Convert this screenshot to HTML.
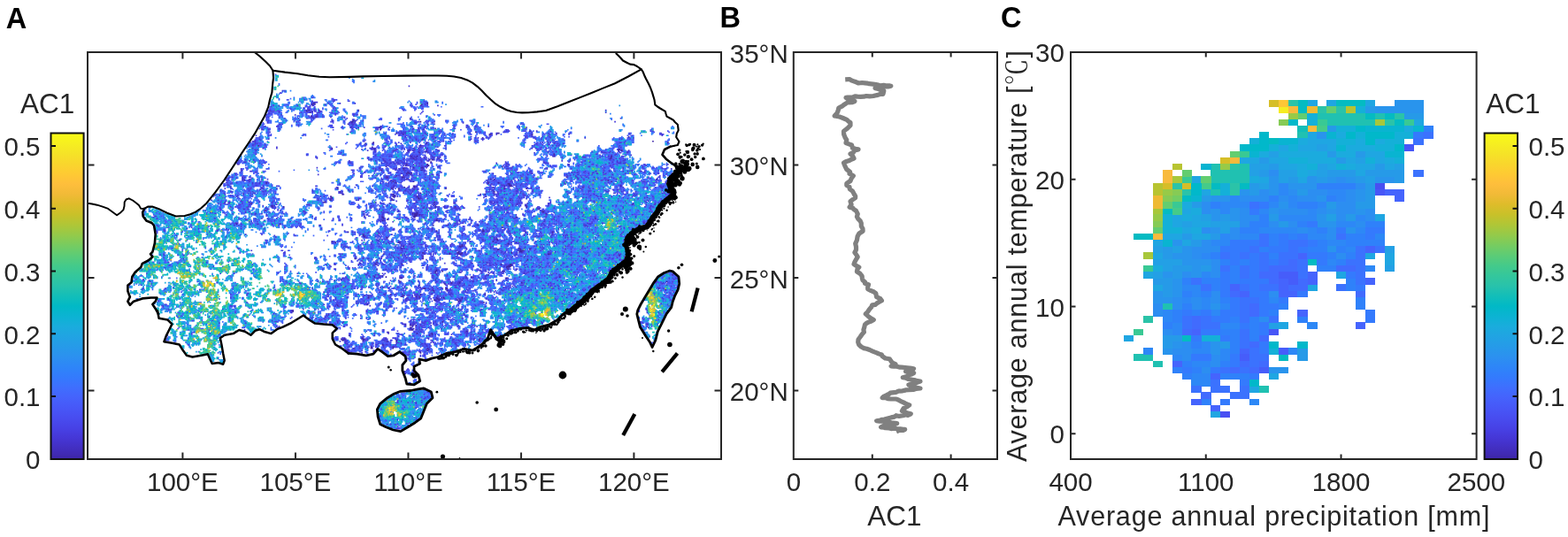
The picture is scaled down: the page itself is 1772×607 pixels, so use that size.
<!DOCTYPE html>
<html lang="en"><head><meta charset="utf-8"><title>AC1 figure</title>
<style>
html,body{margin:0;padding:0;background:#fff;}
body{width:1772px;height:607px;overflow:hidden;}
svg{display:block;font-family:"Liberation Sans", Arial, Helvetica, sans-serif;fill:#262626;}
</style></head>
<body>
<svg width="1772" height="607" viewBox="0 0 1772 607">
<rect width="1772" height="607" fill="#fff"/>
<clipPath id="mc"><rect x="99.0" y="59.0" width="716.0" height="460.0"/></clipPath><g clip-path="url(#mc)"><g transform="translate(99.65 59.65) scale(1.3)" fill="none" stroke-width="1.3" stroke-linecap="square"><path stroke="#2f81fa" d="M227 22h0m11 0h0M230 23h0M230 24h1M248 25h0M231 26h0M166 28h0M170 33h0m6 0h0M169 34h0m3 0h0M166 36h0M195 37h0M194 38h1M189 39h0m5 0h0m3 0h0M184 40h0m2 0h2m2 0h0m2 0h0M166 41h0m18 0h0m5 0h0m17 0h0m86 0h0M184 42h0m9 0h0m14 0h0m2 0h0m3 0h0m77 0h0m5 0h0m9 0h0M160 43h0m14 0h0m20 0h0m16 0h1m20 0h0m59 0h0m13 0h0M174 44h0m17 0h0m20 0h0m6 0h1m72 0h0m18 0h0M159 45h1m10 0h0m11 0h1m2 0h0m23 0h0m3 0h0m2 0h0M159 46h1m3 0h0m6 0h0m11 0h1m25 0h0M160 47h0m6 0h3m7 0h0m37 0h0m59 0h0m17 0h0m4 0h1m2 0h0M159 48h1m2 0h0m11 0h1m2 0h1m2 0h0m6 0h0m29 0h0m3 0h0m55 0h0m17 0h0M160 49h2m4 0h0m13 0h0m8 0h0m13 0h0m14 0h0M167 50h1m9 0h0m7 0h0m29 0h0m3 0h0m7 0h0m11 0h0M177 51h0m8 0h0m2 0h0m28 0h0m8 0h0M214 52h0m10 0h0M167 53h1m32 0h0m3 0h0m10 0h0m241 0h0M158 54h0m8 0h1m18 0h0m2 0h0m2 0h0m13 0h1m7 0h0m27 0h0M168 55h0m16 0h0m7 0h0m12 0h0m2 0h0m6 0h1m9 0h0m16 0h0m3 0h0m65 0h0M167 56h0m11 0h0m4 0h0m2 0h0m2 0h0m4 0h1m11 0h1m15 0h0m3 0h0m18 0h0m55 0h0m170 0h0M166 57h1m2 0h1m8 0h0m3 0h0m36 0h1m23 0h0m55 0h1M157 58h0m11 0h0m4 0h0m6 0h1m2 0h1m2 0h0m33 0h0m2 0h0m52 0h0m11 0h0m6 0h0m36 0h1M159 59h0m6 0h0m6 0h0m46 0h1m19 0h1m32 0h0m28 0h0m3 0h0m11 0h0m13 0h0m10 0h1M158 60h0m5 0h2m4 0h1m2 0h0m20 0h0m39 0h0m7 0h1m43 0h0m16 0h0m14 0h0m6 0h3m13 0h1M166 61h3m14 0h0m40 0h0m14 0h1m39 0h0m5 0h0m4 0h0m6 0h0m25 0h0m2 0h1m16 0h0m25 0h0m17 0h0M185 62h1m5 0h0m42 0h0m5 0h1m38 0h0m3 0h0m4 0h0m9 0h0m3 0h0m2 0h2m18 0h2m13 0h0m15 0h0m117 0h0M184 63h1m47 0h0m4 0h1m2 0h0m33 0h0m2 0h1m4 0h0m2 0h0m6 0h1m3 0h0m4 0h1m4 0h0m17 0h0m27 0h0m4 0h0m46 0h0M177 64h0m55 0h1m24 0h1m14 0h0m2 0h0m8 0h0m6 0h0m43 0h0m44 0h0m2 0h0m89 0h0M150 65h0m4 0h1m56 0h0m21 0h1m40 0h0m3 0h0m12 0h0m2 0h0m9 0h0m40 0h0m35 0h0m134 0h1M153 66h1m68 0h0m13 0h0m42 0h1m3 0h0m9 0h0m5 0h1m5 0h0m3 0h1m12 0h0m24 0h0m34 0h0m3 0h1m23 0h0m89 0h0M167 67h0m97 0h2m10 0h0m4 0h1m4 0h0m15 0h0m3 0h0m2 0h0m10 0h0m2 0h0m13 0h0m6 0h0m5 0h1m38 0h0m23 0h0m14 0h0m45 0h0m2 0h0M250 68h0m14 0h2m2 0h0m5 0h0m8 0h0m2 0h0m19 0h0m6 0h0m24 0h0m6 0h0m62 0h1m89 0h0M151 69h0m4 0h0m74 0h2m26 0h0m11 0h0m9 0h1m5 0h0m2 0h0m9 0h0m7 0h1m2 0h0m36 0h0m2 0h1m48 0h1m3 0h0m4 0h1m3 0h0m88 0h0M150 70h0m56 0h0m24 0h1m9 0h1m18 0h0m21 0h0m6 0h1m16 0h0m5 0h0m7 0h0m15 0h0m8 0h0m5 0h0m37 0h0m3 0h0m12 0h0m6 0h0m79 0h0m10 0h1M156 71h0m53 0h0m41 0h0m5 0h0m2 0h2m18 0h1m12 0h0m2 0h0m5 0h0m4 0h1m3 0h0m7 0h0m2 0h1m3 0h0m95 0h0m77 0h0M150 72h1m5 0h0m30 0h0m55 0h0m13 0h2m2 0h1m13 0h0m7 0h1m7 0h1m4 0h0m11 0h1m6 0h0m4 0h0m69 0h0m13 0h1m9 0h1M150 73h1m5 0h0m84 0h0m17 0h1m2 0h0m21 0h1m4 0h0m2 0h1m2 0h0m2 0h0m4 0h0m6 0h1m5 0h0m2 0h0m7 0h0m14 0h0m51 0h0m9 0h0m16 0h0m24 0h0m41 0h1M149 74h2m12 0h0m22 0h0m73 0h0m21 0h0m10 0h2m2 0h0m14 0h1m3 0h0m81 0h0m3 0h0m5 0h0m4 0h0m5 0h0m54 0h0m2 0h0m7 0h0M150 75h0m129 0h0m9 0h0m11 0h0m6 0h0m26 0h1m61 0h0m2 0h0m4 0h0m3 0h1m3 0h0m3 0h0m2 0h0m2 0h0m45 0h0m3 0h0m2 0h0M149 76h0m58 0h0m57 0h0m11 0h0m4 0h0m2 0h0m18 0h0m2 0h0m6 0h0m83 0h4m5 0h0m4 0h0m8 0h0m2 0h0m13 0h0m36 0h0m5 0h1m2 0h1M150 77h2m122 0h0m5 0h0m3 0h1m2 0h0m14 0h1m2 0h0m9 0h0m2 0h0m26 0h0m51 0h0m2 0h1m2 0h0m5 0h1m2 0h0m2 0h0m4 0h3m14 0h0m40 0h0m6 0h0m2 0h0M144 78h0m8 0h0m85 0h0m49 0h0m6 0h0m8 0h4m7 0h3m63 0h2m31 0h1m2 0h0m52 0h0m2 0h0m35 0h1M140 79h1m7 0h0m6 0h0m88 0h0m15 0h0m5 0h1m15 0h0m7 0h1m13 0h3m3 0h0m7 0h0m25 0h0m40 0h0m33 0h1m55 0h1m2 0h0m3 0h0m31 0h0m2 0h0M155 80h0m80 0h0m21 0h0m22 0h1m3 0h0m23 0h1m70 0h1m15 0h0m11 0h1m2 0h0m6 0h0m47 0h0m3 0h0m2 0h1m3 0h1m35 0h0M141 81h1m13 0h0m82 0h0m3 0h0m29 0h1m2 0h0m8 0h2m14 0h0m3 0h1m3 0h0m2 0h0m72 0h2m14 0h0m2 0h1m6 0h1m9 0h2m41 0h1m3 0h1m5 0h0M139 82h0m3 0h1m3 0h0m4 0h0m2 0h0m101 0h0m12 0h0m4 0h1m7 0h1m17 0h1m2 0h0m88 0h0m9 0h1m9 0h1m6 0h0m31 0h1m15 0h1M138 83h0m6 0h0m2 0h1m7 0h0m107 0h4m2 0h0m5 0h0m25 0h2m104 0h1m40 0h1m8 0h0m12 0h0M143 84h1m2 0h0m95 0h0m21 0h0m3 0h1m20 0h0m4 0h0m8 0h0m2 0h0m84 0h0m22 0h0m40 0h0m9 0h0M141 85h0m2 0h1m4 0h0m72 0h2m17 0h0m21 0h3m22 0h0m18 0h0m94 0h0m5 0h0m3 0h2m3 0h1m32 0h1m2 0h0m2 0h1m4 0h0m2 0h0M140 86h1m2 0h0m4 0h0m72 0h0m2 0h1m31 0h0m9 0h1m3 0h0m35 0h1m93 0h2m4 0h1m4 0h0m2 0h0m3 0h0m32 0h0m7 0h0m3 0h0m2 0h0m2 0h0m8 0h0M206 87h0m12 0h0m4 0h0m30 0h1m7 0h1m2 0h0m7 0h0m2 0h1m17 0h0m14 0h0m86 0h0m6 0h2m5 0h0m3 0h0m4 0h0m27 0h2m3 0h0m12 0h0m3 0h0m9 0h0m5 0h0M139 88h2m2 0h0m79 0h2m29 0h0m4 0h0m2 0h0m8 0h0m4 0h1m37 0h0m85 0h0m4 0h0m3 0h1m6 0h0m4 0h0m25 0h0m11 0h0m4 0h1m2 0h2m10 0h0m4 0h0M137 89h0m4 0h1m82 0h0m27 0h0m2 0h0m25 0h0m22 0h1m3 0h0m94 0h0m9 0h0m3 0h0m4 0h0m24 0h0m3 0h0m19 0h1m7 0h0m2 0h1M133 90h0m9 0h0m69 0h1m41 0h1m6 0h0m5 0h1m6 0h0m3 0h0m27 0h0m109 0h0m2 0h0m11 0h0m8 0h0m2 0h0m3 0h0m6 0h0m3 0h0m2 0h0m11 0h0m2 0h0m10 0h0M142 91h0m2 0h0m2 0h0m114 0h0m5 0h1m5 0h0m2 0h0m2 0h0m35 0h0m85 0h0m16 0h0m2 0h0m9 0h0m11 0h0m5 0h0m4 0h2m2 0h1m2 0h0m9 0h1M132 92h1m3 0h2m8 0h1m105 0h2m9 0h0m6 0h1m2 0h1m122 0h1m4 0h0m19 0h0m4 0h1m2 0h0m5 0h0m3 0h3m5 0h0m15 0h0m10 0h1M131 93h0m5 0h0m2 0h0m7 0h3m2 0h0m69 0h0m30 0h1m4 0h0m14 0h0m3 0h0m22 0h0m97 0h1m4 0h0m30 0h1m2 0h1m2 0h0m4 0h0m2 0h0m2 0h0m3 0h0m5 0h2m9 0h0m2 0h0m8 0h1m11 0h0M136 94h0m10 0h2m2 0h0m96 0h0m2 0h0m3 0h0m17 0h0m24 0h0m20 0h0m115 0h0m7 0h0m3 0h0m3 0h1m7 0h0m2 0h1m6 0h1m3 0h0m3 0h0m3 0h1m2 0h0m9 0h0M138 95h0m13 0h0m99 0h0m5 0h0m6 0h0m22 0h0m4 0h1m103 0h0m8 0h0m27 0h0m9 0h0m2 0h0m2 0h0m12 0h0m3 0h0m4 0h0m8 0h0m12 0h0M140 96h0m8 0h0m2 0h0m64 0h0m51 0h0m17 0h0m143 0h0m8 0h1m4 0h0m10 0h0m6 0h0m4 0h0m10 0h0m35 0h0M137 97h3m8 0h2m64 0h0m13 0h0m24 0h0m4 0h0m26 0h0m22 0h0m78 0h0m18 0h0m27 0h0m2 0h0m2 0h0m7 0h0m4 0h0m6 0h2m4 0h0m8 0h1m3 0h1m10 0h1m2 0h0m7 0h2m12 0h0m7 0h0M139 98h0m2 0h0m8 0h0m2 0h0m76 0h1m16 0h0m9 0h0m3 0h0m25 0h0m77 0h1m17 0h0m19 0h0m4 0h0m2 0h0m10 0h2m17 0h1m6 0h0m4 0h0m2 0h0m6 0h0m14 0h1m2 0h0m7 0h0m3 0h0m2 0h0m8 0h2M141 99h0m7 0h1m2 0h0m93 0h0m2 0h1m3 0h0m14 0h0m3 0h0m19 0h0m71 0h0m2 0h0m11 0h0m2 0h0m4 0h0m38 0h1m5 0h0m2 0h0m2 0h1m7 0h0m2 0h0m4 0h0m3 0h0m4 0h0m13 0h0m6 0h2m3 0h0m3 0h0m2 0h2m5 0h0m3 0h0m2 0h1m2 0h0m7 0h1M141 100h0m3 0h1m2 0h0m10 0h0m81 0h0m27 0h0m21 0h0m19 0h0m47 0h0m5 0h0m3 0h0m3 0h0m8 0h1m23 0h0m3 0h0m13 0h1m7 0h2m2 0h0m2 0h1m9 0h1m6 0h2m3 0h0m6 0h0m5 0h0m2 0h0m7 0h0m3 0h0m6 0h0m4 0h1m3 0h0m13 0h0M145 101h1m59 0h0m81 0h2m82 0h0m35 0h0m14 0h0m2 0h2m4 0h0m5 0h0m13 0h1m3 0h0m2 0h2m5 0h0m8 0h0m7 0h0m2 0h0m5 0h0m15 0h0M145 102h0m91 0h0m10 0h0m3 0h0m39 0h0m10 0h1m2 0h0m46 0h0m17 0h2m60 0h2m3 0h0m3 0h0m9 0h0m3 0h1m3 0h1m7 0h2m5 0h4m5 0h0m17 0h0m4 0h0m12 0h0M144 103h0m93 0h0m6 0h3m11 0h0m3 0h0m29 0h0m75 0h2m13 0h0m17 0h0m2 0h0m24 0h0m6 0h1m15 0h0m3 0h0m3 0h0m10 0h3m7 0h0m8 0h0m8 0h0m6 0h0m3 0h0m3 0h0m4 0h1m3 0h2M147 104h0m5 0h1m85 0h0m5 0h0m3 0h0m15 0h0m12 0h0m16 0h0m10 0h0m4 0h2m63 0h0m8 0h0m3 0h0m12 0h0m27 0h0m6 0h0m3 0h0m2 0h0m9 0h0m4 0h1m16 0h0m5 0h1m2 0h0m2 0h1m2 0h0m3 0h0m5 0h1m6 0h0m5 0h0M127 105h0m21 0h0m89 0h1m14 0h0m3 0h0m13 0h0m15 0h1m4 0h1m2 0h0m2 0h0m4 0h2m4 0h0m7 0h1m53 0h0m7 0h1m4 0h0m3 0h1m13 0h0m8 0h1m12 0h0m2 0h0m4 0h4m2 0h0m3 0h0m2 0h0m3 0h0m5 0h0m8 0h0m4 0h0m8 0h0m2 0h0m2 0h0m3 0h0m2 0h0m2 0h0m3 0h0m6 0h2m4 0h0m16 0h0M132 106h1m115 0h0m17 0h0m2 0h0m43 0h0m40 0h0m20 0h0m4 0h1m2 0h0m2 0h1m4 0h1m32 0h0m3 0h0m8 0h0m5 0h1m8 0h0m9 0h1m12 0h0m2 0h0m8 0h0m8 0h0m2 0h0m2 0h0m7 0h0m8 0h0M122 107h1m2 0h0m11 0h0m2 0h0m3 0h0m6 0h0m4 0h0m97 0h0m6 0h0m4 0h0m6 0h0m26 0h0m4 0h0m55 0h1m3 0h0m16 0h0m3 0h1m9 0h3m2 0h0m6 0h0m7 0h0m25 0h0m2 0h0m10 0h1m2 0h1m2 0h0m2 0h0m2 0h0m3 0h1m6 0h0m3 0h0m3 0h0m3 0h0m8 0h1m5 0h0m2 0h0M122 108h0m7 0h1m17 0h0m2 0h0m4 0h0m74 0h0m21 0h2m7 0h0m7 0h0m14 0h0m7 0h0m4 0h1m6 0h0m52 0h0m2 0h0m16 0h1m3 0h0m3 0h1m5 0h0m3 0h1m2 0h1m7 0h0m7 0h0m2 0h0m16 0h2m12 0h0m3 0h0m3 0h0m5 0h1m2 0h0m2 0h1m3 0h0m4 0h1m3 0h0m7 0h0m2 0h0m6 0h1m4 0h1m2 0h0m18 0h1M125 109h0m5 0h0m19 0h0m80 0h0m37 0h0m2 0h0m15 0h0m5 0h0m11 0h0m50 0h0m6 0h4m7 0h0m10 0h0m7 0h0m3 0h0m2 0h1m3 0h0m26 0h1m10 0h0m2 0h3m10 0h0m2 0h1m6 0h0m6 0h0m7 0h0m4 0h0m3 0h0m6 0h0m3 0h0m8 0h1M121 110h0m5 0h0m2 0h0m89 0h1m7 0h0m2 0h1m23 0h2m4 0h1m8 0h0m4 0h0m4 0h0m10 0h0m2 0h2m11 0h0m4 0h0m52 0h0m2 0h0m2 0h1m2 0h1m5 0h0m6 0h0m9 0h0m4 0h1m26 0h0m4 0h3m4 0h0m2 0h0m2 0h1m6 0h1m2 0h0m6 0h0m2 0h0m6 0h0m2 0h1m8 0h0m2 0h1m2 0h1m5 0h0m7 0h0m6 0h0m2 0h1M123 111h0m25 0h0m69 0h1m7 0h0m26 0h0m3 0h0m6 0h0m9 0h0m14 0h0m2 0h0m2 0h0m8 0h1m5 0h0m2 0h0m45 0h2m8 0h4m4 0h1m9 0h0m2 0h0m6 0h1m2 0h0m28 0h0m10 0h1m3 0h1m2 0h0m6 0h0m2 0h0m4 0h1m3 0h1m10 0h0m2 0h0m24 0h0m4 0h1m2 0h0m5 0h0M126 112h0m3 0h2m11 0h0m75 0h1m33 0h0m19 0h1m16 0h1m3 0h0m3 0h1m3 0h0m4 0h1m58 0h0m12 0h0m3 0h2m2 0h0m4 0h1m5 0h0m22 0h0m16 0h1m8 0h0m4 0h0m2 0h0m28 0h0m14 0h0m4 0h1m7 0h1M123 113h0m4 0h1m4 0h0m2 0h0m3 0h0m4 0h1m2 0h0m74 0h1m31 0h0m13 0h0m25 0h1m4 0h0m2 0h0m3 0h1m2 0h0m49 0h0m11 0h0m10 0h0m2 0h1m2 0h0m7 0h0m6 0h1m27 0h2m3 0h0m7 0h0m9 0h0m7 0h0m2 0h0m4 0h0m12 0h0m2 0h1m5 0h0m2 0h0m8 0h0m5 0h0m2 0h0m8 0h1M121 114h0m8 0h0m2 0h1m2 0h0m2 0h5m3 0h0m6 0h0m2 0h0m7 0h0m90 0h0m9 0h2m7 0h0m21 0h0m4 0h1m4 0h3m2 0h0m2 0h0m64 0h0m7 0h0m36 0h0m2 0h0m4 0h0m2 0h0m5 0h0m7 0h1m5 0h1m5 0h1m6 0h1m2 0h0m9 0h0m2 0h0m10 0h1m5 0h0m6 0h0m2 0h1m10 0h1M123 115h0m7 0h4m2 0h0m15 0h0m3 0h1m2 0h2m60 0h0m15 0h0m16 0h0m6 0h0m4 0h0m2 0h0m7 0h1m18 0h1m3 0h0m2 0h1m5 0h0m2 0h0m2 0h1m60 0h0m10 0h0m3 0h0m8 0h0m31 0h0m15 0h1m6 0h1m4 0h2m3 0h1m7 0h0m2 0h0m17 0h1m5 0h0m9 0h1m7 0h0M132 116h0m7 0h0m3 0h0m8 0h0m3 0h0m2 0h0m80 0h0m13 0h0m2 0h1m2 0h0m6 0h0m11 0h0m20 0h0m6 0h0m5 0h0m76 0h0m8 0h0m2 0h0m3 0h1m20 0h0m7 0h0m14 0h0m4 0h0m3 0h1m5 0h1m2 0h0m2 0h0m2 0h0m8 0h0m12 0h0m3 0h2m4 0h0m2 0h0m4 0h0m2 0h2M122 117h0m16 0h1m85 0h0m27 0h0m3 0h0m7 0h0m30 0h0m4 0h0m8 0h0m43 0h0m27 0h0m2 0h0m3 0h1m40 0h0m13 0h1m4 0h0m2 0h0m4 0h0m3 0h0m16 0h0m13 0h0m5 0h0m8 0h0m7 0h0m6 0h1M134 118h0m21 0h0m4 0h0m40 0h0m27 0h1m8 0h0m8 0h2m5 0h0m2 0h0m2 0h1m5 0h2m31 0h1m3 0h0m2 0h0m3 0h2m6 0h0m45 0h0m16 0h0m16 0h0m33 0h0m4 0h0m2 0h0m6 0h3m3 0h0m3 0h0m6 0h0m12 0h0m10 0h0m8 0h0m3 0h1m7 0h0m10 0h0m2 0h0m2 0h3M126 119h0m3 0h0m2 0h0m3 0h0m2 0h0m8 0h0m3 0h0m8 0h0m3 0h0m4 0h2m35 0h1m29 0h0m15 0h1m8 0h0m2 0h0m19 0h1m17 0h0m2 0h0m6 0h1m45 0h1m9 0h0m7 0h0m7 0h0m21 0h1m28 0h2m2 0h0m2 0h0m7 0h0m2 0h0m9 0h0m2 0h0m3 0h0m13 0h0m5 0h0m15 0h1m3 0h1m7 0h0m2 0h0m3 0h1m2 0h0m3 0h0M116 120h0m2 0h0m4 0h0m6 0h0m2 0h0m2 0h0m2 0h0m4 0h0m3 0h1m2 0h2m3 0h0m8 0h0m2 0h0m37 0h2m2 0h0m2 0h0m27 0h1m15 0h0m3 0h0m4 0h0m4 0h0m6 0h0m31 0h0m7 0h2m54 0h0m8 0h0m2 0h1m3 0h0m5 0h1m13 0h0m2 0h1m39 0h0m3 0h0m4 0h1m3 0h0m10 0h0m9 0h0m7 0h1m3 0h1m8 0h1m4 0h0m5 0h0m2 0h3m2 0h0m5 0h0M115 121h0m2 0h0m9 0h0m2 0h1m2 0h2m9 0h0m6 0h0m10 0h0m3 0h0m36 0h0m5 0h0m26 0h0m22 0h0m3 0h1m23 0h0m7 0h1m6 0h1m3 0h0m3 0h0m4 0h0m48 0h1m13 0h0m2 0h2m11 0h0m9 0h0m30 0h0m8 0h0m3 0h0m4 0h1m2 0h0m2 0h0m7 0h0m2 0h1m14 0h1m9 0h0m5 0h0m15 0h1m9 0h2m2 0h0M115 122h0m8 0h0m11 0h0m4 0h0m5 0h0m4 0h1m4 0h0m4 0h0m5 0h0m35 0h0m7 0h0m38 0h0m5 0h1m2 0h0m9 0h1m19 0h0m5 0h2m9 0h2m6 0h0m66 0h1m6 0h0m16 0h0m25 0h1m8 0h0m6 0h0m2 0h0m8 0h1m2 0h0m2 0h1m17 0h0m15 0h0m3 0h0m4 0h0m3 0h0m5 0h1m8 0h0M114 123h1m14 0h1m3 0h0m3 0h1m2 0h1m5 0h1m4 0h0m13 0h1m38 0h0m2 0h0m49 0h0m17 0h0m5 0h2m2 0h0m16 0h0m5 0h0m43 0h0m3 0h2m2 0h1m9 0h1m2 0h0m3 0h0m2 0h0m5 0h0m2 0h1m5 0h0m4 0h0m4 0h0m34 0h0m2 0h0m2 0h0m2 0h0m3 0h0m4 0h0m7 0h0m20 0h0m10 0h0m5 0h0m3 0h0m3 0h1m4 0h4m2 0h0m4 0h0m2 0h0M112 124h0m7 0h0m3 0h0m4 0h0m3 0h0m7 0h1m3 0h0m59 0h1m2 0h0m2 0h0m48 0h2m3 0h0m21 0h3m9 0h0m6 0h0m4 0h0m46 0h0m2 0h0m2 0h2m8 0h0m3 0h1m4 0h0m13 0h1m2 0h0m4 0h1m36 0h0m2 0h0m2 0h1m2 0h0m6 0h2m5 0h0m2 0h0m13 0h0m2 0h0m2 0h0m16 0h2m2 0h0m5 0h0m2 0h1m7 0h0M112 125h0m8 0h0m10 0h0m5 0h0m2 0h0m2 0h1m11 0h0m2 0h0m5 0h0m2 0h0m2 0h0m36 0h0m5 0h1m49 0h0m2 0h2m25 0h0m8 0h0m2 0h0m3 0h0m64 0h0m7 0h2m3 0h0m2 0h0m4 0h0m12 0h0m27 0h0m7 0h0m2 0h0m2 0h0m6 0h1m4 0h2m2 0h0m19 0h0m6 0h0m8 0h0m5 0h1m7 0h0m2 0h0m5 0h0m4 0h0m4 0h0M118 126h0m5 0h0m2 0h1m9 0h0m4 0h0m8 0h0m4 0h0m7 0h1m4 0h0m33 0h0m8 0h0m3 0h0m26 0h0m18 0h0m2 0h0m2 0h0m2 0h0m21 0h1m4 0h0m15 0h0m3 0h0m23 0h0m26 0h0m13 0h0m8 0h2m10 0h0m4 0h0m27 0h1m9 0h1m14 0h0m3 0h1m4 0h0m6 0h0m10 0h0m3 0h2m3 0h2m5 0h1m6 0h0m2 0h1m8 0h0m2 0h0m2 0h1M112 127h2m5 0h0m10 0h0m8 0h0m9 0h1m13 0h0m27 0h0m14 0h0m2 0h0m3 0h0m47 0h3m21 0h0m15 0h0m4 0h1m4 0h0m9 0h0m10 0h0m18 0h0m13 0h0m74 0h0m8 0h2m5 0h0m2 0h1m20 0h0m2 0h0m3 0h0m2 0h0m7 0h0m2 0h0m4 0h0m7 0h0m9 0h0M111 128h0m6 0h1m2 0h0m15 0h0m4 0h0m5 0h1m14 0h1m5 0h0m40 0h0m45 0h0m6 0h1m22 0h0m13 0h0m5 0h0m4 0h0m9 0h0m9 0h1m26 0h1m2 0h1m2 0h0m9 0h1m9 0h0m31 0h0m7 0h0m21 0h0m5 0h1m2 0h1m5 0h1m14 0h0m2 0h0m3 0h1m4 0h0m8 0h1m2 0h0m5 0h0m8 0h0m5 0h0M108 129h0m3 0h4m2 0h1m8 0h0m6 0h0m4 0h1m7 0h0m3 0h0m2 0h0m10 0h1m4 0h0m24 0h0m8 0h5m10 0h0m16 0h1m11 0h1m9 0h0m14 0h0m18 0h0m5 0h2m4 0h0m5 0h0m6 0h0m8 0h0m8 0h0m27 0h1m11 0h0m2 0h0m5 0h1m47 0h0m15 0h0m4 0h0m5 0h0m7 0h0m8 0h2m4 0h1m11 0h0m7 0h0m6 0h0m2 0h0m4 0h0m2 0h1M113 130h0m3 0h0m8 0h0m2 0h0m6 0h0m4 0h1m2 0h0m5 0h0m3 0h0m12 0h0m6 0h0m26 0h0m9 0h0m2 0h0m45 0h1m33 0h0m6 0h0m3 0h0m3 0h1m52 0h0m11 0h0m7 0h2m4 0h0m2 0h0m11 0h1m24 0h2m2 0h0m15 0h0m4 0h0m3 0h0m7 0h0m5 0h0m14 0h0m2 0h1m3 0h0m2 0h0m4 0h0m9 0h1m11 0h0M105 131h1m8 0h0m17 0h0m6 0h2m7 0h0m2 0h0m45 0h0m2 0h0m2 0h0m2 0h0m50 0h0m31 0h0m2 0h0m3 0h1m8 0h0m50 0h2m3 0h0m8 0h2m5 0h0m19 0h1m26 0h0m6 0h0m6 0h2m7 0h0m2 0h0m9 0h0m5 0h0m11 0h0m2 0h0m3 0h0m22 0h0m4 0h1m2 0h0m2 0h0M105 132h3m5 0h0m5 0h0m4 0h3m12 0h0m22 0h0m8 0h0m37 0h0m59 0h1m17 0h0m4 0h2m3 0h0m2 0h1m50 0h2m9 0h0m7 0h1m4 0h0m17 0h1m18 0h0m16 0h1m2 0h1m8 0h1m2 0h0m9 0h0m6 0h0m9 0h1m2 0h0m4 0h0m5 0h0m12 0h0m7 0h2M105 133h0m2 0h0m3 0h0m2 0h1m4 0h1m6 0h0m5 0h0m4 0h0m3 0h1m29 0h0m2 0h0m20 0h0m2 0h0m3 0h1m5 0h0m4 0h0m7 0h0m26 0h0m18 0h0m7 0h1m4 0h1m13 0h0m8 0h0m3 0h2m2 0h0m56 0h1m12 0h1m2 0h1m2 0h0m13 0h1m18 0h0m3 0h1m10 0h2m3 0h0m3 0h0m3 0h0m5 0h0m9 0h0m8 0h2m6 0h0m3 0h0m2 0h0m3 0h0m5 0h1m2 0h1m17 0h1M107 134h3m2 0h1m4 0h0m5 0h1m2 0h0m9 0h0m2 0h0m16 0h0m5 0h0m12 0h0m18 0h1m10 0h2m37 0h0m5 0h0m6 0h0m6 0h1m4 0h3m3 0h0m3 0h0m21 0h0m12 0h0m49 0h1m4 0h0m2 0h0m3 0h0m5 0h0m3 0h1m2 0h0m2 0h1m9 0h1m17 0h0m7 0h0m6 0h0m3 0h1m4 0h0m9 0h0m2 0h0m13 0h2m7 0h0m2 0h0m4 0h0m2 0h1m8 0h2m12 0h2m5 0h0M53 135h0m56 0h0m2 0h1m5 0h0m5 0h0m2 0h1m31 0h0m33 0h0m67 0h0m4 0h2m3 0h0m24 0h0m58 0h0m4 0h0m17 0h0m2 0h1m12 0h0m17 0h0m2 0h0m4 0h1m2 0h0m4 0h0m2 0h0m2 0h2m3 0h0m12 0h0m2 0h0m24 0h2m6 0h0m5 0h0m12 0h2m3 0h1M50 136h0m61 0h1m2 0h0m9 0h0m2 0h1m5 0h1m5 0h0m3 0h0m6 0h2m6 0h0m16 0h0m15 0h0m5 0h0m59 0h0m5 0h0m2 0h0m4 0h0m3 0h0m23 0h0m5 0h0m2 0h0m55 0h0m3 0h0m15 0h2m2 0h1m11 0h0m17 0h0m3 0h3m2 0h0m9 0h0m3 0h1m2 0h0m3 0h0m3 0h0m3 0h1m3 0h0m7 0h0m7 0h0m5 0h0m8 0h3m2 0h0m4 0h2m10 0h0m4 0h0m4 0h0M53 137h0m59 0h0m2 0h0m3 0h0m7 0h0m9 0h3m6 0h0m100 0h0m3 0h0m6 0h1m9 0h1m17 0h0m14 0h0m9 0h0m3 0h2m7 0h0m2 0h0m23 0h0m7 0h0m4 0h0m3 0h0m14 0h0m6 0h0m10 0h0m4 0h0m2 0h0m12 0h2m13 0h0m4 0h0m3 0h2m3 0h0m7 0h0m8 0h0m5 0h1m10 0h1m3 0h1m5 0h0m3 0h1m4 0h0m2 0h0m12 0h0M62 138h0m40 0h0m2 0h0m9 0h0m4 0h1m7 0h1m8 0h0m5 0h0m6 0h0m2 0h0m4 0h0m3 0h0m2 0h0m28 0h0m26 0h1m41 0h1m10 0h0m3 0h0m13 0h1m11 0h0m3 0h0m9 0h3m2 0h0m6 0h0m2 0h0m37 0h0m2 0h1m2 0h1m2 0h0m8 0h0m34 0h2m6 0h1m7 0h0m2 0h0m2 0h0m3 0h0m9 0h0m4 0h0m9 0h1m2 0h0m7 0h1m3 0h0m3 0h1m5 0h2m4 0h1m6 0h0M49 139h1m6 0h0m4 0h0m34 0h1m27 0h0m3 0h0m8 0h0m11 0h0m2 0h0m2 0h0m5 0h0m2 0h1m4 0h1m25 0h1m51 0h0m16 0h0m8 0h1m18 0h0m9 0h1m9 0h0m7 0h0m2 0h0m5 0h1m2 0h0m2 0h0m33 0h0m4 0h0m4 0h1m8 0h0m12 0h0m2 0h0m24 0h1m2 0h1m2 0h1m7 0h0m2 0h3m22 0h0m11 0h1m4 0h1m5 0h0m2 0h2m2 0h0m3 0h0m4 0h0m2 0h0M57 140h0m2 0h0m35 0h0m12 0h0m3 0h0m12 0h0m4 0h0m6 0h0m2 0h0m3 0h0m8 0h0m11 0h0m2 0h0m6 0h2m3 0h1m3 0h0m14 0h1m15 0h0m36 0h0m14 0h0m2 0h1m16 0h0m20 0h0m3 0h0m3 0h0m3 0h0m3 0h0m3 0h0m12 0h1m35 0h0m3 0h0m3 0h1m3 0h1m3 0h0m12 0h0m2 0h1m2 0h0m8 0h0m15 0h3m5 0h0m2 0h0m3 0h1m7 0h0m8 0h1m20 0h1m2 0h0m2 0h1m4 0h0m2 0h0m2 0h2m3 0h0m3 0h0m3 0h0m2 0h0M58 141h0m3 0h0m2 0h1m28 0h0m29 0h0m19 0h0m2 0h2m4 0h0m10 0h0m3 0h0m3 0h0m7 0h2m11 0h0m4 0h0m5 0h0m36 0h0m41 0h0m4 0h0m6 0h0m12 0h0m3 0h0m5 0h0m2 0h0m7 0h0m2 0h0m4 0h0m2 0h0m36 0h1m4 0h0m4 0h0m2 0h1m5 0h0m10 0h0m3 0h1m7 0h2m2 0h0m13 0h1m11 0h0m6 0h0m4 0h0m8 0h1m2 0h0m5 0h0m6 0h0m6 0h0m5 0h0m2 0h0m3 0h0m2 0h2m9 0h0m5 0h0m3 0h0M63 142h0m28 0h0m23 0h0m5 0h2m16 0h0m12 0h3m5 0h0m3 0h0m3 0h0m20 0h0m62 0h0m46 0h1m6 0h0m2 0h3m43 0h0m6 0h0m13 0h0m6 0h0m9 0h0m3 0h1m5 0h0m6 0h0m5 0h0m3 0h0m4 0h0m6 0h0m8 0h2m2 0h0m4 0h0m14 0h0m8 0h0m2 0h0m2 0h1m6 0h0m3 0h0m4 0h0m4 0h0m2 0h0m6 0h1m5 0h0M62 143h1m2 0h0m92 0h0m2 0h0m2 0h0m7 0h0m9 0h1m14 0h0m3 0h0m53 0h0m20 0h2m2 0h0m17 0h0m12 0h0m14 0h0m2 0h0m35 0h0m10 0h3m5 0h1m17 0h0m7 0h0m4 0h0m19 0h0m4 0h1m3 0h0m9 0h1m7 0h0m11 0h0m15 0h0m5 0h0m13 0h1M59 144h0m2 0h0m3 0h0m9 0h0m12 0h0m47 0h0m2 0h0m2 0h0m3 0h0m5 0h0m2 0h0m13 0h0m9 0h0m8 0h0m14 0h0m5 0h0m58 0h0m21 0h0m14 0h1m3 0h2m3 0h0m3 0h0m6 0h0m15 0h1m27 0h0m3 0h0m7 0h0m5 0h1m2 0h2m6 0h0m4 0h1m4 0h0m4 0h0m12 0h1m6 0h0m4 0h0m3 0h0m5 0h0m2 0h0m2 0h0m11 0h0m9 0h0m17 0h0m8 0h2m17 0h0M61 145h1m6 0h0m2 0h0m55 0h0m4 0h0m3 0h0m3 0h1m3 0h0m23 0h4m15 0h1m2 0h1m2 0h2m81 0h0m9 0h0m3 0h0m7 0h0m9 0h0m9 0h0m3 0h1m5 0h1m4 0h0m30 0h1m2 0h0m5 0h0m4 0h1m4 0h0m6 0h0m12 0h1m13 0h2m4 0h0m6 0h0m2 0h0m5 0h0m4 0h0m3 0h0m6 0h2m8 0h0m25 0h0m15 0h1M66 146h0m2 0h0m3 0h1m34 0h1m18 0h0m3 0h0m2 0h0m11 0h0m6 0h0m13 0h0m3 0h0m6 0h1m7 0h0m2 0h1m5 0h0m5 0h0m23 0h0m60 0h1m2 0h0m11 0h0m7 0h0m15 0h0m4 0h0m5 0h1m6 0h0m18 0h2m7 0h0m3 0h0m3 0h0m4 0h0m6 0h0m6 0h0m2 0h0m18 0h0m4 0h0m2 0h0m2 0h1m2 0h0m6 0h3m4 0h0m2 0h0m2 0h0m3 0h1m11 0h0m4 0h0m2 0h0m20 0h0m8 0h0m4 0h0m3 0h0m4 0h0M69 147h0m21 0h0m17 0h1m20 0h0m2 0h0m16 0h0m11 0h1m7 0h1m3 0h0m14 0h1m7 0h0m3 0h0m45 0h1m7 0h0m24 0h0m11 0h0m8 0h0m4 0h0m2 0h0m2 0h0m27 0h0m5 0h0m3 0h0m15 0h1m3 0h0m6 0h0m4 0h0m2 0h1m5 0h0m8 0h0m2 0h0m7 0h0m5 0h0m7 0h0m3 0h0m4 0h1m4 0h0m2 0h2m6 0h0m6 0h0m3 0h0m3 0h0m9 0h0m5 0h0m13 0h0m2 0h0m11 0h0m3 0h1m2 0h0M64 148h0m5 0h1m18 0h0m30 0h0m3 0h0m2 0h0m18 0h1m5 0h0m3 0h0m14 0h1m2 0h0m8 0h0m3 0h0m2 0h1m3 0h0m8 0h1m47 0h0m54 0h2m2 0h1m19 0h0m10 0h0m8 0h0m8 0h0m7 0h0m2 0h0m20 0h0m5 0h1m2 0h0m11 0h0m2 0h0m4 0h0m2 0h0m5 0h0m2 0h1m6 0h1m13 0h0m3 0h0m2 0h0m6 0h0m2 0h0m2 0h0m2 0h0m28 0h0m6 0h1M59 149h0m4 0h0m7 0h0m18 0h0m32 0h0m3 0h0m2 0h1m9 0h0m5 0h0m2 0h0m4 0h0m5 0h0m8 0h0m2 0h0m2 0h0m2 0h0m8 0h0m3 0h0m4 0h0m35 0h0m31 0h2m3 0h0m19 0h1m23 0h0m20 0h0m3 0h0m25 0h2m5 0h0m6 0h0m7 0h0m2 0h0m13 0h0m3 0h0m17 0h0m2 0h1m6 0h0m6 0h0m4 0h1m5 0h0m12 0h0m4 0h0m2 0h0m34 0h0m6 0h0m3 0h0M61 150h1m66 0h0m4 0h3m6 0h1m4 0h1m3 0h0m2 0h0m10 0h0m3 0h0m5 0h2m2 0h1m5 0h0m2 0h0m88 0h0m11 0h0m11 0h0m5 0h0m2 0h0m11 0h0m6 0h1m3 0h0m11 0h0m9 0h1m2 0h0m2 0h0m9 0h0m8 0h0m14 0h0m3 0h3m14 0h0m11 0h1m3 0h0m3 0h0m4 0h1m3 0h0m3 0h0m5 0h0m6 0h0m4 0h0m29 0h1M59 151h0m20 0h0m5 0h0m42 0h2m2 0h2m2 0h0m10 0h0m4 0h0m15 0h1m8 0h1m28 0h1m45 0h0m7 0h0m20 0h0m3 0h0m2 0h2m11 0h0m18 0h0m3 0h1m6 0h0m20 0h0m7 0h1m2 0h0m2 0h0m6 0h0m2 0h0m2 0h0m2 0h0m4 0h0m4 0h0m9 0h1m12 0h0m5 0h0m4 0h1m5 0h1m7 0h0m2 0h0m5 0h0m7 0h0m7 0h1m22 0h0m3 0h0m11 0h0M61 152h1m4 0h0m2 0h0m17 0h0m8 0h0m11 0h0m29 0h0m14 0h4m15 0h0m8 0h2m12 0h0m41 0h0m11 0h1m15 0h1m7 0h0m9 0h0m3 0h2m3 0h0m8 0h2m3 0h0m6 0h0m23 0h0m17 0h0m4 0h0m2 0h0m6 0h0m4 0h0m9 0h1m2 0h4m8 0h0m15 0h0m3 0h0m3 0h2m10 0h2m13 0h0m2 0h0m2 0h0m7 0h0m22 0h1m3 0h0M63 153h0m2 0h0m2 0h0m30 0h0m10 0h0m11 0h0m4 0h0m10 0h0m2 0h0m2 0h0m12 0h2m20 0h0m21 0h0m22 0h0m23 0h1m2 0h0m2 0h0m12 0h0m9 0h0m2 0h0m8 0h0m7 0h0m2 0h1m2 0h0m5 0h0m4 0h0m8 0h0m22 0h0m3 0h0m20 0h0m11 0h0m9 0h0m2 0h0m3 0h1m3 0h1m6 0h0m6 0h0m7 0h0m2 0h0m2 0h0m5 0h0m2 0h0m26 0h0m2 0h0m2 0h0m3 0h1m21 0h0m4 0h0m2 0h0m5 0h0M60 154h1m2 0h2m2 0h0m29 0h0m21 0h0m2 0h0m8 0h0m2 0h2m11 0h1m11 0h0m58 0h1m21 0h0m4 0h2m2 0h2m10 0h0m3 0h0m6 0h0m9 0h0m10 0h1m8 0h1m5 0h0m19 0h0m7 0h0m2 0h0m12 0h0m18 0h0m2 0h0m9 0h0m2 0h1m2 0h0m15 0h0m5 0h0m2 0h1m2 0h1m2 0h1m9 0h0m4 0h0m2 0h0m3 0h1m11 0h1m3 0h1m2 0h0m2 0h1m30 0h0m3 0h0M86 155h0m2 0h0m2 0h0m3 0h0m2 0h0m2 0h0m2 0h0m36 0h0m18 0h0m36 0h0m47 0h2m2 0h1m2 0h0m2 0h0m8 0h0m2 0h0m5 0h0m17 0h1m8 0h0m5 0h0m2 0h1m2 0h0m49 0h0m7 0h0m2 0h1m13 0h0m2 0h0m3 0h0m3 0h0m10 0h0m7 0h1m2 0h1m3 0h1m6 0h1m6 0h0m4 0h0m6 0h0m6 0h0m10 0h2m8 0h0m5 0h1m7 0h0M67 156h0m15 0h0m5 0h0m10 0h1m5 0h0m3 0h0m12 0h0m4 0h1m23 0h0m7 0h0m36 0h0m18 0h0m16 0h0m14 0h0m4 0h1m3 0h0m5 0h0m9 0h0m12 0h0m10 0h0m2 0h0m6 0h0m5 0h0m2 0h0m18 0h0m38 0h1m6 0h0m5 0h0m2 0h0m3 0h0m17 0h1m9 0h0m3 0h0m20 0h0m5 0h2m6 0h1m2 0h3m4 0h1m6 0h0m7 0h0m12 0h0M67 157h2m62 0h0m41 0h1m56 0h1m5 0h0m9 0h0m11 0h0m4 0h0m8 0h0m5 0h0m8 0h0m9 0h0m2 0h1m2 0h0m4 0h1m15 0h0m28 0h0m5 0h0m5 0h0m5 0h1m3 0h0m34 0h2m2 0h0m7 0h0m3 0h0m4 0h0m8 0h0m9 0h0m2 0h1m12 0h0m6 0h1m2 0h0m2 0h0m13 0h1M75 158h2m31 0h0m10 0h0m3 0h0m11 0h0m38 0h0m3 0h0m58 0h0m12 0h1m15 0h1m2 0h0m7 0h1m15 0h0m7 0h0m5 0h0m2 0h0m36 0h0m2 0h0m8 0h0m6 0h2m8 0h0m23 0h0m4 0h0m2 0h0m8 0h0m10 0h2m2 0h0m12 0h0m17 0h0m2 0h1m4 0h0m5 0h1m4 0h0M75 159h1m31 0h0m2 0h0m11 0h0m62 0h0m38 0h0m10 0h0m18 0h1m10 0h1m2 0h0m6 0h0m2 0h0m11 0h1m4 0h1m9 0h0m26 0h0m2 0h0m11 0h0m6 0h0m3 0h1m5 0h1m2 0h0m7 0h0m6 0h0m2 0h0m18 0h0m3 0h0m19 0h0m6 0h0m5 0h2m2 0h2m17 0h1m19 0h0m4 0h0M88 160h2m16 0h0m31 0h0m24 0h0m3 0h0m79 0h0m14 0h0m11 0h0m17 0h0m2 0h0m3 0h1m6 0h1m15 0h0m12 0h0m6 0h0m10 0h0m2 0h1m2 0h0m16 0h0m2 0h0m10 0h0m2 0h0m6 0h0m11 0h0m10 0h0m3 0h0m2 0h0m5 0h0m3 0h0m12 0h0m3 0h0m5 0h1m25 0h0m2 0h0m2 0h0M63 161h0m22 0h0m16 0h1m3 0h0m5 0h0m10 0h0m42 0h0m72 0h0m15 0h0m16 0h1m2 0h1m14 0h1m2 0h0m8 0h1m2 0h0m29 0h1m3 0h0m15 0h1m15 0h0m2 0h0m9 0h2m2 0h0m6 0h0m3 0h0m6 0h1m3 0h0m10 0h0m2 0h0m4 0h0m2 0h0m11 0h4m2 0h1m3 0h0m2 0h0m7 0h0m10 0h0m13 0h0M88 162h0m29 0h0m2 0h0m39 0h1m5 0h1m6 0h0m61 0h0m8 0h0m28 0h0m7 0h0m6 0h0m3 0h0m7 0h0m10 0h0m18 0h0m6 0h0m20 0h0m4 0h0m2 0h0m14 0h0m2 0h0m4 0h1m3 0h0m8 0h0m2 0h0m19 0h0m4 0h0m5 0h0m3 0h0m3 0h0m3 0h0m2 0h1m6 0h1m3 0h0m6 0h0m14 0h0M80 163h0m76 0h0m3 0h0m4 0h0m2 0h1m5 0h0m46 0h2m2 0h0m12 0h0m11 0h0m4 0h0m8 0h0m13 0h1m3 0h0m8 0h1m2 0h1m55 0h0m7 0h3m13 0h1m4 0h0m3 0h0m3 0h0m2 0h1m6 0h0m8 0h0m17 0h0m2 0h0m7 0h1m16 0h1m17 0h0M115 164h0m8 0h1m34 0h0m4 0h0m54 0h0m6 0h1m11 0h0m9 0h0m6 0h0m5 0h1m7 0h0m7 0h0m5 0h0m11 0h0m3 0h0m10 0h0m10 0h0m3 0h0m31 0h0m4 0h1m3 0h0m11 0h4m2 0h0m2 0h0m12 0h0m17 0h1m2 0h0m2 0h0m5 0h0m3 0h0m6 0h0m14 0h0m18 0h0m4 0h0m12 0h0M156 165h1m22 0h0m44 0h1m10 0h0m5 0h0m4 0h0m16 0h0m22 0h0m5 0h0m24 0h0m14 0h0m8 0h0m2 0h1m6 0h0m6 0h0m3 0h0m11 0h0m2 0h1m12 0h0m3 0h0m9 0h0m2 0h0m4 0h0m3 0h0m3 0h0m4 0h0m5 0h0m2 0h1m5 0h0m5 0h2m2 0h0m3 0h0m22 0h1m13 0h0M153 166h1m3 0h0m59 0h1m3 0h0m2 0h0m2 0h0m7 0h0m3 0h1m4 0h0m10 0h2m3 0h0m3 0h0m4 0h0m2 0h1m13 0h0m4 0h0m8 0h0m11 0h0m6 0h0m2 0h0m2 0h0m14 0h0m11 0h0m17 0h1m2 0h0m3 0h5m5 0h0m10 0h0m11 0h0m5 0h1m5 0h1m4 0h1m4 0h1m2 0h0m2 0h0m4 0h0m2 0h1m3 0h0m4 0h0m22 0h0m14 0h0M151 167h0m2 0h0m4 0h0m58 0h0m2 0h0m19 0h0m3 0h0m3 0h1m6 0h2m8 0h0m2 0h0m21 0h1m2 0h0m14 0h2m6 0h3m24 0h0m25 0h0m19 0h1m10 0h0m3 0h1m2 0h0m2 0h0m3 0h0m5 0h0m4 0h0m2 0h0m2 0h0m8 0h0m15 0h1m12 0h0m13 0h0M83 168h0m64 0h0m6 0h0m14 0h0m47 0h0m8 0h0m3 0h0m11 0h0m7 0h1m5 0h0m3 0h0m2 0h1m5 0h0m2 0h0m8 0h0m6 0h0m9 0h1m4 0h0m7 0h0m3 0h0m6 0h1m28 0h0m2 0h1m6 0h0m3 0h0m4 0h0m9 0h1m16 0h0m3 0h0m2 0h4m7 0h0m4 0h1m8 0h0m8 0h0m6 0h2m3 0h0m4 0h0m5 0h0m4 0h0m8 0h1m3 0h0M152 169h0m2 0h0m17 0h0m63 0h0m8 0h0m2 0h0m5 0h2m5 0h0m6 0h1m21 0h0m2 0h0m2 0h1m2 0h0m4 0h0m2 0h0m2 0h0m4 0h0m7 0h0m3 0h0m3 0h0m2 0h1m26 0h1m2 0h0m16 0h0m3 0h0m3 0h0m11 0h0m8 0h1m2 0h0m4 0h1m9 0h0m2 0h0m8 0h0m6 0h0m2 0h0m9 0h0m15 0h1m14 0h0M71 170h0m31 0h0m30 0h0m96 0h0m9 0h0m6 0h0m2 0h0m5 0h0m3 0h0m8 0h1m4 0h0m13 0h0m5 0h0m2 0h0m10 0h0m9 0h0m14 0h0m8 0h0m7 0h1m10 0h0m15 0h1m3 0h0m2 0h0m3 0h1m10 0h2m5 0h0m8 0h0m2 0h0m13 0h0m2 0h0m10 0h0m2 0h0m3 0h0m3 0h0m15 0h1m2 0h0m3 0h0M64 171h0m6 0h0m3 0h0m19 0h0m14 0h0m25 0h0m97 0h0m13 0h1m2 0h1m16 0h0m7 0h0m12 0h1m8 0h1m9 0h0m3 0h0m7 0h0m10 0h1m12 0h0m2 0h0m16 0h0m10 0h0m3 0h0m3 0h0m2 0h0m9 0h0m11 0h0m2 0h0m3 0h0m3 0h0m2 0h0m3 0h0m3 0h0m8 0h2m4 0h1m2 0h1m4 0h0m3 0h0m3 0h0m4 0h0m5 0h0m2 0h0m2 0h1m2 0h1m2 0h0M77 172h0m98 0h0m48 0h0m22 0h1m14 0h1m16 0h0m4 0h3m14 0h0m5 0h0m2 0h0m3 0h0m4 0h0m2 0h0m4 0h0m10 0h0m6 0h0m2 0h0m13 0h3m8 0h0m6 0h2m4 0h0m9 0h0m5 0h1m2 0h0m3 0h0m6 0h0m2 0h0m3 0h0m3 0h0m5 0h0m3 0h0m3 0h2m4 0h1m3 0h0m4 0h1m11 0h0m2 0h0m5 0h0m11 0h0M78 173h0m54 0h0m5 0h0m99 0h0m2 0h0m7 0h0m3 0h0m3 0h1m3 0h0m4 0h0m2 0h2m5 0h2m7 0h0m3 0h0m2 0h0m2 0h1m2 0h1m14 0h1m11 0h1m3 0h1m12 0h0m8 0h0m13 0h1m3 0h0m17 0h0m8 0h0m11 0h3m15 0h0m6 0h0m2 0h1m3 0h2m4 0h1m3 0h0m10 0h0m2 0h0m9 0h0m5 0h0m3 0h0M65 174h0m13 0h0m57 0h0m59 0h1m35 0h0m6 0h1m13 0h2m8 0h1m2 0h0m2 0h0m9 0h0m2 0h0m2 0h1m7 0h0m32 0h1m20 0h0m2 0h0m15 0h1m8 0h0m15 0h0m3 0h0m3 0h1m3 0h0m4 0h0m4 0h0m10 0h0m2 0h0m8 0h0m12 0h0m3 0h0m4 0h0m3 0h0m3 0h0m3 0h0m11 0h1m2 0h0m2 0h1M62 175h0m161 0h1m13 0h0m7 0h0m20 0h0m3 0h1m15 0h0m4 0h0m19 0h0m3 0h0m2 0h0m2 0h0m25 0h0m12 0h1m2 0h0m3 0h1m10 0h1m7 0h0m2 0h1m5 0h1m3 0h0m2 0h0m16 0h0m7 0h0m8 0h2m2 0h2m3 0h0m6 0h0m4 0h0m2 0h1m2 0h1m4 0h0m3 0h0m3 0h0M65 176h0m3 0h0m32 0h0m120 0h0m2 0h0m2 0h0m19 0h2m5 0h1m6 0h0m3 0h0m7 0h1m2 0h0m6 0h0m3 0h0m2 0h1m3 0h0m31 0h0m3 0h0m22 0h0m2 0h0m2 0h5m2 0h1m2 0h0m5 0h0m3 0h0m5 0h0m10 0h0m2 0h1m2 0h1m5 0h0m8 0h0m5 0h1m5 0h0m5 0h0m4 0h1m3 0h2m4 0h0m2 0h0m2 0h0m2 0h0m3 0h0m6 0h0m8 0h0m2 0h0m4 0h0m7 0h0M65 177h1m2 0h0m94 0h0m2 0h0m7 0h0m31 0h0m4 0h0m8 0h0m19 0h0m5 0h0m5 0h0m3 0h0m18 0h0m2 0h1m4 0h0m2 0h0m5 0h0m3 0h0m3 0h0m4 0h1m27 0h0m2 0h1m7 0h0m12 0h0m4 0h1m2 0h0m3 0h0m4 0h0m2 0h0m7 0h0m7 0h0m13 0h0m3 0h0m2 0h0m3 0h0m5 0h0m3 0h0m13 0h0m2 0h0m3 0h0m3 0h0m2 0h1m11 0h0m3 0h0m3 0h1m2 0h0m10 0h0m2 0h0m3 0h2m6 0h0M65 178h0m4 0h0m14 0h0m82 0h0m37 0h0m16 0h0m20 0h0m6 0h2m7 0h0m12 0h0m3 0h0m4 0h0m10 0h3m4 0h0m27 0h0m3 0h0m13 0h1m5 0h1m7 0h2m13 0h0m5 0h0m3 0h0m9 0h0m6 0h0m3 0h1m3 0h0m3 0h0m7 0h0m3 0h0m13 0h1m4 0h1m3 0h0m2 0h0m2 0h3m3 0h1m2 0h2m2 0h1m4 0h1m2 0h1m3 0h1m5 0h0m2 0h0M65 179h1m16 0h0m40 0h0m54 0h1m28 0h0m15 0h0m17 0h0m4 0h1m5 0h0m14 0h0m2 0h1m2 0h2m5 0h0m2 0h0m3 0h0m5 0h0m14 0h0m3 0h0m8 0h0m8 0h0m24 0h2m4 0h1m5 0h0m2 0h0m2 0h0m8 0h0m5 0h0m5 0h2m2 0h0m6 0h0m5 0h0m2 0h0m3 0h0m3 0h0m5 0h2m2 0h0m6 0h0m8 0h0m2 0h1m2 0h0m3 0h0m5 0h1m3 0h1m4 0h2m4 0h0m4 0h0m6 0h1m2 0h0m4 0h0M71 180h0m45 0h0m50 0h0m33 0h0m20 0h0m17 0h1m7 0h0m2 0h0m6 0h0m9 0h1m5 0h0m10 0h0m7 0h0m17 0h0m3 0h0m19 0h2m2 0h1m5 0h1m3 0h0m4 0h2m12 0h2m2 0h1m11 0h2m5 0h3m6 0h1m2 0h0m4 0h0m5 0h2m2 0h1m13 0h1m4 0h1m3 0h2m2 0h2m2 0h0m11 0h0m4 0h0m2 0h0m2 0h1m2 0h0m2 0h0M61 181h0m7 0h0m13 0h3m20 0h0m94 0h0m8 0h0m13 0h0m22 0h0m5 0h0m5 0h1m25 0h0m24 0h0m2 0h1m22 0h0m2 0h1m5 0h0m8 0h0m3 0h1m9 0h0m9 0h2m4 0h0m3 0h0m4 0h3m7 0h2m4 0h0m4 0h1m4 0h0m2 0h0m7 0h1m3 0h0m2 0h0m2 0h0m7 0h1m3 0h0m4 0h0m12 0h1m5 0h0m8 0h0m4 0h0M52 182h0m9 0h0m5 0h0m14 0h0m117 0h0m2 0h1m46 0h0m13 0h0m2 0h0m2 0h0m2 0h0m30 0h0m7 0h1m26 0h2m8 0h0m6 0h0m16 0h1m2 0h0m2 0h0m2 0h1m2 0h0m3 0h0m3 0h0m2 0h0m2 0h1m2 0h0m2 0h1m2 0h0m6 0h0m2 0h0m13 0h0m2 0h0m3 0h0m5 0h1m5 0h2m7 0h0m22 0h0m5 0h1M66 183h0m7 0h0m31 0h0m8 0h0m88 0h0m16 0h0m23 0h0m8 0h0m12 0h0m3 0h2m4 0h1m23 0h0m2 0h0m6 0h0m2 0h1m26 0h0m3 0h0m7 0h0m2 0h0m3 0h2m6 0h1m3 0h1m16 0h0m4 0h1m2 0h0m2 0h0m2 0h0m4 0h0m3 0h0m2 0h0m2 0h1m2 0h0m3 0h1m3 0h0m7 0h0m8 0h0m2 0h3m5 0h0m13 0h0m3 0h1m13 0h0m2 0h0M72 184h0m34 0h0m40 0h0m63 0h0m30 0h0m5 0h0m11 0h0m12 0h0m24 0h0m10 0h0m18 0h0m8 0h1m6 0h0m9 0h0m11 0h0m6 0h0m2 0h0m11 0h0m10 0h1m4 0h0m2 0h1m4 0h0m2 0h0m16 0h0m5 0h0m3 0h0m3 0h0m2 0h1m6 0h0m10 0h0m13 0h0M67 185h0m6 0h0m35 0h0m31 0h0m7 0h0m13 0h0m13 0h0m8 0h0m25 0h0m2 0h0m33 0h0m16 0h0m5 0h1m2 0h0m2 0h2m22 0h0m8 0h0m2 0h0m2 0h0m25 0h1m14 0h1m3 0h0m12 0h0m15 0h0m4 0h0m5 0h1m12 0h0m2 0h0m5 0h1m2 0h0m7 0h2m5 0h0m4 0h1m3 0h0m3 0h0m10 0h0m3 0h0M69 186h1m38 0h0m65 0h0m36 0h0m27 0h0m6 0h0m2 0h0m5 0h0m7 0h0m5 0h0m3 0h2m32 0h0m2 0h1m5 0h0m16 0h0m3 0h0m20 0h0m5 0h0m8 0h1m13 0h0m3 0h0m2 0h0m4 0h0m8 0h0m10 0h1m2 0h0m9 0h4m3 0h0m2 0h0m2 0h0m3 0h1m4 0h0m14 0h0m2 0h3m4 0h0m3 0h1M68 187h1m38 0h0m64 0h0m31 0h2m4 0h0m16 0h0m12 0h2m2 0h0m5 0h3m2 0h0m5 0h0m2 0h0m5 0h0m4 0h0m12 0h0m22 0h1m22 0h1m23 0h0m2 0h0m28 0h2m3 0h0m9 0h0m7 0h1m4 0h0m3 0h0m2 0h0m2 0h1m7 0h4m2 0h0m6 0h1m15 0h3m4 0h0m3 0h0M69 188h0m12 0h0m2 0h0m51 0h1m2 0h0m6 0h0m30 0h0m32 0h0m26 0h0m14 0h0m2 0h0m9 0h0m4 0h0m6 0h0m31 0h0m8 0h0m18 0h1m4 0h0m2 0h0m17 0h0m2 0h0m4 0h0m3 0h0m22 0h2m5 0h0m3 0h1m2 0h0m4 0h2m3 0h2m5 0h0m2 0h1m6 0h0m4 0h0m2 0h0m17 0h0m3 0h0m4 0h2m2 0h0m2 0h0M134 189h0m9 0h0m30 0h0m31 0h0m11 0h0m17 0h0m12 0h0m4 0h0m8 0h0m16 0h0m4 0h1m19 0h0m13 0h0m12 0h0m5 0h0m20 0h0m3 0h0m5 0h2m8 0h0m12 0h0m2 0h0m5 0h0m2 0h1m3 0h0m2 0h0m2 0h0m4 0h0m2 0h0m6 0h1m3 0h0m2 0h0m6 0h2m2 0h0m2 0h2m6 0h0m4 0h1m4 0h0m4 0h1m2 0h1M167 190h0m5 0h0m72 0h4m2 0h0m15 0h0m3 0h0m4 0h0m4 0h0m3 0h3m15 0h0m22 0h0m3 0h0m7 0h0m26 0h0m9 0h2m16 0h0m2 0h0m4 0h0m2 0h0m10 0h0m5 0h3m14 0h0m8 0h0m2 0h0m2 0h0m2 0h3m5 0h0m8 0h0M53 191h0m91 0h0m28 0h0m11 0h0m61 0h0m2 0h3m2 0h0m22 0h0m3 0h0m5 0h0m2 0h0m34 0h0m2 0h0m2 0h1m7 0h0m27 0h0m7 0h0m2 0h0m2 0h0m9 0h0m11 0h1m9 0h0m2 0h0m3 0h1m2 0h0m2 0h1m6 0h1m10 0h0m2 0h0m3 0h0m6 0h1m3 0h2m63 0h0m2 0h0M54 192h0m72 0h0m17 0h0m3 0h1m17 0h0m57 0h0m2 0h0m11 0h1m9 0h5m32 0h0m8 0h1m27 0h1m11 0h0m14 0h0m21 0h0m2 0h0m2 0h0m7 0h0m2 0h0m7 0h0m4 0h0m7 0h3m8 0h0m2 0h2m11 0h0m4 0h1m2 0h0m4 0h0m5 0h1m2 0h0m65 0h0M126 193h0m19 0h0m2 0h0m17 0h0m75 0h0m8 0h0m26 0h0m14 0h0m15 0h0m3 0h0m8 0h1m5 0h0m9 0h1m13 0h0m4 0h0m18 0h0m6 0h0m2 0h0m4 0h1m7 0h0m8 0h1m3 0h1m7 0h2m2 0h0m4 0h0m11 0h0m5 0h0m6 0h0m5 0h0m4 0h0m57 0h1M40 194h0m5 0h0m78 0h0m2 0h0m57 0h0m10 0h0m41 0h1m2 0h3m2 0h0m2 0h0m2 0h0m2 0h0m27 0h0m5 0h0m8 0h0m2 0h1m12 0h0m8 0h0m4 0h0m3 0h0m25 0h0m24 0h0m15 0h1m3 0h0m3 0h1m2 0h1m4 0h0m3 0h1m2 0h1m3 0h0m2 0h0m13 0h0m6 0h2m3 0h1m3 0h0m2 0h1m59 0h0m4 0h0M40 195h0m2 0h0m2 0h0m7 0h0m116 0h0m8 0h0m36 0h0m23 0h0m3 0h0m2 0h0m7 0h1m3 0h1m27 0h0m2 0h0m10 0h0m23 0h0m6 0h1m3 0h0m17 0h0m11 0h1m17 0h0m3 0h2m2 0h0m5 0h0m3 0h1m8 0h0m4 0h1m13 0h2m5 0h0m2 0h1m2 0h0m2 0h0m2 0h1m6 0h0m4 0h0m2 0h0m65 0h2M41 196h0m19 0h0m60 0h0m4 0h0m43 0h0m18 0h0m18 0h0m30 0h0m2 0h1m7 0h0m58 0h1m19 0h2m15 0h1m9 0h0m2 0h0m20 0h0m3 0h0m2 0h0m4 0h0m2 0h0m8 0h0m4 0h0m5 0h0m2 0h0m2 0h2m5 0h1m2 0h0m11 0h1m9 0h1m2 0h0m4 0h1m57 0h0m4 0h0m2 0h0m2 0h0m3 0h0M41 197h0m4 0h0m80 0h0m43 0h0m2 0h0m23 0h0m11 0h0m8 0h0m22 0h0m4 0h0m5 0h0m3 0h1m2 0h0m3 0h0m15 0h0m16 0h0m17 0h0m27 0h0m5 0h0m10 0h0m13 0h0m12 0h0m6 0h0m3 0h3m2 0h0m7 0h0m4 0h1m3 0h1m2 0h0m4 0h0m4 0h0m3 0h0m13 0h0m8 0h0m5 0h0m6 0h0m2 0h0m51 0h0m3 0h1m5 0h0m4 0h0M39 198h0m2 0h0m6 0h0m2 0h0m71 0h0m53 0h0m21 0h1m3 0h0m2 0h0m27 0h0m5 0h0m3 0h0m7 0h0m4 0h0m19 0h0m16 0h0m2 0h1m7 0h0m9 0h1m7 0h0m12 0h1m6 0h0m9 0h1m2 0h0m8 0h0m16 0h0m10 0h0m7 0h0m9 0h0m2 0h1m2 0h0m3 0h1m2 0h0m4 0h0m9 0h2m5 0h3m15 0h2m3 0h1m50 0h1m7 0h0m4 0h0m2 0h0m2 0h0m2 0h0M46 199h1m5 0h0m3 0h1m41 0h0m8 0h0m2 0h0m62 0h0m37 0h0m4 0h0m23 0h0m18 0h0m15 0h0m4 0h0m9 0h1m2 0h0m2 0h0m7 0h0m11 0h0m9 0h1m7 0h0m9 0h3m2 0h0m16 0h2m11 0h0m3 0h0m5 0h0m9 0h0m4 0h0m4 0h0m4 0h1m5 0h2m3 0h1m2 0h0m3 0h0m3 0h0m3 0h0m3 0h2m11 0h0m13 0h0m53 0h1m13 0h0M56 200h0m71 0h0m43 0h0m4 0h0m31 0h1m2 0h0m2 0h0m6 0h0m7 0h0m7 0h0m5 0h0m43 0h0m5 0h0m15 0h0m7 0h0m22 0h2m2 0h1m4 0h2m13 0h1m6 0h0m6 0h0m10 0h0m6 0h0m3 0h2m2 0h0m2 0h3m7 0h2m8 0h0m6 0h1m5 0h0m9 0h0m2 0h1m6 0h0m2 0h0m58 0h0m2 0h0m6 0h0m5 0h0M45 201h0m2 0h0m80 0h0m11 0h0m32 0h0m2 0h0m5 0h0m11 0h0m6 0h0m12 0h0m2 0h0m3 0h0m5 0h1m3 0h0m4 0h0m3 0h0m7 0h0m3 0h1m9 0h0m3 0h0m9 0h1m2 0h0m14 0h7m10 0h0m2 0h0m8 0h1m22 0h0m3 0h1m2 0h1m2 0h1m3 0h0m6 0h1m6 0h0m10 0h0m5 0h0m8 0h0m8 0h0m5 0h0m3 0h1m6 0h1m7 0h0m2 0h1m2 0h4m6 0h0m5 0h0m3 0h0m3 0h1m6 0h0m3 0h1m50 0h0m3 0h1m9 0h0m3 0h1m2 0h0M40 202h0m4 0h0m27 0h0m27 0h0m30 0h0m80 0h0m5 0h1m7 0h0m3 0h1m4 0h0m5 0h0m5 0h0m7 0h0m5 0h0m9 0h0m8 0h0m3 0h0m6 0h0m4 0h0m6 0h0m6 0h0m10 0h0m26 0h1m6 0h0m9 0h1m6 0h0m11 0h1m9 0h1m7 0h0m10 0h1m5 0h0m8 0h0m4 0h0m5 0h0m6 0h2m6 0h0m3 0h0m4 0h0m2 0h0m2 0h0m2 0h0m55 0h0m4 0h0m2 0h0m2 0h0m3 0h1m4 0h0M199 203h1m9 0h2m3 0h0m6 0h0m8 0h0m7 0h0m2 0h0m5 0h0m3 0h0m2 0h0m8 0h0m4 0h0m9 0h0m3 0h0m5 0h0m25 0h0m3 0h0m13 0h1m11 0h0m5 0h0m8 0h0m4 0h0m5 0h0m2 0h0m20 0h3m8 0h1m4 0h0m6 0h0m3 0h0m2 0h1m3 0h0m3 0h1m13 0h0m2 0h0m5 0h0m4 0h0m2 0h0m5 0h0m55 0h2m2 0h0m7 0h0m3 0h2M48 204h0m24 0h0m27 0h0m35 0h0m59 0h0m5 0h0m2 0h1m7 0h0m2 0h2m7 0h0m10 0h0m11 0h0m15 0h0m13 0h0m8 0h0m17 0h0m3 0h0m5 0h0m4 0h0m2 0h0m10 0h1m8 0h0m2 0h0m4 0h0m21 0h1m16 0h0m3 0h2m12 0h0m2 0h0m2 0h0m2 0h2m3 0h1m12 0h0m6 0h0m7 0h0m2 0h1m3 0h0m4 0h0m2 0h1m61 0h0m2 0h0m6 0h0m5 0h0M56 205h0m13 0h0m3 0h0m120 0h0m23 0h1m2 0h0m2 0h2m2 0h0m23 0h1m3 0h0m4 0h1m11 0h0m4 0h0m5 0h0m18 0h0m8 0h0m3 0h0m14 0h1m3 0h0m4 0h0m12 0h0m3 0h0m5 0h1m4 0h2m6 0h0m9 0h1m5 0h0m2 0h0m4 0h0m2 0h2m2 0h0m5 0h0m4 0h0m3 0h0m9 0h0m2 0h3m5 0h0m3 0h0m11 0h2m60 0h1m11 0h0m5 0h0M67 206h1m16 0h0m41 0h1m83 0h0m2 0h0m2 0h1m2 0h2m2 0h2m2 0h0m14 0h0m9 0h0m3 0h1m5 0h0m14 0h1m24 0h0m8 0h0m14 0h0m3 0h0m2 0h0m25 0h1m9 0h0m7 0h0m6 0h1m4 0h0m4 0h0m12 0h0m10 0h0m5 0h1m4 0h0m3 0h0m7 0h1m6 0h1m67 0h0m4 0h0m5 0h0m3 0h1m2 0h0M37 207h0m11 0h0m23 0h1m57 0h0m9 0h1m48 0h0m10 0h2m9 0h0m7 0h0m2 0h0m9 0h1m24 0h0m4 0h0m3 0h0m13 0h1m7 0h0m6 0h0m9 0h1m9 0h0m14 0h1m14 0h0m16 0h0m7 0h0m7 0h0m4 0h0m4 0h0m15 0h0m3 0h0m16 0h1m3 0h0m9 0h0m10 0h2m5 0h0m61 0h0m3 0h2m4 0h0m2 0h0M65 208h0m6 0h0m8 0h0m19 0h0m25 0h1m4 0h0m4 0h0m4 0h1m75 0h0m2 0h0m11 0h1m2 0h0m9 0h1m19 0h2m20 0h0m25 0h1m13 0h2m2 0h0m15 0h0m11 0h0m11 0h1m11 0h0m2 0h0m3 0h0m3 0h1m3 0h2m3 0h1m22 0h0m6 0h0m13 0h3m71 0h0m2 0h0m4 0h0M38 209h1m84 0h1m2 0h0m2 0h0m18 0h0m59 0h0m3 0h0m11 0h0m12 0h1m22 0h2m8 0h1m5 0h0m4 0h0m2 0h1m9 0h0m18 0h0m4 0h1m10 0h1m13 0h2m22 0h1m2 0h1m2 0h1m2 0h0m2 0h0m5 0h0m5 0h1m10 0h1m13 0h0m2 0h0m6 0h0m5 0h0m2 0h1m3 0h1m4 0h0m5 0h1m69 0h0m2 0h0m4 0h1M82 210h0m9 0h0m37 0h0m2 0h0m72 0h0m2 0h0m5 0h1m5 0h0m19 0h0m3 0h0m15 0h0m4 0h0m24 0h0m12 0h0m5 0h0m6 0h1m4 0h1m14 0h0m12 0h1m17 0h0m6 0h0m2 0h0m5 0h0m4 0h0m3 0h1m2 0h0m5 0h0m7 0h0m2 0h1m11 0h0m2 0h0m3 0h0m3 0h0m6 0h0m3 0h2m4 0h0m6 0h0m77 0h0M66 211h0m58 0h0m2 0h0m76 0h0m3 0h0m2 0h0m6 0h0m10 0h0m8 0h0m3 0h0m2 0h0m2 0h0m15 0h0m6 0h0m2 0h0m7 0h0m2 0h0m2 0h0m20 0h0m3 0h0m7 0h0m5 0h0m6 0h0m7 0h0m4 0h1m5 0h0m4 0h0m9 0h0m5 0h0m14 0h0m8 0h3m18 0h0m17 0h1m2 0h0m7 0h1m2 0h3m2 0h1m2 0h0m71 0h0m2 0h0m5 0h0M125 212h0m67 0h0m22 0h1m7 0h0m14 0h0m5 0h0m13 0h0m3 0h1m20 0h0m13 0h3m16 0h2m3 0h0m15 0h1m6 0h0m7 0h0m6 0h0m13 0h0m3 0h0m14 0h0m3 0h0m8 0h0m27 0h1m3 0h0m3 0h0m3 0h0m2 0h1m69 0h1m5 0h1M216 213h0m8 0h0m7 0h0m16 0h0m7 0h0m4 0h0m16 0h0m5 0h0m14 0h0m2 0h0m17 0h0m3 0h2m2 0h1m11 0h0m4 0h0m5 0h0m8 0h3m2 0h0m3 0h0m7 0h0m2 0h1m5 0h0m9 0h0m11 0h0m17 0h1m8 0h1m5 0h0m2 0h0m2 0h0m70 0h1m3 0h1M63 214h0m61 0h2m51 0h0m40 0h0m2 0h0m2 0h0m2 0h0m8 0h0m14 0h1m2 0h0m4 0h1m6 0h2m2 0h0m18 0h0m12 0h0m3 0h0m15 0h1m4 0h0m18 0h0m15 0h0m2 0h1m10 0h0m2 0h0m4 0h0m45 0h0m4 0h0m2 0h0m3 0h0m3 0h0m2 0h0m72 0h0m2 0h1m3 0h0m2 0h1M62 215h0m7 0h0m57 0h0m51 0h0m21 0h0m8 0h0m13 0h4m2 0h0m11 0h0m7 0h0m2 0h0m16 0h0m2 0h0m18 0h0m2 0h0m3 0h0m6 0h1m14 0h1m6 0h0m5 0h0m7 0h1m6 0h0m4 0h0m13 0h0m16 0h0m16 0h0m32 0h0m7 0h0m63 0h1m15 0h0M71 216h0m54 0h0m74 0h0m11 0h0m12 0h0m2 0h1m10 0h0m9 0h0m17 0h0m19 0h1m3 0h0m2 0h0m41 0h0m3 0h4m5 0h0m4 0h0m7 0h0m2 0h1m2 0h0m2 0h0m4 0h1m2 0h0m2 0h0m2 0h0m15 0h0m3 0h0m2 0h0m14 0h0m3 0h0m17 0h1m83 0h0M61 217h0m11 0h0m17 0h0m3 0h0m22 0h0m11 0h0m71 0h0m3 0h1m10 0h1m2 0h1m22 0h0m18 0h0m4 0h3m4 0h0m8 0h0m7 0h0m3 0h2m12 0h0m9 0h0m19 0h0m5 0h0m2 0h0m3 0h0m3 0h1m13 0h1m4 0h0m2 0h0m29 0h0m35 0h1m81 0h1M58 218h0m7 0h0m6 0h1m9 0h0m2 0h0m94 0h0m5 0h0m13 0h0m2 0h0m7 0h0m4 0h2m2 0h0m3 0h0m9 0h1m10 0h0m18 0h0m2 0h0m7 0h0m18 0h2m2 0h0m7 0h0m5 0h0m9 0h0m6 0h0m2 0h0m19 0h0m4 0h0m2 0h1m10 0h0m4 0h0m3 0h0m5 0h0m23 0h0m4 0h1m17 0h0m4 0h0m10 0h0m71 0h0M80 219h2m65 0h0m28 0h0m3 0h0m34 0h1m10 0h1m37 0h0m21 0h0m3 0h0m5 0h0m3 0h0m2 0h1m16 0h1m13 0h0m3 0h0m3 0h1m2 0h0m2 0h0m5 0h1m9 0h0m3 0h0m3 0h0m2 0h0m30 0h0m12 0h0m4 0h0m2 0h0m82 0h0m8 0h2m2 0h1m3 0h0M67 220h1m3 0h0m9 0h0m52 0h1m9 0h0m28 0h1m7 0h0m25 0h0m5 0h0m17 0h0m9 0h0m43 0h0m5 0h3m11 0h0m15 0h2m5 0h0m9 0h0m3 0h0m4 0h0m8 0h1m14 0h0m44 0h1m6 0h0m2 0h0m96 0h0M66 221h3m22 0h0m37 0h0m40 0h1m14 0h0m2 0h0m12 0h0m3 0h1m23 0h0m28 0h0m6 0h0m2 0h0m16 0h0m2 0h0m5 0h1m15 0h0m9 0h0m12 0h0m26 0h0m6 0h0m6 0h0m2 0h0m3 0h1m42 0h0m4 0h0m2 0h0m5 0h2m85 0h0M65 222h0m59 0h0m32 0h0m42 0h0m5 0h0m6 0h0m5 0h0m9 0h1m27 0h0m8 0h1m13 0h0m3 0h0m9 0h1m23 0h2m2 0h1m2 0h0m2 0h0m20 0h0m2 0h0m9 0h0m3 0h1m3 0h2m3 0h0m31 0h1m11 0h0m9 0h0m72 0h0m19 0h0M64 223h1m8 0h0m21 0h0m31 0h0m2 0h0m43 0h0m28 0h0m7 0h1m41 0h1m7 0h1m17 0h0m11 0h1m5 0h0m13 0h0m7 0h0m4 0h0m2 0h0m6 0h0m6 0h1m5 0h0m7 0h0m3 0h0m10 0h2m5 0h0m19 0h0m31 0h0M64 224h0m29 0h0m3 0h0m33 0h0m21 0h0m7 0h0m2 0h0m45 0h0m22 0h0m21 0h0m4 0h0m5 0h0m2 0h0m7 0h1m6 0h1m3 0h0m13 0h0m2 0h1m5 0h0m4 0h0m2 0h0m5 0h0m4 0h0m2 0h1m3 0h0m11 0h0m5 0h0m6 0h0m17 0h0m14 0h0m19 0h0m15 0h0m98 0h1M68 225h1m2 0h1m57 0h0m29 0h2m8 0h0m6 0h0m26 0h0m15 0h0m6 0h0m2 0h1m2 0h0m20 0h1m10 0h1m7 0h0m10 0h1m14 0h0m2 0h1m8 0h0m12 0h1m11 0h0m2 0h0m3 0h0m4 0h0m9 0h0m8 0h0m4 0h0m2 0h1m2 0h1m10 0h0m7 0h1m124 0h0M80 226h0m2 0h0m10 0h0m32 0h0m28 0h0m9 0h1m25 0h0m5 0h0m2 0h0m8 0h0m15 0h0m26 0h0m5 0h0m23 0h1m3 0h0m37 0h0m2 0h0m3 0h0m3 0h0m6 0h0m3 0h0m14 0h0m17 0h0m10 0h1m131 0h0M81 227h0m41 0h1m2 0h0m37 0h0m9 0h0m22 0h0m7 0h0m14 0h0m3 0h0m5 0h1m2 0h0m6 0h0m14 0h0m46 0h0m5 0h0m2 0h0m12 0h2m3 0h0m3 0h1m40 0h0m12 0h0m116 0h0m9 0h0M77 228h0m45 0h0m13 0h0m25 0h1m3 0h0m2 0h0m27 0h2m3 0h0m10 0h0m2 0h2m2 0h1m7 0h0m8 0h0m13 0h0m46 0h1m9 0h1m11 0h0m3 0h0m2 0h0m2 0h0m2 0h0m2 0h0m2 0h0m2 0h0m2 0h1m15 0h0m25 0h1m3 0h0m127 0h0M82 229h0m14 0h0m16 0h0m33 0h0m18 0h0m9 0h0m21 0h1m4 0h0m4 0h0m7 0h0m5 0h0m4 0h0m4 0h1m8 0h0m65 0h0m4 0h1m3 0h0m8 0h0m13 0h0m16 0h0m2 0h0m7 0h0m10 0h0m7 0h1m132 0h0M162 230h0m4 0h1m3 0h0m23 0h1m2 0h0m6 0h1m6 0h2m4 0h0m27 0h1m50 0h0m6 0h0m12 0h0m7 0h1m2 0h0m2 0h0m11 0h0m16 0h0m5 0h0m16 0h1m107 0h0m18 0h0m2 0h0M70 231h0m41 0h3m46 0h0m4 0h0m29 0h0m2 0h0m5 0h0m4 0h0m11 0h0m3 0h0m26 0h0m43 0h0m4 0h0m2 0h1m2 0h0m3 0h1m10 0h2m9 0h0m2 0h1m5 0h0m27 0h0m11 0h1m4 0h0m4 0h0m28 0h0m80 0h0m2 0h0m12 0h0M90 232h0m33 0h0m10 0h0m2 0h0m27 0h0m4 0h0m28 0h1m3 0h1m10 0h0m4 0h1m2 0h0m28 0h0m42 0h0m4 0h1m7 0h2m10 0h0m9 0h0m7 0h0m8 0h0m10 0h0m20 0h0m2 0h0m3 0h0m3 0h0m3 0h1m5 0h0m2 0h0m12 0h0m10 0h0m77 0h0m2 0h0m11 0h0M90 233h0m17 0h0m7 0h0m48 0h0m3 0h0m2 0h0m29 0h0m2 0h0m6 0h0m55 0h1m28 0h0m3 0h0m15 0h0m4 0h0m9 0h0m6 0h2m2 0h0m15 0h1m2 0h0m9 0h0m8 0h1m3 0h0m5 0h1m8 0h2m5 0h0m93 0h0m4 0h0m11 0h0M82 234h0m2 0h0m3 0h0m46 0h0m26 0h0m2 0h0m8 0h0m44 0h0m2 0h0m4 0h1m23 0h1m15 0h0m32 0h0m12 0h0m4 0h0m4 0h0m6 0h0m2 0h0m4 0h0m2 0h0m4 0h0m6 0h0m11 0h0m20 0h0m5 0h0m2 0h0m2 0h1m4 0h1m3 0h0m2 0h1m2 0h0m95 0h2m10 0h0M86 235h0m34 0h0m16 0h0m24 0h1m52 0h0m3 0h0m2 0h1m3 0h0m65 0h0m28 0h2m2 0h3m2 0h1m21 0h0m10 0h0m9 0h0m2 0h0m2 0h0m2 0h1m2 0h0m3 0h1m2 0h0m4 0h0m5 0h0m94 0h0m4 0h0M84 236h0m2 0h0m14 0h0m14 0h0m5 0h0m44 0h0m53 0h3m25 0h0m5 0h0m42 0h0m25 0h0m3 0h0m2 0h0m13 0h1m35 0h0m2 0h0m4 0h2m4 0h0m5 0h0m2 0h0m5 0h0m87 0h0M87 237h0m26 0h0m25 0h0m76 0h0m34 0h0m46 0h2m9 0h2m3 0h0m3 0h0m27 0h0m3 0h1m18 0h0m4 0h0m16 0h0m6 0h0m94 0h0m3 0h0M89 238h0m24 0h0m24 0h0m12 0h0m14 0h0m131 0h0m2 0h0m2 0h0m4 0h1m3 0h0m3 0h0m3 0h1m18 0h0m3 0h0m7 0h0m5 0h0m6 0h0m4 0h1m16 0h0m2 0h0m8 0h0m7 0h0m95 0h0M113 239h0m46 0h0m59 0h0m77 0h0m7 0h0m2 0h0m2 0h0m2 0h0m22 0h0m2 0h1m9 0h1m9 0h0m3 0h0m4 0h0m2 0h0m4 0h0m119 0h1M229 240h0m65 0h0m10 0h1m7 0h0m14 0h0m2 0h0m6 0h0m2 0h0m5 0h2m5 0h0m2 0h2m5 0h0m3 0h1m5 0h0m116 0h1m2 0h0M88 241h0m2 0h0m2 0h0m31 0h0m37 0h1m80 0h0m2 0h0m2 0h1m52 0h1m8 0h0m21 0h0m7 0h0m5 0h2m3 0h0m12 0h0M89 242h0m31 0h0m126 0h0m42 0h0m9 0h3m11 0h0m30 0h0m142 0h0M118 243h0m132 0h0m6 0h0m36 0h0m5 0h0m3 0h0m3 0h0m8 0h0m7 0h0m14 0h0m7 0h1m17 0h0m2 0h0m125 0h1M246 244h0m5 0h1m32 0h0m16 0h0m3 0h0m15 0h0m7 0h1m7 0h1m2 0h0m8 0h1m9 0h0m5 0h0m127 0h0M106 245h0m9 0h0m134 0h0m5 0h0m30 0h0m14 0h0m3 0h0m19 0h0m3 0h0m3 0h1m7 0h0m2 0h0m2 0h0m4 0h0m12 0h0m5 0h1m125 0h0m2 0h0M75 246h0m9 0h0m7 0h0m137 0h0m46 0h0m11 0h0m6 0h0m31 0h1m2 0h1m11 0h0m4 0h1m2 0h0m11 0h0m131 0h0m7 0h0M70 247h0m21 0h0m18 0h0m108 0h0m11 0h0m15 0h1m37 0h0m4 0h1m2 0h0m2 0h0m30 0h0m2 0h0m2 0h0m2 0h1m10 0h0m4 0h1M71 248h0m16 0h0m23 0h0m127 0h0m36 0h1m6 0h0m5 0h1m7 0h0m7 0h0m16 0h1m8 0h0m13 0h0m5 0h0m144 0h0m5 0h0M68 249h0m44 0h0m102 0h0m59 0h1m6 0h0m6 0h0m2 0h0m4 0h0m12 0h0m2 0h0m8 0h0m5 0h0m3 0h1m2 0h1m12 0h1m5 0h0m148 0h0M75 250h1m22 0h0m118 0h1m9 0h0m25 0h0m23 0h0m4 0h1m3 0h0m5 0h0m2 0h0m2 0h0m20 0h0m3 0h0m2 0h0m8 0h0m8 0h0m11 0h0M85 251h0m142 0h0m30 0h0m15 0h4m2 0h0m8 0h0m4 0h2m16 0h0m2 0h0m10 0h0m2 0h0m6 0h1m2 0h1m4 0h0M246 252h0m2 0h0m23 0h0m9 0h0m7 0h0m3 0h1m22 0h0m2 0h0m8 0h0m5 0h0m2 0h0m2 0h0m3 0h0m2 0h0M86 253h0m7 0h0m2 0h1m137 0h0m6 0h2m12 0h0m4 0h0m12 0h1m5 0h0m10 0h4m14 0h0m4 0h0m7 0h0m3 0h0m5 0h1m2 0h1m10 0h0m3 0h0M88 254h0m3 0h0m133 0h0m9 0h0m2 0h0m2 0h4m11 0h0m20 0h1m4 0h0m9 0h0m21 0h1m7 0h4m3 0h1m14 0h0m3 0h0M226 255h0m3 0h0m5 0h0m6 0h0m3 0h0m9 0h0m8 0h0m9 0h1m18 0h0m2 0h0m13 0h0m3 0h1m3 0h0m2 0h0m2 0h0m3 0h0m2 0h0M224 256h0m4 0h0m10 0h0m5 0h0m51 0h0m9 0h0m9 0h0M233 257h0m6 0h0m17 0h0m19 0h0m2 0h0m29 0h0m2 0h0m9 0h0m2 0h0m12 0h0M238 258h0m34 0h0m2 0h1m33 0h2m7 0h2M235 259h2m34 0h0m14 0h0m8 0h0m13 0h0m3 0h2M116 260h0m116 0h0m45 0h1m3 0h0m4 0h0m24 0h0m4 0h0M280 261h0m2 0h0m11 0h0m14 0h1M115 262h0m166 0h0m2 0h0m12 0h0m9 0h0M284 263h0M106 264h0m173 0h1m4 0h0M109 265h0m170 0h1M107 266h0m173 0h1m2 0h0M108 267h0m9 0h0M116 268h1m163 0h0M283 270h0M280 278h1M278 279h0m2 0h1M284 284h0M284 286h1M283 287h0M286 294h0m3 0h0m3 0h0M280 295h0m3 0h0m4 0h1m2 0h1m3 0h0m2 0h0M276 296h1m6 0h0m9 0h1m2 0h0M268 297h2m2 0h0m2 0h0m12 0h0m9 0h0M269 298h0m7 0h0m6 0h0m3 0h0m5 0h0m2 0h1m4 0h0M273 299h1m5 0h0m5 0h0m5 0h0m3 0h0m4 0h0M268 300h0m2 0h0m2 0h0m2 0h2m6 0h0m6 0h0m9 0h1M294 301h3M270 302h1m20 0h0m2 0h1M258 303h0m32 0h2M272 304h0m2 0h1m9 0h0m4 0h0M270 305h1m8 0h0m2 0h1M255 306h0m3 0h1m14 0h0m11 0h0m3 0h0M276 307h0M273 308h1m3 0h0m3 0h0m4 0h0m3 0h0M275 309h0M253 310h0m8 0h0m26 0h2M260 311h0m23 0h0m6 0h1M263 312h0m18 0h0m8 0h0M281 313h0m2 0h0m5 0h2M255 314h0m25 0h0M254 315h0m27 0h0M253 316h0m25 0h1M254 317h1m7 0h0m17 0h0m5 0h0m3 0h0M254 318h0m2 0h0m8 0h0m2 0h0m13 0h0m2 0h1m4 0h0M254 319h2m12 0h0m6 0h0m9 0h0m3 0h0M254 320h4m2 0h0m6 0h0m19 0h0M256 321h3M258 322h0m8 0h0m2 0h0m2 0h0M259 323h0m3 0h0m3 0h1m12 0h0M259 324h0m4 0h2m6 0h0m3 0h2M263 325h0m12 0h0M267 326h1m6 0h1M267 327h0m5 0h0"/><path stroke="#4367fd" d="M230 25h1M166 27h0M171 34h0M196 38h0M179 39h0m9 0h0m8 0h0M176 40h0m9 0h0M190 41h0m17 0h0m19 0h0M194 42h0m17 0h0m68 0h0m14 0h0M175 43h0m10 0h0m11 0h0m12 0h1m4 0h0m17 0h0m61 0h2m2 0h0m13 0h0M175 44h0m35 0h0m2 0h0m18 0h1m55 0h0m5 0h0m3 0h0M171 45h1m2 0h0m16 0h0m90 0h1m11 0h0m2 0h0M170 46h2m17 0h0m18 0h0m4 0h0m69 0h0m2 0h0m10 0h1M158 47h0m14 0h0m18 0h0m22 0h0m70 0h2m8 0h0m15 0h0m35 0h1M161 48h0m14 0h0m12 0h0m6 0h0m11 0h0m67 0h0m2 0h1m9 0h0m2 0h0m2 0h0m3 0h0M159 49h0m4 0h0m14 0h1m10 0h0m6 0h2m11 0h0m6 0h0m2 0h0m7 0h1m51 0h1m9 0h1m6 0h0M160 50h1m5 0h0m8 0h0m4 0h1m33 0h0m2 0h0m8 0h0m53 0h1M156 51h0m11 0h0m6 0h0m13 0h0m3 0h0m23 0h0m2 0h0m10 0h0m10 0h1M159 52h0m2 0h3m3 0h0m5 0h1m11 0h0m2 0h2m14 0h1m7 0h1m2 0h0m2 0h0m2 0h0m16 0h1M156 53h0m6 0h4m18 0h0m2 0h1m2 0h0m6 0h0m6 0h1m9 0h1m5 0h0m16 0h1M157 54h0m2 0h0m27 0h0m9 0h0m2 0h0m4 0h0m103 0h2M155 55h3m8 0h1m2 0h0m13 0h0m4 0h1m2 0h1m6 0h0m5 0h1m2 0h0m6 0h0m23 0h0m5 0h1m2 0h0M160 56h0m8 0h1m11 0h0m21 0h0m4 0h0m17 0h0m13 0h0m5 0h0m32 0h0m9 0h0m6 0h0m10 0h0M156 57h0m23 0h0m3 0h0m9 0h2m30 0h0m13 0h0m3 0h1m14 0h1m16 0h0m10 0h0m174 0h0M170 58h0m25 0h1m16 0h0m12 0h0m7 0h0m3 0h0m19 0h0m27 0h0m19 0h1m36 0h0m119 0h0M155 59h1m26 0h1m11 0h1m87 0h1m2 0h0m10 0h0m2 0h0m2 0h1m13 0h0m19 0h1M157 60h0m2 0h0m20 0h0m14 0h0m29 0h0m15 0h0m46 0h0m3 0h0m8 0h0m5 0h1m11 0h0m2 0h0m13 0h0m7 0h0m3 0h0m25 0h0M157 61h2m23 0h0m2 0h0m38 0h0m14 0h0m38 0h0m20 0h0m6 0h0m12 0h0M181 62h3m53 0h0m32 0h2m3 0h0m11 0h0m4 0h0m49 0h0m39 0h0m2 0h0M152 63h0m14 0h0m2 0h0m13 0h0m46 0h0m7 0h0m22 0h0m17 0h0m4 0h1m12 0h0m3 0h0m26 0h1m14 0h0m3 0h0m37 0h0m5 0h0m86 0h0M151 64h0m2 0h0m14 0h1m15 0h0m26 0h1m11 0h0m7 0h0m3 0h0m3 0h1m2 0h0m19 0h0m17 0h0m2 0h0m5 0h0m11 0h1m27 0h0m17 0h0m3 0h0m20 0h2m147 0h0M151 65h0m2 0h0m3 0h0m9 0h1m2 0h0m44 0h0m8 0h0m2 0h0m12 0h0m15 0h0m25 0h1m7 0h0m5 0h0m4 0h1m3 0h0m23 0h0m20 0h0m22 0h0M152 66h0m13 0h0m38 0h0m18 0h0m8 0h0m46 0h1m4 0h0m9 0h0m5 0h0m5 0h1m8 0h0m23 0h1m7 0h1m34 0h0m7 0h0m39 0h0m70 0h0M156 67h0m2 0h0m7 0h0m64 0h2m30 0h0m13 0h1m4 0h0m4 0h0m3 0h0m2 0h0m2 0h0m16 0h0m10 0h0m15 0h1m5 0h3m35 0h0m4 0h0m2 0h0m3 0h0m105 0h0M156 68h1m73 0h1m43 0h4m2 0h0m2 0h0m4 0h0m6 0h1m11 0h0m27 0h0m8 0h0m2 0h1m21 0h0m14 0h0m8 0h0m2 0h0m29 0h0m67 0h0M259 69h0m12 0h0m13 0h0m2 0h2m3 0h0m12 0h0m2 0h4m21 0h0m2 0h0m7 0h0m5 0h0m21 0h0m16 0h0m2 0h1m6 0h0m11 0h1m4 0h0m9 0h0m4 0h1m70 0h0m19 0h0M155 70h1m97 0h0m4 0h0m21 0h0m7 0h0m3 0h1m3 0h0m10 0h0m2 0h1m4 0h1m4 0h0m17 0h0m9 0h2m3 0h0m37 0h0m4 0h0m10 0h0m7 0h1m14 0h0m2 0h0m50 0h0m2 0h0m37 0h0M150 71h0m37 0h0m2 0h0m36 0h0m14 0h0m2 0h0m38 0h0m10 0h0m2 0h0m2 0h0m5 0h1m9 0h1m4 0h0m3 0h0m3 0h0m12 0h1m6 0h0m6 0h0m15 0h0m21 0h0m2 0h1m12 0h0m4 0h1m2 0h0m2 0h3m7 0h0m57 0h0M260 72h1m13 0h1m9 0h2m3 0h1m5 0h0m2 0h2m8 0h2m2 0h0m5 0h3m8 0h0m10 0h0m8 0h0m50 0h0m6 0h1m2 0h0m68 0h0m2 0h0m7 0h0m23 0h0M157 73h0m52 0h0m47 0h0m5 0h1m12 0h0m9 0h1m3 0h0m3 0h0m2 0h0m6 0h0m4 0h0m6 0h0m7 0h2m10 0h0m10 0h0m9 0h0m38 0h0m5 0h0m10 0h1m2 0h1m11 0h0m50 0h0m8 0h0M148 74h0m4 0h0m105 0h0m2 0h0m2 0h0m13 0h0m3 0h0m4 0h2m3 0h1m7 0h0m4 0h3m2 0h2m4 0h0m3 0h0m2 0h0m3 0h1m18 0h0m11 0h0m27 0h0m13 0h0m2 0h2m3 0h0m3 0h2m2 0h0m56 0h0m5 0h0m2 0h0m6 0h1M146 75h2m3 0h0m4 0h1m84 0h0m18 0h0m17 0h2m3 0h4m3 0h0m2 0h1m2 0h1m5 0h0m3 0h0m5 0h3m5 0h0m22 0h2m10 0h0m42 0h0m10 0h1m9 0h0m2 0h0m45 0h0m2 0h1m10 0h0m2 0h2m31 0h0M147 76h1m60 0h0m31 0h1m23 0h0m13 0h0m2 0h0m8 0h0m5 0h0m5 0h0m2 0h0m4 0h1m5 0h1m6 0h0m3 0h0m19 0h1m40 0h0m2 0h0m15 0h0m5 0h0m9 0h0m3 0h0m44 0h0m2 0h0m3 0h0m8 0h0m3 0h1m31 0h1M147 77h1m8 0h0m103 0h1m3 0h0m12 0h1m5 0h0m5 0h0m2 0h0m16 0h0m2 0h0m9 0h0m63 0h0m16 0h0m2 0h0m8 0h0m2 0h0m2 0h0m17 0h0m33 0h0m2 0h2m6 0h0m5 0h0m29 0h2M147 78h0m4 0h0m74 0h0m36 0h0m2 0h1m24 0h0m8 0h0m9 0h0m10 0h0m21 0h2m42 0h0m8 0h0m2 0h0m7 0h0m4 0h0m3 0h0m3 0h2m5 0h0m45 0h0m14 0h0M142 79h1m8 0h0m2 0h0m106 0h0m2 0h0m6 0h0m26 0h0m2 0h1m8 0h0m10 0h0m78 0h1m3 0h0m5 0h0m5 0h1m7 0h0m44 0h4M140 80h2m4 0h2m2 0h3m3 0h0m77 0h0m3 0h1m3 0h0m20 0h1m25 0h0m8 0h1m3 0h0m4 0h0m2 0h0m7 0h0m82 0h1m4 0h1m8 0h0m2 0h0m54 0h0m3 0h1m3 0h0M144 81h0m2 0h0m5 0h0m2 0h0m57 0h0m24 0h1m3 0h0m18 0h1m14 0h0m3 0h0m4 0h1m6 0h0m9 0h1m6 0h1m85 0h0m4 0h1m5 0h0m11 0h0m50 0h0m3 0h0m2 0h1m3 0h1M140 82h1m3 0h1m2 0h2m60 0h0m25 0h0m4 0h0m14 0h0m19 0h0m5 0h0m5 0h0m3 0h1m12 0h0m4 0h2m8 0h0m68 0h0m8 0h0m2 0h0m3 0h0m5 0h1m4 0h1m4 0h0m49 0h2m6 0h0M153 83h0m99 0h1m3 0h0m10 0h0m2 0h0m2 0h1m3 0h1m3 0h1m2 0h1m7 0h0m2 0h0m5 0h0m13 0h1m81 0h1m3 0h0m4 0h1m2 0h0m41 0h0m12 0h1m5 0h0m2 0h0M140 84h0m2 0h0m121 0h0m4 0h0m5 0h0m6 0h0m3 0h2m2 0h0m4 0h0m7 0h1m5 0h0m9 0h0m79 0h0m2 0h0m5 0h0m7 0h1m39 0h1m7 0h0m13 0h0M145 85h0m65 0h0m48 0h0m6 0h0m4 0h1m17 0h1m3 0h1m7 0h0m4 0h0m89 0h1m4 0h0m2 0h0m3 0h0m2 0h0m42 0h0m2 0h0m4 0h0m3 0h0m2 0h0m9 0h1M138 86h0m8 0h0m72 0h0m2 0h0m39 0h1m4 0h0m3 0h3m2 0h0m2 0h0m10 0h2m3 0h0m2 0h0m6 0h1m101 0h0m4 0h0m2 0h0m5 0h0m34 0h0m7 0h1m4 0h0m10 0h2M145 87h0m74 0h0m2 0h0m33 0h0m5 0h0m3 0h0m3 0h0m14 0h0m3 0h0m3 0h1m7 0h0m6 0h0m3 0h0m6 0h0m83 0h0m13 0h1m2 0h0m4 0h0m3 0h0m29 0h0m3 0h0m6 0h0m6 0h0m2 0h0M144 88h1m45 0h0m16 0h0m11 0h2m30 0h2m9 0h0m4 0h0m9 0h0m5 0h0m3 0h3m2 0h1m3 0h0m8 0h2m3 0h0m3 0h1m81 0h1m7 0h1m2 0h0m4 0h1m2 0h0m4 0h1m32 0h0m6 0h1m4 0h0m4 0h0m2 0h1m5 0h0m2 0h2M143 89h0m2 0h0m46 0h0m30 0h0m2 0h0m26 0h0m5 0h0m4 0h1m2 0h1m3 0h0m8 0h4m8 0h0m4 0h0m2 0h0m8 0h0m3 0h0m3 0h0m5 0h0m78 0h1m4 0h0m3 0h0m3 0h0m12 0h1m21 0h0m2 0h2m6 0h0m4 0h0m2 0h1m4 0h0m2 0h1m2 0h0M151 90h0m47 0h0m50 0h0m3 0h1m3 0h0m2 0h1m15 0h0m5 0h1m9 0h0m12 0h1m4 0h0m6 0h0m119 0h0m3 0h0m2 0h0m7 0h0m2 0h1m4 0h1m6 0h1m3 0h0M249 91h4m2 0h4m2 0h3m10 0h0m13 0h0m11 0h0m13 0h0m83 0h0m4 0h0m38 0h0m15 0h0m5 0h0m6 0h1m2 0h0M238 92h0m9 0h3m5 0h0m5 0h2m9 0h0m7 0h0m13 0h0m10 0h0m2 0h0m7 0h1m82 0h1m3 0h2m13 0h0m13 0h0m8 0h0m14 0h1m2 0h0m8 0h0m3 0h0m8 0h0m4 0h1M132 93h0m88 0h0m27 0h1m3 0h1m3 0h0m4 0h0m2 0h0m6 0h0m5 0h1m2 0h2m3 0h0m114 0h0m2 0h3m31 0h0m2 0h0m18 0h2m10 0h0m2 0h1M132 94h0m12 0h1m7 0h0m66 0h0m36 0h2m4 0h0m3 0h0m6 0h0m4 0h1m6 0h0m2 0h0m2 0h1m2 0h1m19 0h1m84 0h0m5 0h1m19 0h2m11 0h1m7 0h0m11 0h0m4 0h2m4 0h0m3 0h0M130 95h0m2 0h0m3 0h0m14 0h1m2 0h0m3 0h0m60 0h1m10 0h0m4 0h0m21 0h0m11 0h0m9 0h1m5 0h0m4 0h0m10 0h1m15 0h0m4 0h0m54 0h0m32 0h0m31 0h0m2 0h2m6 0h0m14 0h0m5 0h0m2 0h0m2 0h1m2 0h0m3 0h1M129 96h0m2 0h1m2 0h0m3 0h1m13 0h2m65 0h1m7 0h0m4 0h0m29 0h0m8 0h0m6 0h0m6 0h2m5 0h0m5 0h0m8 0h0m13 0h2m51 0h0m31 0h0m30 0h0m3 0h1m9 0h0m17 0h1m2 0h0M157 97h0m55 0h0m3 0h0m11 0h0m2 0h0m16 0h0m9 0h0m3 0h2m5 0h1m9 0h0m9 0h0m7 0h0m3 0h0m7 0h0m56 0h0m20 0h0m20 0h0m3 0h0m2 0h0m22 0h0m7 0h0m11 0h0m14 0h1m8 0h1m37 0h0M137 98h0m15 0h0m77 0h1m24 0h1m2 0h1m8 0h0m2 0h0m12 0h0m3 0h0m3 0h1m2 0h0m2 0h1m11 0h0m2 0h2m59 0h0m6 0h0m3 0h0m5 0h0m16 0h0m4 0h0m6 0h0m11 0h0m8 0h0m3 0h0m7 0h0m3 0h1m5 0h0m3 0h0m3 0h2m5 0h0m2 0h0m23 0h1m16 0h0m4 0h0M139 99h1m97 0h0m2 0h0m6 0h0m6 0h1m2 0h0m14 0h0m5 0h0m8 0h0m2 0h2m4 0h0m10 0h0m54 0h1m9 0h0m10 0h2m2 0h0m24 0h0m3 0h1m13 0h1m2 0h0m5 0h0m16 0h1m5 0h5m2 0h0m2 0h0m26 0h0m8 0h0m7 0h0M139 100h0m98 0h0m13 0h2m11 0h0m4 0h0m5 0h0m8 0h0m4 0h1m2 0h0m5 0h0m6 0h0m60 0h0m6 0h1m4 0h0m4 0h0m20 0h1m9 0h1m41 0h0m5 0h2m4 0h1m12 0h0m3 0h0m3 0h0m8 0h0m7 0h0m5 0h0m9 0h0M135 101h0m20 0h0m82 0h0m12 0h0m2 0h1m3 0h0m4 0h0m2 0h0m11 0h0m11 0h0m2 0h0m13 0h0m8 0h0m55 0h0m2 0h0m3 0h0m3 0h0m2 0h1m11 0h1m14 0h0m28 0h0m24 0h0m9 0h1m19 0h0m3 0h0m8 0h4m4 0h0m2 0h0m3 0h0M138 102h0m5 0h0m3 0h1m32 0h0m55 0h0m3 0h0m5 0h1m8 0h2m4 0h0m4 0h0m11 0h1m7 0h1m2 0h0m63 0h0m21 0h0m2 0h1m2 0h0m12 0h2m47 0h0m19 0h0m2 0h0m3 0h0m5 0h0m18 0h0m4 0h1m9 0h0m5 0h0m2 0h1M134 103h0m9 0h0m3 0h0m6 0h0m14 0h0m34 0h0m30 0h0m5 0h1m5 0h1m11 0h0m16 0h0m2 0h0m3 0h0m10 0h0m3 0h1m2 0h1m7 0h0m6 0h0m40 0h0m2 0h1m20 0h0m2 0h0m2 0h1m6 0h0m4 0h0m4 0h0m6 0h0m31 0h0m2 0h1m4 0h0m3 0h2m10 0h0m6 0h1m5 0h0m7 0h0m15 0h0m6 0h0m9 0h0m2 0h0m3 0h0m2 0h0M133 104h1m10 0h0m93 0h0m12 0h0m6 0h0m16 0h0m3 0h0m14 0h0m2 0h1m15 0h0m40 0h0m18 0h1m2 0h0m2 0h0m2 0h1m3 0h0m3 0h0m2 0h2m3 0h0m11 0h0m6 0h0m20 0h0m6 0h0m2 0h0m2 0h0m2 0h0m2 0h0m11 0h0m3 0h5m7 0h0m11 0h0m9 0h0m3 0h0m8 0h1m2 0h0m4 0h1m2 0h4M132 105h0m2 0h0m105 0h0m12 0h0m5 0h0m5 0h0m8 0h2m3 0h1m10 0h0m5 0h0m14 0h1m46 0h0m12 0h0m2 0h0m8 0h1m3 0h1m4 0h2m8 0h0m2 0h0m3 0h0m6 0h0m12 0h0m2 0h0m2 0h0m11 0h0m3 0h0m3 0h0m12 0h0m4 0h0m3 0h0m5 0h0m9 0h0m5 0h1m7 0h2m5 0h0m4 0h1m8 0h0m3 0h0M125 106h1m3 0h0m5 0h0m12 0h1m83 0h1m24 0h0m3 0h0m10 0h1m13 0h1m2 0h1m4 0h2m6 0h0m7 0h0m46 0h1m13 0h0m2 0h0m4 0h0m2 0h0m3 0h0m5 0h0m6 0h1m5 0h0m10 0h1m20 0h0m3 0h0m2 0h3m4 0h0m14 0h0m10 0h1m6 0h0m6 0h0m10 0h0m5 0h0m6 0h0m8 0h2m2 0h0M126 107h3m5 0h0m3 0h0m9 0h0m2 0h0m80 0h2m19 0h1m16 0h1m16 0h0m2 0h3m3 0h2m3 0h0m2 0h0m2 0h0m3 0h1m48 0h0m13 0h1m5 0h0m4 0h0m2 0h4m5 0h0m8 0h0m7 0h2m11 0h0m2 0h0m2 0h0m2 0h1m8 0h0m4 0h0m3 0h0m12 0h0m8 0h0m28 0h0m20 0h0M127 108h0m10 0h0m89 0h0m3 0h0m36 0h0m3 0h2m9 0h0m5 0h0m4 0h0m3 0h1m2 0h0m3 0h4m4 0h0m44 0h0m2 0h0m2 0h1m4 0h0m6 0h0m7 0h1m6 0h0m2 0h0m47 0h0m4 0h0m14 0h0m5 0h0m12 0h0m6 0h0m6 0h0m8 0h0m18 0h0M126 109h0m2 0h0m9 0h0m5 0h0m6 0h0m3 0h0m3 0h0m74 0h0m16 0h0m2 0h1m2 0h0m6 0h0m2 0h0m6 0h0m2 0h0m4 0h1m2 0h0m9 0h0m8 0h1m2 0h4m2 0h0m4 0h0m2 0h1m43 0h0m3 0h0m9 0h0m2 0h0m3 0h0m2 0h0m4 0h0m7 0h0m2 0h0m7 0h0m4 0h0m2 0h1m23 0h0m10 0h1m10 0h0m2 0h0m5 0h0m3 0h0m3 0h1m3 0h1m2 0h0m6 0h0m4 0h0m7 0h1m10 0h0m2 0h0M120 110h0m27 0h1m98 0h0m19 0h0m2 0h0m2 0h0m14 0h0m10 0h3m2 0h0m51 0h0m2 0h0m5 0h0m2 0h0m6 0h0m14 0h0m2 0h0m2 0h0m7 0h0m2 0h0m24 0h2m15 0h0m12 0h0m5 0h0m3 0h0m5 0h1m5 0h0m20 0h3m3 0h0M125 111h0m12 0h1m4 0h0m2 0h0m3 0h0m2 0h0m75 0h0m28 0h0m3 0h1m12 0h0m2 0h2m7 0h0m3 0h0m2 0h0m5 0h0m8 0h0m3 0h0m4 0h0m42 0h0m5 0h0m5 0h0m7 0h0m2 0h0m18 0h0m6 0h0m24 0h1m5 0h0m2 0h0m16 0h0m17 0h4m4 0h0m2 0h1m22 0h0m4 0h0M122 112h1m10 0h2m3 0h1m4 0h0m6 0h0m2 0h0m2 0h0m85 0h1m13 0h0m2 0h1m2 0h0m11 0h1m3 0h0m20 0h1m6 0h1m57 0h0m2 0h1m2 0h0m4 0h0m6 0h0m2 0h0m5 0h0m2 0h0m2 0h0m3 0h0m2 0h0m31 0h0m2 0h0m3 0h2m20 0h0m7 0h0m3 0h1m7 0h0m10 0h0m5 0h0m2 0h0m6 0h1m5 0h0m10 0h0M122 113h0m2 0h0m6 0h1m2 0h0m2 0h1m2 0h1m6 0h0m3 0h0m2 0h0m2 0h1m59 0h1m44 0h0m5 0h0m3 0h0m5 0h1m19 0h1m5 0h1m5 0h2m42 0h0m3 0h0m2 0h1m2 0h1m5 0h0m12 0h0m3 0h0m2 0h0m4 0h1m3 0h3m28 0h0m8 0h2m29 0h1m16 0h0m7 0h0m4 0h0m7 0h0m3 0h0m2 0h0M119 114h0m3 0h1m2 0h1m4 0h0m3 0h0m2 0h0m7 0h0m4 0h0m7 0h0m3 0h1m61 0h0m37 0h2m5 0h0m2 0h1m3 0h0m19 0h0m2 0h0m2 0h0m3 0h0m2 0h0m7 0h0m49 0h0m2 0h2m4 0h2m2 0h0m5 0h1m3 0h0m3 0h0m3 0h0m3 0h0m2 0h5m31 0h0m29 0h0m5 0h0m9 0h0m2 0h0m13 0h0m4 0h1m2 0h0m6 0h1m9 0h0M120 115h0m22 0h3m4 0h1m3 0h0m3 0h0m62 0h0m5 0h0m25 0h1m6 0h0m2 0h1m3 0h0m3 0h0m7 0h0m19 0h1m7 0h0m56 0h1m7 0h0m11 0h1m3 0h0m2 0h0m2 0h1m3 0h0m2 0h0m25 0h0m18 0h1m4 0h1m2 0h0m18 0h0m2 0h0m2 0h0m25 0h0m4 0h0m8 0h0m3 0h1M118 116h0m4 0h0m12 0h0m6 0h1m8 0h0m16 0h0m34 0h0m23 0h2m3 0h0m7 0h0m11 0h0m9 0h0m2 0h2m4 0h1m6 0h0m4 0h0m22 0h0m3 0h0m4 0h0m2 0h0m2 0h0m43 0h0m5 0h0m4 0h1m4 0h0m10 0h2m4 0h0m48 0h2m4 0h0m11 0h0m3 0h0m11 0h0m3 0h1m22 0h0m8 0h0m4 0h0m6 0h1M121 117h0m2 0h0m11 0h1m5 0h0m12 0h1m14 0h0m68 0h0m10 0h0m5 0h0m6 0h4m2 0h0m6 0h2m4 0h0m20 0h0m2 0h2m7 0h0m5 0h0m44 0h0m3 0h1m2 0h0m5 0h0m5 0h0m4 0h0m3 0h0m9 0h0m3 0h2m33 0h0m3 0h2m5 0h0m2 0h0m9 0h0m14 0h0m22 0h1m12 0h0m2 0h0m7 0h1M138 118h0m2 0h0m3 0h0m7 0h0m17 0h0m58 0h0m21 0h0m3 0h0m2 0h0m6 0h2m12 0h1m4 0h0m2 0h0m7 0h0m2 0h0m5 0h0m6 0h0m3 0h0m4 0h0m41 0h2m3 0h0m3 0h0m2 0h0m2 0h0m6 0h0m2 0h0m10 0h0m8 0h0m2 0h0m2 0h1m2 0h0m30 0h0m4 0h0m2 0h0m4 0h0m6 0h0m3 0h0m4 0h0m10 0h0m4 0h0m2 0h0m4 0h0m18 0h1m9 0h0m2 0h3m4 0h0M116 119h0m19 0h0m3 0h1m3 0h0m11 0h0m8 0h0m34 0h0m3 0h0m3 0h0m14 0h0m2 0h0m10 0h0m3 0h0m16 0h0m5 0h1m4 0h1m2 0h0m4 0h0m14 0h0m4 0h0m4 0h0m5 0h1m2 0h0m2 0h0m2 0h0m2 0h0m3 0h0m48 0h0m3 0h1m6 0h0m5 0h1m3 0h0m3 0h1m13 0h0m2 0h0m2 0h0m35 0h0m5 0h1m3 0h0m3 0h0m8 0h0m2 0h0m4 0h0m7 0h1m5 0h0m2 0h0m4 0h0m5 0h1m13 0h0m2 0h2m2 0h0m3 0h0m5 0h0M129 120h0m6 0h0m13 0h0m5 0h0m5 0h0m2 0h3m43 0h0m15 0h0m34 0h0m4 0h0m7 0h0m7 0h1m5 0h0m4 0h1m2 0h0m8 0h1m2 0h1m49 0h0m2 0h0m4 0h0m4 0h0m3 0h0m2 0h1m2 0h0m3 0h1m8 0h0m13 0h0m5 0h0m25 0h0m3 0h2m3 0h1m3 0h1m7 0h1m2 0h0m2 0h0m13 0h1m5 0h0m3 0h0m10 0h0m13 0h0m2 0h0M116 121h0m2 0h1m11 0h0m6 0h4m5 0h0m2 0h0m4 0h0m3 0h2m3 0h0m86 0h0m2 0h0m5 0h0m13 0h0m10 0h1m3 0h0m4 0h0m3 0h0m14 0h0m18 0h0m29 0h0m10 0h1m3 0h0m2 0h0m2 0h0m4 0h0m2 0h0m7 0h0m2 0h0m7 0h0m2 0h0m2 0h0m2 0h0m27 0h0m3 0h0m5 0h0m4 0h0m5 0h0m22 0h0m6 0h0m3 0h0M116 122h1m2 0h0m2 0h1m3 0h0m4 0h1m3 0h0m3 0h1m5 0h0m8 0h1m3 0h0m5 0h0m3 0h0m35 0h0m51 0h0m2 0h0m17 0h0m9 0h1m3 0h0m19 0h2m2 0h0m43 0h1m2 0h2m15 0h0m4 0h1m3 0h0m5 0h1m6 0h1m2 0h0m3 0h2m33 0h0m2 0h1m2 0h0m2 0h0m2 0h2m2 0h0m5 0h0m23 0h0m9 0h1m15 0h0m11 0h0M113 123h0m18 0h1m9 0h1m5 0h0m4 0h0m3 0h0m3 0h0m3 0h0m2 0h0m3 0h0m85 0h0m7 0h2m10 0h0m9 0h0m3 0h0m2 0h1m3 0h0m2 0h1m6 0h0m3 0h0m2 0h0m43 0h0m5 0h0m3 0h0m19 0h0m6 0h0m3 0h0m6 0h0m5 0h0m2 0h0m35 0h0m2 0h0m7 0h1m3 0h0m4 0h0m19 0h1m9 0h0m6 0h0m23 0h0m2 0h1M123 124h0m2 0h0m3 0h0m3 0h0m11 0h0m10 0h2m6 0h0m2 0h0m41 0h0m2 0h2m52 0h1m9 0h0m2 0h0m11 0h0m11 0h0m2 0h0m2 0h0m4 0h0m16 0h1m21 0h0m5 0h1m4 0h0m9 0h1m2 0h1m3 0h0m2 0h0m2 0h0m2 0h1m4 0h1m14 0h1m31 0h0m8 0h0m2 0h2m11 0h0m11 0h0m2 0h0m8 0h1m3 0h0m6 0h0m8 0h1m14 0h0m2 0h2M109 125h0m4 0h0m9 0h1m2 0h0m2 0h0m11 0h0m3 0h1m4 0h0m4 0h0m2 0h0m9 0h0m38 0h0m7 0h1m51 0h0m13 0h0m20 0h0m3 0h0m2 0h2m3 0h1m15 0h0m6 0h0m27 0h0m7 0h1m3 0h1m3 0h0m5 0h0m5 0h1m2 0h0m3 0h0m2 0h0m5 0h0m5 0h0m37 0h0m11 0h0m3 0h0m22 0h0m2 0h1m7 0h0m7 0h0m2 0h0m4 0h0m3 0h0m8 0h0M127 126h0m4 0h0m6 0h1m2 0h1m5 0h0m11 0h0m3 0h0m2 0h0m36 0h0m2 0h0m3 0h0m2 0h1m26 0h0m2 0h0m2 0h0m14 0h0m6 0h0m24 0h2m2 0h0m7 0h2m2 0h0m2 0h0m3 0h0m25 0h0m26 0h1m4 0h0m5 0h1m2 0h0m3 0h1m2 0h0m6 0h0m2 0h0m3 0h1m11 0h0m30 0h0m13 0h0m4 0h1m3 0h0m2 0h0m18 0h0m5 0h1m13 0h0m7 0h0m12 0h0M130 127h1m3 0h2m3 0h1m2 0h0m19 0h0m3 0h1m39 0h1m2 0h0m25 0h1m24 0h0m23 0h0m4 0h0m2 0h0m13 0h1m24 0h1m21 0h0m3 0h1m2 0h0m5 0h3m5 0h1m3 0h1m2 0h0m5 0h0m7 0h0m52 0h0m9 0h0m8 0h0m11 0h0m3 0h0m22 0h0M115 128h0m4 0h0m7 0h1m2 0h0m2 0h0m5 0h2m8 0h0m15 0h1m2 0h0m2 0h0m22 0h1m10 0h0m2 0h1m10 0h0m43 0h0m3 0h0m8 0h0m11 0h0m4 0h0m4 0h0m10 0h0m4 0h0m4 0h0m6 0h0m2 0h1m6 0h0m27 0h0m6 0h0m2 0h0m2 0h0m2 0h0m2 0h1m3 0h3m2 0h0m4 0h1m2 0h0m26 0h0m52 0h1m8 0h1m24 0h0m3 0h0m2 0h0M119 129h0m16 0h0m6 0h0m5 0h0m16 0h0m40 0h1m4 0h0m40 0h0m31 0h0m2 0h0m11 0h0m4 0h1m2 0h3m17 0h0m39 0h0m4 0h1m5 0h0m4 0h0m4 0h0m32 0h0m2 0h0m25 0h2m2 0h0m22 0h0m4 0h1m29 0h0M135 130h0m7 0h1m5 0h0m13 0h3m37 0h0m2 0h0m25 0h1m2 0h0m8 0h1m14 0h0m24 0h0m10 0h0m3 0h0m5 0h0m2 0h0m2 0h0m4 0h0m15 0h0m26 0h0m13 0h1m2 0h0m7 0h0m3 0h0m2 0h0m57 0h0m3 0h0m24 0h0m29 0h0m6 0h0m2 0h1m2 0h0M116 131h0m17 0h0m2 0h1m7 0h0m16 0h0m2 0h0m6 0h0m25 0h0m8 0h0m3 0h1m24 0h0m2 0h0m2 0h0m12 0h0m3 0h1m8 0h0m22 0h0m3 0h0m6 0h0m4 0h0m2 0h0m2 0h1m2 0h1m55 0h1m5 0h1m9 0h1m61 0h0m29 0h0m4 0h1m3 0h0m4 0h0m9 0h0m2 0h0m4 0h0M116 132h0m3 0h0m15 0h2m2 0h1m9 0h1m12 0h1m4 0h0m28 0h0m9 0h0m25 0h3m13 0h6m5 0h3m2 0h1m4 0h1m14 0h0m8 0h1m2 0h0m3 0h0m9 0h0m17 0h0m31 0h0m2 0h0m4 0h0m13 0h1m4 0h1m44 0h0m29 0h0m21 0h2m14 0h1M106 133h0m10 0h0m7 0h0m11 0h0m14 0h0m10 0h0m33 0h0m13 0h0m7 0h0m30 0h1m3 0h0m4 0h1m9 0h0m20 0h0m2 0h0m2 0h0m28 0h0m7 0h1m29 0h0m8 0h0m2 0h0m4 0h0m9 0h0m3 0h0m8 0h0m3 0h1m15 0h0m21 0h0m36 0h0m3 0h0m3 0h0m8 0h0m15 0h1M114 134h1m3 0h0m11 0h0m6 0h0m2 0h0m11 0h0m15 0h0m2 0h0m24 0h1m20 0h0m26 0h0m10 0h0m3 0h1m29 0h1m2 0h0m2 0h0m7 0h0m3 0h1m21 0h0m9 0h0m22 0h2m5 0h0m2 0h0m2 0h0m3 0h2m4 0h0m3 0h0m5 0h0m24 0h1m5 0h1m17 0h0m35 0h0m27 0h0m5 0h0m2 0h0M103 135h0m4 0h0m23 0h0m3 0h2m2 0h0m2 0h0m21 0h0m10 0h0m29 0h0m2 0h0m35 0h0m9 0h0m9 0h1m2 0h0m7 0h0m3 0h0m9 0h0m2 0h2m3 0h3m2 0h0m2 0h0m9 0h0m5 0h3m9 0h1m28 0h0m3 0h0m2 0h0m4 0h0m3 0h0m4 0h0m2 0h0m3 0h1m2 0h0m22 0h0m25 0h0m16 0h0m26 0h1m30 0h0M113 136h0m3 0h0m17 0h0m22 0h0m7 0h0m6 0h1m20 0h0m11 0h1m41 0h0m8 0h0m5 0h0m2 0h2m2 0h1m3 0h0m4 0h0m9 0h0m7 0h0m3 0h0m2 0h0m8 0h0m20 0h0m4 0h0m18 0h0m5 0h0m4 0h0m5 0h0m4 0h0m7 0h0m4 0h0m8 0h0m6 0h0m15 0h0m8 0h0m15 0h0m2 0h1m9 0h0m55 0h0M113 137h0m3 0h0m16 0h0m5 0h2m4 0h0m25 0h0m32 0h0m41 0h0m9 0h0m3 0h1m4 0h2m4 0h0m3 0h0m2 0h0m11 0h1m5 0h0m2 0h1m2 0h0m3 0h0m18 0h0m3 0h0m2 0h1m2 0h0m3 0h0m31 0h2m3 0h0m3 0h0m6 0h0m2 0h0m11 0h0m3 0h0m4 0h0m2 0h0m8 0h2m17 0h2m2 0h0m5 0h0m6 0h0m2 0h0m42 0h0m12 0h0m2 0h0M50 138h0m71 0h0m11 0h1m3 0h0m25 0h0m6 0h0m22 0h0m49 0h0m5 0h0m8 0h0m5 0h0m5 0h1m2 0h0m7 0h0m17 0h1m3 0h0m3 0h0m22 0h2m35 0h0m3 0h0m5 0h0m2 0h1m19 0h0m2 0h1m6 0h0m6 0h0m2 0h1m5 0h0m11 0h0m4 0h0m3 0h0m36 0h0m7 0h0m8 0h0m11 0h0m4 0h0M65 139h0m52 0h0m2 0h2m14 0h1m9 0h0m9 0h0m3 0h0m5 0h0m4 0h1m21 0h0m2 0h0m13 0h0m7 0h0m31 0h1m2 0h0m15 0h0m34 0h0m8 0h0m3 0h2m7 0h0m5 0h0m37 0h0m11 0h2m17 0h0m9 0h0m5 0h1m12 0h0m4 0h0m2 0h0m44 0h0m7 0h0m9 0h0m4 0h0m6 0h0m2 0h1M60 140h1m4 0h0m69 0h1m13 0h2m12 0h0m4 0h0m7 0h0m12 0h0m4 0h0m38 0h0m34 0h0m2 0h0m2 0h0m5 0h0m19 0h1m2 0h0m7 0h0m3 0h0m2 0h0m3 0h0m2 0h0m7 0h1m4 0h0m30 0h1m3 0h1m11 0h0m2 0h0m15 0h0m10 0h2m10 0h0m9 0h0m8 0h2m25 0h0m16 0h0m10 0h0m2 0h0m3 0h0m8 0h0M65 141h0m82 0h0m2 0h0m7 0h0m6 0h1m2 0h0m63 0h0m10 0h1m15 0h0m15 0h0m6 0h0m6 0h0m13 0h0m7 0h0m2 0h0m11 0h0m2 0h0m3 0h0m31 0h2m3 0h1m3 0h0m2 0h0m2 0h0m3 0h0m16 0h0m3 0h0m11 0h0m6 0h1m3 0h1m4 0h0m3 0h0m8 0h0m3 0h0m37 0h0m2 0h0m13 0h0m6 0h0M62 142h0m3 0h0m27 0h0m54 0h1m9 0h0m5 0h0m3 0h0m4 0h1m48 0h0m21 0h0m19 0h0m13 0h0m19 0h0m4 0h0m2 0h0m19 0h1m5 0h0m2 0h0m28 0h0m3 0h2m3 0h2m3 0h1m2 0h0m2 0h2m2 0h0m13 0h0m2 0h0m12 0h0m6 0h1m4 0h2m3 0h1m22 0h2m2 0h0m21 0h0m14 0h0m8 0h0M56 143h0m4 0h0m6 0h0m45 0h0m20 0h0m6 0h0m3 0h0m9 0h0m3 0h0m15 0h0m50 0h0m8 0h0m3 0h0m38 0h1m4 0h0m2 0h0m2 0h0m6 0h0m7 0h0m2 0h0m12 0h1m13 0h0m4 0h2m25 0h0m4 0h0m4 0h0m2 0h4m7 0h0m15 0h0m2 0h0m2 0h0m9 0h1m10 0h1m2 0h2m12 0h1m3 0h0m9 0h0m5 0h0m2 0h0m8 0h0m9 0h0m3 0h0m4 0h0m18 0h0M65 144h0m68 0h0m24 0h1m31 0h0m29 0h0m10 0h0m27 0h0m3 0h0m10 0h0m2 0h0m3 0h0m2 0h0m15 0h0m9 0h0m2 0h1m3 0h0m2 0h0m10 0h0m2 0h0m31 0h0m3 0h0m2 0h0m2 0h0m4 0h1m4 0h0m6 0h2m11 0h1m23 0h1m5 0h0m20 0h1m2 0h2m2 0h0m44 0h0M60 145h0m11 0h0m40 0h0m20 0h0m2 0h0m7 0h0m5 0h0m11 0h0m2 0h1m2 0h0m6 0h3m13 0h0m14 0h1m7 0h0m23 0h1m47 0h0m2 0h0m3 0h0m12 0h0m4 0h0m2 0h1m5 0h0m3 0h0m10 0h0m2 0h0m2 0h0m4 0h2m5 0h0m10 0h0m2 0h0m5 0h0m3 0h0m3 0h1m5 0h0m8 0h2m13 0h0m11 0h0m8 0h0m3 0h3m14 0h0m3 0h0m2 0h0m7 0h0m2 0h0m2 0h0m28 0h0m16 0h0M70 146h0m12 0h0m27 0h0m33 0h0m2 0h0m2 0h0m2 0h1m7 0h1m4 0h0m3 0h0m2 0h2m13 0h0m2 0h1m44 0h1m22 0h0m26 0h2m3 0h0m6 0h1m7 0h2m2 0h0m6 0h2m18 0h3m12 0h0m8 0h0m4 0h1m9 0h0m6 0h1m25 0h1m3 0h0m2 0h0m3 0h0m2 0h0m2 0h0m2 0h0m19 0h1m5 0h0m3 0h0m4 0h0m26 0h0m17 0h0M67 147h0m27 0h0m35 0h0m15 0h0m4 0h0m8 0h0m5 0h0m6 0h0m13 0h0m76 0h1m22 0h0m9 0h1m11 0h0m8 0h0m16 0h0m4 0h0m13 0h0m15 0h0m13 0h0m3 0h0m26 0h0m6 0h0m6 0h0m2 0h0m19 0h1m4 0h1m2 0h0m2 0h0m40 0h1M68 148h0m28 0h0m29 0h0m20 0h1m2 0h0m11 0h0m4 0h0m3 0h0m2 0h0m17 0h0m53 0h0m7 0h0m6 0h0m5 0h0m3 0h0m55 0h0m23 0h0m4 0h0m2 0h0m5 0h0m6 0h1m15 0h0m2 0h0m2 0h0m19 0h0m3 0h1m4 0h1m2 0h0m2 0h0m4 0h0m2 0h0m6 0h0m5 0h0m6 0h1m2 0h0m3 0h0m5 0h0m2 0h0m14 0h0m19 0h0m7 0h0m3 0h0M128 149h0m2 0h0m2 0h0m11 0h0m2 0h0m4 0h1m18 0h0m9 0h2m2 0h3m73 0h0m36 0h0m2 0h0m23 0h0m2 0h0m16 0h0m5 0h0m4 0h1m10 0h0m22 0h0m13 0h0m2 0h0m2 0h0m3 0h0m4 0h2m6 0h0m5 0h0m9 0h0m9 0h0m6 0h0m45 0h0M129 150h1m15 0h0m4 0h0m2 0h0m18 0h0m8 0h2m2 0h0m4 0h0m64 0h0m33 0h0m12 0h0m4 0h0m32 0h0m5 0h1m6 0h0m2 0h0m2 0h4m5 0h1m7 0h0m5 0h0m9 0h0m14 0h0m2 0h0m5 0h0m2 0h0m3 0h0m3 0h0m3 0h0m7 0h0m18 0h0m4 0h1m16 0h0M88 151h0m2 0h0m39 0h0m18 0h0m2 0h0m16 0h0m5 0h0m6 0h0m4 0h0m5 0h2m68 0h0m27 0h0m13 0h0m13 0h0m3 0h1m3 0h2m6 0h0m11 0h1m2 0h2m5 0h2m3 0h0m2 0h0m2 0h0m6 0h0m2 0h0m2 0h0m4 0h0m9 0h0m2 0h0m13 0h0m2 0h0m2 0h1m5 0h0m4 0h0m28 0h0m3 0h1m3 0h0M132 152h0m2 0h1m42 0h0m9 0h1m16 0h0m51 0h0m26 0h0m2 0h1m12 0h0m14 0h0m4 0h0m3 0h0m8 0h3m10 0h0m2 0h0m12 0h0m6 0h0m2 0h0m2 0h0m3 0h0m3 0h0m6 0h0m3 0h0m2 0h0m3 0h2m14 0h0m2 0h0m5 0h0m13 0h0m2 0h0m12 0h0m5 0h0m6 0h0m12 0h1M66 153h0m48 0h0m7 0h0m65 0h0m26 0h0m23 0h0m5 0h0m15 0h0m2 0h0m2 0h1m3 0h0m2 0h0m11 0h0m2 0h0m2 0h0m3 0h0m5 0h0m4 0h0m2 0h0m3 0h0m18 0h0m23 0h0m2 0h0m3 0h1m3 0h0m3 0h1m3 0h1m4 0h0m15 0h0m3 0h1m2 0h0m3 0h0m8 0h0m5 0h0m4 0h0m3 0h0m30 0h0m8 0h1M59 154h0m3 0h0m56 0h0m17 0h0m14 0h0m4 0h0m38 0h0m44 0h0m2 0h0m4 0h0m15 0h0m2 0h0m3 0h0m3 0h0m13 0h1m6 0h0m6 0h0m4 0h0m2 0h0m9 0h0m9 0h1m9 0h0m2 0h0m12 0h0m9 0h0m4 0h0m3 0h0m22 0h1m2 0h0m8 0h1m13 0h0m2 0h1m13 0h0m19 0h0m6 0h0m29 0h1M59 155h0m25 0h0m12 0h0m25 0h0m8 0h0m23 0h0m77 0h1m5 0h0m19 0h0m5 0h0m2 0h0m2 0h0m7 0h2m4 0h0m7 0h0m12 0h0m2 0h0m4 0h0m4 0h0m9 0h0m9 0h3m10 0h0m2 0h1m2 0h0m8 0h0m8 0h0m2 0h0m2 0h0m3 0h1m6 0h0m6 0h0m11 0h1m14 0h0m2 0h0m10 0h1m15 0h1m3 0h0m3 0h0m24 0h0m9 0h0M121 156h0m88 0h0m20 0h0m2 0h0m3 0h2m2 0h0m5 0h0m10 0h2m3 0h0m2 0h0m20 0h0m2 0h0m2 0h0m14 0h2m4 0h0m20 0h0m10 0h0m4 0h0m10 0h0m10 0h0m3 0h0m9 0h0m2 0h0m16 0h1m8 0h0m3 0h0m16 0h2m32 0h0m14 0h0M60 157h0m61 0h0m12 0h0m18 0h2m62 0h1m15 0h0m6 0h0m3 0h0m2 0h0m7 0h1m2 0h0m6 0h0m2 0h1m10 0h0m12 0h0m5 0h0m2 0h0m5 0h1m4 0h0m3 0h0m12 0h0m12 0h0m5 0h0m2 0h0m2 0h0m2 0h0m3 0h0m4 0h0m14 0h1m5 0h0m5 0h0m10 0h0m2 0h0m5 0h0m2 0h0m4 0h0m9 0h0m14 0h0m3 0h1m2 0h3m6 0h0m18 0h1m17 0h0M215 158h0m5 0h0m17 0h0m5 0h0m7 0h0m2 0h0m3 0h0m3 0h0m4 0h0m2 0h0m4 0h0m4 0h1m15 0h1m2 0h0m4 0h2m2 0h0m17 0h0m8 0h0m4 0h0m5 0h0m2 0h0m5 0h2m2 0h0m4 0h0m9 0h1m2 0h0m3 0h0m9 0h0m9 0h0m7 0h0m2 0h0m5 0h2m10 0h1m7 0h1m3 0h1m2 0h2m2 0h0m43 0h0M179 159h0m2 0h0m15 0h0m23 0h0m23 0h0m2 0h0m6 0h0m8 0h0m8 0h0m6 0h1m12 0h0m3 0h1m5 0h1m2 0h1m8 0h0m15 0h0m5 0h1m2 0h2m6 0h1m4 0h1m6 0h0m14 0h0m15 0h0m2 0h0m8 0h0m3 0h0m13 0h1m2 0h0m9 0h0m6 0h0m45 0h0M252 160h0m4 0h0m2 0h0m2 0h0m10 0h0m2 0h3m3 0h0m4 0h0m2 0h0m2 0h0m2 0h1m6 0h0m9 0h1m16 0h3m2 0h3m5 0h0m4 0h2m2 0h0m6 0h0m2 0h0m3 0h0m2 0h1m5 0h0m2 0h0m10 0h0m2 0h0m2 0h0m8 0h1m18 0h1m2 0h0m7 0h0m5 0h0m2 0h0m46 0h0M119 161h0m44 0h1m75 0h0m5 0h1m9 0h0m3 0h1m9 0h0m8 0h0m2 0h0m4 0h0m4 0h0m2 0h3m33 0h1m4 0h1m2 0h0m7 0h0m6 0h0m4 0h0m4 0h0m10 0h0m2 0h0m2 0h0m20 0h0m20 0h0m6 0h0m2 0h0m15 0h0M76 162h0m94 0h0m48 0h0m15 0h0m17 0h0m4 0h0m10 0h1m9 0h0m3 0h0m2 0h1m2 0h0m3 0h0m5 0h0m5 0h1m11 0h1m9 0h0m7 0h0m2 0h3m9 0h0m3 0h0m5 0h2m10 0h0m5 0h0m3 0h0m2 0h0m6 0h0m8 0h0m5 0h0m27 0h0m4 0h0m3 0h0m5 0h0m4 0h0m9 0h0M95 163h0m63 0h0m47 0h0m15 0h0m14 0h0m16 0h0m5 0h0m4 0h2m3 0h1m9 0h0m5 0h0m7 0h0m14 0h1m3 0h1m3 0h0m33 0h1m9 0h1m7 0h1m7 0h0m5 0h0m3 0h0m6 0h1m23 0h2m2 0h0m4 0h3m14 0h0m12 0h0m24 0h0M62 164h0m32 0h0m61 0h1m57 0h0m5 0h0m3 0h0m29 0h1m6 0h1m2 0h0m3 0h0m2 0h0m7 0h0m4 0h0m2 0h0m2 0h0m9 0h0m2 0h0m39 0h0m3 0h1m7 0h0m3 0h1m6 0h0m2 0h1m2 0h0m2 0h0m10 0h0m3 0h0m2 0h1m8 0h0m18 0h0m5 0h0m4 0h0m11 0h0m2 0h0m8 0h0M94 165h0m60 0h0m63 0h0m5 0h0m6 0h1m13 0h0m4 0h0m5 0h1m4 0h0m4 0h0m2 0h2m5 0h0m5 0h2m3 0h1m5 0h0m2 0h0m19 0h0m2 0h1m14 0h0m4 0h0m6 0h0m12 0h0m6 0h1m4 0h1m2 0h0m3 0h0m3 0h0m2 0h0m4 0h0m27 0h0m8 0h0m2 0h0m2 0h0m8 0h0M77 166h0m24 0h0m54 0h0m59 0h0m7 0h0m20 0h1m6 0h0m5 0h0m2 0h0m20 0h1m2 0h0m7 0h0m2 0h1m3 0h0m2 0h0m6 0h0m18 0h0m8 0h0m2 0h1m4 0h0m4 0h0m9 0h2m3 0h1m3 0h0m2 0h0m20 0h1m3 0h0m8 0h0m5 0h0m11 0h0m4 0h0m4 0h0m5 0h1M77 167h0m2 0h0m88 0h2m45 0h0m8 0h0m2 0h0m11 0h0m5 0h0m4 0h1m7 0h3m10 0h1m3 0h1m8 0h0m6 0h0m2 0h0m30 0h0m10 0h0m12 0h0m7 0h3m29 0h0m4 0h0m2 0h0m25 0h0m6 0h0m3 0h0m47 0h1M172 168h0m49 0h0m3 0h0m10 0h0m8 0h0m21 0h0m16 0h1m2 0h0m2 0h0m3 0h2m7 0h0m6 0h0m2 0h0m6 0h0m8 0h1m2 0h1m20 0h0m6 0h1m13 0h1m6 0h0m9 0h1m10 0h0m18 0h1m5 0h0m3 0h0m3 0h0m16 0h0M172 169h0m5 0h0m44 0h0m11 0h1m3 0h1m3 0h1m2 0h0m2 0h1m6 0h0m8 0h1m4 0h1m2 0h0m2 0h0m5 0h0m2 0h0m2 0h0m4 0h0m2 0h0m2 0h0m7 0h0m2 0h0m4 0h1m3 0h2m3 0h0m2 0h1m3 0h0m5 0h1m6 0h0m22 0h0m3 0h0m9 0h2m5 0h1m2 0h0m4 0h1m2 0h0m5 0h0m2 0h1m2 0h0m6 0h0m15 0h0m6 0h0m2 0h1m46 0h0M72 170h0m14 0h0m21 0h0m115 0h1m3 0h1m6 0h2m5 0h0m2 0h0m7 0h0m3 0h0m2 0h1m5 0h0m7 0h1m10 0h0m2 0h0m2 0h0m3 0h0m4 0h4m6 0h1m3 0h0m7 0h0m10 0h1m4 0h1m10 0h1m7 0h0m2 0h1m2 0h0m2 0h0m2 0h0m2 0h0m8 0h0m2 0h0m6 0h0m6 0h1m5 0h0m3 0h0m2 0h1m25 0h0m4 0h0m2 0h1m2 0h0m2 0h0m9 0h1m12 0h0m2 0h0m14 0h0M76 171h0m146 0h1m13 0h0m2 0h0m2 0h0m6 0h2m2 0h0m9 0h0m8 0h0m2 0h1m6 0h0m8 0h0m2 0h0m5 0h1m5 0h0m3 0h0m4 0h1m5 0h0m3 0h0m11 0h1m30 0h0m3 0h1m2 0h0m4 0h0m6 0h1m8 0h0m2 0h0m3 0h2m7 0h0m8 0h0m15 0h0m7 0h1m2 0h0m8 0h0m12 0h0M74 172h0m161 0h4m5 0h0m3 0h4m18 0h1m4 0h2m2 0h0m7 0h2m2 0h2m8 0h3m8 0h0m3 0h0m9 0h0m9 0h0m10 0h1m4 0h0m7 0h0m2 0h0m2 0h0m4 0h0m2 0h0m2 0h0m6 0h0m9 0h0m2 0h3m5 0h0m5 0h0m18 0h0m2 0h0m5 0h2m7 0h0m4 0h0m2 0h2m10 0h2M138 173h0m111 0h0m11 0h0m4 0h1m2 0h0m4 0h1m3 0h0m3 0h1m7 0h0m4 0h1m5 0h0m2 0h1m2 0h0m7 0h2m2 0h0m8 0h0m7 0h0m3 0h0m7 0h1m2 0h0m2 0h0m12 0h0m4 0h0m4 0h0m4 0h1m3 0h1m9 0h0m5 0h0m2 0h0m2 0h0m2 0h0m11 0h0m10 0h1m2 0h0m6 0h0m6 0h0m3 0h0m3 0h3m7 0h0m3 0h0M63 174h0m168 0h0m27 0h1m3 0h0m5 0h0m2 0h1m10 0h1m13 0h0m2 0h1m4 0h0m2 0h0m5 0h1m2 0h2m7 0h0m6 0h0m4 0h1m5 0h0m4 0h0m2 0h0m3 0h0m7 0h0m2 0h1m3 0h0m2 0h0m3 0h0m7 0h0m6 0h0m16 0h0m7 0h0m4 0h0m6 0h0m4 0h0m2 0h2m2 0h5m4 0h0m17 0h0m2 0h1m13 0h0M65 175h0m34 0h0m72 0h0m23 0h0m26 0h0m12 0h0m6 0h0m14 0h0m6 0h3m2 0h0m2 0h1m3 0h0m2 0h2m4 0h1m2 0h2m7 0h1m5 0h1m14 0h0m7 0h1m2 0h0m8 0h0m11 0h1m3 0h0m2 0h0m7 0h0m2 0h1m4 0h1m2 0h0m2 0h2m3 0h1m3 0h0m3 0h0m3 0h1m8 0h0m15 0h0m6 0h0m10 0h0m21 0h0m22 0h0M175 176h0m40 0h0m4 0h0m12 0h0m25 0h0m3 0h0m4 0h0m2 0h0m6 0h0m3 0h0m14 0h1m28 0h0m12 0h0m10 0h1m2 0h0m9 0h0m8 0h0m2 0h1m5 0h0m3 0h0m4 0h0m2 0h1m5 0h0m17 0h0m27 0h0m14 0h0m14 0h0m4 0h2M67 177h0m98 0h0m56 0h3m7 0h0m13 0h0m17 0h2m7 0h0m4 0h0m53 0h0m14 0h0m8 0h0m2 0h0m9 0h0m5 0h1m9 0h0m8 0h0m12 0h1m2 0h0m2 0h0m5 0h0m21 0h0m3 0h0m2 0h0m9 0h0m12 0h0m2 0h0m6 0h1m2 0h0M164 178h0m2 0h0m40 0h0m13 0h3m18 0h0m2 0h1m9 0h0m7 0h0m3 0h0m5 0h0m4 0h0m3 0h0m6 0h0m8 0h0m9 0h1m2 0h1m19 0h0m3 0h0m17 0h5m4 0h1m3 0h0m9 0h2m3 0h0m7 0h3m4 0h2m2 0h0m4 0h0m6 0h5m2 0h1m3 0h0m6 0h0m9 0h0m21 0h0m17 0h0m3 0h0M67 179h0m131 0h1m7 0h0m12 0h1m19 0h0m2 0h0m19 0h1m11 0h1m17 0h0m12 0h0m16 0h0m2 0h0m4 0h0m2 0h0m18 0h0m2 0h0m8 0h0m2 0h0m6 0h0m4 0h3m2 0h3m4 0h0m3 0h1m2 0h0m2 0h0m3 0h0m2 0h0m2 0h1m2 0h1m2 0h0m3 0h0m23 0h0m2 0h0m3 0h1m2 0h0m13 0h0m6 0h0m3 0h1m2 0h0m3 0h0m2 0h1M65 180h2m139 0h1m31 0h0m3 0h0m4 0h0m9 0h0m16 0h1m4 0h1m2 0h0m4 0h1m14 0h1m21 0h0m26 0h2m3 0h0m2 0h0m9 0h0m3 0h0m2 0h0m3 0h1m6 0h1m7 0h0m5 0h0m6 0h0m2 0h1m7 0h0m14 0h0m10 0h0m28 0h0M72 181h0m7 0h1m5 0h0m160 0h0m5 0h0m15 0h0m2 0h0m2 0h0m2 0h0m24 0h0m4 0h1m20 0h0m4 0h0m6 0h3m8 0h0m3 0h0m3 0h1m3 0h1m5 0h0m2 0h0m4 0h0m5 0h0m4 0h0m2 0h0m8 0h1m7 0h1m3 0h2m3 0h1m22 0h1m12 0h0m18 0h0m4 0h2m4 0h0M68 182h0m8 0h0m90 0h0m64 0h0m6 0h0m4 0h1m4 0h0m4 0h1m4 0h1m14 0h2m3 0h1m6 0h0m11 0h0m8 0h1m16 0h0m9 0h1m5 0h0m6 0h0m14 0h5m2 0h1m3 0h0m2 0h0m2 0h0m3 0h0m2 0h0m11 0h0m2 0h0m6 0h1m6 0h2m16 0h0m8 0h1m4 0h0m2 0h0m27 0h0M67 183h1m28 0h0m34 0h0m15 0h0m53 0h0m16 0h1m25 0h1m2 0h3m2 0h0m5 0h1m6 0h0m10 0h0m3 0h0m4 0h0m13 0h1m2 0h0m23 0h1m2 0h1m5 0h0m5 0h1m11 0h0m13 0h0m3 0h1m3 0h4m3 0h0m10 0h0m15 0h0m3 0h0m18 0h0m11 0h0m5 0h1m2 0h0M71 184h0m2 0h0m8 0h0m61 0h0m64 0h0m34 0h1m2 0h0m3 0h1m6 0h0m5 0h0m5 0h1m6 0h1m22 0h0m2 0h0m7 0h0m18 0h0m10 0h0m3 0h0m6 0h3m2 0h1m5 0h0m3 0h0m3 0h1m15 0h0m2 0h0m3 0h1m2 0h0m2 0h0m5 0h0m11 0h1m23 0h0m3 0h0m3 0h4m12 0h0M72 185h0m6 0h0m2 0h0m3 0h0m90 0h0m62 0h0m2 0h0m2 0h0m5 0h1m10 0h0m2 0h1m2 0h0m9 0h0m2 0h0m3 0h0m18 0h0m5 0h0m25 0h0m7 0h0m4 0h2m5 0h0m5 0h0m7 0h1m2 0h1m16 0h0m6 0h0m2 0h0m6 0h5m7 0h0m2 0h0m21 0h0m4 0h1M96 186h0m76 0h0m8 0h0m22 0h1m5 0h0m2 0h0m35 0h0m2 0h1m7 0h0m3 0h0m2 0h0m2 0h0m5 0h0m2 0h0m25 0h0m2 0h1m5 0h0m19 0h0m3 0h0m4 0h0m4 0h1m10 0h1m2 0h1m2 0h0m3 0h0m2 0h0m6 0h0m3 0h0m10 0h1m5 0h1m3 0h0m2 0h0m3 0h0m9 0h0m24 0h0m3 0h0m30 0h0M61 187h0m60 0h0m59 0h0m25 0h0m4 0h0m16 0h1m9 0h0m14 0h0m7 0h0m2 0h2m3 0h0m2 0h0m2 0h2m27 0h3m5 0h2m19 0h1m4 0h2m11 0h0m3 0h0m2 0h0m3 0h1m9 0h1m8 0h0m5 0h0m11 0h3m7 0h0m4 0h0m17 0h0m8 0h0m2 0h1M58 188h0m14 0h0m38 0h0m92 0h1m6 0h0m17 0h0m7 0h0m15 0h1m8 0h0m6 0h2m6 0h0m25 0h0m3 0h0m9 0h1m16 0h2m2 0h0m4 0h0m5 0h0m5 0h2m9 0h1m3 0h0m5 0h0m12 0h0m2 0h0m5 0h2m2 0h0m12 0h0m21 0h0m2 0h0m5 0h1m2 0h1m25 0h0M65 189h0m54 0h0m25 0h0m116 0h0m2 0h1m4 0h0m2 0h0m2 0h0m4 0h0m5 0h2m13 0h0m2 0h0m2 0h1m11 0h0m7 0h0m7 0h0m2 0h2m5 0h0m2 0h0m22 0h0m4 0h1m2 0h0m6 0h0m4 0h0m6 0h1m2 0h0m14 0h0m28 0h0m2 0h1m3 0h0m20 0h0M144 190h0m27 0h0m2 0h0m88 0h1m2 0h0m3 0h0m2 0h0m4 0h2m8 0h0m13 0h0m3 0h0m6 0h0m13 0h0m5 0h0m15 0h0m5 0h0m8 0h0m2 0h0m5 0h0m19 0h1m3 0h0m10 0h0m7 0h1m10 0h0m14 0h6m2 0h0m2 0h0m7 0h0m5 0h0m8 0h0M164 191h0m2 0h0m68 0h0m11 0h0m5 0h0m11 0h0m5 0h0m13 0h0m20 0h0m6 0h1m12 0h0m35 0h0m13 0h0m19 0h0m13 0h0m2 0h0m9 0h0m22 0h0m2 0h0m5 0h1m67 0h0M171 192h0m16 0h0m3 0h0m29 0h0m21 0h2m10 0h0m12 0h1m18 0h0m16 0h0m6 0h0m7 0h0m7 0h0m22 0h0m3 0h0m9 0h0m2 0h0m2 0h2m17 0h0m6 0h1m2 0h2m28 0h0m7 0h2m11 0h0m6 0h0m65 0h0M89 193h0m10 0h0m9 0h0m83 0h0m52 0h1m5 0h0m23 0h0m11 0h0m5 0h0m2 0h0m9 0h1m4 0h0m6 0h0m10 0h0m10 0h0m2 0h0m3 0h0m5 0h0m4 0h0m12 0h0m24 0h3m3 0h0m8 0h1m3 0h0m4 0h0m5 0h0m4 0h0m4 0h0m7 0h0m2 0h0m3 0h0m9 0h2m2 0h0m65 0h2m3 0h0M86 194h0m88 0h0m17 0h0m51 0h0m46 0h0m15 0h0m10 0h0m5 0h1m19 0h1m5 0h0m3 0h0m4 0h0m2 0h1m4 0h0m2 0h0m16 0h0m7 0h1m2 0h0m19 0h0m2 0h0m5 0h0m87 0h0m7 0h1m2 0h2M121 195h0m4 0h0m44 0h0m7 0h0m15 0h0m50 0h2m5 0h0m4 0h0m3 0h0m31 0h0m3 0h0m10 0h0m2 0h1m9 0h1m2 0h1m2 0h0m7 0h2m10 0h0m6 0h2m2 0h4m3 0h0m2 0h0m15 0h0m7 0h0m9 0h3m5 0h2m7 0h0m3 0h0m3 0h0m26 0h1m3 0h0m2 0h0m58 0h0m10 0h0m2 0h0M40 196h0m37 0h0m92 0h0m49 0h0m8 0h0m16 0h0m5 0h3m3 0h0m14 0h0m16 0h1m20 0h0m8 0h2m5 0h0m6 0h0m11 0h1m5 0h0m5 0h0m2 0h0m23 0h0m2 0h0m4 0h0m8 0h2m2 0h1m3 0h1m2 0h0m11 0h0m3 0h0m18 0h0m8 0h0m2 0h0m71 0h0M167 197h0m43 0h0m9 0h0m8 0h0m5 0h1m18 0h0m53 0h1m6 0h1m9 0h2m5 0h0m7 0h0m12 0h0m17 0h2m3 0h0m3 0h0m2 0h1m5 0h0m9 0h0m2 0h0m14 0h1m2 0h0m3 0h0m24 0h0m2 0h1m2 0h0m63 0h0m3 0h1m4 0h1M56 198h0m111 0h3m23 0h0m6 0h0m5 0h0m6 0h0m6 0h0m2 0h0m3 0h0m3 0h1m6 0h0m3 0h0m53 0h0m5 0h0m6 0h0m5 0h4m12 0h0m7 0h0m2 0h1m2 0h1m16 0h0m3 0h0m11 0h0m3 0h0m6 0h0m4 0h2m16 0h0m3 0h0m7 0h0m3 0h1m5 0h0m25 0h0m4 0h1m62 0h1m2 0h0m2 0h0M48 199h0m135 0h0m24 0h0m2 0h0m15 0h0m2 0h0m4 0h2m26 0h0m7 0h0m23 0h0m4 0h0m6 0h1m6 0h0m3 0h0m5 0h2m11 0h1m9 0h2m9 0h1m4 0h0m9 0h0m12 0h3m2 0h0m4 0h0m6 0h1m21 0h0m2 0h0m3 0h0m87 0h0m2 0h0m2 0h1m2 0h0m2 0h1M171 200h0m22 0h0m16 0h0m15 0h1m2 0h0m9 0h0m2 0h0m13 0h2m4 0h0m13 0h0m2 0h1m30 0h1m6 0h1m2 0h1m3 0h0m3 0h0m4 0h2m4 0h0m3 0h2m7 0h1m3 0h0m11 0h0m2 0h2m6 0h0m3 0h1m5 0h0m27 0h0m2 0h0m2 0h0m6 0h0m4 0h0m12 0h0m2 0h0m11 0h1m51 0h0m3 0h0M106 201h0m87 0h0m25 0h0m7 0h0m46 0h3m14 0h0m17 0h0m9 0h0m4 0h0m6 0h0m7 0h0m6 0h1m5 0h1m4 0h0m2 0h1m5 0h2m3 0h0m7 0h0m3 0h0m5 0h0m3 0h0m6 0h0m2 0h0m2 0h0m39 0h0m2 0h1m3 0h0m6 0h1m57 0h0m5 0h1M194 202h0m16 0h0m5 0h0m2 0h2m7 0h1m4 0h0m16 0h0m12 0h0m14 0h0m5 0h0m2 0h0m16 0h1m20 0h0m6 0h0m2 0h0m3 0h0m5 0h0m2 0h0m8 0h1m3 0h0m6 0h0m9 0h0m3 0h1m5 0h0m4 0h0m4 0h0m5 0h0m3 0h1m2 0h0m11 0h0m3 0h0m23 0h0m2 0h0m66 0h0m3 0h1m2 0h0m4 0h1m4 0h1M184 203h0m2 0h0m21 0h1m5 0h0m3 0h0m3 0h0m12 0h0m2 0h1m5 0h0m13 0h0m17 0h1m2 0h1m11 0h0m4 0h0m4 0h4m2 0h0m2 0h0m2 0h1m19 0h0m2 0h0m2 0h2m2 0h0m2 0h0m16 0h0m2 0h0m9 0h1m4 0h0m2 0h0m11 0h1m9 0h1m5 0h0m10 0h0m2 0h0m13 0h0m4 0h0m18 0h0m57 0h0m2 0h1m6 0h0M37 204h0m54 0h0m125 0h0m8 0h0m7 0h0m3 0h1m2 0h0m4 0h0m4 0h0m7 0h0m8 0h0m2 0h0m4 0h0m5 0h0m2 0h0m11 0h1m6 0h0m3 0h1m3 0h0m2 0h0m2 0h0m10 0h0m10 0h1m4 0h0m3 0h0m4 0h0m6 0h0m8 0h0m2 0h0m2 0h0m10 0h0m3 0h1m12 0h3m3 0h1m3 0h0m4 0h0m13 0h0m4 0h1m11 0h0m2 0h0m8 0h1m62 0h0m7 0h0m6 0h3M68 205h0m33 0h0m69 0h0m41 0h0m8 0h0m43 0h0m2 0h0m4 0h2m3 0h0m13 0h0m11 0h1m5 0h0m3 0h0m11 0h0m4 0h0m7 0h1m2 0h0m19 0h1m8 0h0m6 0h0m3 0h0m8 0h0m2 0h2m2 0h0m20 0h0m17 0h1m2 0h1m7 0h0m5 0h1m62 0h1m2 0h0m6 0h2M56 206h0m16 0h0m27 0h0m4 0h0m94 0h1m10 0h0m2 0h0m2 0h0m40 0h0m17 0h0m4 0h1m12 0h0m4 0h0m3 0h1m2 0h0m2 0h0m3 0h0m3 0h1m2 0h0m16 0h0m5 0h0m4 0h0m4 0h2m13 0h0m12 0h0m2 0h0m12 0h1m2 0h0m24 0h0m5 0h1m23 0h0m2 0h1m67 0h1m3 0h0M65 207h1m2 0h0m14 0h0m129 0h1m2 0h0m2 0h0m3 0h0m3 0h0m2 0h0m26 0h0m2 0h2m5 0h0m4 0h1m9 0h0m7 0h1m5 0h2m5 0h0m9 0h1m2 0h0m2 0h0m10 0h0m3 0h1m11 0h0m4 0h0m10 0h2m3 0h0m7 0h1m3 0h0m16 0h0m2 0h1m3 0h0m20 0h0m28 0h0m2 0h0m56 0h0m13 0h0m3 0h0m3 0h2M96 208h0m7 0h0m106 0h0m2 0h0m2 0h0m4 0h0m2 0h0m5 0h0m27 0h0m5 0h0m14 0h0m5 0h0m3 0h0m2 0h0m7 0h1m9 0h0m6 0h0m5 0h0m2 0h0m7 0h0m4 0h0m10 0h2m5 0h0m17 0h0m2 0h0m4 0h0m17 0h0m3 0h0m23 0h0m24 0h1m73 0h0m5 0h0M127 209h0m4 0h0m7 0h0m28 0h0m48 0h1m9 0h0m2 0h0m7 0h0m19 0h1m4 0h1m10 0h1m2 0h2m5 0h1m3 0h0m2 0h0m4 0h0m4 0h0m4 0h0m2 0h0m2 0h3m8 0h0m3 0h0m3 0h1m3 0h0m4 0h0m6 0h1m27 0h0m13 0h0m5 0h0m11 0h0m16 0h0m8 0h0m2 0h0m14 0h0m77 0h0m2 0h0m3 0h0M74 210h0m33 0h0m18 0h2m35 0h0m69 0h2m5 0h1m3 0h0m5 0h0m6 0h0m2 0h0m4 0h0m6 0h1m3 0h0m2 0h1m3 0h0m2 0h2m2 0h0m9 0h0m20 0h3m6 0h2m17 0h1m2 0h0m3 0h0m13 0h0m32 0h0m25 0h1m9 0h0m78 0h0m3 0h1M77 211h0m5 0h0m43 0h0m43 0h1m19 0h0m18 0h0m2 0h0m24 0h0m7 0h0m3 0h0m13 0h2m5 0h0m2 0h0m2 0h0m5 0h0m10 0h0m10 0h0m2 0h0m3 0h1m4 0h0m2 0h0m5 0h0m2 0h0m2 0h0m2 0h0m2 0h2m3 0h0m6 0h1m10 0h0m3 0h0m3 0h0m5 0h0m28 0h0m11 0h1m18 0h0m5 0h0m4 0h1m8 0h0m65 0h0m13 0h1m2 0h0M126 212h0m24 0h0m28 0h0m20 0h0m6 0h1m11 0h0m7 0h2m7 0h3m5 0h0m2 0h0m5 0h1m11 0h0m3 0h0m5 0h0m12 0h0m2 0h0m8 0h1m6 0h0m5 0h1m4 0h1m10 0h1m2 0h6m2 0h1m4 0h0m3 0h0m11 0h1m4 0h0m3 0h0m16 0h0m11 0h0m8 0h0m19 0h0m8 0h0m77 0h0m8 0h0M125 213h0m66 0h0m13 0h1m5 0h1m15 0h0m14 0h0m2 0h0m3 0h1m2 0h0m4 0h0m7 0h0m21 0h0m11 0h1m5 0h0m17 0h0m4 0h0m5 0h0m3 0h1m3 0h0m3 0h0m3 0h0m3 0h0m6 0h0m2 0h0m21 0h0m14 0h0m13 0h0m2 0h0m10 0h0m22 0h0m63 0h0m11 0h1m2 0h0M134 214h0m13 0h0m59 0h0m4 0h1m5 0h0m6 0h0m2 0h0m11 0h0m4 0h2m10 0h0m11 0h0m5 0h1m11 0h1m3 0h1m7 0h0m3 0h1m6 0h0m6 0h0m2 0h0m8 0h1m8 0h0m2 0h1m3 0h0m4 0h0m12 0h0m2 0h0m3 0h0m13 0h0m17 0h0m123 0h0M70 215h0m40 0h0m97 0h0m7 0h0m2 0h1m20 0h0m3 0h0m2 0h0m2 0h0m4 0h1m10 0h0m3 0h0m2 0h0m5 0h0m6 0h0m7 0h0m22 0h0m31 0h1m13 0h0m4 0h1m2 0h2m27 0h0m23 0h0m11 0h0m4 0h0m3 0h0m64 0h1m8 0h0M62 216h1m150 0h0m5 0h1m2 0h0m2 0h0m10 0h0m4 0h0m2 0h0m3 0h1m21 0h0m10 0h0m23 0h0m28 0h0m4 0h0m6 0h0m5 0h0m2 0h0m7 0h0m5 0h0m2 0h0M62 217h0m18 0h0m17 0h1m67 0h1m13 0h0m18 0h0m15 0h0m3 0h0m6 0h1m18 0h0m23 0h1m22 0h0m4 0h0m19 0h0m15 0h0m7 0h0m2 0h0m7 0h0m6 0h0m3 0h2m7 0h0m5 0h0m44 0h0m4 0h0m10 0h0M88 218h0m51 0h0m40 0h0m35 0h0m9 0h0m15 0h0m6 0h0m6 0h0m2 0h0m5 0h3m4 0h1m8 0h0m3 0h0m26 0h2m4 0h0m2 0h0m2 0h0m21 0h2m2 0h0m14 0h1m6 0h1m63 0h0m83 0h0M66 219h0m117 0h0m12 0h0m2 0h0m11 0h1m5 0h0m4 0h0m13 0h0m19 0h0m2 0h0m2 0h0m3 0h1m4 0h1m31 0h0m12 0h0m3 0h1m12 0h0m8 0h1m3 0h0m4 0h0m2 0h1m3 0h1m73 0h2M70 220h0m56 0h0m55 0h3m20 0h0m12 0h0m4 0h0m3 0h1m6 0h0m21 0h0m6 0h1m2 0h0m21 0h0m9 0h0m15 0h0m2 0h0m2 0h0m11 0h1m5 0h0m7 0h0m2 0h1m2 0h2m5 0h1m6 0h0m67 0h0m83 0h0m2 0h0M70 221h0m53 0h1m15 0h0m33 0h0m37 0h0m7 0h1m3 0h0m2 0h1m28 0h0m8 0h0m5 0h0m13 0h0m4 0h0m14 0h0m2 0h0m5 0h0m2 0h0m2 0h1m3 0h1m15 0h0m8 0h0m3 0h0m2 0h0m11 0h1m2 0h0m2 0h0m28 0h0m28 0h0m9 0h0M64 222h0m5 0h0m17 0h0m37 0h0m47 0h1m31 0h0m14 0h1m4 0h1m28 0h0m2 0h0m25 0h0m10 0h4m4 0h0m2 0h1m3 0h0m5 0h1m8 0h0m2 0h0m2 0h0m6 0h1m2 0h0m7 0h0m9 0h0m6 0h1m4 0h0m4 0h1m20 0h0m31 0h0m75 0h0M123 223h0m6 0h0m80 0h0m5 0h0m7 0h1m21 0h0m7 0h1m9 0h0m6 0h0m8 0h1m17 0h0m4 0h1m2 0h1m4 0h1m2 0h0m4 0h0m8 0h0m4 0h1m11 0h0m16 0h2m5 0h0m23 0h0m118 0h0M71 224h0m16 0h0m22 0h0m19 0h0m75 0h0m2 0h0m17 0h1m20 0h2m5 0h0m10 0h0m22 0h0m5 0h1m2 0h0m3 0h0m3 0h0m6 0h0m2 0h0m2 0h1m3 0h0m7 0h0m6 0h0m5 0h0m2 0h0m3 0h0m6 0h0m3 0h0m9 0h0m7 0h1m44 0h0m9 0h0M86 225h0m40 0h1m74 0h1m20 0h0m3 0h0m20 0h0m3 0h2m21 0h2m10 0h0m8 0h0m5 0h0m3 0h0m4 0h1m7 0h1m16 0h0m25 0h0m6 0h0m41 0h0m14 0h0M193 226h0m7 0h1m12 0h0m2 0h1m7 0h0m19 0h0m2 0h3m2 0h0m3 0h0m6 0h0m38 0h0m2 0h0m5 0h0m25 0h0m13 0h0m18 0h0m4 0h0m14 0h1m16 0h0m5 0h0m94 0h0M82 227h0m90 0h0m15 0h0m7 0h0m8 0h0m5 0h1m2 0h3m29 0h0m15 0h1m37 0h0m2 0h0m3 0h1m8 0h0m33 0h1m26 0h1m127 0h0M82 228h0m83 0h0m35 0h0m16 0h0m2 0h0m5 0h1m2 0h0m5 0h1m24 0h0m2 0h0m27 0h1m12 0h0m3 0h0m8 0h0m4 0h0m2 0h0m4 0h0m22 0h2m28 0h0m16 0h0m101 0h0m8 0h3m2 0h0M164 229h0m7 0h0m44 0h2m2 0h0m5 0h0m51 0h0m16 0h1m5 0h1m10 0h0m2 0h1m2 0h1m2 0h0m5 0h0m2 0h1m6 0h0m7 0h0m33 0h2m11 0h0m21 0h0M98 230h0m14 0h0m59 0h0m37 0h0m15 0h0m3 0h0m49 0h0m6 0h0m2 0h1m5 0h1m2 0h0m4 0h0m4 0h1m3 0h1m5 0h0m15 0h0m4 0h1m26 0h0m12 0h2M95 231h0m97 0h0m7 0h0m2 0h2m3 0h0m2 0h0m2 0h0m20 0h0m48 0h0m5 0h0m5 0h2m2 0h0m5 0h1m22 0h0m6 0h0m7 0h0m2 0h0m19 0h0m12 0h0m3 0h1m113 0h0m12 0h0M99 232h0m64 0h0m2 0h0m5 0h0m30 0h0m2 0h0m2 0h1m2 0h0m5 0h0m5 0h0m65 0h0m2 0h1m4 0h0m4 0h0m2 0h0m7 0h3m4 0h0m8 0h0m4 0h2m2 0h0m49 0h0m8 0h0M164 233h0m4 0h1m28 0h0m6 0h0m2 0h0m2 0h0m5 0h0m7 0h0m66 0h0m2 0h0m3 0h0m2 0h0m4 0h1m3 0h0m3 0h2m2 0h1m8 0h1m6 0h0m13 0h0m31 0h0m2 0h0m126 0h0m3 0h0M97 234h0m3 0h0m5 0h0m12 0h0m48 0h0m3 0h0m31 0h0m2 0h1m2 0h1m2 0h0m4 0h0m3 0h0m2 0h0m2 0h0m61 0h0m5 0h0m20 0h0m2 0h0m3 0h1m5 0h1m49 0h0m2 0h0m15 0h1m5 0h0m7 0h0m87 0h1M85 235h0m122 0h0m3 0h0m2 0h0m3 0h0m28 0h1m11 0h0m17 0h0m14 0h0m4 0h0m7 0h0m6 0h0m4 0h1m2 0h1m2 0h0m5 0h0m48 0h0m16 0h0m5 0h0m98 0h1M87 236h0m19 0h0m55 0h1m61 0h2m25 0h0m36 0h1m3 0h0m6 0h0m5 0h1m2 0h0m2 0h2m3 0h0m7 0h0m15 0h0m12 0h0m17 0h0m6 0h1m2 0h0m9 0h1m7 0h0M88 237h0m18 0h0m8 0h0m23 0h0m24 0h0m2 0h1m52 0h0m4 0h0m4 0h0m62 0h1m6 0h0m8 0h0m3 0h0m8 0h0m2 0h0m3 0h1m2 0h0m11 0h1m29 0h0m7 0h3m2 0h0m2 0h1m2 0h2m7 0h0m100 0h0M107 238h0m7 0h0m102 0h0m59 0h0m12 0h0m5 0h0m5 0h0m10 0h1m3 0h0m3 0h2m16 0h0m4 0h0m8 0h0m18 0h0m2 0h0m7 0h1m5 0h0m4 0h1m99 0h1M266 239h0m27 0h1m3 0h1m15 0h1m2 0h0m7 0h0m5 0h1m6 0h0m6 0h0m15 0h1m10 0h0m2 0h1m3 0h0m109 0h0M97 240h0m3 0h0m59 0h0m58 0h0m48 0h1m12 0h0m11 0h0m8 0h0m17 0h0m15 0h0m4 0h0m11 0h1M94 241h0m65 0h0m134 0h0m33 0h0m10 0h0m10 0h0m3 0h0m2 0h0m7 0h1m125 0h0M109 242h0m106 0h0m14 0h0m11 0h0m5 0h0m41 0h0m4 0h0m2 0h0m18 0h0m14 0h0m10 0h1m5 0h0m3 0h0m14 0h1M81 243h0m9 0h1m166 0h0m30 0h0m9 0h0m2 0h1m2 0h1m8 0h0m3 0h0m12 0h1m9 0h0m6 0h1m2 0h2M228 244h0m20 0h0m5 0h0m15 0h0m7 0h0m7 0h1m4 0h1m8 0h1m5 0h0m10 0h0m5 0h0m14 0h1m5 0h0m6 0h0m3 0h0m7 0h0M238 245h0m10 0h0m4 0h1m16 0h0m14 0h0m3 0h0m3 0h0m7 0h0m8 0h1m5 0h0m3 0h0m5 0h1m2 0h0m4 0h0m3 0h0m2 0h2m7 0h1m3 0h0m2 0h0m12 0h1M114 246h0m134 0h0m25 0h0m6 0h0m7 0h1m5 0h0m2 0h1m5 0h2m17 0h2m3 0h0m6 0h0m3 0h2m3 0h0m2 0h0m3 0h0M102 247h0m2 0h0m9 0h0m127 0h0m29 0h0m5 0h1m9 0h0m3 0h0m2 0h0m6 0h0m5 0h1m14 0h0m13 0h2m4 0h2m2 0h0m18 0h0M215 248h0m2 0h0m26 0h1m25 0h0m6 0h0m6 0h0m3 0h0m4 0h0m6 0h0m7 0h3m15 0h1m2 0h0m5 0h0m7 0h0m2 0h1m5 0h0m2 0h0m2 0h0M69 249h0m146 0h0m66 0h0m2 0h0m2 0h0m4 0h1m3 0h0m7 0h1m2 0h0m5 0h0m7 0h0m5 0h0m12 0h0m2 0h0M69 250h0m146 0h0m34 0h1m5 0h0m15 0h0m13 0h1m4 0h0m2 0h0m2 0h0m11 0h1m5 0h1m5 0h0m4 0h0m4 0h0m2 0h1m7 0h0m2 0h0m3 0h1m3 0h0M75 251h1m150 0h0m4 0h1m10 0h0m9 0h1m2 0h1m2 0h0m13 0h0m10 0h1m2 0h3m4 0h0m4 0h0m14 0h0m2 0h0m12 0h0m3 0h0m2 0h0m7 0h0m8 0h0M225 252h0m2 0h0m3 0h3m6 0h2m10 0h1m2 0h1m3 0h0m17 0h1m3 0h0m6 0h1m6 0h0m10 0h0m2 0h0m2 0h2m6 0h0m2 0h0m8 0h2m7 0h0m5 0h0m3 0h0m149 0h0M223 253h0m3 0h0m2 0h4m5 0h0m8 0h1m5 0h0m3 0h1m6 0h0m2 0h0m8 0h0m2 0h1m20 0h0m2 0h0m5 0h0m3 0h0m12 0h0m2 0h0m3 0h0m6 0h1m10 0h0m152 0h0M106 254h0m8 0h0m113 0h0m3 0h0m15 0h1m12 0h0m10 0h0m2 0h1m19 0h1m5 0h0m5 0h2m3 0h0m15 0h0m4 0h1m4 0h0m6 0h0M88 255h0m135 0h2m3 0h0m7 0h0m2 0h0m10 0h1m3 0h0m8 0h0m2 0h1m6 0h0m19 0h0m6 0h0m3 0h0m2 0h0m13 0h0m4 0h1m2 0h0m2 0h0m6 0h2M229 256h0m3 0h2m3 0h0m14 0h1m3 0h0m3 0h1m10 0h2m25 0h0m14 0h0m9 0h0m8 0h0M223 257h0m2 0h1m8 0h1m2 0h1m17 0h0m2 0h0m15 0h1m6 0h0m15 0h0m4 0h0m7 0h0m5 0h0m8 0h0m2 0h0M229 258h0m4 0h1m2 0h1m19 0h1m6 0h0m10 0h0m4 0h0m2 0h0m7 0h0m5 0h2m5 0h1m7 0h0m5 0h0M228 259h2m3 0h1m9 0h0m14 0h1m17 0h1m3 0h1m2 0h0m4 0h1m4 0h1m5 0h2m16 0h0m4 0h0M96 260h0m134 0h0m3 0h0m4 0h0m5 0h0m16 0h3m21 0h0m9 0h0m6 0h0m2 0h0m7 0h1m3 0h0M115 261h0m127 0h1m16 0h1m17 0h2m15 0h0m3 0h0m2 0h0m6 0h0M260 262h1m32 0h0M277 263h0m2 0h0m20 0h0M291 264h0m2 0h0M277 265h0m6 0h0m10 0h0M282 266h0m12 0h0M279 267h1M283 269h0m4 0h0M282 270h0M281 271h2M278 276h0m4 0h0M276 277h3M277 278h2m3 0h0M285 280h0M285 284h0M283 286h0M279 287h0M294 294h0M292 295h1M272 296h3m12 0h0m7 0h0m2 0h0M275 297h0m18 0h1m2 0h1M268 298h0m3 0h0m2 0h0m2 0h0m9 0h0m11 0h1M268 299h0m2 0h1m5 0h0m14 0h1m2 0h1m3 0h1M273 300h0m11 0h0m5 0h0m5 0h1M284 301h0m2 0h0m5 0h0M267 304h0m3 0h0m23 0h0M284 305h0M267 306h0m18 0h1m2 0h0m5 0h0M261 307h0m2 0h0m23 0h1M285 308h1M258 309h0m16 0h0m10 0h0M270 310h0m2 0h0M255 311h0M264 312h0m18 0h0M281 316h0M253 317h0m27 0h0m2 0h0M287 318h0M259 319h0m16 0h0M283 320h0M256 322h0M257 323h0m11 0h0M267 324h0m3 0h0M266 325h1m5 0h0M263 326h0m3 0h0m6 0h0M273 327h0"/><path stroke="#2797ea" d="M163 22h1M163 23h0M163 24h0m86 0h0M249 25h0M172 33h0M164 36h0M164 39h1M179 40h0m14 0h0M187 41h0m6 0h0m98 0h0M159 42h1m25 0h1m24 0h0m80 0h1m11 0h0M159 43h0m24 0h0m4 0h0m91 0h0m2 0h0m22 0h0m2 0h0M159 44h1m4 0h0m22 0h0m4 0h0m18 0h0M162 45h1m29 0h0m99 0h0m20 0h0M162 46h0m11 0h0m6 0h0m4 0h0m22 0h0m8 0h0m249 0h0M161 47h0m12 0h0m4 0h0m6 0h1m89 0h1M165 48h4m9 0h0m6 0h0m12 0h0m20 0h0m72 0h0M167 49h0m13 0h1m25 0h0M187 50h0m20 0h0M174 51h0M165 52h0m51 0h0M185 53h0m115 0h0M211 54h0M185 55h0m110 0h0M185 56h0m4 0h0m45 0h0m7 0h0M168 57h0m52 0h0m78 0h0m156 0h0m10 0h0M171 58h0m12 0h0m35 0h0m2 0h0m19 0h0m59 0h0M169 59h1m3 0h0m7 0h0m141 0h0M190 60h1M171 61h0m10 0h0m10 0h2m46 0h0m23 0h1m17 0h1m2 0h0m35 0h0m16 0h0m42 0h0M151 62h0m39 0h0m89 0h0m2 0h2m51 0h1M229 63h0m51 0h0m98 0h0m88 0h0M236 64h0m3 0h0m20 0h0m31 0h0m5 0h0m83 0h0m14 0h1m9 0h0M167 65h0m56 0h0m34 0h0m24 0h0m17 0h0m43 0h0m37 0h0m15 0h0m9 0h0m18 0h0m87 0h0M155 66h0m79 0h0m31 0h0m138 0h0m104 0h1M155 67h0m95 0h0m27 0h0m24 0h0m103 0h0m59 0h0M155 68h0m77 0h0m17 0h0m52 0h0m2 0h0m34 0h0m6 0h0m60 0h0m60 0h0m19 0h0m2 0h0M232 69h0m19 0h0m28 0h0m2 0h0m123 0h0m77 0h0m3 0h0M232 70h0m18 0h0m29 0h0m2 0h0m2 0h0m116 0h0m109 0h0M208 71h0m32 0h0m14 0h0m2 0h0m24 0h0m4 0h4m7 0h0m9 0h0M239 72h1m17 0h0m24 0h1m11 0h1m21 0h0m88 0h0m2 0h0M152 73h0m2 0h0m101 0h0m4 0h0m19 0h0m16 0h0m102 0h0m8 0h2M156 74h1m98 0h1m32 0h0m9 0h0m9 0h0m7 0h0m18 0h1m64 0h0m7 0h0m2 0h0m3 0h0m2 0h0M380 75h0m11 0h0m13 0h0m61 0h0M151 76h0m129 0h0m3 0h1m47 0h0m65 0h0m14 0h0m50 0h0m3 0h0m2 0h0M277 77h0m7 0h0m129 0h1m49 0h2m4 0h2M276 78h2m121 0h0m13 0h0m58 0h2M144 79h0m131 0h1m21 0h0m6 0h0m12 0h0m63 0h0m21 0h0m13 0h0m51 0h1m7 0h0M247 80h0m15 0h0m15 0h0m23 0h0m3 0h0m75 0h0m27 0h0m8 0h0m90 0h0M139 81h0m13 0h0m115 0h0m10 0h0m20 0h1m6 0h0m90 0h0m6 0h0m5 0h1m4 0h0m5 0h0m51 0h0M151 82h0m116 0h1m31 0h0m92 0h0m9 0h0m4 0h0m5 0h0m5 0h0m51 0h1M145 83h0m3 0h0m152 0h0m96 0h0m9 0h0m2 0h0m2 0h0m57 0h0M141 84h0m7 0h0m6 0h0m86 0h0m24 0h0m35 0h0m108 0h0m3 0h1m32 0h0m8 0h0m2 0h1m12 0h0M139 85h1m2 0h0m5 0h0m123 0h0m125 0h0m14 0h0m31 0h0m27 0h0M139 86h0m3 0h0m2 0h0m117 0h0m10 0h0m34 0h0m86 0h0m18 0h0m5 0h0m25 0h0m2 0h1M139 87h0m2 0h0m2 0h0m4 0h1m119 0h0m4 0h0m32 0h0m105 0h1m31 0h0m15 0h0M142 88h0m8 0h0m104 0h0m14 0h1m121 0h0m17 0h0m2 0h0m14 0h1m14 0h1M139 89h1m126 0h2m3 0h1m141 0h0m4 0h2m5 0h0m2 0h0m16 0h0m2 0h0m18 0h0M136 90h0m2 0h2m3 0h2m122 0h1m3 0h0m123 0h0m18 0h0m2 0h1m10 0h1m15 0h0m17 0h0m4 0h0M133 91h0m4 0h1m7 0h0m124 0h1m2 0h0m142 0h0m12 0h0m15 0h0m19 0h1m10 0h0m2 0h0M139 92h0m4 0h2m123 0h0m145 0h0m14 0h3m2 0h0m7 0h1m5 0h1m3 0h0m2 0h0m29 0h0M412 93h0m6 0h0m16 0h0m2 0h0m4 0h0m3 0h0m3 0h0m13 0h0m2 0h0m13 0h0M138 94h0m3 0h0m2 0h0m76 0h0m30 0h0m4 0h0m30 0h0m108 0h0m8 0h0m26 0h0m8 0h0m3 0h0m9 0h2m5 0h0m17 0h0m4 0h0M433 95h1m6 0h1m6 0h2m4 0h0m12 0h0m4 0h0m4 0h1M136 96h0m3 0h0m5 0h0m105 0h1m177 0h0m4 0h1m4 0h1m3 0h0m2 0h0m4 0h0m3 0h0m3 0h0m12 0h0m5 0h1m3 0h0m26 0h0M213 97h0m37 0h0m37 0h0m69 0h0m56 0h0m19 0h0m2 0h3m6 0h0m3 0h1m5 0h1m15 0h0m3 0h0m29 0h0M140 98h0m2 0h0m6 0h0m2 0h0m64 0h0m31 0h0m20 0h0m168 0h1m2 0h0m4 0h0m6 0h0m15 0h1m5 0h1m2 0h1m4 0h0M142 99h0m2 0h0m6 0h0m98 0h0m110 0h0m54 0h0m18 0h0m3 0h0m4 0h0m2 0h0m5 0h0m19 0h0m4 0h1m3 0h0m2 0h0M149 100h0m2 0h0m55 0h0m39 0h2m2 0h0m50 0h0m71 0h0m6 0h0m48 0h0m3 0h1m5 0h1m12 0h0m13 0h0m5 0h0m2 0h0m5 0h0m8 0h0m6 0h0m11 0h0M246 101h0m55 0h0m59 0h0m50 0h0m14 0h1m4 0h0m4 0h1m2 0h1m5 0h0m19 0h2m4 0h0m7 0h0m23 0h0M144 102h0m48 0h0m7 0h0m46 0h0m14 0h0m28 0h0m10 0h0m3 0h0m48 0h1m47 0h0m8 0h1m16 0h1m7 0h0m3 0h0m3 0h1m8 0h1m16 0h0m9 0h0m8 0h0m14 0h0M248 103h0m57 0h0m43 0h0m22 0h0m34 0h0m20 0h0m12 0h2m8 0h0m9 0h0m4 0h0m7 0h1m20 0h0M244 104h1m52 0h0m48 0h0m32 0h0m6 0h0m18 0h0m2 0h0m34 0h0m4 0h0m4 0h0m11 0h0m4 0h1m2 0h0m3 0h0m2 0h0m11 0h0m9 0h0m14 0h0M253 105h1m116 0h0m83 0h1m2 0h2m4 0h0m2 0h1m7 0h0m4 0h0m11 0h0m19 0h0M251 106h0m46 0h0m14 0h0m58 0h0m3 0h0m29 0h0m17 0h0m3 0h0m2 0h0m14 0h0m2 0h0m4 0h3m7 0h1m3 0h0m2 0h0m3 0h1m17 0h0m7 0h0m18 0h0M132 107h0m18 0h0m81 0h0m64 0h0m72 0h1m2 0h0m52 0h1m3 0h0m13 0h0m3 0h0m4 0h0m6 0h3m3 0h1m2 0h0m3 0h0m3 0h0m11 0h0m3 0h0M128 108h0m20 0h0m2 0h0m2 0h0m216 0h1m6 0h0m9 0h0m37 0h2m3 0h0m2 0h0m8 0h1m2 0h0m2 0h1m5 0h0m4 0h0m3 0h0m4 0h1m2 0h0m3 0h0m2 0h0m12 0h0M127 109h0m25 0h1m73 0h1m25 0h0m12 0h0m3 0h0m96 0h1m4 0h1m6 0h0m4 0h0m5 0h1m38 0h0m13 0h1m2 0h0m2 0h0m22 0h0m2 0h0m4 0h0m8 0h1m2 0h0m21 0h0M127 110h0m17 0h0m5 0h0m77 0h0m42 0h0m17 0h0m82 0h0m2 0h0m8 0h0m2 0h0m6 0h1m36 0h0m11 0h2m3 0h0m5 0h0m3 0h0m8 0h0m8 0h0m3 0h0m6 0h2m19 0h0M127 111h0m16 0h0m110 0h0m33 0h0m2 0h0m87 0h0m2 0h0m2 0h0m7 0h0m4 0h0m37 0h0m6 0h0m3 0h0m5 0h2m8 0h0m15 0h6m10 0h0m4 0h0M144 112h0m3 0h0m69 0h0m80 0h0m79 0h0m40 0h0m12 0h0m3 0h0m2 0h0m3 0h0m3 0h1m3 0h0m2 0h1m2 0h0m2 0h2m7 0h0m4 0h0m3 0h0m2 0h1m2 0h0m2 0h0M126 113h0m91 0h0m77 0h0m68 0h0m18 0h0m32 0h0m21 0h0m2 0h2m6 0h0m3 0h0m2 0h0m9 0h0m4 0h1m8 0h0m8 0h0m11 0h0M127 114h1m23 0h0m66 0h0m78 0h0m6 0h0m111 0h0m6 0h0m12 0h0m5 0h0m10 0h1m9 0h1m3 0h2m10 0h0m5 0h0m3 0h0m2 0h0m15 0h2M127 115h2m6 0h0m2 0h0m3 0h1m110 0h0m48 0h0m73 0h0m41 0h0m21 0h0m13 0h1m7 0h0m13 0h0m5 0h2m3 0h0m3 0h0m2 0h0m3 0h1m9 0h0M121 116h0m8 0h2m2 0h0m3 0h2m19 0h2m90 0h0m6 0h0m36 0h0m12 0h0m109 0h0m22 0h0m7 0h0m2 0h0m6 0h0m2 0h0m23 0h0m5 0h1m2 0h0m3 0h1m2 0h0M130 117h3m4 0h0m6 0h0m15 0h5m62 0h2m15 0h0m2 0h0m5 0h0m4 0h0m2 0h0m37 0h1m8 0h1m54 0h0m31 0h0m31 0h0m4 0h0m16 0h0m9 0h0m5 0h0m2 0h0m20 0h0m2 0h0m11 0h0M130 118h0m2 0h0m24 0h0m4 0h3m90 0h0m22 0h0m4 0h0m11 0h0m84 0h0m69 0h0m7 0h0m25 0h1m2 0h1m8 0h0M115 119h0m15 0h0m2 0h1m10 0h0m9 0h0m2 0h0m62 0h0m12 0h0m33 0h1m11 0h0m75 0h0m7 0h0m59 0h2m16 0h0m4 0h0m2 0h5m7 0h0m18 0h1m8 0h1m2 0h1m16 0h0m4 0h0m3 0h0M131 120h0m12 0h0m83 0h0m2 0h0m25 0h0m39 0h0m101 0h0m23 0h2m29 0h1m3 0h0m25 0h0m7 0h1m3 0h0m13 0h2M122 121h1m12 0h0m9 0h0m2 0h0m3 0h1m50 0h0m27 0h0m66 0h0m4 0h0m4 0h0m59 0h0m30 0h0m25 0h0m4 0h0m5 0h0m7 0h0m10 0h1m4 0h0m4 0h0m8 0h0m21 0h2m2 0h0m6 0h2m3 0h1m3 0h0m2 0h0m5 0h0M140 122h0m18 0h0m44 0h0m105 0h0m41 0h0m13 0h0m2 0h2m16 0h0m34 0h0m8 0h0m3 0h0m17 0h0m20 0h0m17 0h0m3 0h1m6 0h2m6 0h0m4 0h0M112 123h0m4 0h2m30 0h0m13 0h0m37 0h0m5 0h0m89 0h1m9 0h0m3 0h0m54 0h0m6 0h0m2 0h0m2 0h0m21 0h0m24 0h0m2 0h0m6 0h0m2 0h0m2 0h0m16 0h0m2 0h0m3 0h0m22 0h3m4 0h0m6 0h1m15 0h0m2 0h0M111 124h0m4 0h1m2 0h0m15 0h1m5 0h0m4 0h0m3 0h0m3 0h2m4 0h0m6 0h0m205 0h0m21 0h0m3 0h0m24 0h3m7 0h0m2 0h0m2 0h0m15 0h1m9 0h1m34 0h0m5 0h2m3 0h0M114 125h0m5 0h0m30 0h0m5 0h0m5 0h0m38 0h0m4 0h0m51 0h0m2 0h0m25 0h2m82 0h1m8 0h0m42 0h1m13 0h1m2 0h1m5 0h0m16 0h0m3 0h0m2 0h2m10 0h0m7 0h0m5 0h0m2 0h0m3 0h0m9 0h2M112 126h1m11 0h0m4 0h0m24 0h1m84 0h0m17 0h0m42 0h0m3 0h0m3 0h0m114 0h2m14 0h0m2 0h0m4 0h0m7 0h0m3 0h0m13 0h0m16 0h0m3 0h0m9 0h0m5 0h1m2 0h0m2 0h0M111 127h0m4 0h2m9 0h1m11 0h0m20 0h0m120 0h1m19 0h0m5 0h0m61 0h0m7 0h0m47 0h0m2 0h0m10 0h0m2 0h0m7 0h0m2 0h0m5 0h0m6 0h0m7 0h1m2 0h0m9 0h2m3 0h0m5 0h1m3 0h2m7 0h1m2 0h0m3 0h0M112 128h0m2 0h0m2 0h0m12 0h0m25 0h0m5 0h0m90 0h0m32 0h0m14 0h0m13 0h1m62 0h0m47 0h0m2 0h0m10 0h0m3 0h0m2 0h0m6 0h1m6 0h1m7 0h2m3 0h0m7 0h0m3 0h1m8 0h0m4 0h1m4 0h1m5 0h0m2 0h1M109 129h1m19 0h1m8 0h0m57 0h0m98 0h1m76 0h0m46 0h4m10 0h0m11 0h1m4 0h0m9 0h0m2 0h0m5 0h0m4 0h0m2 0h0m10 0h2m8 0h0m7 0h1m2 0h1M109 130h1m2 0h0m2 0h0m4 0h0m12 0h0m3 0h0m59 0h2m3 0h0m30 0h0m52 0h0m13 0h0m71 0h0m44 0h0m8 0h0m3 0h1m4 0h3m2 0h1m9 0h1m8 0h0m4 0h2m6 0h0m2 0h0m3 0h0m6 0h0m5 0h0m2 0h0m3 0h0m4 0h0M126 131h0m6 0h0m15 0h0m15 0h0m29 0h0m5 0h0m2 0h0m3 0h0m44 0h0m117 0h0m4 0h1m18 0h0m26 0h4m2 0h1m2 0h0m7 0h1m6 0h0m18 0h0m4 0h0m8 0h0m3 0h0m3 0h0m2 0h0m8 0h0m6 0h1m4 0h0m4 0h0M111 132h0m6 0h0m9 0h0m3 0h0m28 0h1m5 0h0m35 0h0m4 0h0m60 0h0m17 0h0m40 0h0m40 0h0m5 0h1m17 0h0m4 0h0m24 0h2m2 0h3m6 0h0m3 0h0m6 0h0m9 0h0m3 0h0m3 0h0m3 0h1m10 0h2m2 0h2m8 0h0m16 0h0m3 0h0M109 133h0m2 0h0m11 0h0m27 0h0m49 0h0m66 0h1m24 0h0m74 0h0m40 0h0m11 0h0m6 0h0m3 0h0m2 0h0m3 0h0m2 0h0m3 0h1m2 0h1m7 0h1m2 0h1m5 0h0m2 0h0m13 0h0m18 0h0m7 0h0M104 134h1m11 0h0m10 0h0m23 0h0m6 0h0m108 0h0m3 0h1m23 0h0m3 0h0m111 0h0m3 0h0m3 0h0m3 0h0m2 0h1m8 0h0m3 0h0m3 0h0m7 0h0m4 0h0m2 0h0m6 0h1m3 0h1m2 0h0m4 0h0m2 0h0m8 0h0M54 135h0m50 0h0m4 0h0m2 0h0m6 0h0m20 0h0m7 0h0m23 0h0m21 0h0m5 0h0m58 0h0m16 0h0m27 0h0m53 0h0m3 0h0m23 0h2m8 0h0m17 0h0m9 0h0m4 0h0m2 0h0m9 0h0m2 0h0m10 0h0m2 0h0m6 0h0m6 0h0m3 0h0m2 0h0m2 0h1m6 0h0m6 0h0m2 0h0m3 0h0m3 0h0m7 0h0m9 0h0M53 136h0m4 0h0m46 0h1m2 0h0m18 0h0m10 0h0m9 0h1m9 0h0m31 0h0m2 0h0m2 0h0m57 0h0m47 0h0m14 0h1m8 0h0m31 0h1m25 0h2m27 0h0m10 0h1m2 0h1m26 0h0m5 0h2m2 0h0m7 0h3m8 0h1m6 0h3m6 0h2m4 0h0M58 137h2m37 0h0m4 0h0m3 0h0m7 0h0m29 0h0m6 0h2m4 0h0m4 0h0m28 0h0m3 0h0m3 0h1m52 0h1m2 0h0m46 0h0m55 0h0m33 0h0m25 0h2m20 0h0m15 0h0m5 0h0m14 0h0m4 0h0m2 0h0m3 0h0m4 0h0m8 0h0m2 0h0m2 0h1M49 138h0m4 0h3m4 0h0m3 0h0m33 0h0m5 0h0m4 0h1m5 0h0m24 0h0m6 0h0m5 0h0m2 0h0m9 0h0m11 0h0m17 0h1m56 0h0m12 0h0m11 0h0m28 0h0m14 0h0m8 0h0m34 0h0m11 0h0m8 0h0m47 0h0m2 0h0m13 0h0m2 0h0m2 0h0m7 0h0m4 0h0m2 0h0m3 0h0m7 0h0m7 0h0m5 0h0m5 0h0m6 0h3m3 0h0M58 139h0m3 0h0m2 0h1m37 0h0m3 0h0m3 0h0m4 0h0m15 0h0m12 0h0m2 0h1m61 0h0m37 0h0m13 0h1m11 0h1m14 0h0m13 0h0m3 0h0m3 0h1m9 0h0m8 0h0m33 0h0m4 0h0m40 0h0m13 0h0m3 0h0m6 0h0m2 0h0m10 0h1m5 0h0m6 0h0m2 0h0m6 0h0m3 0h0m6 0h0m5 0h0m10 0h0m4 0h0m9 0h0m2 0h0M49 140h1m13 0h1m43 0h1m14 0h0m18 0h1m6 0h0m11 0h1m12 0h0m12 0h0m70 0h0m40 0h0m2 0h0m13 0h0m7 0h0m7 0h0m27 0h1m3 0h0m38 0h0m22 0h1m5 0h0m7 0h0m2 0h0m2 0h0m10 0h0m5 0h0m3 0h0m3 0h0m6 0h0m3 0h0m5 0h0m2 0h0m2 0h0m10 0h0m3 0h0m4 0h0M59 141h1m6 0h1m23 0h1m3 0h0m15 0h0m6 0h0m8 0h3m20 0h0m11 0h0m2 0h1m23 0h0m4 0h0m7 0h0m33 0h0m70 0h2m58 0h0m14 0h0m29 0h1m11 0h1m2 0h0m2 0h0m2 0h0m8 0h2m11 0h0m3 0h0m2 0h0m6 0h0m8 0h0m2 0h0m6 0h0m2 0h0m11 0h0m4 0h1m2 0h1M61 142h0m5 0h0m22 0h0m5 0h0m15 0h0m3 0h0m11 0h0m2 0h0m5 0h0m13 0h0m6 0h0m10 0h1m12 0h2m14 0h0m6 0h1m75 0h0m28 0h0m2 0h0m17 0h0m75 0h0m2 0h1m2 0h0m5 0h0m13 0h0m3 0h0m3 0h0m4 0h0m3 0h0m4 0h0m13 0h1m5 0h0m2 0h0m7 0h0m2 0h0m6 0h0m3 0h0m2 0h0m11 0h1m2 0h0M58 143h1m5 0h0m3 0h0m7 0h0m13 0h0m3 0h1m8 0h0m2 0h0m2 0h0m5 0h2m10 0h0m4 0h1m4 0h0m6 0h0m6 0h0m6 0h1m2 0h1m42 0h0m100 0h0m4 0h0m2 0h0m46 0h1m7 0h1m12 0h0m18 0h0m7 0h2m7 0h1m2 0h1m10 0h0m5 0h2m9 0h1m8 0h0m9 0h0m2 0h0m9 0h0m3 0h1m3 0h1m4 0h2m2 0h0m2 0h0m3 0h0m3 0h2M57 144h1m4 0h1m23 0h1m2 0h0m19 0h1m16 0h0m2 0h0m10 0h0m3 0h0m8 0h2m10 0h0m138 0h0m56 0h0m9 0h0m20 0h0m4 0h0m2 0h0m9 0h1m3 0h1m10 0h0m3 0h0m2 0h0m2 0h0m2 0h0m3 0h0m2 0h3m3 0h0m20 0h1m8 0h0m2 0h0m9 0h1m2 0h1m2 0h2m3 0h0M63 145h1m2 0h1m5 0h3m11 0h0m21 0h2m15 0h0m3 0h0m3 0h0m4 0h0m7 0h0m6 0h0m2 0h0m25 0h0m16 0h0m81 0h0m4 0h0m57 0h0m35 0h0m17 0h0m4 0h1m9 0h1m12 0h0m2 0h0m5 0h0m2 0h2m24 0h3m13 0h0m2 0h0m7 0h0m4 0h0m11 0h1M63 146h1m5 0h0m7 0h0m15 0h0m17 0h0m2 0h0m7 0h0m9 0h1m2 0h0m6 0h4m15 0h0m11 0h0m10 0h1m6 0h0m108 0h0m5 0h0m4 0h0m52 0h0m6 0h0m2 0h0m2 0h0m6 0h0m11 0h2m5 0h4m28 0h0m11 0h0m3 0h0m2 0h0m13 0h0m16 0h0m2 0h0m3 0h0m12 0h0m2 0h0M59 147h1m3 0h0m8 0h1m33 0h0m29 0h0m7 0h0m8 0h0m3 0h0m12 0h0m4 0h0m5 0h1m4 0h1m13 0h1m81 0h0m21 0h0m49 0h0m6 0h1m6 0h0m2 0h0m2 0h0m13 0h3m2 0h0m9 0h0m2 0h0m3 0h2m5 0h0m18 0h0m4 0h0m2 0h1m3 0h1m5 0h1m8 0h0m7 0h0m8 0h1m2 0h0m6 0h0m3 0h2m3 0h0m5 0h0m6 0h0M66 148h0m5 0h0m51 0h0m27 0h0m7 0h2m2 0h0m9 0h0m4 0h1m2 0h0m3 0h0m3 0h0m12 0h0m77 0h0m78 0h1m2 0h0m4 0h2m4 0h0m6 0h1m6 0h2m3 0h0m19 0h0m14 0h0m3 0h1m7 0h1m2 0h0m37 0h0m3 0h0m2 0h2m5 0h0M58 149h0m2 0h0m7 0h0m2 0h0m2 0h0m7 0h0m3 0h0m8 0h0m30 0h0m17 0h0m3 0h0m5 0h0m8 0h0m4 0h0m6 0h0m2 0h0m10 0h1m105 0h1m10 0h0m7 0h0m52 0h0m2 0h1m4 0h0m4 0h0m4 0h0m3 0h5m2 0h1m5 0h0m32 0h1m5 0h0m2 0h0m4 0h5m11 0h2m17 0h0m2 0h0m7 0h1m2 0h0m4 0h0m2 0h0m3 0h1M59 150h0m4 0h0m5 0h2m10 0h1m2 0h0m7 0h1m9 0h0m21 0h1m3 0h1m17 0h0m5 0h0m5 0h0m10 0h0m10 0h0m75 0h0m32 0h0m34 0h1m36 0h1m5 0h2m10 0h1m40 0h0m5 0h0m9 0h0m2 0h0m2 0h0m7 0h0m29 0h0m9 0h2m2 0h1m2 0h0M62 151h0m37 0h0m21 0h3m2 0h0m10 0h0m2 0h0m3 0h0m6 0h0m23 0h0m5 0h1m98 0h0m3 0h0m2 0h0m13 0h0m28 0h0m22 0h2m13 0h1m9 0h0m3 0h0m10 0h1m3 0h0m2 0h0m2 0h0m25 0h3m5 0h0m3 0h0m2 0h1m3 0h1m11 0h2m2 0h0m4 0h0m16 0h0m6 0h1m4 0h0m2 0h0M63 152h2m2 0h0m4 0h0m15 0h0m6 0h0m4 0h0m4 0h0m27 0h1m3 0h0m6 0h0m3 0h0m14 0h0m2 0h0m9 0h0m4 0h1m32 0h0m53 0h0m20 0h0m4 0h0m13 0h0m25 0h0m2 0h0m26 0h0m3 0h0m10 0h0m5 0h0m21 0h0m4 0h0m3 0h2m14 0h0m3 0h2m9 0h0m5 0h0m3 0h0m4 0h0m5 0h0m2 0h0m7 0h0m16 0h0m4 0h0m5 0h0m2 0h1M59 153h0m2 0h1m2 0h0m21 0h0m6 0h3m12 0h0m17 0h1m3 0h0m2 0h0m2 0h0m4 0h0m16 0h0m3 0h0m100 0h0m2 0h0m89 0h0m22 0h0m6 0h0m11 0h3m5 0h0m9 0h1m15 0h3m10 0h1m6 0h1m5 0h0m17 0h0m10 0h0m3 0h0M70 154h1m13 0h0m7 0h1m3 0h0m13 0h0m13 0h0m13 0h0m18 0h0m50 0h1m33 0h0m19 0h0m38 0h0m2 0h0m50 0h0m8 0h0m14 0h0m5 0h0m12 0h0m6 0h0m2 0h0m16 0h0m8 0h0m12 0h0m4 0h1m10 0h1m5 0h0m10 0h0m3 0h2m2 0h1M65 155h0m20 0h0m9 0h0m17 0h0m2 0h0m2 0h0m10 0h3m2 0h0m112 0h0m2 0h0m40 0h0m4 0h0m4 0h0m8 0h0m69 0h0m5 0h1m12 0h0m8 0h0m4 0h0m13 0h1m4 0h0m2 0h2m2 0h0m5 0h1m4 0h1m3 0h0m7 0h0m5 0h0m4 0h1m6 0h1m3 0h1m3 0h0M66 156h0m4 0h0m15 0h0m4 0h0m40 0h0m6 0h0m38 0h0m100 0h0m5 0h0m9 0h0m4 0h2m2 0h0m20 0h1m15 0h1m50 0h0m3 0h0m10 0h0m3 0h0m3 0h0m8 0h0m4 0h0m2 0h0m7 0h1m8 0h0m9 0h0m4 0h1m6 0h3m6 0h0m2 0h1m4 0h0m2 0h2M66 157h0m21 0h0m23 0h0m25 0h0m22 0h0m13 0h0m123 0h0m23 0h0m17 0h0m18 0h0m2 0h0m19 0h0m3 0h0m23 0h0m2 0h0m8 0h0m7 0h0m2 0h0m9 0h0m2 0h0m6 0h0m6 0h1m12 0h0m4 0h0m6 0h0m2 0h1M67 158h0m14 0h0m22 0h0m6 0h0m14 0h0m10 0h0m3 0h0m35 0h0m58 0h0m9 0h0m53 0h0m55 0h0m9 0h0m15 0h0m2 0h0m29 0h0m10 0h0m6 0h0m9 0h1m2 0h0m3 0h2m3 0h0m2 0h0m8 0h0m2 0h1m12 0h0m4 0h1m2 0h0M74 159h0m15 0h0m15 0h0m2 0h0m10 0h2m18 0h0m35 0h1m95 0h0m2 0h0m15 0h0m7 0h0m32 0h0m23 0h0m6 0h0m9 0h0m11 0h1m3 0h0m5 0h0m17 0h0m4 0h0m9 0h0m15 0h1m3 0h0m30 0h1m2 0h0M65 160h0m2 0h0m8 0h0m2 0h0m27 0h1m2 0h0m11 0h0m4 0h0m9 0h0m31 0h0m3 0h0m80 0h0m2 0h0m2 0h0m18 0h0m2 0h0m78 0h0m31 0h0m2 0h0m10 0h0m5 0h0m27 0h0m2 0h2m6 0h0m6 0h1m2 0h0m4 0h0m5 0h0m3 0h0m6 0h0M67 161h0m9 0h1m10 0h0m13 0h0m14 0h0m4 0h0m14 0h0m39 0h0m75 0h2m34 0h0m19 0h0m76 0h0m2 0h1m7 0h0m3 0h0m3 0h0m3 0h0m6 0h0m2 0h0m4 0h0m2 0h0m6 0h0m2 0h1m25 0h2m5 0h0M89 162h0m25 0h0m4 0h0m13 0h0m29 0h1m5 0h0m80 0h1m2 0h0m24 0h0m10 0h0m4 0h0m10 0h0m21 0h0m22 0h0m33 0h0m3 0h0m4 0h1m5 0h0m6 0h1m4 0h0m5 0h0m9 0h1m3 0h0m8 0h0m6 0h0m8 0h0m11 0h0m2 0h3m12 0h0M67 163h0m52 0h0m128 0h0m2 0h0m19 0h0m12 0h0m3 0h0m7 0h0m8 0h1m21 0h0m5 0h0m40 0h0m8 0h0m24 0h1m13 0h1m7 0h1m4 0h0m3 0h0m4 0h0m8 0h1m4 0h0m2 0h0m2 0h1m5 0h1m2 0h0m6 0h0M69 164h0m44 0h0m3 0h0m4 0h0m2 0h0m42 0h1m83 0h0m8 0h0m3 0h0m9 0h0m13 0h0m2 0h1m35 0h0m6 0h0m24 0h0m27 0h0m14 0h2m4 0h1m5 0h0m11 0h0m5 0h1m5 0h0m2 0h1m21 0h0m2 0h0m2 0h0m2 0h0m5 0h0m2 0h0m2 0h1M67 165h0m95 0h0m2 0h1m56 0h0m26 0h2m6 0h0m3 0h0m64 0h0m26 0h1m11 0h0m17 0h1m2 0h1m10 0h0m2 0h0m2 0h1m3 0h0m15 0h0m5 0h0m6 0h0m5 0h2m15 0h0m3 0h0m4 0h0m4 0h1m2 0h0M82 166h0m76 0h0m5 0h2m2 0h0m76 0h0m15 0h0m2 0h0m23 0h1m2 0h0m15 0h0m33 0h0m14 0h0m42 0h0m2 0h0m4 0h3m15 0h0m9 0h0m3 0h0m8 0h0m2 0h0m4 0h0m23 0h1M83 167h0m28 0h0m27 0h0m28 0h0m50 0h0m17 0h1m22 0h1m3 0h0m2 0h0m40 0h0m4 0h0m27 0h0m20 0h0m2 0h0m5 0h1m15 0h0m34 0h0m2 0h0m3 0h1m6 0h0m2 0h0m4 0h3m2 0h0m2 0h0m5 0h1m2 0h0m5 0h0m11 0h0m4 0h0M81 168h1m5 0h0m25 0h0m6 0h1m10 0h0m23 0h0m2 0h0m62 0h0m16 0h0m5 0h0m13 0h0m6 0h0m3 0h0m2 0h0m37 0h0m5 0h0m5 0h0m73 0h0m10 0h0m3 0h0m5 0h2m8 0h0m15 0h0m3 0h0m10 0h0m2 0h2m7 0h1m5 0h0m4 0h1m5 0h1M63 169h0m6 0h4m14 0h2m41 0h0m23 0h0m61 0h1m5 0h0m3 0h0m5 0h0m29 0h2m5 0h0m38 0h0m6 0h0m51 0h0m20 0h0m3 0h0m2 0h0m14 0h2m5 0h0m5 0h0m3 0h0m10 0h0m2 0h4m2 0h1m3 0h2m2 0h0m3 0h1m3 0h0m9 0h0m10 0h0M62 170h1m6 0h1m13 0h0m131 0h1m29 0h0m7 0h0m8 0h0m4 0h1m38 0h0m56 0h0m4 0h0m5 0h0m26 0h0m5 0h0m9 0h2m2 0h0m5 0h0m10 0h0m7 0h0m3 0h0m5 0h1m8 0h0m6 0h0m8 0h0M72 171h0m137 0h0m42 0h2m26 0h0m4 0h0m4 0h0m48 0h1m10 0h1m4 0h0m16 0h0m14 0h0m10 0h1m5 0h0m11 0h3m5 0h0m15 0h0m2 0h1m8 0h0m13 0h1m5 0h0m5 0h0M79 172h0m26 0h1m26 0h0m120 0h3m4 0h0m8 0h0m12 0h1m53 0h0m15 0h0m14 0h0m29 0h0m8 0h0m2 0h0m3 0h0m4 0h1m7 0h0m9 0h0m3 0h0m2 0h0m8 0h1m3 0h0m2 0h0m2 0h0m5 0h0M102 173h1m30 0h0m106 0h0m7 0h1m19 0h0m31 0h0m35 0h1m3 0h0m12 0h0m2 0h1m31 0h0m4 0h0m10 0h0m3 0h0m5 0h0m3 0h0m2 0h0m8 0h0m8 0h1m13 0h0m8 0h0m3 0h0m5 0h0m7 0h1m2 0h1M64 174h0m2 0h1m3 0h0m15 0h0m150 0h0m5 0h0m6 0h3m4 0h0m22 0h0m9 0h0m3 0h0m30 0h0m20 0h1m8 0h1m2 0h2m30 0h1m3 0h0m6 0h0m2 0h0m19 0h0m2 0h0m13 0h0m2 0h0m9 0h1m2 0h1m7 0h0m2 0h1m2 0h0m11 0h2M63 175h1m14 0h0m61 0h0m2 0h0m95 0h0m10 0h0m2 0h2m24 0h0m10 0h0m65 0h0m9 0h0m27 0h1m8 0h1m3 0h0m8 0h2m2 0h1m3 0h0m2 0h1m6 0h0m4 0h0m3 0h2m2 0h0m3 0h1m5 0h0m8 0h0m2 0h1m10 0h3M62 176h0m5 0h0m2 0h0m10 0h0m2 0h1m57 0h0m2 0h0m3 0h0m61 0h0m41 0h2m18 0h0m3 0h0m14 0h0m22 0h0m13 0h0m9 0h0m11 0h0m6 0h0m10 0h0m4 0h0m27 0h3m2 0h0m4 0h1m9 0h0m5 0h3m3 0h1m9 0h0m3 0h0m4 0h0m2 0h0m4 0h1m4 0h0m3 0h0m18 0h3M64 177h0m19 0h0m27 0h0m62 0h0m31 0h0m15 0h0m21 0h0m6 0h0m2 0h5m17 0h0m3 0h0m13 0h2m30 0h0m15 0h1m11 0h0m2 0h1m6 0h0m2 0h0m23 0h1m8 0h0m3 0h1m11 0h2m3 0h1m3 0h0m8 0h0m4 0h0m5 0h0m5 0h0m3 0h0m6 0h3m4 0h1m5 0h0M68 178h0m5 0h0m8 0h0m21 0h0m12 0h0m103 0h0m6 0h0m24 0h1m3 0h0m13 0h0m23 0h0m48 0h0m19 0h0m2 0h0m3 0h0m21 0h0m12 0h1m12 0h0m2 0h0m7 0h1m9 0h1m2 0h0m7 0h1m3 0h0m7 0h1m4 0h0m8 0h0m6 0h0M64 179h0m94 0h0m7 0h1m79 0h0m17 0h0m7 0h0m15 0h0m50 0h0m4 0h1m5 0h0m14 0h1m20 0h0m7 0h1m20 0h0m10 0h0m2 0h0m27 0h1m19 0h0M68 180h2m10 0h0m34 0h0m8 0h0m6 0h0m24 0h0m13 0h0m40 0h0m13 0h0m21 0h1m3 0h0m14 0h0m7 0h0m5 0h0m53 0h0m7 0h0m9 0h0m2 0h0m18 0h0m16 0h1m11 0h0m16 0h0m5 0h1m3 0h0m5 0h0m21 0h0m6 0h1m2 0h0m15 0h0M65 181h1m37 0h0m10 0h0m53 0h0m33 0h1m20 0h0m20 0h0m21 0h0m2 0h0m12 0h1m49 0h0m11 0h3m30 0h0m6 0h0m9 0h2m15 0h0m2 0h0m3 0h2m2 0h0m3 0h1m2 0h0m2 0h0m2 0h0m5 0h0m4 0h0m8 0h0m14 0h0m4 0h1m5 0h1M53 182h1m6 0h0m15 0h0m3 0h0m5 0h0m21 0h0m7 0h0m87 0h0m54 0h0m73 0h0m3 0h0m74 0h1m11 0h0m4 0h0m18 0h0m10 0h1m6 0h0m2 0h0m5 0h0M63 183h0m6 0h0m5 0h1m2 0h0m67 0h0m55 0h0m9 0h0m59 0h0m60 0h1m12 0h0m32 0h0m9 0h0m2 0h0m3 0h0m3 0h1m13 0h1m3 0h0m9 0h0m11 0h2m7 0h1m5 0h0m3 0h0m6 0h0m2 0h0m5 0h1m2 0h0M55 184h0m15 0h0m6 0h1m31 0h0m17 0h1m27 0h0m70 0h0m38 0h0m7 0h1m60 0h0m57 0h0m10 0h0m7 0h0m8 0h0m3 0h0m2 0h1m2 0h0m16 0h2m4 0h1m3 0h1m11 0h0m3 0h0M68 185h1m8 0h0m29 0h1m38 0h0m63 0h0m35 0h0m58 0h0m2 0h0m54 0h0m24 0h0m3 0h1m8 0h1m2 0h0m8 0h0m11 0h3m4 0h0m11 0h0m8 0h1m2 0h1m2 0h0m9 0h0m2 0h0M54 186h0m11 0h1m5 0h1m35 0h0m38 0h0m15 0h0m40 0h0m41 0h0m2 0h0m3 0h0m11 0h0m42 0h0m24 0h0m33 0h0m20 0h0m15 0h1m3 0h1m7 0h1m2 0h4m9 0h0m4 0h0m35 0h0M62 187h2m47 0h0m26 0h0m35 0h0m29 0h0m40 0h0m23 0h0m90 0h0m2 0h1m19 0h0m5 0h0m9 0h0m3 0h1m7 0h0m4 0h0m2 0h0m2 0h0m5 0h0m2 0h0m7 0h0m17 0h3m9 0h0m3 0h0m2 0h0M46 188h0m2 0h0m7 0h0m2 0h0m7 0h0m4 0h0m2 0h0m39 0h0m24 0h0m5 0h0m34 0h0m28 0h1m9 0h0m15 0h0m5 0h0m2 0h0m8 0h2m4 0h0m4 0h0m50 0h0m22 0h0m65 0h0m5 0h0m2 0h0m5 0h0m7 0h0m7 0h0m4 0h0m6 0h0m11 0h0m6 0h1m8 0h0m2 0h0M46 189h0m8 0h2m12 0h0m3 0h0m9 0h0m35 0h0m25 0h1m4 0h1m10 0h0m15 0h0m29 0h0m31 0h0m12 0h0m3 0h0m3 0h1m72 0h1m67 0h0m5 0h0m9 0h0m4 0h0m14 0h0m11 0h1m7 0h0m5 0h0m4 0h1M57 190h0m25 0h1m5 0h0m4 0h0m49 0h0m4 0h1m97 0h0m6 0h0m68 0h0m4 0h0m35 0h0m11 0h0m22 0h0m3 0h2m3 0h0m4 0h0m3 0h0m8 0h0m5 0h0m4 0h0m14 0h0m6 0h0m6 0h1m3 0h0M52 191h0m74 0h0m17 0h0m2 0h1m30 0h0m47 0h0m52 0h0m14 0h0m25 0h0m6 0h0m10 0h0m38 0h0m16 0h0m6 0h0m2 0h0m2 0h0m10 0h0m6 0h1m2 0h0m8 0h0m8 0h0m5 0h1m14 0h0M108 192h0m36 0h0m31 0h2m6 0h0m131 0h1m15 0h0m26 0h0m9 0h0m2 0h0m2 0h0m20 0h0m2 0h0m2 0h1m18 0h1m18 0h0m2 0h0m3 0h0m6 0h0m10 0h0M51 193h0m62 0h0m31 0h0m31 0h1m53 0h0m3 0h0m3 0h1m4 0h0m8 0h0m68 0h0m5 0h0m22 0h0m30 0h0m2 0h0m13 0h0m2 0h0m10 0h1m19 0h1m8 0h1m12 0h0m6 0h0M51 194h0m71 0h0m4 0h0m18 0h0m2 0h0m30 0h0m7 0h0m3 0h1m24 0h0m4 0h0m11 0h0m5 0h1m3 0h0m11 0h0m37 0h0m32 0h1m4 0h0m32 0h0m17 0h3m7 0h1m13 0h0m5 0h0m6 0h0m11 0h2m3 0h0m2 0h0m3 0h0m6 0h0m3 0h1m7 0h0m3 0h0m55 0h0m3 0h1M52 195h0m6 0h1m63 0h0m63 0h1m17 0h0m9 0h0m3 0h0m23 0h0m65 0h1m18 0h0m49 0h0m7 0h1m20 0h0m5 0h1m9 0h0m12 0h0m3 0h0m2 0h0m2 0h0m4 0h0m7 0h0m53 0h1m3 0h0m2 0h1m4 0h0M42 196h0m2 0h0m9 0h0m72 0h0m61 0h0m7 0h1m22 0h0m3 0h0m15 0h0m4 0h3m4 0h1m33 0h0m32 0h0m30 0h0m11 0h0m17 0h0m8 0h0m3 0h0m2 0h0m2 0h1m11 0h0m5 0h0m12 0h0m6 0h0m2 0h0m7 0h0m4 0h0m6 0h0m5 0h1m2 0h1m2 0h0m48 0h0m3 0h0m3 0h0m4 0h0M44 197h0m6 0h0m70 0h2m54 0h0m6 0h0m12 0h0m22 0h0m14 0h0m6 0h1m3 0h0m4 0h1m21 0h0m16 0h0m21 0h0m45 0h0m34 0h3m2 0h0m7 0h1m3 0h0m11 0h0m3 0h0m5 0h0m2 0h3m2 0h0m6 0h0m2 0h0m9 0h0m2 0h0m5 0h0m48 0h0m5 0h1M40 198h0m2 0h0m4 0h0m75 0h0m3 0h0m47 0h1m11 0h0m22 0h0m10 0h0m21 0h1m8 0h0m3 0h1m2 0h0m16 0h0m13 0h0m2 0h0m58 0h1m40 0h1m2 0h0m2 0h2m7 0h0m4 0h0m6 0h0m4 0h0m8 0h0m12 0h1m2 0h0m13 0h0m56 0h0m2 0h0M39 199h2m40 0h0m8 0h0m7 0h0m2 0h0m14 0h0m49 0h0m10 0h0m2 0h0m2 0h0m2 0h0m16 0h0m6 0h0m6 0h0m9 0h1m6 0h1m3 0h0m9 0h0m4 0h0m2 0h0m6 0h1m3 0h0m14 0h0m29 0h0m46 0h1m41 0h0m4 0h1m4 0h0m6 0h0m4 0h0m4 0h0m3 0h0m2 0h0m11 0h1m6 0h1m3 0h0m2 0h0m2 0h0m5 0h0m2 0h0m2 0h0m55 0h2M44 200h0m9 0h0m2 0h0m5 0h0m10 0h0m3 0h0m8 0h0m16 0h0m17 0h0m2 0h0m56 0h0m3 0h0m2 0h0m8 0h0m9 0h0m9 0h0m4 0h0m7 0h1m5 0h0m13 0h0m7 0h0m2 0h0m35 0h0m2 0h2m58 0h1m26 0h0m7 0h0m8 0h1m4 0h0m2 0h0m5 0h0m2 0h2m7 0h0m2 0h0m2 0h0m2 0h1m17 0h0m6 0h0m4 0h0m2 0h0m69 0h2M40 201h0m6 0h0m28 0h0m65 0h0m2 0h0m32 0h0m3 0h0m7 0h1m2 0h1m2 0h0m6 0h0m4 0h0m11 0h0m5 0h0m6 0h0m2 0h0m13 0h0m3 0h0m2 0h0m23 0h0m33 0h0m43 0h1m31 0h0m10 0h0m12 0h3m10 0h0m9 0h2m9 0h0m10 0h1m73 0h0M49 202h0m8 0h0m13 0h0m26 0h0m30 0h1m10 0h1m38 0h0m12 0h0m10 0h0m3 0h0m8 0h0m2 0h1m11 0h0m10 0h0m3 0h2m2 0h0m5 0h0m3 0h0m13 0h0m43 0h1m32 0h1m3 0h0m10 0h0m29 0h0m3 0h0m10 0h1m4 0h1m7 0h1m3 0h0m2 0h0m4 0h0m2 0h1m5 0h2m6 0h0m6 0h0m54 0h0M37 203h0m11 0h0m3 0h0m24 0h0m44 0h0m6 0h0m9 0h0m28 0h0m35 0h1m3 0h0m11 0h0m11 0h0m2 0h1m18 0h0m12 0h0m11 0h0m14 0h0m59 0h0m32 0h0m7 0h0m2 0h0m9 0h0m2 0h0m2 0h0m2 0h0m16 0h0m4 0h0m4 0h0m7 0h0m2 0h1m3 0h0m2 0h0m56 0h0m10 0h1m2 0h0M36 204h0m20 0h0m27 0h0m44 0h0m65 0h0m3 0h0m14 0h0m9 0h0m2 0h1m4 0h1m2 0h0m18 0h0m21 0h0m39 0h0m33 0h0m2 0h0m8 0h0m2 0h0m8 0h1m22 0h0m14 0h1m3 0h0m2 0h0m5 0h1m4 0h1m2 0h0m10 0h0m3 0h1m4 0h0m5 0h0m64 0h2M47 205h0m37 0h0m106 0h0m7 0h0m15 0h0m2 0h0m9 0h0m3 0h0m2 0h0m2 0h0m16 0h0m55 0h0m17 0h0m23 0h0m8 0h0m22 0h0m2 0h1m12 0h0m2 0h0m10 0h0m2 0h1m5 0h0m9 0h1m8 0h0m2 0h1m2 0h0m74 0h0M69 206h0m2 0h0m9 0h1m47 0h0m12 0h1m10 0h1m7 0h0m27 0h0m4 0h0m5 0h1m10 0h0m9 0h0m8 0h0m3 0h4m25 0h0m53 0h0m10 0h0m3 0h0m37 0h0m10 0h0m4 0h2m12 0h2m4 0h0m7 0h1m3 0h0m2 0h0m3 0h0m4 0h1m4 0h0m3 0h0m4 0h0m71 0h0m4 0h0M50 207h0m14 0h0m5 0h1m13 0h1m11 0h0m12 0h0m18 0h0m6 0h0m28 0h0m4 0h0m43 0h1m14 0h0m2 0h0m5 0h0m2 0h0m26 0h1m95 0h0m12 0h2m6 0h0m2 0h1m13 0h0m9 0h0m2 0h0m8 0h0m3 0h2m4 0h0m6 0h0m11 0h0m64 0h0m7 0h0M39 208h0m7 0h0m3 0h0m17 0h0m2 0h0m29 0h0m28 0h0m4 0h0m20 0h0m50 0h1m6 0h1m9 0h0m2 0h0m2 0h2m5 0h0m4 0h0m11 0h0m3 0h0m29 0h0m28 0h0m60 0h0m2 0h1m2 0h0m15 0h0m4 0h1m4 0h0m14 0h2m2 0h1m4 0h0m2 0h0m5 0h0m6 0h0m7 0h0m65 0h0m4 0h0M41 209h0m21 0h0m29 0h1m3 0h1m29 0h0m11 0h0m4 0h0m60 0h2m10 0h0m4 0h2m87 0h0m2 0h0m20 0h0m35 0h0m3 0h0m4 0h0m5 0h0m2 0h0m4 0h2m5 0h0m15 0h0m4 0h0m9 0h0m2 0h0m13 0h0m69 0h0M40 210h1m22 0h1m2 0h0m47 0h0m16 0h0m10 0h1m60 0h0m11 0h1m2 0h0m2 0h0m4 0h0m34 0h0m16 0h0m4 0h0m2 0h0m29 0h2m11 0h0m4 0h0m2 0h2m7 0h0m27 0h0m3 0h0m4 0h1m10 0h0m5 0h0m3 0h0m17 0h0m2 0h0m3 0h1m3 0h1m4 0h0m5 0h1m3 0h0m2 0h0m4 0h1m62 0h0m4 0h2m8 0h0M72 211h0m11 0h0m44 0h0m22 0h0m45 0h0m20 0h1m37 0h0m8 0h0m45 0h0m18 0h0m10 0h0m32 0h1m2 0h1m5 0h1m4 0h0m2 0h1m2 0h0m2 0h0m6 0h0m10 0h0m3 0h0m5 0h0m20 0h0m2 0h0m61 0h0m3 0h0m3 0h0M45 212h0m43 0h0m2 0h0m3 0h0m46 0h0m67 0h0m11 0h0m3 0h0m31 0h0m2 0h0m7 0h0m20 0h0m15 0h0m18 0h1m29 0h0m17 0h0m5 0h0m2 0h1m13 0h0m3 0h0m2 0h1m2 0h0m3 0h1m14 0h0m3 0h1m2 0h3m7 0h1m2 0h0m82 0h0M72 213h0m8 0h0m2 0h0m44 0h0m9 0h0m18 0h0m49 0h0m15 0h1m2 0h0m15 0h0m6 0h0m8 0h2m9 0h1m33 0h0m19 0h0m19 0h0m2 0h0m26 0h1m3 0h0m3 0h0m2 0h0m3 0h0m4 0h0m3 0h0m2 0h0m3 0h0m5 0h0m17 0h0m7 0h0m2 0h0m5 0h2m6 0h0m72 0h0M42 214h0m22 0h1m14 0h0m10 0h0m23 0h0m15 0h1m7 0h0m56 0h0m34 0h0m22 0h0m66 0h1m19 0h0m4 0h1m27 0h0m6 0h0m9 0h0m2 0h0m2 0h0m4 0h0m19 0h0m2 0h0m3 0h0m2 0h0m4 0h0m2 0h1m5 0h0m2 0h0m68 0h0m2 0h0m6 0h0M63 215h0m19 0h0m43 0h0m3 0h0m16 0h0m19 0h0m19 0h0m5 0h0m12 0h0m54 0h0m41 0h0m44 0h1m13 0h0m3 0h0m13 0h0m16 0h0m3 0h0m3 0h0m25 0h0m2 0h1m4 0h0m2 0h1m76 0h0m4 0h0M72 216h0m21 0h0m31 0h0m27 0h1m27 0h0m16 0h1m5 0h0m11 0h0m46 0h2m5 0h0m17 0h1m10 0h2m31 0h0m11 0h1m21 0h1m3 0h0m2 0h0m15 0h0m4 0h0m5 0h0m14 0h0m3 0h0m2 0h0m5 0h0m2 0h0m2 0h0m3 0h1m3 0h0m2 0h0m70 0h0m3 0h0m2 0h0m3 0h1m2 0h0M60 217h0m22 0h0m45 0h0m9 0h1m44 0h0m10 0h0m2 0h0m2 0h0m7 0h0m21 0h1m17 0h0m25 0h0m15 0h1m12 0h0m2 0h0m18 0h0m2 0h0m10 0h0m8 0h0m2 0h1m17 0h1m5 0h0m5 0h1m12 0h0m7 0h0m5 0h0m12 0h2m4 0h0m2 0h0m2 0h0m3 0h0m4 0h0m6 0h0m73 0h0m2 0h0m4 0h0m3 0h0M60 218h1m3 0h0m9 0h0m9 0h0m7 0h0m3 0h1m33 0h0m12 0h0m8 0h1m17 0h0m3 0h0m8 0h1m2 0h0m5 0h0m13 0h0m3 0h0m2 0h2m90 0h0m21 0h0m16 0h0m24 0h1m2 0h0m5 0h0m4 0h1m34 0h0m2 0h0m2 0h0m2 0h2m2 0h0m7 0h1m4 0h0m76 0h5m2 0h0M60 219h0m2 0h0m2 0h1m6 0h0m53 0h0m19 0h0m34 0h0m8 0h0m3 0h0m16 0h0m30 0h0m17 0h0m9 0h0m23 0h0m19 0h0m12 0h0m11 0h0m28 0h1m2 0h1m2 0h0m2 0h0m4 0h0m2 0h0m2 0h2m9 0h0m9 0h0m2 0h0m9 0h0m10 0h1m6 0h0m4 0h1m75 0h0m4 0h0M61 220h0m5 0h0m7 0h1m3 0h0m2 0h0m2 0h1m6 0h0m56 0h1m24 0h0m7 0h0m9 0h0m3 0h0m5 0h2m4 0h0m62 0h0m34 0h0m33 0h0m13 0h0m17 0h0m2 0h0m2 0h0m9 0h0m8 0h0m11 0h1m2 0h0m14 0h0m10 0h0m3 0h0m77 0h0m4 0h0m2 0h0M122 221h0m59 0h0m3 0h0m2 0h0m13 0h0m4 0h1m81 0h0m24 0h0m9 0h0m9 0h0m11 0h0m2 0h2m2 0h0m15 0h0m2 0h1m16 0h0m13 0h1m3 0h0m7 0h1m4 0h2m4 0h0m73 0h0m14 0h3m2 0h1M60 222h0m7 0h1m2 0h0m3 0h0m3 0h0m21 0h0m25 0h0m19 0h1m45 0h0m9 0h1m2 0h0m5 0h0m2 0h0m47 0h0m59 0h0m27 0h0m24 0h0m14 0h0m2 0h0m2 0h0m25 0h1m2 0h0m3 0h0m6 0h0m85 0h0m2 0h0M66 223h1m2 0h0m49 0h0m10 0h0m29 0h0m47 0h0m3 0h0m45 0h0m2 0h0m37 0h0m10 0h0m11 0h0m8 0h1m6 0h0m9 0h0m2 0h2m3 0h0m7 0h0m7 0h0m5 0h0m16 0h1m3 0h0m11 0h0m10 0h0m2 0h1m4 0h0m2 0h0m74 0h0m17 0h0M63 224h0m5 0h1m3 0h0m17 0h0m6 0h0m28 0h0m4 0h0m3 0h0m19 0h0m2 0h0m19 0h1m3 0h1m50 0h0m21 0h0m6 0h0m5 0h0m54 0h0m10 0h0m14 0h0m3 0h0m5 0h0m10 0h0m2 0h1m4 0h0m12 0h0m2 0h0m3 0h1m4 0h0m5 0h0m17 0h0M67 225h0m23 0h0m2 0h2m19 0h0m12 0h0m5 0h1m10 0h0m30 0h2m2 0h0m12 0h0m8 0h1m119 0h2m4 0h0m2 0h0m12 0h0m3 0h0m16 0h0m2 0h0m13 0h0m3 0h0m8 0h0m106 0h0m9 0h0m2 0h0m4 0h1M64 226h0m7 0h0m18 0h0m4 0h1m11 0h0m20 0h0m4 0h1m12 0h0m9 0h0m71 0h0m54 0h0m21 0h0m16 0h0m3 0h0m3 0h0m5 0h0m22 0h0m9 0h0m3 0h0m4 0h0m10 0h0m7 0h0m10 0h0m111 0h0M79 227h0m7 0h0m2 0h0m3 0h0m13 0h0m20 0h0m4 0h0m13 0h0m29 0h0m4 0h0m14 0h0m7 0h0m21 0h0m5 0h0m22 0h0m3 0h0m68 0h0m3 0h0m3 0h1m36 0h0m5 0h3m7 0h1m2 0h0m3 0h0m122 0h1M80 228h1m2 0h0m19 0h0m2 0h0m58 0h1m26 0h0m10 0h0m88 0h1m29 0h0m34 0h0m5 0h3m9 0h0m6 0h4M78 229h0m6 0h1m2 0h0m10 0h0m9 0h0m5 0h0m2 0h0m48 0h0m4 0h0m2 0h0m28 0h0m4 0h0m11 0h0m3 0h0m25 0h0m38 0h0m12 0h0m2 0h0m30 0h0m2 0h0m20 0h0m2 0h1m9 0h2m3 0h0m3 0h4m7 0h0m2 0h1m107 0h0m13 0h0m2 0h0M80 230h0m4 0h0m13 0h0m13 0h0m3 0h0m17 0h0m4 0h0m26 0h0m3 0h0m2 0h0m34 0h2m15 0h0m22 0h0m6 0h1m42 0h1m6 0h0m26 0h0m2 0h0m6 0h0m24 0h0m5 0h0m6 0h1m2 0h0m7 0h3m2 0h0m28 0h0m76 0h1m2 0h0m13 0h0m2 0h0M71 231h0m11 0h0m2 0h0m4 0h0m20 0h0m7 0h0m15 0h0m3 0h1m17 0h0m10 0h0m2 0h0m2 0h0m2 0h2m43 0h2m3 0h0m21 0h0m48 0h0m9 0h0m24 0h0m31 0h2m3 0h0m2 0h0m6 0h2m6 0h0m2 0h0m8 0h0m6 0h0m100 0h0m10 0h0m2 0h0M112 232h0m10 0h0m26 0h1m2 0h0m2 0h0m5 0h3m3 0h0m44 0h0m7 0h0m77 0h0m19 0h0m9 0h0m15 0h0m8 0h0m22 0h0m15 0h0m7 0h0m9 0h0m89 0h1m12 0h0M86 233h0m3 0h0m3 0h0m20 0h1m11 0h0m11 0h0m2 0h0m11 0h0m9 0h2m2 0h0m2 0h0m32 0h0m4 0h1m8 0h0m6 0h1m33 0h0m73 0h1m6 0h0m7 0h0m11 0h0m9 0h0m16 0h1m3 0h0m4 0h1m5 0h0m9 0h0m3 0h0m86 0h2m11 0h0M83 234h0m3 0h0m37 0h0m12 0h2m23 0h0m37 0h1m5 0h0m9 0h0m9 0h0m3 0h0m24 0h1m33 0h0m36 0h0m4 0h0m2 0h0m2 0h1m9 0h0m13 0h0m3 0h0m9 0h0m9 0h0m7 0h0m19 0h0m3 0h0m99 0h0M83 235h0m27 0h0m9 0h0m16 0h0m110 0h0m67 0h0m18 0h0m4 0h0m2 0h0m21 0h1m2 0h1m9 0h0m3 0h0m13 0h0m107 0h0M112 236h0m6 0h0m17 0h0m2 0h1m2 0h0m82 0h0m23 0h0m68 0h0m13 0h0m10 0h0m5 0h0m19 0h0m14 0h1m15 0h0M86 237h0m17 0h0m7 0h0m2 0h0m8 0h0m37 0h0m60 0h1m4 0h0m27 0h0m70 0h0m14 0h0m4 0h0m5 0h0m4 0h0m7 0h0m3 0h0m16 0h0m2 0h0m15 0h0m92 0h0m7 0h0M82 238h0m2 0h0m3 0h0m25 0h0m10 0h0m5 0h1m20 0h0m2 0h0m12 0h0m87 0h0m46 0h0m9 0h1m25 0h0m12 0h0m11 0h0m2 0h0m3 0h1M128 239h0m20 0h0m138 0h0m21 0h0m24 0h0m13 0h0m2 0h0m5 0h0m2 0h1m134 0h1M88 240h0m2 0h0m3 0h0m52 0h0m154 0h0m4 0h0m5 0h2m3 0h0m2 0h0m8 0h0m33 0h0m128 0h0M74 241h0m12 0h0m5 0h0m26 0h1m122 0h0m69 0h2m49 0h0M74 242h0m10 0h0m6 0h0m13 0h0m2 0h0m12 0h0m2 0h0m122 0h0m8 0h0m53 0h0m5 0h0m2 0h0m33 0h0M117 243h0m2 0h0m122 0h0m8 0h0m85 0h0m2 0h0m18 0h2m2 0h0m128 0h0m8 0h0M74 244h0m2 0h0m13 0h0m161 0h0m105 0h2m5 0h0m123 0h0M74 245h0m15 0h0m20 0h0m138 0h0m23 0h0m67 0h0m19 0h0m130 0h0M76 246h0m9 0h1m4 0h0m5 0h0m12 0h0m2 0h0m3 0h1m2 0h0m212 0h0m4 0h0m8 0h0m149 0h0M71 247h0m19 0h0m24 0h0m165 0h1m14 0h0m46 0h0m3 0h0M70 248h0m6 0h0m24 0h0m176 0h1m10 0h0m36 0h1m2 0h0m14 0h0m5 0h0M76 249h0m21 0h1m146 0h0m26 0h0m6 0h1m30 0h0m9 0h0m29 0h0M74 250h0m9 0h0m189 0h1m2 0h0m6 0h0m5 0h0m27 0h0m31 0h0m148 0h0M86 251h0m8 0h0m148 0h0m29 0h0m16 0h0m25 0h1m17 0h0m9 0h0m4 0h0M87 252h0m8 0h1m17 0h0m131 0h1m28 0h1m37 0h0m20 0h0m5 0h0M87 253h1m3 0h0m151 0h0m69 0h2m11 0h0M92 254h0m2 0h0m138 0h0m2 0h0m8 0h0m24 0h0m8 0h0m14 0h0m23 0h3m17 0h0M239 255h0m2 0h0m30 0h0m18 0h0m13 0h0m11 0h0m19 0h0M82 256h0m6 0h1m21 0h0m132 0h0m36 0h0m40 0h0m13 0h0M89 257h0m22 0h0m131 0h0m36 0h0m14 0h0M241 258h2m33 0h0m29 0h0m11 0h0M242 259h0m36 0h0m5 0h0M114 260h1m168 0h1m10 0h0m14 0h0M109 261h0m152 0h0m20 0h0m2 0h1m25 0h0M280 262h0M107 263h1m172 0h3M107 264h0m174 0h1M113 265h0m168 0h0M108 266h0M115 267h0M108 268h1m6 0h0M280 280h0M284 287h0M285 294h0m2 0h1m2 0h1m2 0h0M277 295h1m6 0h0m2 0h0m3 0h0M278 296h0m4 0h0m3 0h0m3 0h3M276 297h3m10 0h2M266 298h0m6 0h0m14 0h0m3 0h0m2 0h0m3 0h0M266 299h1m2 0h0m3 0h0m3 0h0m5 0h0m6 0h2M264 300h0m5 0h0m14 0h0m2 0h2m4 0h1M264 301h0m8 0h1m9 0h1m2 0h0m3 0h0m2 0h0M264 302h0m9 0h0m9 0h3m3 0h1m3 0h0m3 0h1M259 303h0m11 0h0m9 0h0m10 0h0M260 304h0m8 0h0m9 0h0m2 0h2m5 0h0m3 0h0m3 0h0m2 0h0M257 305h1m14 0h0m3 0h1m4 0h0m3 0h0m3 0h1m5 0h1M257 306h0m21 0h0m12 0h1M254 307h0m2 0h0m2 0h0m14 0h1m2 0h0m2 0h0m4 0h0m2 0h1m4 0h0m2 0h0M278 308h0M254 309h0m18 0h0m4 0h1m3 0h1m2 0h0m5 0h1M254 310h0m19 0h0m3 0h0m6 0h0M253 311h1m2 0h0m19 0h0m6 0h1m2 0h0m2 0h0m2 0h0M257 312h0m23 0h0m3 0h1m4 0h0m2 0h0M254 313h0m26 0h0m2 0h0m5 0h0M254 314h0m27 0h1m3 0h0m4 0h0M253 315h0m2 0h0m23 0h0m11 0h0M255 316h1m21 0h0m3 0h0m2 0h0m3 0h1M256 317h0m22 0h0m3 0h0M255 318h0m2 0h0m11 0h0m2 0h0m6 0h0m4 0h0m3 0h0M260 319h0m4 0h2m13 0h2M261 320h0m4 0h0m3 0h0m3 0h0m7 0h1m2 0h0M260 321h1m3 0h5m8 0h0m2 0h1m3 0h0M255 322h0m2 0h0m3 0h1m2 0h2m4 0h0m9 0h0m2 0h1M258 323h0m3 0h0m3 0h0m12 0h1M260 324h2m4 0h0m2 0h0m5 0h0m4 0h0M261 325h1m2 0h1m8 0h0m3 0h0M265 326h0m8 0h0M266 327h0"/><path stroke="#484ff2" d="M163 19h0M162 31h0M168 35h0M164 37h0M164 38h0M187 39h0M166 40h0m46 0h1M173 41h1m38 0h1m2 0h1M226 42h0M286 43h0m3 0h0M194 44h1m86 0h0m11 0h1M161 45h0m12 0h0m21 0h0m17 0h0m74 0h0m10 0h0M174 46h0m16 0h0m22 0h0m78 0h1m3 0h1M164 47h0m17 0h0m8 0h0m2 0h0m2 0h0m4 0h0m84 0h0m5 0h0m4 0h0m5 0h0M158 48h0m6 0h0m16 0h0m11 0h1m5 0h0m87 0h0m7 0h0M158 49h0m34 0h1m11 0h0m69 0h0m17 0h0M157 50h0m2 0h0m3 0h0m2 0h1m23 0h1m2 0h0m2 0h1m2 0h0m2 0h0m2 0h0m84 0h0M157 51h0m3 0h0m2 0h3m23 0h0m4 0h1m5 0h0m5 0h0m14 0h0m74 0h0M158 52h0m2 0h0m8 0h0m21 0h3m2 0h0m24 0h0M159 53h1m30 0h0m9 0h0m15 0h0m2 0h0m14 0h0m2 0h0m57 0h0M156 54h0m4 0h0m5 0h0m25 0h0m10 0h0m15 0h0m15 0h3m68 0h0M183 55h0m12 0h0m2 0h1m2 0h0m94 0h0M156 56h0m10 0h0m26 0h1m3 0h1m3 0h0m20 0h0M155 57h0m2 0h0m23 0h0m14 0h1m2 0h0m24 0h0M155 58h1m24 0h0m14 0h0m60 0h1m15 0h0m27 0h0M158 59h0m14 0h0m7 0h0m43 0h1m61 0h0m10 0h0m2 0h0m38 0h0M182 60h1m11 0h0m17 0h0m2 0h0m10 0h0m5 0h0m56 0h1m3 0h0m5 0h0m2 0h1m29 0h0M152 61h0m61 0h0m14 0h0m4 0h0m64 0h0m40 0h0m3 0h0m39 0h0M152 62h1m15 0h0m55 0h0m4 0h1m4 0h0m4 0h0m36 0h1m15 0h0m111 0h1M151 63h0m14 0h0m2 0h0m10 0h0m5 0h0m28 0h2m16 0h0m3 0h0m99 0h0m8 0h0M150 64h0m2 0h0m14 0h0m46 0h0m18 0h0m24 0h0m6 0h0m34 0h0m35 0h0m9 0h0m35 0h1M152 65h0m78 0h1m19 0h0m2 0h0m3 0h1m80 0h1m3 0h0m33 0h0M149 66h0m7 0h2m9 0h0m84 0h0m4 0h0m6 0h0m13 0h0m8 0h0m6 0h0m3 0h1m27 0h0m11 0h0m8 0h0M166 67h0m47 0h0m38 0h0m11 0h0m25 0h0m20 0h0m17 0h0m9 0h0m30 0h0m2 0h0m13 0h0m23 0h0m89 0h0M166 68h0m63 0h0m42 0h0m16 0h0m4 0h0m15 0h0m27 0h0m7 0h0m22 0h0m3 0h0m13 0h1m125 0h0M156 69h1m112 0h0m4 0h0m19 0h1m38 0h0m7 0h0m7 0h0m16 0h0m2 0h1m21 0h0m107 0h0m13 0h0M157 70h0m112 0h2m3 0h1m16 0h0m10 0h0m16 0h0m27 0h0m6 0h1m30 0h0m3 0h1m13 0h0m99 0h0M157 71h0m2 0h0m29 0h0m79 0h0m3 0h0m2 0h1m2 0h1m24 0h0m33 0h0m12 0h0m36 0h0m3 0h1m11 0h1m73 0h0m27 0h0m3 0h0M158 72h1m30 0h0m82 0h0m2 0h0m3 0h2m22 0h1m45 0h0m4 0h1m28 0h3m3 0h0m28 0h0m56 0h0M273 73h0m2 0h0m4 0h0m6 0h0m15 0h1m6 0h0m40 0h0m2 0h1m30 0h0m2 0h0m3 0h0m2 0h1m30 0h0M146 74h1m113 0h0m2 0h0m13 0h1m8 0h1m31 0h0m33 0h0m31 0h0m2 0h0m87 0h0M259 75h1m2 0h0m11 0h1m12 0h0m29 0h0m27 0h0m2 0h0m35 0h0m13 0h0m64 0h0m13 0h0M146 76h0m95 0h0m17 0h2m14 0h0m13 0h1m5 0h0m13 0h0m30 0h0m3 0h0m40 0h0m22 0h0m4 0h0m69 0h0M146 77h0m93 0h0m22 0h0m3 0h0m16 0h0m9 0h0m4 0h0m14 0h1m6 0h0m2 0h0m63 0h0m23 0h0m5 0h0m52 0h0M143 78h0m3 0h0m2 0h2m108 0h2m7 0h0m27 0h0m12 0h0m33 0h0m52 0h0m11 0h0m58 0h1m3 0h0m10 0h0M146 79h0m3 0h1m74 0h0m13 0h0m23 0h0m8 0h0m43 0h0m68 0h0m10 0h0m2 0h0m3 0h0m6 0h0m9 0h0m95 0h0M145 80h0m4 0h0m85 0h0m7 0h1m6 0h0m25 0h0m16 0h0m4 0h0m96 0h2m17 0h0m49 0h0m3 0h1M140 81h0m5 0h0m4 0h1m4 0h0m85 0h0m13 0h0m6 0h0m10 0h0m5 0h0m15 0h0m4 0h1m18 0h0m77 0h0m2 0h0m54 0h0m13 0h0M153 82h2m56 0h0m5 0h0m35 0h0m5 0h2m14 0h2m5 0h0m7 0h0m4 0h1m2 0h1m94 0h0m5 0h0m8 0h0m7 0h0m54 0h0M210 83h1m22 0h0m8 0h0m4 0h0m12 0h0m20 0h0m3 0h0m4 0h0m3 0h0m3 0h0m100 0h0m3 0h1m7 0h0m53 0h0m3 0h0m5 0h0m2 0h0M212 84h0m34 0h0m2 0h0m2 0h0m19 0h0m4 0h0m14 0h0m5 0h0m2 0h0m9 0h0m91 0h0m4 0h0m4 0h0m7 0h0m41 0h0m6 0h0m4 0h0m3 0h1M250 85h0m6 0h0m28 0h0m5 0h0m5 0h3m93 0h0m60 0h0M145 86h0m103 0h0m10 0h0m25 0h0m7 0h0m2 0h0m4 0h0m4 0h0m3 0h1m94 0h0m50 0h1m13 0h0m2 0h0m6 0h1M144 87h0m2 0h0m59 0h0m43 0h2m8 0h0m6 0h0m5 0h0m9 0h0m6 0h0m3 0h0m2 0h0m6 0h0m2 0h1m3 0h0m6 0h0m95 0h0m49 0h0m19 0h0M191 88h0m29 0h0m28 0h0m4 0h0m4 0h0m2 0h0m3 0h2m13 0h1m8 0h0m3 0h1m8 0h0m5 0h0m2 0h0m137 0h0m10 0h0M255 89h2m3 0h0m3 0h1m6 0h0m10 0h1m2 0h1m2 0h1m5 0h1m13 0h0m2 0h0m94 0h2m2 0h0m14 0h0m5 0h0m7 0h0m2 0h0m18 0h1m14 0h0M249 90h1m6 0h0m3 0h0m2 0h0m2 0h0m19 0h1m2 0h0m2 0h0m11 0h0m5 0h1m2 0h0m100 0h0m25 0h0m5 0h0m17 0h1m11 0h1M141 91h0m102 0h1m4 0h0m32 0h0m6 0h0m2 0h1m4 0h1m11 0h0m120 0h0m15 0h0m10 0h0m2 0h1m4 0h0m7 0h0M199 92h0m45 0h0m7 0h0m7 0h1m18 0h0m2 0h0m5 0h0m3 0h2m7 0h0m3 0h0m92 0h1m30 0h0m16 0h0m14 0h0m4 0h0m7 0h1m2 0h0M133 93h0m19 0h0m93 0h0m11 0h0m2 0h0m2 0h0m3 0h0m7 0h0m8 0h1m2 0h2m3 0h2m2 0h2m9 0h0m3 0h1m5 0h0m82 0h1m60 0h0m2 0h1m7 0h0m3 0h0M133 94h1m17 0h0m2 0h0m106 0h0m2 0h1m8 0h0m5 0h0m3 0h1m2 0h0m5 0h0m3 0h0m2 0h0m12 0h0m2 0h1m90 0h0m60 0h0m7 0h0M133 95h0m20 0h1m63 0h2m10 0h0m31 0h0m3 0h1m2 0h0m2 0h0m2 0h0m4 0h1m5 0h0m5 0h1m3 0h0m109 0h0m46 0h0m11 0h0M135 96h0m80 0h1m11 0h0m2 0h0m22 0h0m5 0h2m3 0h1m2 0h0m5 0h0m2 0h1m4 0h0m2 0h0m6 0h1m2 0h0m2 0h1m3 0h0m70 0h0m36 0h0m23 0h0m33 0h0m5 0h0M229 97h0m31 0h1m4 0h1m4 0h0m4 0h1m3 0h2m5 0h1m4 0h1m3 0h0m68 0h1m9 0h0m53 0h0m2 0h0m16 0h0m13 0h0m2 0h2m9 0h0m2 0h0m12 0h0M259 98h1m2 0h2m3 0h0m5 0h0m5 0h0m2 0h0m3 0h0m6 0h0m5 0h0m6 0h0m62 0h0m3 0h1m8 0h1m28 0h0m2 0h1m2 0h0m17 0h0m3 0h0m2 0h0m19 0h0m5 0h0m2 0h1m4 0h0m14 0h0m7 0h0m3 0h0M253 99h0m9 0h1m2 0h1m16 0h0m5 0h0m3 0h0m2 0h0m3 0h0m5 0h0m6 0h0m56 0h0m3 0h0m38 0h0m3 0h1m20 0h0m27 0h0m2 0h0m5 0h0M137 100h1m110 0h0m12 0h0m4 0h0m2 0h0m7 0h0m9 0h0m22 0h0m2 0h0m47 0h0m13 0h1m16 0h0m27 0h0m38 0h0m44 0h0m2 0h0m4 0h0m5 0h0M134 101h0m4 0h1m8 0h0m9 0h1m49 0h0m30 0h0m11 0h0m7 0h0m2 0h0m4 0h0m5 0h0m8 0h0m3 0h2m2 0h0m2 0h0m2 0h0m5 0h1m2 0h0m75 0h1m5 0h0m58 0h0m16 0h1m23 0h0m12 0h1m15 0h0m2 0h0M231 102h0m25 0h0m12 0h2m7 0h2m5 0h0m9 0h0m80 0h0m9 0h0m67 0h0m44 0h0M145 103h0m2 0h0m6 0h1m77 0h0m18 0h1m5 0h1m5 0h0m9 0h0m2 0h1m3 0h1m2 0h1m5 0h1m7 0h1m49 0h0m38 0h0m10 0h0m36 0h0m4 0h0m17 0h1m44 0h0m7 0h0M132 104h0m13 0h0m85 0h0m11 0h0m15 0h0m6 0h1m5 0h0m2 0h0m2 0h0m4 0h1m4 0h0m4 0h1m6 0h0m52 0h0m29 0h0m13 0h0m6 0h3m25 0h0m13 0h0m2 0h0m5 0h0m43 0h0m12 0h0M129 105h0m4 0h0m11 0h0m3 0h0m102 0h0m13 0h1m13 0h0m10 0h0m6 0h0m2 0h0m75 0h0m12 0h0m14 0h0m30 0h0m2 0h0m5 0h0m8 0h0m9 0h0m46 0h0m5 0h0m7 0h0M130 106h0m122 0h0m11 0h1m6 0h1m3 0h2m8 0h0m5 0h0m5 0h0m6 0h0m68 0h0m15 0h0m12 0h0m7 0h0m12 0h1m4 0h0m6 0h0m10 0h0m14 0h0m6 0h0m10 0h0m11 0h1m23 0h0M133 107h0m105 0h0m6 0h0m13 0h0m3 0h0m2 0h1m6 0h0m2 0h0m4 0h0m3 0h0m3 0h0m8 0h0m62 0h0m23 0h0m14 0h0m27 0h0m15 0h1m3 0h1m65 0h0m5 0h0M123 108h1m2 0h0m9 0h0m5 0h0m90 0h0m8 0h0m23 0h1m4 0h0m5 0h1m4 0h1m5 0h1m12 0h0m7 0h0m2 0h0m48 0h0m7 0h0m6 0h0m11 0h0m41 0h0m17 0h0m63 0h0M123 109h0m13 0h0m112 0h0m10 0h0m4 0h0m9 0h0m4 0h0m2 0h1m4 0h0m2 0h0m7 0h0m12 0h0m47 0h0m4 0h0m7 0h0m12 0h0m17 0h0m40 0h0m20 0h0m17 0h0m28 0h0m2 0h0M122 110h0m3 0h0m9 0h0m2 0h0m4 0h0m2 0h0m103 0h0m2 0h0m12 0h2m10 0h0m10 0h1m7 0h0m3 0h0m12 0h0m50 0h0m11 0h1m57 0h0m25 0h0m2 0h1m9 0h0m35 0h0m2 0h0M120 111h0m21 0h0m10 0h0m110 0h0m3 0h0m9 0h2m23 0h1m54 0h2m2 0h0m14 0h0m9 0h0m8 0h0m46 0h0m19 0h0m10 0h0m11 0h0m7 0h0m2 0h1m9 0h3m2 0h0m5 0h0M121 112h0m3 0h0m8 0h0m9 0h0m11 0h0m2 0h2m81 0h0m25 0h0m2 0h0m2 0h0m7 0h0m7 0h2m7 0h0m8 0h0m48 0h0m2 0h0m2 0h7m2 0h0m7 0h0m4 0h0m2 0h0m11 0h0m31 0h1m6 0h0m20 0h0m12 0h0m2 0h0m19 0h0m7 0h0m16 0h0m6 0h0M140 113h0m7 0h0m7 0h0m2 0h0m98 0h0m2 0h0m10 0h0m21 0h0m57 0h0m9 0h0m5 0h1m4 0h6m58 0h0m22 0h1m3 0h1m20 0h0m8 0h0m2 0h1m6 0h1m2 0h0M118 114h0m27 0h0m2 0h1m6 0h0m109 0h0m3 0h0m84 0h0m3 0h0m4 0h2m4 0h0m11 0h0m4 0h0m2 0h0m3 0h0m51 0h0m39 0h0m11 0h0m18 0h0M118 115h1m28 0h1m4 0h0m8 0h0m57 0h0m46 0h0m2 0h0m2 0h1m4 0h0m14 0h1m9 0h1m52 0h0m3 0h1m10 0h0m5 0h0m3 0h0m9 0h0m47 0h0m10 0h0m14 0h0m10 0h1m2 0h0m8 0h0m12 0h0m6 0h0m12 0h0M119 116h0m4 0h1m11 0h0m8 0h5m8 0h0m4 0h0m100 0h0m4 0h0m3 0h1m3 0h1m7 0h0m10 0h0m8 0h0m2 0h1m5 0h0m45 0h0m10 0h1m3 0h0m5 0h0m7 0h0m4 0h1m5 0h0m34 0h0m6 0h0m4 0h0m5 0h0m3 0h0m21 0h0m5 0h0m35 0h0m2 0h0M141 117h1m2 0h0m6 0h0m82 0h0m31 0h0m8 0h1m14 0h0m13 0h1m11 0h0m36 0h4m2 0h0m8 0h1m4 0h0m6 0h0m4 0h0m4 0h2m62 0h0m14 0h0m5 0h1m20 0h1m12 0h0M124 118h1m17 0h0m11 0h0m45 0h0m17 0h1m40 0h0m7 0h0m4 0h0m6 0h1m9 0h0m3 0h0m14 0h0m45 0h0m4 0h1m7 0h0m2 0h0m4 0h0m2 0h0m7 0h0m5 0h0m5 0h1m9 0h0m37 0h1m15 0h0m8 0h0m9 0h1m2 0h1m27 0h0M140 119h1m8 0h0m98 0h0m3 0h0m21 0h1m6 0h0m4 0h0m5 0h0m11 0h0m53 0h0m6 0h2m2 0h1m9 0h0m5 0h1m10 0h0m61 0h0m4 0h0m4 0h0m7 0h0m2 0h0m7 0h0M124 120h0m12 0h1m2 0h0m8 0h0m4 0h1m3 0h0m65 0h0m26 0h0m5 0h0m6 0h0m15 0h0m5 0h1m2 0h1m65 0h0m9 0h0m3 0h0m3 0h0m10 0h0m3 0h0m4 0h0m8 0h0m44 0h0m19 0h0m8 0h0m3 0h0m3 0h0m2 0h0M141 121h0m12 0h0m4 0h0m5 0h1m32 0h1m24 0h0m24 0h0m2 0h0m10 0h0m2 0h0m8 0h1m2 0h0m5 0h0m6 0h1m6 0h0m12 0h0m50 0h0m3 0h0m7 0h0m11 0h0m2 0h0m2 0h0m3 0h0m15 0h0m2 0h0m23 0h0m8 0h0m2 0h0m3 0h0m30 0h1m8 0h0m9 0h0m18 0h0m5 0h0M131 122h0m22 0h0m2 0h0m40 0h0m5 0h0m18 0h0m3 0h0m35 0h1m9 0h0m2 0h1m6 0h0m11 0h0m2 0h0m29 0h0m40 0h2m14 0h0m12 0h0m5 0h0m45 0h0m4 0h0m11 0h0m2 0h0m10 0h0m3 0h0m9 0h2m24 0h0m6 0h0M111 123h0m17 0h0m24 0h1m2 0h0m50 0h0m58 0h0m3 0h0m2 0h0m17 0h0m3 0h0m26 0h0m41 0h1m14 0h0m2 0h0m7 0h0m54 0h2m4 0h0m7 0h0m5 0h0m9 0h0m7 0h1m29 0h0m7 0h0M135 124h0m73 0h0m50 0h0m5 0h2m18 0h0m2 0h0m2 0h0m2 0h0m3 0h0m6 0h0m14 0h1m3 0h0m24 0h1m15 0h1m18 0h0m3 0h0m15 0h0m43 0h0m5 0h0m8 0h0m41 0h0M116 125h0m8 0h0m12 0h0m7 0h0m57 0h0m59 0h1m3 0h0m20 0h2m3 0h0m5 0h0m7 0h0m13 0h0m32 0h0m6 0h0m4 0h1m4 0h0m9 0h0m10 0h0m34 0h0m4 0h0m9 0h0m9 0h1m9 0h0m41 0h0m15 0h1M111 126h0m6 0h0m2 0h0m17 0h0m9 0h0m54 0h0m2 0h0m8 0h0m26 0h0m27 0h1m23 0h0m4 0h0m67 0h2m7 0h0m3 0h0m5 0h0m57 0h0m4 0h0m2 0h0m18 0h0m36 0h1M159 127h0m3 0h1m36 0h0m3 0h0m6 0h1m4 0h0m24 0h0m26 0h0m22 0h0m6 0h0m11 0h0m51 0h0m2 0h1m5 0h0m12 0h1m2 0h0m50 0h0m11 0h0m11 0h0m2 0h0m34 0h0m7 0h1M133 128h0m14 0h1m39 0h0m16 0h0m3 0h1m3 0h0m3 0h0m21 0h0m49 0h1m2 0h1m2 0h2m9 0h0m54 0h0m2 0h0m18 0h0m10 0h0m58 0h0m7 0h0m33 0h0m9 0h0M116 129h0m7 0h0m25 0h0m10 0h0m48 0h0m6 0h0m78 0h0m12 0h0m8 0h0m35 0h0m5 0h0m2 0h4m12 0h1m3 0h1m10 0h0m2 0h0m17 0h0m29 0h0m8 0h0m8 0h1m15 0h0m8 0h0m22 0h0m4 0h0M115 130h0m19 0h0m7 0h0m54 0h0m9 0h0m3 0h0m23 0h0m67 0h0m2 0h0m3 0h1m46 0h0m5 0h0m6 0h0m7 0h0m2 0h0m5 0h3m36 0h0m3 0h0m16 0h0m11 0h0m12 0h0m10 0h0m31 0h0M115 131h0m2 0h0m23 0h0m20 0h0m67 0h0m4 0h0m19 0h0m4 0h0m9 0h0m20 0h0m7 0h0m7 0h0m5 0h0m2 0h0m46 0h0m2 0h0m4 0h0m12 0h1m3 0h0m4 0h0m26 0h0m44 0h0M120 132h0m13 0h0m9 0h0m18 0h0m33 0h0m42 0h0m17 0h0m30 0h2m15 0h1m2 0h0m48 0h0m2 0h0m16 0h0m6 0h0m27 0h0m24 0h0m20 0h0m14 0h0M104 133h0m11 0h0m15 0h2m3 0h0m4 0h2m51 0h0m43 0h0m12 0h0m4 0h0m2 0h0m3 0h0m21 0h0m5 0h0m2 0h1m9 0h0m4 0h0m3 0h0m11 0h1m7 0h1m4 0h0m50 0h0m23 0h1m32 0h0m11 0h0m21 0h0m4 0h0m8 0h0m4 0h0m6 0h0m5 0h0M130 134h3m7 0h1m18 0h0m3 0h0m72 0h1m12 0h0m9 0h0m21 0h0m4 0h0m2 0h0m15 0h1m5 0h0m7 0h1m6 0h0m2 0h2m2 0h0m2 0h0m14 0h0m19 0h0m5 0h0m18 0h0m10 0h0m27 0h0m40 0h0m18 0h0M114 135h0m12 0h0m6 0h0m6 0h0m6 0h0m18 0h0m7 0h0m66 0h0m7 0h0m40 0h0m13 0h1m4 0h2m9 0h1m9 0h0m5 0h0m29 0h1m2 0h0m2 0h0m4 0h0m17 0h0m11 0h0m12 0h0m7 0h0m17 0h0m2 0h1m15 0h0m34 0h0m12 0h0M138 136h0m27 0h0m101 0h1m13 0h0m9 0h0m8 0h0m2 0h0m18 0h0m2 0h0m5 0h0m32 0h1m2 0h2m2 0h0m27 0h0m5 0h1m38 0h0m3 0h0m15 0h0m9 0h0M54 137h0m46 0h0m10 0h0m21 0h0m22 0h0m35 0h0m61 0h0m8 0h0m8 0h0m20 0h0m2 0h0m3 0h0m6 0h0m17 0h0m6 0h0m2 0h0m39 0h1m4 0h1m3 0h0m13 0h0m4 0h0m8 0h0m2 0h1m7 0h0m6 0h0m12 0h0m11 0h0m4 0h0m16 0h0m15 0h0m15 0h0m2 0h0m4 0h0M61 138h0m92 0h0m2 0h0m14 0h0m36 0h0m52 0h3m21 0h0m5 0h0m4 0h0m12 0h0m9 0h0m69 0h2m3 0h0m3 0h0m6 0h0m3 0h1m26 0h0m43 0h0m12 0h0M59 139h0m44 0h0m7 0h0m24 0h0m34 0h1m3 0h0m33 0h0m50 0h1m2 0h0m26 0h0m3 0h2m5 0h0m3 0h0m6 0h0m9 0h0m50 0h0m20 0h0m2 0h0m2 0h0m11 0h1m21 0h0m11 0h0m33 0h0m4 0h1m9 0h0M103 140h0m7 0h0m9 0h0m24 0h0m100 0h0m14 0h0m5 0h0m18 0h1m7 0h0m13 0h0m65 0h0m12 0h0m19 0h0m2 0h0m4 0h0m24 0h0m7 0h0m7 0h0m15 0h0m6 0h0m13 0h0M49 141h0m8 0h0m46 0h0m137 0h0m3 0h0m12 0h0m2 0h0m7 0h0m23 0h0m6 0h0m25 0h0m51 0h0m10 0h0m15 0h0m4 0h0m6 0h0m6 0h0m8 0h0m5 0h1m18 0h0m32 0h2m2 0h1M64 142h0m5 0h0m38 0h0m29 0h0m19 0h0m7 0h0m5 0h0m51 0h0m35 0h1m17 0h0m4 0h0m7 0h0m5 0h0m7 0h0m10 0h0m6 0h1m10 0h0m26 0h0m2 0h0m12 0h1m30 0h0m5 0h0m7 0h0m4 0h0m63 0h0M55 143h0m16 0h0m17 0h0m40 0h0m37 0h0m29 0h0m4 0h0m43 0h0m12 0h1m20 0h0m3 0h0m34 0h0m21 0h0m18 0h0m6 0h0m11 0h0m19 0h0m20 0h0m3 0h0m7 0h0m18 0h0m4 0h0m2 0h0M66 144h0m45 0h0m34 0h0m22 0h0m31 0h0m15 0h0m28 0h0m13 0h0m7 0h0m15 0h1m5 0h0m21 0h1m6 0h0m6 0h0m4 0h0m26 0h0m44 0h0m14 0h1m3 0h0m29 0h0m12 0h0m10 0h0m23 0h0M55 145h0m4 0h0m25 0h0m18 0h0m42 0h0m4 0h0m12 0h0m15 0h0m43 0h1m34 0h1m2 0h0m2 0h0m3 0h0m16 0h0m7 0h0m4 0h0m13 0h1m2 0h0m2 0h0m13 0h0m4 0h0m6 0h0m31 0h0m5 0h0m8 0h0m6 0h1m48 0h0m2 0h0m7 0h0m4 0h0m4 0h0m18 0h0m6 0h0m11 0h0M67 146h0m37 0h0m7 0h0m34 0h0m13 0h1m53 0h0m6 0h1m33 0h1m2 0h0m28 0h0m3 0h0m34 0h2m12 0h0m8 0h0m18 0h0m11 0h2m17 0h0m3 0h0m16 0h0m14 0h1m12 0h0m3 0h1m19 0h0m11 0h0m13 0h1m2 0h0M65 147h0m3 0h0m5 0h0m4 0h0m14 0h0m5 0h1m13 0h0m16 0h0m19 0h0m14 0h1m2 0h0m13 0h0m7 0h0m56 0h0m13 0h1m3 0h0m3 0h0m43 0h0m4 0h0m2 0h0m2 0h0m11 0h1m5 0h0m11 0h0m5 0h0m12 0h0m17 0h0m2 0h0m13 0h0m19 0h0m3 0h1m14 0h0m17 0h0m29 0h0m5 0h0m4 0h0m6 0h1M67 148h0m5 0h0m8 0h0m4 0h0m3 0h0m25 0h0m14 0h1m6 0h0m10 0h0m9 0h0m10 0h0m95 0h1m62 0h0m4 0h1m17 0h0m3 0h0m26 0h0m32 0h0m6 0h0m27 0h1m11 0h1m8 0h0m3 0h0M90 149h0m23 0h0m14 0h0m7 0h0m19 0h0m13 0h0m3 0h0m52 0h0m37 0h0m41 0h0m20 0h0m3 0h0m9 0h1m5 0h2m9 0h0m15 0h0m29 0h0m17 0h0m2 0h0m7 0h0m14 0h0m26 0h0m17 0h0M74 150h0m8 0h0m7 0h0m7 0h0m17 0h0m47 0h1m5 0h0m17 0h1m125 0h0m9 0h0m3 0h0m16 0h0m24 0h0m10 0h0m7 0h0m8 0h0m6 0h0m3 0h0m6 0h1m15 0h0m20 0h0m5 0h0m16 0h0m9 0h0m9 0h0M70 151h0m3 0h0m16 0h0m7 0h0m8 0h1m37 0h0m3 0h0m5 0h0m11 0h0m5 0h0m12 0h0m3 0h1m14 0h0m61 0h2m50 0h0m18 0h0m28 0h0m31 0h0m11 0h1m2 0h0m2 0h0m16 0h0m4 0h0m5 0h0m8 0h0m24 0h0m7 0h0m11 0h0M69 152h1m54 0h0m57 0h0m77 0h2m3 0h0m33 0h0m18 0h0m24 0h0m11 0h1m4 0h1m7 0h0m15 0h0m32 0h0m9 0h0m16 0h0m9 0h0m8 0h0m20 0h0m5 0h0M72 153h0m27 0h0m103 0h0m59 0h0m37 0h0m2 0h0m14 0h0m11 0h0m14 0h0m9 0h1m4 0h0m3 0h0m2 0h0m5 0h0m16 0h0m2 0h0m32 0h0m22 0h0m31 0h0m5 0h0m3 0h0M93 154h0m23 0h0m4 0h0m132 0h0m7 0h1m2 0h0m4 0h0m10 0h0m5 0h0m17 0h0m2 0h1m26 0h0m12 0h0m5 0h0m4 0h1m7 0h0m2 0h2m2 0h0m16 0h0m2 0h0m9 0h0m9 0h0m4 0h0m5 0h0m7 0h0m9 0h0m2 0h0m16 0h0m11 0h0M60 155h0m7 0h0m7 0h0m8 0h0m23 0h0m12 0h0m92 0h0m30 0h0m12 0h1m4 0h1m41 0h0m4 0h0m38 0h0m2 0h0m4 0h0m12 0h0m2 0h0m7 0h0m11 0h0m13 0h1m10 0h0m2 0h0m32 0h0m21 0h0m9 0h0M81 156h0m15 0h0m9 0h0m47 0h0m72 0h1m15 0h0m11 0h0m5 0h1m4 0h0m9 0h0m6 0h1m24 0h2m2 0h0m8 0h0m24 0h0m5 0h0m2 0h3m9 0h1m10 0h0m6 0h0m2 0h0m19 0h0m8 0h0m3 0h0m22 0h0m12 0h0m2 0h0m7 0h0M75 157h0m11 0h0m6 0h0m12 0h0m3 0h0m10 0h0m5 0h0m8 0h0m20 0h0m82 0h0m4 0h0m2 0h1m2 0h0m13 0h0m3 0h0m27 0h0m13 0h0m28 0h1m9 0h0m2 0h0m7 0h0m24 0h1m5 0h0m16 0h0m2 0h0m11 0h0m11 0h0m21 0h0m13 0h0M92 158h0m12 0h0m2 0h0m73 0h0m53 0h0m18 0h0m6 0h0m2 0h0m25 0h0m20 0h0m2 0h0m9 0h0m11 0h1m10 0h0m6 0h0m24 0h0m9 0h0m17 0h1m12 0h0m8 0h0m17 0h0m12 0h0m9 0h0M73 159h0m13 0h0m8 0h2m26 0h0m86 0h0m28 0h0m7 0h0m8 0h1m3 0h0m2 0h0m4 0h0m10 0h0m12 0h0m21 0h0m10 0h0m14 0h0m11 0h1m7 0h0m9 0h3m8 0h0m20 0h0m5 0h4m58 0h0m10 0h0m4 0h0M87 160h0m151 0h1m3 0h0m9 0h0m2 0h0m2 0h0m21 0h1m2 0h0m2 0h0m2 0h0m13 0h0m34 0h0m19 0h0m5 0h0m3 0h0m3 0h0m7 0h1m19 0h0m28 0h0m28 0h0m20 0h0m2 0h0M66 161h0m9 0h0m165 0h1m2 0h0m9 0h0m7 0h0m13 0h2m4 0h2m13 0h0m9 0h0m2 0h2m9 0h0m10 0h0m14 0h1m2 0h1m6 0h0m5 0h0m13 0h2m51 0h2m17 0h0M63 162h0m17 0h0m20 0h0m10 0h0m19 0h0m90 0h1m31 0h0m4 0h2m2 0h0m13 0h0m4 0h0m10 0h0m2 0h0m6 0h0m12 0h0m10 0h0m15 0h1m7 0h0m3 0h0m2 0h0m6 0h0m2 0h0m10 0h0m38 0h0m6 0h1m10 0h0m3 0h0m16 0h0m6 0h0M86 163h0m68 0h0m13 0h0m73 0h0m13 0h0m5 0h0m17 0h0m12 0h1m18 0h1m23 0h1m13 0h0m10 0h0m3 0h1m3 0h0m5 0h0m13 0h1m20 0h0m3 0h0m20 0h0m2 0h1m25 0h0m14 0h0M67 164h0m4 0h0m143 0h0m16 0h0m22 0h0m9 0h0m10 0h0m2 0h0m2 0h0m4 0h0m7 0h1m20 0h0m36 0h0m12 0h0m2 0h0m3 0h0m17 0h0m2 0h0m27 0h1m5 0h0m9 0h0M116 165h0m2 0h0m96 0h0m16 0h0m24 0h0m11 0h0m7 0h1m11 0h0m4 0h1m2 0h2m14 0h0m19 0h0m16 0h0m11 0h0m5 0h0m8 0h0m7 0h1m8 0h0m7 0h0m16 0h0m2 0h0m14 0h0m12 0h0m3 0h0m7 0h0m6 0h0M79 166h0m133 0h1m2 0h0m8 0h0m2 0h0m13 0h0m9 0h0m19 0h0m5 0h3m16 0h0m2 0h0m34 0h0m15 0h0m23 0h0m3 0h0m4 0h2m8 0h0m28 0h0m22 0h0m4 0h0m13 0h0m2 0h0M74 167h0m36 0h0m55 0h0m55 0h0m3 0h0m24 0h1m25 0h3m5 0h0m6 0h1m3 0h0m2 0h1m17 0h0m6 0h0m6 0h1m25 0h1m2 0h0m10 0h0m2 0h0m2 0h1m8 0h0m5 0h0m2 0h0m25 0h0m12 0h0M110 168h0m58 0h1m51 0h0m25 0h3m3 0h0m22 0h0m2 0h0m2 0h1m3 0h0m12 0h0m8 0h0m10 0h0m5 0h1m28 0h0m5 0h0m14 0h1m10 0h1m11 0h0m31 0h0m13 0h0m5 0h0m15 0h1M81 169h0m21 0h0m49 0h0m17 0h0m59 0h0m20 0h1m5 0h2m12 0h0m2 0h0m2 0h1m2 0h0m4 0h0m2 0h0m13 0h0m32 0h1m2 0h0m15 0h1m7 0h0m26 0h0m10 0h0m25 0h0m7 0h1m32 0h0m4 0h0M59 170h0m5 0h0m9 0h1m147 0h0m15 0h0m3 0h0m8 0h1m8 0h0m14 0h1m5 0h1m4 0h0m2 0h0m18 0h0m3 0h0m2 0h0m6 0h1m9 0h2m5 0h0m13 0h1m9 0h0m2 0h0m5 0h0m15 0h0m2 0h0m18 0h0m19 0h0m2 0h0m2 0h0m2 0h0m12 0h0m12 0h0m14 0h0M82 171h0m3 0h0m22 0h0m130 0h0m6 0h0m12 0h0m2 0h0m14 0h0m3 0h1m3 0h0m4 0h0m12 0h0m7 0h0m5 0h0m6 0h0m3 0h0m6 0h2m14 0h0m5 0h0m10 0h0m21 0h0m5 0h0m45 0h0m7 0h0m8 0h0m6 0h0M78 172h0m4 0h0m33 0h0m20 0h0m33 0h0m100 0h0m3 0h1m20 0h0m2 0h0m2 0h0m13 0h0m6 0h2m4 0h0m2 0h1m13 0h2m15 0h0m4 0h0m6 0h0m30 0h0m18 0h0m22 0h0m20 0h0M66 173h0m21 0h0m84 0h0m66 0h0m20 0h1m15 0h1m15 0h0m3 0h1m18 0h0m6 0h0m7 0h0m4 0h0m13 0h0m16 0h0m2 0h0m2 0h0m4 0h0m3 0h0m4 0h0m7 0h0m9 0h0m2 0h0m13 0h0m5 0h0m29 0h0m4 0h0m7 0h1M87 174h0m45 0h0m136 0h0m3 0h0m2 0h0m12 0h0m4 0h1m3 0h0m5 0h0m17 0h1m7 0h0m4 0h0m34 0h0m8 0h0m2 0h1m3 0h0m3 0h1m9 0h1m11 0h1m5 0h0m19 0h0M82 175h0m5 0h0m20 0h0m31 0h0m5 0h0m27 0h0m48 0h0m70 0h0m3 0h0m11 0h0m14 0h0m10 0h1m2 0h1m33 0h0m8 0h0m28 0h0m51 0h0m7 0h2M56 176h0m30 0h0m26 0h0m30 0h0m28 0h1m43 0h0m9 0h0m26 0h0m12 0h1m15 0h1m13 0h0m7 0h0m2 0h0m21 0h0m4 0h1m38 0h2m7 0h0m2 0h0m25 0h1m18 0h0m16 0h0m6 0h0m4 0h0m10 0h0M72 177h0m98 0h0m35 0h0m5 0h0m5 0h0m5 0h0m12 0h0m23 0h0m5 0h0m8 0h0m7 0h0m15 0h0m8 0h0m2 0h0m21 0h0m4 0h0m15 0h0m16 0h1m10 0h0m4 0h0m3 0h0m25 0h0m2 0h0m12 0h0m3 0h0m9 0h0m9 0h0m25 0h0M95 178h0m4 0h0m77 0h0m56 0h0m28 0h1m14 0h1m2 0h1m2 0h0m9 0h0m9 0h0m22 0h0m13 0h0m17 0h0m6 0h0m8 0h0m7 0h1m47 0h0m9 0h0m25 0h0m3 0h0m9 0h0M71 179h0m10 0h0m4 0h0m45 0h0m103 0h0m3 0h0m10 0h0m8 0h0m20 0h0m2 0h1m2 0h3m3 0h0m5 0h0m8 0h1m7 0h0m12 0h0m2 0h2m26 0h3m31 0h0m18 0h0m8 0h0m6 0h0m2 0h0m2 0h0m3 0h0m28 0h0m4 0h0M81 180h0m2 0h0m2 0h0m162 0h0m19 0h0m2 0h0m4 0h2m6 0h1m8 0h0m11 0h0m2 0h0m42 0h0m4 0h1m2 0h0m2 0h1m13 0h1m24 0h0m4 0h0m10 0h0m14 0h0m5 0h0m30 0h0m8 0h0M62 181h0m5 0h0m56 0h0m3 0h0m103 0h0m5 0h0m3 0h0m7 0h0m13 0h1m12 0h0m2 0h1m6 0h2m46 0h0m16 0h0m7 0h0m4 0h0m4 0h0m4 0h0m30 0h0m29 0h0m10 0h1m4 0h0M56 182h1m10 0h0m2 0h0m8 0h0m2 0h0m2 0h0m14 0h0m5 0h0m22 0h0m107 0h0m19 0h0m24 0h1m20 0h0m31 0h0m19 0h0m5 0h3m7 0h0m15 0h0m17 0h0m3 0h0m8 0h0m12 0h0m19 0h0m2 0h0m10 0h0m12 0h0M50 183h0m3 0h0m8 0h0m26 0h0m13 0h0m3 0h0m8 0h0m5 0h0m55 0h0m51 0h0m29 0h0m4 0h1m15 0h0m30 0h0m23 0h0m19 0h0m5 0h0m2 0h1m17 0h0m3 0h0m14 0h0m7 0h0m7 0h0m34 0h0m2 0h0m3 0h0M54 184h0m3 0h0m29 0h0m57 0h0m29 0h0m64 0h2m10 0h1m23 0h0m20 0h0m26 0h0m8 0h0m5 0h1m19 0h0m7 0h0m6 0h2m3 0h0m10 0h0m10 0h0m3 0h0m8 0h0m2 0h0m10 0h0m22 0h0m4 0h0m15 0h0m5 0h0M55 185h0m15 0h0m33 0h0m23 0h0m12 0h0m2 0h0m3 0h0m81 0h0m25 0h0m10 0h0m11 0h0m2 0h1m46 0h2m3 0h0m6 0h0m2 0h0m9 0h0m6 0h1m3 0h0m3 0h0m6 0h1m2 0h1m5 0h0m30 0h0m2 0h0m6 0h0m22 0h0M73 186h0m15 0h1m28 0h0m84 0h0m49 0h0m9 0h0m4 0h0m5 0h0m3 0h0m55 0h1m2 0h1m4 0h1m6 0h1m6 0h0m3 0h0m4 0h0m15 0h0m17 0h0m7 0h0m33 0h2M66 187h0m5 0h0m34 0h0m105 0h0m51 0h0m10 0h1m19 0h0m3 0h0m9 0h0m24 0h0m2 0h0m4 0h1m8 0h0m3 0h0m5 0h0m3 0h0m10 0h0m2 0h0m18 0h0m2 0h0m12 0h0m5 0h0m11 0h0m2 0h0m11 0h0m3 0h0m15 0h0m6 0h0m4 0h0M54 188h0m6 0h0m37 0h0m10 0h0m37 0h0m70 0h0m44 0h0m3 0h1m6 0h0m13 0h0m13 0h0m7 0h3m6 0h0m24 0h0m5 0h0m7 0h0m16 0h0m2 0h0m2 0h1m3 0h0m58 0h0m16 0h0m9 0h1M53 189h0m7 0h0m24 0h0m2 0h0m2 0h0m59 0h0m2 0h0m102 0h0m7 0h1m2 0h0m5 0h0m2 0h0m26 0h0m4 0h0m3 0h1m2 0h0m3 0h1m2 0h0m27 0h0m2 0h0m4 0h1m17 0h0m16 0h0m2 0h0m9 0h0m6 0h0m13 0h0m9 0h0m11 0h0m27 0h0M52 190h0m11 0h0m23 0h0m10 0h0m21 0h0m11 0h0m48 0h0m84 0h0m3 0h0m35 0h0m2 0h1m3 0h0m2 0h0m35 0h0m3 0h1m31 0h0m3 0h1m3 0h0m20 0h0M120 191h0m7 0h0m2 0h0m36 0h0m6 0h0m27 0h0m66 0h0m8 0h0m10 0h0m18 0h0m4 0h0m39 0h0m8 0h0m7 0h0m2 0h0m17 0h1m2 0h1m5 0h0m7 0h0m13 0h0m13 0h0m5 0h0m20 0h0m4 0h0m5 0h0M142 192h0m109 0h0m49 0h1m48 0h0m12 0h0m17 0h0m24 0h0m3 0h0m14 0h1m28 0h0m59 0h1M245 193h0m6 0h0m2 0h0m4 0h0m96 0h0m4 0h1m13 0h0m14 0h0m2 0h0m22 0h0m4 0h0m22 0h0m74 0h0M46 194h1m7 0h0m3 0h0m67 0h0m101 0h0m24 0h1m2 0h1m2 0h0m16 0h2m28 0h0m10 0h0m24 0h2m6 0h0m5 0h0m2 0h0m9 0h0m35 0h1m14 0h2m90 0h0m7 0h0M64 195h0m60 0h0m23 0h0m21 0h0m57 0h0m2 0h0m8 0h0m21 0h0m17 0h0m27 0h0m27 0h0m10 0h0m17 0h0m36 0h2m15 0h1m39 0h1m52 0h0m10 0h0m2 0h0M71 196h0m97 0h0m43 0h0m12 0h2m40 0h0m34 0h0m25 0h0m3 0h0m3 0h0m3 0h0m2 0h0m8 0h1m2 0h0m59 0h1m8 0h0m85 0h0m13 0h0M112 197h0m23 0h0m76 0h0m6 0h1m3 0h4m76 0h0m24 0h0m4 0h1m6 0h2m3 0h0m4 0h0m23 0h0m2 0h1m19 0h0m14 0h0m12 0h0m9 0h0m80 0h0M96 198h0m80 0h0m44 0h0m2 0h1m3 0h0m4 0h0m3 0h0m7 0h0m7 0h0m16 0h0m36 0h0m13 0h2m8 0h2m6 0h0m3 0h1m18 0h0m9 0h0m11 0h0m2 0h0m4 0h0M95 199h0m5 0h0m70 0h0m24 0h0m29 0h0m34 0h0m15 0h0m25 0h0m7 0h0m5 0h1m10 0h1m24 0h0m24 0h0m2 0h1m5 0h0m16 0h0m8 0h0m12 0h0m82 0h0m3 0h0m7 0h0M58 200h0m26 0h0m44 0h0m9 0h0m36 0h0m6 0h0m47 0h0m5 0h0m31 0h0m26 0h0m8 0h0m10 0h1m11 0h0m26 0h1m2 0h1m21 0h0m3 0h0m6 0h0m59 0h0m7 0h0m51 0h1m6 0h0m2 0h2m2 0h0M42 201h0m10 0h0m23 0h0m2 0h0m33 0h0m15 0h0m46 0h0m10 0h0m41 0h0m4 0h0m2 0h3m9 0h0m12 0h1m43 0h0m15 0h0m6 0h0m2 0h1m5 0h0m9 0h0m8 0h0m5 0h0m2 0h0m10 0h1m4 0h2m3 0h1m7 0h1m8 0h0m4 0h0m11 0h3m90 0h0m6 0h1m4 0h0m2 0h1M36 202h0m19 0h0m20 0h0m13 0h0m11 0h0m63 0h0m7 0h0m2 0h0m11 0h0m34 0h0m14 0h0m22 0h1m21 0h0m20 0h1m20 0h1m5 0h0m3 0h0m10 0h0m14 0h2m9 0h2m9 0h0m15 0h1m3 0h0m6 0h0m8 0h0m12 0h0m2 0h0m77 0h0m15 0h0M36 203h0m16 0h0m2 0h0m2 0h0m25 0h0m7 0h0m38 0h0m2 0h0m4 0h0m3 0h0m2 0h0m81 0h0m12 0h0m2 0h0m26 0h0m17 0h0m37 0h0m7 0h1m11 0h0m2 0h0m2 0h0m14 0h0m14 0h0m4 0h0m19 0h0m5 0h0m6 0h0m40 0h0M70 204h0m56 0h0m91 0h0m6 0h0m7 0h0m2 0h0m6 0h1m19 0h0m3 0h0m9 0h0m16 0h1m2 0h0m3 0h0m11 0h0m8 0h0m10 0h0m8 0h0m2 0h0m2 0h0m31 0h0m13 0h0m9 0h0m15 0h0m3 0h0m18 0h0m69 0h0m5 0h0m3 0h0M79 205h0m3 0h0m43 0h1m54 0h1m5 0h0m2 0h1m19 0h2m17 0h0m4 0h1m2 0h0m32 0h0m19 0h0m2 0h0m8 0h0m4 0h0m16 0h0m7 0h0m39 0h3m30 0h0m11 0h0m12 0h0m14 0h0m66 0h0m13 0h0M48 206h0m18 0h0m22 0h0m5 0h0m8 0h0m30 0h0m27 0h0m4 0h1m25 0h0m5 0h0m26 0h0m34 0h1m8 0h1m5 0h0m8 0h0m4 0h0m5 0h0m3 0h1m13 0h0m4 0h0m5 0h0m2 0h1m2 0h0m13 0h0m2 0h0m18 0h1m10 0h2m4 0h0m10 0h0m5 0h3m47 0h0m67 0h0m3 0h0m5 0h0M86 207h0m23 0h0m15 0h0m13 0h0m19 0h0m53 0h0m4 0h0m12 0h0m36 0h1m8 0h0m5 0h1m13 0h0m10 0h0m17 0h0m10 0h1m4 0h0m3 0h0m42 0h1m6 0h0m2 0h0m5 0h1m7 0h0m2 0h0m102 0h0M77 208h0m4 0h0m32 0h0m13 0h0m5 0h0m79 0h0m44 0h1m8 0h1m17 0h0m2 0h1m5 0h0m9 0h0m2 0h0m7 0h0m2 0h0m4 0h0m2 0h1m9 0h2m2 0h1m33 0h0m11 0h0m3 0h0m20 0h0m29 0h0m75 0h0m4 0h0M63 209h0m128 0h0m8 0h0m10 0h0m37 0h0m34 0h0m3 0h0m2 0h0m2 0h0m10 0h0m13 0h0m3 0h0m9 0h0m4 0h0m3 0h1m8 0h0m7 0h0m10 0h0m12 0h0m4 0h0m39 0h0m3 0h0m7 0h0m71 0h2m3 0h0M83 210h0m5 0h0m6 0h0m60 0h0m27 0h0m36 0h1m7 0h0m39 0h0m4 0h0m17 0h0m2 0h0m4 0h0m2 0h0m9 0h0m14 0h0m11 0h0m38 0h0m7 0h0m12 0h0m108 0h0m15 0h0M91 211h0m104 0h0m29 0h0m21 0h1m8 0h0m9 0h0m4 0h0m8 0h0m2 0h0m3 0h0m2 0h0m2 0h0m4 0h0m2 0h0m19 0h0m13 0h0m7 0h0m6 0h1m4 0h0m5 0h0m6 0h0m12 0h0m20 0h0m11 0h0m26 0h0m72 0h0m13 0h0m4 0h0M79 212h0m26 0h0m19 0h0m16 0h0m67 0h0m2 0h0m9 0h0m8 0h0m17 0h0m2 0h0m18 0h0m24 0h0m16 0h0m2 0h0m3 0h1m26 0h0m16 0h0m21 0h0m29 0h0m2 0h0m3 0h0m2 0h0m13 0h0m82 0h2M107 213h0m27 0h0m72 0h1m32 0h0m14 0h0m29 0h2m3 0h0m2 0h0m11 0h2m2 0h0m4 0h0m2 0h0m11 0h1m2 0h0m5 0h0m17 0h0m48 0h0m8 0h0m106 0h0M43 214h0m19 0h0m18 0h0m34 0h0m42 0h0m33 0h0m6 0h0m25 0h0m17 0h1m4 0h2m25 0h0m13 0h0m5 0h1m4 0h0m10 0h0m6 0h0m7 0h0m4 0h0m5 0h0m3 0h0m20 0h0m20 0h0m5 0h0m9 0h0m27 0h0m77 0h0M61 215h0m10 0h0m114 0h0m16 0h0m7 0h0m7 0h0m3 0h0m17 0h0m3 0h1m2 0h0m33 0h0m3 0h1m7 0h0m6 0h0m5 0h0m10 0h0m14 0h0m5 0h0m4 0h0m36 0h0m24 0h0m24 0h0m89 0h0m5 0h0M105 216h0m24 0h0m35 0h0m8 0h0m42 0h0m2 0h1m19 0h0m2 0h0m24 0h1m12 0h1m13 0h0m2 0h0m8 0h0m6 0h0m9 0h0m27 0h0m10 0h0m49 0h0m7 0h0m4 0h0m3 0h0m11 0h0m75 0h0m2 0h0M94 217h0m56 0h0m28 0h0m38 0h0m2 0h0m2 0h0m18 0h1m3 0h0m13 0h0m7 0h0m12 0h2m27 0h2m5 0h0m19 0h0m14 0h0m39 0h0m5 0h0m18 0h0m4 0h0m5 0h0m8 0h0M74 218h0m120 0h0m19 0h0m4 0h5m11 0h0m4 0h0m2 0h1m2 0h0m21 0h0m22 0h1m23 0h0m13 0h0m18 0h3m7 0h0m18 0h0m15 0h0m4 0h0m34 0h0M68 219h0m101 0h1m12 0h0m17 0h0m16 0h0m4 0h0m3 0h0m18 0h1m12 0h0m6 0h0m44 0h1m3 0h1m3 0h0m10 0h0m15 0h0m3 0h0m11 0h1M64 220h0m5 0h0m23 0h0m6 0h0m9 0h0m2 0h0m10 0h0m4 0h0m5 0h0m9 0h0m40 0h0m10 0h0m11 0h0m11 0h1m3 0h1m4 0h1m2 0h1m30 0h1m6 0h0m5 0h0m12 0h0m26 0h1m3 0h0m2 0h0m14 0h0m29 0h0m10 0h0m36 0h0m15 0h0m6 0h0M77 221h0m2 0h0m19 0h0m27 0h0m2 0h0m5 0h0m38 0h0m12 0h0m26 0h0m6 0h1m4 0h0m10 0h0m32 0h0m37 0h0m2 0h1m4 0h0m7 0h0m16 0h0m7 0h0m19 0h0m26 0h0m25 0h0m10 0h0M66 222h0m15 0h0m12 0h0m47 0h0m18 0h0m34 0h0m69 0h0m7 0h0m10 0h1m15 0h0m2 0h0m4 0h0m2 0h0m2 0h0m4 0h0m25 0h1m20 0h0m49 0h0m13 0h1M68 223h0m4 0h0m48 0h0m6 0h0m74 0h0m3 0h0m12 0h0m34 0h0m27 0h0m7 0h0m3 0h3m5 0h0m4 0h0m17 0h0m15 0h0m18 0h1m11 0h0m5 0h0m7 0h1M70 224h0m72 0h1m33 0h0m66 0h0m6 0h1m34 0h1m10 0h0m6 0h0m5 0h0m15 0h0m32 0h0m2 0h0m8 0h0m8 0h0m3 0h0m106 0h0m22 0h0M96 225h0m3 0h0m3 0h0m6 0h0m20 0h0m42 0h0m21 0h0m23 0h0m29 0h0m42 0h0m9 0h1m5 0h0m2 0h0m39 0h0m33 0h0m14 0h1m14 0h0m3 0h0m73 0h0m21 0h0M78 226h1m7 0h0m12 0h0m19 0h0m6 0h0m53 0h0m15 0h0m4 0h0m19 0h0m10 0h0m27 0h0m6 0h0m27 0h0m10 0h1m5 0h0m11 0h0m55 0h0m132 0h0m3 0h0M83 227h0m24 0h0m7 0h0m110 0h0m8 0h0m19 0h1m18 0h0m20 0h0m4 0h0m5 0h0m3 0h0m14 0h0m8 0h0m2 0h0m63 0h0m109 0h0M79 228h0m32 0h0m29 0h0m56 0h0m17 0h0m12 0h0m8 0h0m4 0h0m54 0h0m11 0h0m6 0h0m2 0h0m15 0h0m86 0h0M77 229h0m52 0h0m15 0h0m62 0h1m30 0h0m20 0h0m45 0h1m6 0h0m8 0h0m52 0h0m8 0h0m30 0h0m3 0h0M123 230h0m15 0h0m30 0h1m8 0h0m30 0h0m17 0h0m67 0h0m7 0h0m4 0h0m4 0h1m2 0h0m4 0h2m18 0h0m18 0h0m14 0h0m22 0h0m3 0h0m106 0h0M87 231h0m10 0h0m26 0h1m25 0h1m12 0h0m14 0h0m31 0h0m9 0h0m85 0h0m3 0h0m2 0h0m2 0h1m4 0h0m4 0h0m45 0h0m30 0h0m87 0h0m9 0h0M73 232h0m15 0h0m64 0h0m45 0h0m46 0h0m38 0h0m13 0h0m2 0h1m9 0h2m5 0h0m2 0h0m13 0h0m28 0h0m28 0h1m3 0h0m99 0h0m7 0h0m5 0h0M99 233h0m24 0h0m13 0h0m14 0h0m16 0h0m35 0h1m14 0h2m63 0h0m12 0h2m6 0h1m22 0h0m63 0h0m107 0h0M104 234h0m9 0h0m39 0h0m5 0h0m5 0h0m44 0h0m74 0h1m4 0h1m6 0h0m2 0h3m3 0h1m19 0h0m14 0h0m19 0h0m128 0h0M99 235h0m9 0h0m61 0h0m42 0h0m3 0h0m66 0h1m3 0h0m9 0h1m2 0h0m5 0h1m66 0h0m7 0h0m8 0h0m2 0h0m3 0h0m3 0h0m89 0h1M103 236h0m111 0h0m59 0h0m9 0h0m6 0h0m4 0h3m2 0h0m15 0h0m13 0h0m165 0h0M94 237h0m24 0h0m22 0h0m22 0h0m53 0h0m8 0h0m52 0h0m13 0h0m2 0h1m25 0h0m5 0h1m13 0h0m24 0h0m127 0h0m4 0h0m4 0h0M83 238h0m53 0h0m87 0h0m53 0h0m10 0h0m2 0h1m2 0h0m2 0h0m28 0h0m2 0h0m20 0h0m22 0h3m2 0h0m9 0h0m111 0h0M79 239h0m10 0h0m29 0h0m8 0h0m8 0h2m7 0h0m20 0h0m54 0h0m2 0h0m9 0h0m57 0h0m2 0h0m3 0h2m23 0h0m7 0h0m12 0h0m32 0h0m2 0h0m4 0h0M78 240h0m6 0h0m7 0h0m4 0h0m3 0h1m5 0h0m10 0h0m25 0h0m2 0h0m78 0h0m60 0h0m3 0h0m3 0h3m2 0h0m8 0h0m24 0h0m45 0h1M109 241h0m12 0h0m95 0h0m28 0h0m12 0h0m8 0h2m13 0h0m10 0h0m2 0h0m36 0h0m2 0h1m3 0h0m14 0h1m18 0h0M83 242h0m174 0h0m26 0h2m6 0h0m12 0h0m5 0h0m17 0h3m5 0h0m14 0h1M75 243h0m40 0h0m168 0h0m2 0h1m3 0h0m2 0h0m33 0h0m3 0h0m16 0h0m4 0h1m4 0h0M227 244h0m43 0h0m15 0h0m7 0h0m9 0h0m9 0h1m16 0h1m12 0h2M88 245h0m2 0h0m137 0h1m43 0h1m13 0h0m2 0h1m12 0h0m11 0h1m10 0h0M69 246h0m13 0h0m23 0h0m5 0h0m129 0h0m14 0h0m16 0h1m13 0h1m4 0h1m7 0h0m2 0h0m7 0h0m23 0h0m4 0h0m26 0h0M77 247h0m35 0h0m103 0h1m21 0h1m45 0h0m8 0h0m6 0h1m4 0h0m14 0h0m16 0h1m11 0h0m11 0h0M81 248h0m133 0h0m2 0h0m26 0h0m15 0h0m9 0h0m2 0h0m42 0h0m22 0h1m2 0h0M87 249h0m24 0h0m131 0h0m15 0h0m10 0h1m7 0h0m3 0h0m18 0h0m13 0h1m11 0h0m3 0h0m17 0h1M68 250h0m2 0h0m22 0h0m12 0h0m3 0h0m116 0h0m2 0h0m15 0h0m2 0h0m17 0h1m4 0h0m5 0h0m24 0h0m5 0h0m9 0h1m10 0h0m2 0h1m20 0h0M89 251h0m134 0h0m17 0h0m12 0h0m3 0h0m4 0h0m2 0h0m2 0h0m18 0h0m19 0h0m16 0h3m6 0h0m17 0h0M85 252h0m7 0h0m131 0h0m3 0h0m3 0h0m21 0h0m6 0h1m2 0h4m5 0h0m25 0h0m8 0h0m16 0h1m3 0h1m5 0h0m164 0h0M108 253h0m140 0h0m2 0h0m8 0h2m2 0h0m14 0h0m16 0h0m3 0h0m2 0h0m8 0h1m14 0h0m20 0h0M110 254h0m115 0h1m2 0h0m19 0h0m14 0h1m3 0h0m10 0h0m17 0h1m2 0h0m15 0h0m17 0h1M219 255h1m22 0h0m8 0h0m3 0h0m3 0h0m2 0h0m5 0h4m5 0h0m20 0h0m5 0h0m25 0h0M223 256h0m2 0h0m10 0h1m8 0h0m12 0h0m6 0h2m3 0h0m22 0h0m3 0h1m2 0h0m25 0h0M224 257h0m6 0h0m2 0h0m31 0h1m29 0h0m4 0h0M110 258h0m120 0h2m3 0h0m20 0h0m3 0h0m30 0h0m7 0h0m2 0h0M231 259h1m17 0h0m7 0h0m3 0h1m24 0h0m4 0h2m4 0h0m2 0h0m21 0h0M227 260h1m3 0h0m17 0h0m25 0h3m4 0h0m12 0h0m4 0h0M106 261h0m7 0h0m162 0h1m16 0h0m3 0h0M107 262h0m156 0h0m12 0h3m4 0h0m12 0h0M291 263h0m2 0h0M289 264h0m3 0h0M284 265h0M279 266h0M282 272h0M279 276h0M282 277h0M275 278h0M275 279h0m8 0h0M283 285h2M280 287h0M284 294h0M297 296h0M273 297h0m9 0h0m3 0h0m3 0h0M270 298h0m4 0h0M266 300h0m24 0h0m6 0h0M261 301h0m10 0h0m5 0h0m2 0h0m3 0h0m12 0h0M260 302h0m2 0h0m4 0h0M282 304h0M268 305h0M274 306h0m18 0h0M274 307h0m6 0h0m5 0h0m4 0h0M255 309h0m14 0h0m4 0h0m5 0h0M291 310h0M286 313h0M273 314h0m10 0h0M273 315h0m15 0h0M285 317h0M265 318h0M258 319h0m15 0h0m11 0h1M259 320h0m3 0h0m15 0h0M269 326h2M271 327h0"/><path stroke="#1babde" d="M163 20h2M163 21h0M164 24h0M165 37h0M189 40h0M160 41h0m19 0h0m6 0h0m104 0h1M187 42h0M161 43h0m25 0h0M163 44h0M164 45h0m5 0h0m36 0h0M164 46h1M162 47h0m3 0h0m9 0h0m4 0h2m2 0h0m106 0h0M163 48h0m18 0h2M164 49h0m19 0h1m14 0h0m18 0h0M186 50h0M200 51h0m250 0h0M225 52h0M225 53h0M232 55h0M219 56h0M219 57h0m16 0h0M169 58h0m52 0h0m75 0h0m39 0h0M171 60h0m110 0h0M192 62h0M235 63h0m57 0h0M379 64h0M248 65h0m29 0h0m53 0h0m49 0h0m24 0h0M337 66h0m172 0h0M153 67h0m125 0h0m6 0h0m12 0h1m2 0h0m5 0h0m4 0h0M165 68h0m239 0h0m11 0h0m47 0h0M482 69h0M251 70h0m33 0h0m10 0h1M281 71h0M331 73h0m66 0h0M155 74h0m318 0h0M304 75h0m92 0h0m70 0h0M289 76h0m11 0h0m125 0h0m32 0h0m7 0h0m2 0h0M149 77h0m129 0h0M157 78h0m311 0h1M502 79h0M297 80h0m114 0h0m47 0h0m14 0h0m30 0h0M389 81h0M300 82h0M142 83h0m143 0h0m16 0h0m107 0h0M408 84h0M408 85h0m44 0h0M440 86h0M140 87h0m2 0h0m257 0h0m19 0h1m22 0h0M221 88h0m49 0h0m147 0h0m2 0h0m6 0h0m15 0h0m25 0h0M151 89h0m118 0h0m34 0h0m136 0h1m11 0h0M141 90h0m129 0h0m157 0h0m11 0h0m2 0h0M139 91h1m3 0h0m124 0h0m156 0h0m6 0h0m10 0h0m9 0h0M141 92h1m103 0h0m196 0h0m3 0h0m16 0h0M139 93h0m2 0h2m284 0h0m6 0h0m5 0h0m3 0h0m3 0h1m26 0h0m2 0h0M137 94h0m289 0h0m13 0h0m3 0h1m28 0h0M142 95h0m6 0h0m101 0h0m178 0h0m16 0h0m7 0h0m20 0h2M435 96h0m6 0h0m9 0h1m20 0h1m2 0h0M249 97h0m44 0h0m118 0h0m13 0h0m20 0h0m28 0h1M356 98h0m89 0h0m13 0h0m7 0h0M143 99h0m257 0h0m11 0h0m17 0h1m11 0h0m19 0h1m20 0h0M150 100h0m272 0h0m7 0h0m2 0h0m6 0h0m4 0h0m22 0h0M428 101h0m2 0h0m5 0h0m3 0h0m58 0h0M247 102h1m175 0h1m13 0h0m4 0h1m29 0h0m27 0h0M247 103h0m52 0h0m104 0h0m18 0h0m18 0h1m28 0h0m4 0h0m3 0h0m2 0h0M446 104h0m3 0h0m9 0h0m16 0h0m12 0h0M396 105h0m45 0h0m3 0h0m2 0h0m58 0h0M127 106h0m152 0h0m161 0h1m6 0h0m11 0h0M444 107h0m32 0h1M228 108h0m19 0h0m16 0h0m40 0h0m127 0h0m35 0h0M245 109h0m6 0h0m170 0h0m51 0h0m2 0h0M152 110h0m288 0h0m28 0h0M435 111h0M431 112h0m17 0h0m12 0h0m6 0h0m3 0h0m22 0h0M151 113h0m141 0h0m92 0h0m29 0h0m17 0h0m2 0h0m2 0h0m6 0h2m2 0h0m24 0h0m9 0h0M290 114h0m143 0h0m7 0h1m6 0h0m11 0h0m14 0h0m5 0h0m13 0h0M138 115h0m155 0h0m10 0h0m45 0h0m10 0h0m83 0h0m2 0h0m37 0h0M127 116h1m124 0h0m41 0h1m148 0h0m31 0h0M252 117h0m188 0h2m7 0h0m4 0h0m20 0h0m6 0h0M131 118h0m2 0h0m313 0h0m2 0h0M254 119h0m135 0h0m38 0h0M123 120h0m76 0h0m97 0h0m119 0h0m12 0h0m19 0h0m32 0h2m5 0h0m12 0h0m8 0h0M199 121h0m245 0h0m38 0h0m2 0h1m2 0h0M128 122h0m21 0h0m144 0h0m67 0h0m17 0h0m47 0h0m27 0h0m30 0h0m6 0h0m10 0h0M149 123h0m133 0h0m24 0h0m109 0h0m33 0h1m3 0h0m42 0h0M138 124h0m9 0h1m11 0h0m254 0h0m35 0h0m2 0h0m19 0h0m4 0h0m10 0h0m4 0h0m9 0h1M115 125h0m2 0h0m30 0h1m9 0h0m121 0h0m140 0h0m29 0h0m5 0h0m2 0h0m3 0h0m6 0h0M114 126h1m98 0h0m152 0h0m61 0h1m22 0h0m3 0h0m2 0h0m2 0h2m2 0h0m2 0h0m14 0h0m5 0h1m11 0h0M145 127h0m8 0h0m81 0h0m73 0h1m109 0h0m32 0h0m2 0h0m4 0h1m10 0h0m9 0h0m18 0h0m3 0h0M110 128h0m183 0h0m3 0h0m122 0h0m8 0h0m5 0h0m12 0h0m3 0h0m20 0h0m7 0h1m2 0h0m5 0h0m14 0h0m5 0h0M364 129h0m62 0h0m3 0h0m14 0h0m2 0h0m6 0h0m5 0h0m13 0h0m3 0h0m4 0h0m6 0h0M125 130h0m71 0h0m2 0h1m163 0h0m52 0h0m6 0h0m15 0h0m9 0h0m4 0h0m2 0h0m4 0h0m2 0h0m2 0h0m9 0h0m2 0h0m2 0h0m8 0h0m4 0h0m5 0h0M107 131h0m18 0h0m2 0h0m67 0h0m8 0h0m161 0h0m46 0h0m10 0h0m6 0h1m3 0h1m10 0h0m5 0h0m3 0h1m2 0h0m2 0h2m2 0h0m2 0h0m3 0h0m13 0h0m2 0h0M104 132h0m23 0h0m72 0h0m2 0h0m162 0h0m4 0h0m18 0h0m18 0h0m21 0h0m3 0h2m9 0h1m7 0h0m6 0h4m24 0h0m15 0h0M125 133h1m129 0h0m155 0h0m5 0h0m4 0h0m7 0h0m17 0h0m9 0h0m17 0h0m7 0h0M106 134h0m266 0h0m30 0h1m6 0h0m2 0h0m9 0h1m4 0h1m6 0h0m2 0h0m4 0h1m3 0h0m3 0h0m21 0h1m2 0h0m2 0h0m4 0h1m2 0h0m2 0h0m14 0h0M105 135h0m83 0h0m137 0h0m76 0h0m2 0h0m17 0h0m7 0h0m11 0h0m3 0h1m2 0h1m2 0h0m3 0h0m5 0h0m9 0h0m2 0h1m3 0h0m2 0h0m3 0h0m3 0h0m3 0h2M59 136h0m46 0h0m2 0h0m2 0h1m290 0h0m10 0h0m3 0h0m14 0h0m2 0h0m14 0h0m8 0h0m2 0h0m2 0h1m14 0h0m4 0h0m5 0h0m2 0h0m11 0h1M61 137h0m42 0h0m2 0h2m78 0h1m3 0h0m109 0h0m113 0h1m3 0h0m14 0h2m5 0h0m2 0h0m2 0h1m5 0h0m4 0h1m3 0h0m3 0h0m9 0h0m9 0h0m5 0h0m12 0h0M57 138h0m43 0h0m9 0h0m5 0h1m23 0h0m268 0h0m4 0h0m3 0h0m3 0h0m12 0h1m2 0h0m7 0h0m4 0h2m2 0h0m6 0h0m3 0h1m14 0h0m5 0h0m10 0h0m7 0h0M57 139h0m45 0h0m7 0h0m3 0h1m26 0h0m8 0h0m4 0h0m200 0h0m6 0h0m77 0h1m2 0h1m2 0h0m3 0h0m2 0h1m6 0h2m26 0h0m7 0h0M58 140h0m8 0h1m26 0h0m2 0h0m9 0h1m8 0h1m9 0h0m37 0h1m198 0h0m48 0h0m24 0h1m3 0h0m4 0h0m3 0h0m2 0h0m5 0h0m3 0h1m31 0h0m3 0h1M50 141h0m12 0h0m6 0h2m23 0h0m2 0h0m2 0h0m5 0h0m4 0h1m3 0h0m4 0h0m8 0h0m64 0h0m211 0h0m24 0h0m12 0h1m10 0h0m3 0h0m2 0h1m3 0h0m7 0h0M51 142h0m9 0h0m12 0h1m16 0h1m8 0h0m2 0h0m4 0h0m2 0h0m3 0h1m3 0h0m12 0h0m15 0h0m250 0h0m12 0h0m26 0h0m4 0h1m2 0h0m11 0h0m3 0h0m5 0h0m12 0h0m12 0h0m2 0h0m8 0h1M50 143h0m3 0h0m16 0h0m3 0h0m12 0h0m2 0h0m16 0h0m2 0h3m5 0h0m2 0h0m5 0h0m2 0h2m266 0h0m26 0h0m2 0h0m12 0h0m17 0h0m3 0h0m6 0h0m3 0h0m20 0h1m2 0h1M70 144h0m2 0h0m2 0h1m9 0h0m6 0h1m2 0h0m6 0h0m7 0h1m5 0h0m10 0h2m4 0h1m37 0h0m152 0h0m38 0h0m35 0h0m15 0h0m6 0h0m5 0h0m27 0h1m2 0h0m8 0h0m2 0h0m4 0h0m2 0h0m12 0h0m8 0h0m2 0h0M58 145h0m7 0h0m20 0h0m5 0h0m4 0h0m10 0h0m2 0h0m4 0h0m6 0h0m12 0h0m48 0h0m185 0h0m5 0h0m3 0h0m12 0h0m12 0h0m24 0h0m8 0h0m10 0h0m9 0h0m10 0h0m4 0h1m2 0h0m9 0h0m4 0h0m2 0h0m2 0h0m7 0h0M56 146h0m3 0h0m2 0h0m4 0h0m9 0h0m38 0h0m21 0h1m40 0h0m182 0h0m9 0h1m15 0h3m31 0h1m3 0h0m2 0h0m11 0h0m17 0h0m16 0h0m4 0h0m3 0h2M62 147h0m2 0h0m2 0h0m4 0h0m5 0h0m9 0h1m26 0h1m5 0h0m10 0h0m8 0h1m14 0h0m13 0h0m134 0h0m69 0h1m14 0h0m8 0h0m14 0h0m13 0h1m2 0h1m6 0h0m19 0h1m2 0h0m15 0h0m2 0h0m3 0h0M58 148h0m7 0h0m8 0h0m3 0h0m2 0h0m3 0h1m3 0h0m12 0h0m12 0h1m3 0h0m21 0h0m6 0h0m11 0h0m26 0h0m14 0h0m81 0h0m87 0h0m26 0h0m6 0h0m29 0h0m2 0h0m4 0h0m18 0h0m2 0h0m4 0h0m5 0h0m6 0h1m3 0h1m2 0h0m13 0h0M61 149h0m5 0h0m2 0h0m4 0h0m2 0h0m3 0h0m5 0h0m5 0h0m23 0h0m6 0h0m5 0h0m17 0h0m17 0h0m2 0h1m114 0h0m79 0h0m7 0h1m23 0h1m37 0h0m3 0h0m21 0h0m3 0h0m12 0h0m7 0h0m2 0h0m3 0h0m2 0h0M92 150h0m5 0h0m2 0h0m21 0h0m3 0h1m12 0h1m3 0h0m15 0h0m4 0h0m37 0h0m50 0h1m25 0h0m93 0h0m48 0h0m7 0h1m6 0h0m2 0h0m27 0h0m3 0h0m4 0h0m2 0h1m2 0h0m3 0h1M60 151h0m6 0h0m5 0h0m7 0h0m7 0h0m8 0h0m5 0h0m2 0h1m10 0h0m30 0h0m2 0h0m227 0h0m14 0h0m4 0h0m19 0h0m21 0h0m19 0h0m3 0h0m8 0h0m10 0h0m2 0h0m3 0h1M60 152h0m19 0h0m3 0h2m4 0h0m6 0h1m4 0h0m13 0h0m8 0h3m3 0h0m10 0h0m5 0h0m2 0h0m3 0h0m7 0h0m11 0h0m221 0h0m2 0h0m35 0h2m3 0h0m8 0h0m11 0h0m13 0h1m4 0h0m5 0h0M60 153h0m24 0h0m11 0h0m3 0h0m6 0h0m9 0h0m4 0h0m8 0h1m2 0h0m19 0h0m5 0h0m92 0h0m80 0h0m46 0h0m28 0h0m9 0h1m3 0h0m5 0h0m6 0h3m3 0h1m15 0h1m14 0h0m5 0h0M72 154h1m2 0h0m10 0h0m18 0h0m4 0h0m7 0h0m12 0h0m2 0h0m4 0h1m186 0h0m51 0h0m15 0h0m10 0h0m17 0h0m9 0h0m6 0h0m2 0h0m16 0h2m8 0h1m9 0h0m4 0h0M70 155h0m17 0h0m2 0h0m2 0h1m16 0h0m23 0h3m20 0h0m231 0h0m13 0h0m28 0h1m12 0h0m6 0h3m3 0h1m6 0h1m8 0h0m2 0h0M65 156h0m23 0h0m2 0h1m2 0h0m6 0h2m11 0h0m4 0h1m7 0h0m2 0h2m2 0h4m105 0h0m40 0h0m7 0h0m68 0h0m14 0h0m6 0h0m2 0h0m45 0h0m13 0h0m12 0h1m12 0h0m2 0h0m5 0h0M70 157h0m4 0h0m4 0h0m6 0h1m3 0h0m5 0h0m2 0h0m2 0h0m6 0h0m15 0h0m5 0h0m2 0h2m160 0h0m86 0h0m45 0h0m9 0h0m2 0h0m7 0h2m6 0h0m14 0h2m2 0h0m6 0h0M68 158h0m10 0h0m17 0h0m2 0h0m8 0h0m12 0h0m5 0h0m2 0h0m3 0h0m3 0h1m27 0h0m83 0h0m7 0h0m56 0h0m56 0h0m13 0h0m8 0h0m47 0h0m3 0h0m4 0h0m3 0h0m2 0h0m6 0h0m9 0h0m2 0h0m2 0h0m2 0h0m3 0h1M65 159h2m21 0h0m2 0h1m2 0h0m15 0h0m2 0h0m11 0h0m9 0h1m7 0h0m32 0h0m17 0h0m187 0h1m24 0h0m29 0h1m2 0h1m2 0h3m8 0h0m2 0h4m2 0h0m2 0h1m3 0h0M66 160h0m8 0h0m10 0h0m10 0h0m9 0h0m5 0h0m9 0h0m2 0h0m4 0h0m43 0h0m4 0h0m2 0h0m74 0h0m69 0h0m30 0h0m36 0h0m15 0h1m3 0h0m9 0h0m3 0h0m5 0h1m11 0h1m5 0h0m5 0h0m4 0h0m7 0h1m3 0h0m3 0h0m3 0h0M65 161h0m7 0h0m14 0h0m2 0h1m7 0h0m7 0h0m4 0h0m4 0h0m6 0h0m6 0h0m7 0h0m29 0h0m6 0h1m4 0h0m208 0h0m3 0h0m13 0h0m3 0h1m2 0h0m32 0h1m4 0h1m4 0h0m7 0h1m2 0h0m2 0h1m3 0h0m3 0h1m2 0h1M64 162h0m2 0h0m3 0h2m19 0h0m23 0h0m7 0h0m43 0h0m4 0h0m81 0h0m131 0h0m16 0h0m3 0h1m2 0h0m4 0h0m4 0h1m17 0h0m7 0h0m6 0h0m3 0h0m2 0h0m2 0h0m2 0h0m5 0h0m2 0h0m5 0h1m2 0h0m2 0h0M66 163h0m4 0h0m47 0h0m3 0h0m3 0h0m6 0h0m35 0h0m133 0h0m49 0h0m32 0h0m8 0h0m7 0h0m9 0h0m2 0h0m24 0h1m3 0h1m4 0h0m4 0h0m2 0h0m7 0h0m6 0h0m2 0h0m4 0h0m2 0h0M68 164h0m17 0h0m32 0h0m9 0h0m37 0h0m3 0h0m58 0h0m148 0h0m8 0h0m14 0h1m21 0h0m16 0h1m6 0h0m7 0h1m4 0h0m4 0h0m3 0h0m2 0h0M66 165h0m45 0h0m14 0h0m5 0h0m23 0h0m10 0h0m120 0h0m7 0h0m56 0h0m46 0h0m23 0h1m11 0h0m7 0h1m5 0h0m8 0h0m8 0h1m5 0h2M66 166h0m2 0h0m15 0h0m28 0h1m54 0h0m143 0h0m66 0h0m16 0h0m25 0h0m11 0h1m5 0h0m5 0h1m8 0h0m2 0h0m3 0h4m2 0h0m2 0h0m2 0h0M61 167h0m14 0h0m6 0h1m30 0h0m5 0h0m33 0h0m8 0h0m5 0h1m94 0h0m77 0h0m19 0h0m37 0h0m7 0h0m25 0h0m2 0h2m5 0h0m2 0h0m4 0h0m4 0h0m3 0h0m6 0h1m2 0h1m5 0h1M67 168h0m4 0h0m2 0h1m12 0h0m25 0h0m2 0h0m38 0h0m64 0h0m18 0h0m7 0h0m17 0h1m88 0h0m46 0h0m3 0h0m15 0h2m14 0h0m2 0h0m5 0h0m9 0h0m2 0h1m8 0h0m7 0h0m3 0h0M61 169h0m3 0h0m2 0h0m8 0h0m8 0h1m7 0h0m22 0h0m6 0h1m10 0h0m231 0h0m41 0h0m3 0h0m3 0h0m4 0h0m27 0h0m2 0h1m3 0h1m5 0h0m3 0h0m4 0h0m2 0h0m2 0h1m4 0h0M82 170h0m8 0h0m2 0h0m2 0h0m16 0h0m8 0h1m122 0h0m149 0h1m9 0h5m32 0h0m2 0h1m12 0h1m2 0h0m4 0h0m2 0h1m3 0h1M58 171h0m7 0h0m26 0h0m27 0h0m14 0h1m6 0h0m110 0h0m16 0h0m138 0h0m2 0h2m47 0h0m3 0h0m2 0h0m3 0h3M65 172h0m10 0h0m32 0h0m32 0h1m205 0h0m2 0h0m58 0h0m2 0h0m3 0h0m30 0h0m13 0h0m2 0h0m2 0h2m4 0h0m3 0h1M65 173h0m11 0h1m4 0h0m14 0h0m14 0h0m7 0h0m10 0h1m9 0h0m180 0h0m30 0h1m2 0h0m35 0h0m14 0h0m13 0h0m29 0h0m5 0h0m6 0h0m3 0h0m2 0h1m2 0h0m8 0h0M62 174h0m14 0h1m2 0h0m2 0h0m158 0h0m38 0h0m6 0h0m65 0h0m36 0h0m11 0h0m2 0h0m8 0h0m2 0h0m4 0h0m20 0h0m4 0h1m14 0h0m5 0h1m8 0h0M71 175h0m10 0h0m9 0h0m10 0h0m8 0h0m32 0h0m82 0h0m23 0h0m2 0h0m57 0h0m92 0h0m8 0h0m24 0h0m18 0h0m10 0h0m4 0h0M80 176h0m4 0h0m26 0h1m27 0h0m2 0h0m24 0h0m57 0h0m17 0h0m158 0h0m9 0h0m9 0h0m10 0h0m13 0h0m11 0h0M80 177h2m2 0h0m20 0h0m5 0h0m6 0h0m2 0h0m22 0h2m22 0h0m200 0h0m29 0h1m13 0h0m3 0h0m5 0h0m10 0h0m6 0h0m7 0h0m11 0h0m17 0h0M60 178h0m11 0h0m9 0h0m5 0h0m11 0h0m4 0h0m11 0h0m2 0h0m10 0h0m16 0h0m22 0h0m89 0h0m36 0h0m51 0h0m18 0h0m3 0h0m50 0h0m5 0h0m6 0h0M101 179h0m11 0h0m140 0h0m85 0h0m20 0h0m3 0h0m53 0h0m2 0h0m12 0h0m8 0h1m3 0h0m2 0h0M59 180h2m3 0h0m18 0h0m4 0h0m27 0h0m16 0h0m7 0h0m22 0h0m18 0h0m82 0h0m5 0h0m76 0h0m70 0h0m3 0h0m12 0h0m11 0h0m3 0h0m3 0h1m5 0h1m2 0h0m10 0h0M53 181h0m7 0h0m3 0h0m6 0h0m24 0h0m8 0h0m11 0h0m9 0h0m6 0h0m8 0h0m6 0h0m98 0h0m25 0h0m76 0h0m13 0h0m14 0h0m42 0h0m29 0h0m4 0h0m7 0h1m4 0h0M62 182h3m17 0h0m10 0h0m20 0h0m5 0h0m18 0h0m4 0h0m83 0h0m38 0h0m82 0h0m54 0h0m9 0h0m2 0h0m2 0h0m2 0h0m6 0h0m2 0h0m18 0h2m4 0h0m5 0h0m13 0h0M55 183h0m5 0h0m4 0h1m5 0h0m6 0h0m3 0h0m7 0h0m8 0h0m3 0h0m5 0h0m23 0h1m280 0h0m2 0h0m2 0h0m7 0h0m2 0h0m21 0h1m11 0h0m5 0h0M49 184h0m12 0h0m2 0h0m3 0h0m8 0h1m3 0h0m23 0h0m6 0h0m33 0h0m4 0h1m9 0h0m4 0h0m50 0h0m196 0h0m3 0h1m7 0h0m24 0h1m7 0h0m2 0h0m3 0h0M49 185h0m26 0h1m12 0h0m11 0h0m3 0h0m7 0h0m33 0h0m5 0h0m4 0h0m2 0h0m94 0h0m159 0h0m2 0h2m36 0h0m2 0h0m7 0h0m4 0h0M67 186h0m11 0h0m9 0h0m15 0h0m4 0h0m33 0h0m2 0h0m6 0h0m193 0h0m44 0h0m50 0h0m2 0h0m2 0h2m2 0h1m2 0h0m6 0h0M59 187h1m5 0h0m7 0h2m7 0h0m3 0h0m22 0h0m4 0h0m6 0h0m20 0h0m4 0h0m6 0h0m27 0h0m26 0h1m122 0h0m82 0h0m8 0h0m24 0h2M47 188h0m6 0h0m8 0h0m2 0h0m2 0h0m2 0h0m6 0h1m5 0h1m2 0h0m6 0h0m18 0h0m17 0h0m7 0h0m20 0h0m125 0h0m75 0h0m31 0h0m9 0h0m3 0h0m10 0h0m2 0h0m7 0h0m2 0h1m9 0h0m7 0h0m4 0h0m2 0h1m5 0h0m2 0h0M49 189h0m8 0h2m4 0h0m10 0h0m2 0h0m6 0h2m11 0h0m19 0h0m18 0h2m6 0h0m3 0h0m30 0h0m224 0h0m4 0h0m2 0h1m9 0h0m3 0h0m24 0h0m3 0h0M45 190h1m7 0h1m2 0h0m14 0h2m3 0h0m9 0h0m3 0h0m7 0h0m243 0h0m20 0h0m38 0h1m6 0h0m8 0h0m3 0h2m4 0h0m23 0h0m7 0h1M51 191h0m3 0h0m17 0h0m12 0h0m6 0h0m32 0h0m7 0h0m20 0h0m247 0h0m17 0h0m35 0h0m3 0h1M52 192h0m3 0h0m43 0h1m134 0h0m17 0h0m34 0h0m29 0h0m77 0h0m9 0h0m15 0h0m2 0h0m13 0h1m15 0h0m4 0h0m2 0h0m52 0h0M41 193h0m5 0h0m10 0h0m10 0h0m31 0h0m28 0h0m21 0h0m56 0h0m31 0h0m5 0h0m8 0h0m55 0h0m10 0h0m4 0h0m74 0h0m2 0h0m23 0h0m2 0h0m15 0h1m12 0h0m2 0h0m56 0h0M41 194h1m10 0h1m12 0h0m44 0h0m36 0h0m57 0h1m13 0h0m35 0h0m98 0h0m24 0h0m2 0h0m38 0h0m6 0h0m4 0h0m7 0h0m13 0h0m3 0h0m2 0h2M43 195h0m10 0h1m79 0h0m40 0h1m19 0h0m23 0h0m17 0h0m46 0h0m8 0h0m93 0h0m2 0h0m34 0h1m15 0h0m11 0h0m2 0h1m3 0h1m52 0h0M52 196h0m6 0h0m6 0h0m58 0h1m10 0h0m2 0h0m6 0h1m4 0h1m2 0h0m24 0h0m5 0h0m14 0h0m184 0h0m7 0h0m35 0h0m13 0h0m17 0h0m48 0h0M43 197h0m47 0h0m6 0h0m18 0h0m3 0h0m6 0h1m9 0h0m8 0h0m39 0h0m55 0h0m4 0h0m2 0h1m144 0h0m14 0h2m11 0h1m4 0h0m8 0h3m16 0h0m2 0h0m53 0h0M44 198h1m9 0h1m25 0h0m9 0h0m6 0h0m2 0h0m22 0h0m6 0h0m50 0h0m7 0h0m57 0h0m2 0h0m109 0h0m35 0h0m16 0h1m8 0h0m9 0h0m8 0h1m3 0h0m2 0h2m11 0h1m50 0h3M44 199h0m9 0h0m60 0h0m24 0h0m23 0h0m42 0h0m37 0h0m2 0h1m3 0h0m135 0h0m4 0h0m11 0h0m11 0h0m16 0h1m9 0h0m2 0h0m2 0h1m2 0h0m2 0h0m4 0h1M43 200h0m3 0h2m4 0h0m5 0h0m10 0h0m4 0h0m3 0h1m38 0h0m4 0h0m9 0h0m12 0h0m2 0h1m35 0h0m2 0h0m23 0h0m3 0h0m17 0h1m17 0h0m2 0h0m5 0h0m46 0h0m20 0h0m82 0h0m28 0h0m3 0h2M56 201h0m2 0h1m17 0h0m5 0h0m15 0h0m2 0h0m16 0h0m3 0h0m9 0h0m2 0h1m7 0h1m31 0h1m5 0h0m28 0h1m2 0h0m8 0h1m32 0h0m82 0h0m56 0h0m9 0h0m26 0h1m2 0h2m11 0h0m57 0h0M47 202h0m4 0h0m7 0h0m19 0h0m20 0h0m28 0h0m7 0h0m43 0h0m2 0h0m6 0h1m2 0h0m4 0h0m9 0h0m23 0h0m13 0h0m105 0h0m42 0h0m29 0h0m12 0h0m7 0h0m4 0h0m2 0h0m57 0h0M38 203h0m15 0h0m4 0h0m13 0h2m8 0h0m2 0h0m5 0h0m11 0h0m20 0h0m9 0h0m4 0h0m2 0h0m5 0h0m9 0h0m21 0h0m23 0h0m30 0h0m6 0h0m13 0h0m6 0h0m75 0h0m31 0h0m31 0h0m27 0h0m4 0h1m2 0h0m8 0h1m5 0h0m7 0h0m54 0h1M38 204h0m17 0h0m14 0h0m8 0h0m4 0h0m5 0h0m3 0h0m29 0h0m11 0h0m2 0h2m4 0h0m24 0h0m16 0h0m3 0h0m10 0h0m7 0h0m2 0h0m15 0h0m13 0h0m32 0h0m117 0h0m30 0h0m8 0h0m2 0h0m2 0h0m75 0h0M70 205h1m4 0h1m4 0h0m7 0h0m29 0h0m12 0h0m3 0h0m2 0h0m18 0h1m15 0h0m2 0h0m7 0h0m49 0h0m47 0h0m100 0h0m21 0h0m14 0h0m7 0h0m11 0h0m3 0h0m76 0h0M46 206h0m3 0h0m3 0h0m11 0h0m7 0h0m8 0h0m8 0h0m12 0h0m2 0h0m13 0h0m11 0h0m3 0h0m9 0h0m14 0h0m3 0h0m32 0h0m2 0h0m5 0h0m127 0h0m50 0h0m20 0h1m3 0h3m2 0h0m27 0h0M47 207h0m2 0h0m2 0h1m11 0h0m4 0h0m8 0h0m4 0h0m14 0h0m4 0h1m2 0h0m27 0h1m12 0h0m10 0h0m7 0h0m7 0h0m9 0h0m11 0h2m6 0h0m4 0h0m22 0h0m151 0h1m9 0h0m13 0h1m8 0h0m2 0h0m5 0h0m5 0h0m2 0h0m2 0h0m2 0h2m2 0h1m2 0h1m68 0h0M37 208h1m2 0h0m2 0h0m5 0h1m15 0h1m24 0h1m2 0h0m2 0h0m15 0h0m19 0h0m19 0h0m2 0h0m2 0h0m6 0h1m39 0h0m2 0h0m3 0h0m75 0h1m8 0h0m14 0h0m69 0h1m27 0h0m6 0h0m6 0h0m4 0h0m3 0h0m4 0h1m5 0h0m68 0h0m2 0h3M42 209h1m4 0h1m16 0h2m17 0h1m3 0h0m7 0h0m43 0h0m10 0h0m7 0h2m26 0h0m6 0h0m23 0h0m10 0h2m2 0h0m56 0h0m105 0h0m5 0h0m5 0h2m3 0h0m6 0h2m16 0h1m3 0h0m2 0h0m3 0h0m60 0h1m2 0h0M45 210h0m22 0h0m23 0h0m2 0h0m3 0h0m49 0h1m8 0h0m46 0h0m2 0h0m20 0h1m66 0h0m52 0h0m22 0h0m7 0h0m6 0h0m5 0h0m2 0h0m13 0h1m2 0h0m2 0h0m11 0h0m19 0h0m67 0h1M84 211h0m3 0h3m22 0h0m27 0h2m6 0h0m3 0h0m51 0h0m15 0h5m98 0h0m7 0h0m24 0h0m14 0h0m21 0h0m2 0h0m14 0h0m3 0h0m2 0h0m7 0h0m18 0h0m66 0h1M81 212h2m20 0h0m26 0h0m13 0h0m6 0h0m52 0h0m2 0h0m17 0h0m120 0h0m22 0h1m2 0h0m6 0h0m3 0h1m2 0h1m2 0h0m9 0h0m17 0h0m22 0h0m70 0h2M70 213h0m8 0h0m6 0h0m3 0h1m24 0h0m17 0h1m15 0h0m33 0h0m41 0h0m4 0h0m139 0h0m8 0h0m3 0h0m2 0h0m10 0h3m2 0h0m2 0h1m3 0h0m14 0h0m2 0h0m7 0h0m7 0h0m4 0h0m65 0h0m12 0h0M69 214h0m3 0h0m4 0h1m5 0h0m6 0h0m19 0h0m32 0h0m5 0h0m8 0h0m30 0h0m4 0h1m10 0h0m3 0h2m16 0h0m32 0h0m106 0h0m14 0h0m4 0h0m11 0h0m4 0h0m3 0h1m10 0h0m2 0h0m10 0h0m9 0h0m79 0h0M77 215h0m6 0h1m5 0h0m47 0h0m16 0h0m2 0h0m4 0h0m37 0h1m4 0h0m24 0h0m139 0h1m5 0h0m7 0h0m3 0h0m2 0h0m2 0h0m3 0h0m14 0h1m3 0h0m2 0h0m4 0h0m6 0h0m4 0h0m76 0h2m5 0h1M73 216h0m10 0h0m44 0h0m43 0h0m6 0h1m5 0h0m6 0h0m4 0h0m2 0h0m6 0h0m41 0h0m134 0h0m4 0h0m6 0h0m5 0h0m29 0h0m68 0h0m10 0h0m6 0h0M63 217h1m40 0h0m2 0h0m9 0h0m11 0h0m25 0h0m17 0h0m9 0h0m10 0h0m7 0h0m4 0h0m3 0h0m2 0h0m31 0h0m137 0h0m8 0h2m8 0h0m2 0h0m9 0h0m6 0h0m10 0h0m2 0h0m81 0h0m4 0h0M62 218h1m12 0h0m9 0h0m7 0h0m3 0h1m30 0h0m12 0h0m25 0h0m19 0h0m12 0h0m101 0h0m71 0h0m4 0h1m9 0h0m3 0h0m4 0h0m14 0h0m4 0h0m9 0h0m3 0h1M61 219h0m2 0h0m9 0h0m4 0h1m6 0h0m10 0h1m29 0h0m14 0h0m2 0h1m4 0h0m2 0h0m21 0h1m3 0h0m5 0h0m3 0h0m10 0h0m2 0h0m3 0h0m2 0h0m2 0h0m2 0h0m2 0h1m22 0h0m152 0h0m2 0h0m2 0h0m3 0h0m4 0h0m4 0h0m6 0h0m5 0h2m2 0h0m2 0h0m3 0h0M62 220h0m10 0h0m17 0h0m33 0h0m19 0h0m27 0h0m21 0h1m7 0h0m4 0h0m113 0h1m40 0h0m4 0h0m5 0h0m4 0h2m2 0h0m10 0h3m4 0h0m6 0h0m3 0h0m2 0h0m4 0h0m7 0h0m2 0h0m3 0h0m82 0h0m2 0h0M73 221h0m8 0h0m12 0h1m5 0h0m10 0h0m78 0h0m2 0h1m5 0h1m6 0h0m23 0h0m71 0h0m19 0h0m21 0h0m7 0h0m23 0h1m3 0h0m2 0h0m5 0h0m2 0h0m14 0h0m3 0h1m7 0h0m12 0h0m81 0h0m2 0h0M74 222h0m6 0h0m8 0h0m2 0h0m8 0h1m11 0h0m47 0h0m2 0h0m25 0h0m2 0h0m3 0h0m16 0h0m13 0h0m81 0h0m46 0h1m2 0h0m16 0h0m5 0h0m2 0h0m2 0h0m9 0h1m5 0h0m6 0h2m6 0h0m3 0h0m5 0h0m4 0h0m81 0h0m3 0h1m3 0h0M63 223h0m8 0h0m4 0h0m21 0h1m22 0h0m2 0h0m3 0h0m6 0h0m13 0h0m13 0h0m3 0h0m94 0h0m49 0h0m35 0h0m8 0h1m17 0h0m13 0h0m15 0h0m3 0h0m10 0h0m9 0h0m4 0h0m85 0h0M90 224h1m3 0h0m3 0h0m24 0h0m3 0h2m30 0h0m2 0h0m33 0h1m5 0h0m88 0h0m28 0h0m6 0h0m17 0h1m7 0h0m20 0h0m2 0h0m10 0h0m4 0h0m8 0h0m5 0h0m2 0h0m11 0h0m88 0h0m3 0h0m3 0h0m2 0h0M91 225h0m6 0h0m9 0h0m15 0h1m24 0h0m4 0h0m17 0h0m18 0h1m4 0h0m3 0h1m126 0h0m2 0h0m22 0h1m17 0h1m7 0h0m3 0h0m4 0h0m5 0h0m8 0h0m22 0h1m81 0h0m2 0h0M76 226h0m5 0h0m2 0h0m7 0h1m16 0h0m6 0h1m12 0h1m4 0h0m15 0h2m11 0h0m7 0h1m3 0h0m2 0h1m15 0h0m33 0h0m5 0h0m89 0h0m6 0h0m6 0h0m17 0h1m6 0h0m2 0h0m3 0h1m4 0h0m3 0h1m3 0h1m7 0h0m27 0h0m3 0h0m81 0h0m8 0h0M62 227h0m22 0h0m5 0h0m26 0h0m3 0h1m8 0h0m2 0h0m8 0h0m22 0h0m5 0h0m2 0h0m23 0h0m8 0h0m125 0h1m21 0h1m7 0h4m2 0h0m9 0h1m9 0h0m35 0h0m87 0h0M78 228h0m37 0h1m2 0h0m25 0h0m28 0h0m150 0h0m2 0h0m7 0h0m15 0h0m18 0h2m2 0h0m5 0h0m36 0h0m87 0h0M80 229h0m25 0h0m4 0h0m7 0h0m2 0h0m42 0h0m51 0h0m33 0h0m114 0h0m16 0h0m34 0h0m86 0h0m5 0h0M79 230h0m2 0h1m12 0h0m2 0h0m8 0h0m4 0h0m7 0h0m2 0h0m28 0h0m5 0h1m10 0h0m3 0h0m48 0h0m2 0h0m140 0h0m4 0h2m17 0h0m5 0h0m22 0h0m3 0h1M72 231h1m6 0h2m2 0h0m2 0h0m4 0h0m7 0h0m3 0h0m7 0h0m4 0h0m6 0h0m6 0h0m10 0h0m34 0h0m4 0h0m191 0h0m17 0h0m2 0h0m3 0h2m4 0h1m104 0h0m2 0h0M79 232h0m8 0h0m4 0h1m6 0h0m10 0h0m5 0h1m10 0h0m10 0h0m35 0h0m155 0h0m30 0h1m8 0h0m8 0h0m8 0h0m7 0h0m8 0h0M87 233h1m18 0h0m3 0h1m12 0h0m11 0h1m15 0h0m2 0h1m54 0h0m80 0h0m48 0h0m3 0h0m11 0h0m6 0h0m4 0h0m3 0h0m16 0h1m8 0h0m7 0h0m5 0h0M81 234h0m26 0h0m2 0h1m4 0h0m20 0h0m4 0h0m85 0h0m22 0h0m76 0h0m26 0h0m7 0h1m36 0h2m102 0h0M73 235h0m6 0h0m2 0h1m2 0h0m3 0h0m13 0h0m2 0h0m5 0h0m4 0h2m21 0h0m4 0h0m2 0h0m83 0h0m125 0h0m6 0h0m5 0h0m20 0h0m11 0h0m2 0h0m102 0h2M78 236h0m5 0h0m18 0h1m11 0h0m23 0h0m210 0h0m10 0h3m2 0h0m12 0h0m22 0h0m94 0h0M84 237h0m5 0h0m13 0h0m17 0h0m8 0h0m2 0h1m6 0h0m3 0h0m2 0h0m198 0h0m15 0h0m3 0h0m3 0h0m30 0h0m103 0h0m2 0h0M86 238h0m2 0h0m5 0h1m15 0h1m9 0h2m8 0h0m6 0h0m3 0h2m7 0h0m207 0h0m6 0h1m13 0h0m2 0h0m4 0h0m108 0h0m7 0h0M82 239h2m2 0h2m4 0h0m16 0h0m4 0h0m5 0h0m5 0h0m16 0h0m15 0h0m136 0h0m14 0h0m180 0h0M72 240h1m19 0h0m14 0h0m6 0h0m5 0h2m5 0h0m2 0h0m16 0h0m4 0h0m6 0h0m159 0h0m59 0h0m118 0h0m5 0h0M85 241h0m8 0h0m11 0h0m2 0h0m10 0h0m3 0h1m20 0h1m2 0h0m9 0h0m135 0h0m13 0h0m8 0h0M73 242h0m2 0h1m6 0h0m10 0h1m8 0h0m17 0h0m23 0h1m159 0h0M73 243h1m2 0h0m4 0h0m2 0h1m10 0h0m11 0h1m11 0h0m25 0h1M75 244h0m5 0h1m3 0h0m21 0h0m2 0h0m5 0h0m2 0h3m130 0h0m42 0h0M75 245h1m32 0h0m5 0h0m161 0h0m8 0h0m211 0h0M74 246h0m14 0h0m16 0h0m2 0h0m5 0h0m376 0h0M75 247h1m16 0h0m2 0h0m11 0h1m4 0h0m172 0h0m10 0h0m4 0h0m27 0h0m2 0h0M88 248h0m3 0h0m20 0h0m2 0h0m166 0h0m42 0h0m170 0h0M75 249h0m7 0h0m8 0h0m189 0h0M86 250h1m27 0h0m163 0h0m23 0h0m12 0h0M88 251h0m5 0h0m3 0h0m17 0h0m202 0h0m22 0h0M86 252h0m2 0h0m6 0h0m3 0h0m12 0h0m133 0h0m70 0h0M92 253h0m17 0h0M90 254h0m6 0h0m13 0h0m155 0h0m5 0h0m18 0h0M115 255h0m107 0h0M83 256h0m156 0h1m39 0h0M83 257h0m17 0h0m8 0h1m132 0h0M98 258h0M103 259h0m204 0h0M94 260h0M103 261h0M105 262h0M106 263h0M108 264h0M107 265h1M109 266h0M114 267h0m2 0h0M116 269h0M282 295h0m3 0h0M281 296h0m3 0h0M280 297h0m4 0h0m3 0h0M265 298h0m16 0h0m6 0h1M281 299h0M262 300h1m4 0h0m11 0h2M265 301h1m2 0h0m2 0h0m4 0h1m2 0h0m2 0h0m8 0h0M259 302h0m2 0h0m4 0h0m2 0h0m5 0h0m4 0h0m2 0h0m2 0h0m6 0h1M273 303h1m2 0h0m2 0h0m3 0h0m4 0h2m7 0h1M259 304h0m2 0h0m10 0h0m2 0h0m10 0h0m4 0h0m4 0h0M256 305h0m3 0h1m9 0h0m4 0h1m3 0h1m10 0h3M270 306h0m2 0h0m3 0h2m2 0h1m2 0h0m7 0h0M257 307h0m2 0h0m19 0h0m4 0h0M254 308h1m2 0h0m19 0h0m5 0h0M253 309h0m18 0h0m20 0h0M271 310h0m6 0h2m4 0h1m6 0h0M257 311h0m14 0h0m2 0h1m5 0h1m7 0h0m4 0h0M253 312h0m32 0h0m2 0h0M255 313h0m24 0h0m5 0h1M253 314h0m24 0h0m9 0h1M256 315h0m19 0h1m3 0h1m3 0h3M262 316h0m25 0h2M257 317h0m3 0h0m5 0h0m2 0h0m2 0h0m14 0h0m3 0h0m2 0h0M258 318h2m3 0h0m4 0h0m2 0h0m2 0h1m2 0h0m3 0h0M257 319h0m5 0h1m13 0h2m4 0h0M263 320h1m5 0h0m3 0h1m2 0h1m4 0h0m4 0h0M273 321h0m9 0h0M259 322h0m17 0h0M270 323h2m8 0h0"/><path stroke="#4538d7" d="M279 29h0M169 33h0m2 0h0M167 35h0M195 39h0M188 41h0m26 0h0M195 42h0m18 0h1m13 0h0m65 0h0M195 43h0m2 0h2m95 0h0M209 44h0m10 0h0m13 0h0M196 45h1m9 0h0m87 0h0M161 46h0m5 0h0m16 0h0m11 0h0m2 0h1m85 0h0m23 0h0M159 47h0m33 0h0m22 0h0m77 0h0M188 48h0m25 0h0m2 0h0M176 49h0m15 0h0m6 0h0M158 50h0m32 0h0m7 0h0m4 0h0m14 0h0m59 0h0m176 0h0M158 51h1m2 0h0m5 0h0m25 0h0m3 0h1m2 0h0m4 0h1M157 52h0m9 0h0m19 0h0m10 0h0m4 0h2m11 0h0m78 0h0m160 0h0M157 53h1m57 0h0m16 0h0M155 54h0m13 0h0m12 0h0m18 0h1m5 0h0m30 0h0M192 55h0m7 0h0m32 0h0M155 56h0m2 0h0m37 0h1m4 0h0m5 0h0m7 0h0m12 0h0M171 57h0m12 0h0m7 0h0m35 0h0m45 0h0m193 0h0M230 58h0m51 0h0M157 59h0m27 0h0m28 0h1m17 0h0m2 0h1m6 0h0m72 0h0M156 60h0m25 0h0m31 0h0m20 0h0m55 0h0m14 0h0m157 0h0M156 61h0m72 0h2m2 0h0m52 0h1m14 0h0m27 0h0M166 62h1m2 0h0m60 0h2m64 0h0m6 0h0m75 0h0m2 0h0M183 63h0m47 0h0m3 0h0m85 0h0m11 0h0M154 64h0m10 0h1m46 0h0m18 0h0m26 0h0m26 0h0m12 0h0m25 0h0m12 0h0m7 0h0m11 0h0M213 65h0m8 0h0m7 0h1m6 0h0m5 0h0m11 0h0m11 0h0m27 0h0m4 0h0m7 0h0m29 0h0m2 0h0m44 0h0m6 0h0M151 66h0m15 0h0m64 0h0m3 0h0m17 0h0m2 0h0m2 0h0m29 0h0m4 0h0m11 0h0m4 0h0m16 0h0m18 0h0m44 0h0M151 67h1m5 0h0m95 0h0m30 0h0m9 0h1m72 0h0M272 68h0m7 0h0m9 0h0m17 0h0m2 0h0m11 0h0m46 0h0m2 0h0m14 0h0m10 0h0m12 0h0m87 0h0m2 0h0M158 69h0m70 0h0m42 0h0m2 0h0m2 0h2m6 0h0m59 0h0m21 0h0m24 0h0M258 70h0m14 0h1m3 0h0m17 0h0m13 0h0m26 0h0m23 0h0m45 0h0m7 0h0m12 0h0m52 0h0m27 0h0M271 71h0m23 0h0m16 0h0m7 0h0m34 0h0m4 0h0m46 0h0m17 0h0m80 0h1M146 72h0m11 0h0m30 0h0m83 0h0m21 0h0m58 0h0m35 0h0m2 0h0m14 0h0m73 0h0m26 0h0M149 73h0m127 0h0m4 0h0m19 0h0m20 0h0m14 0h0m48 0h0m5 0h0m9 0h0m6 0h0M280 74h0m12 0h0m18 0h0m27 0h0m2 0h0m7 0h0m2 0h0m33 0h0m7 0h0m14 0h0m30 0h0m42 0h0M149 75h0m8 0h0m128 0h0m15 0h0m33 0h0m10 0h0m46 0h0m5 0h0m4 0h0m64 0h0m2 0h0m7 0h0M145 76h0m5 0h0m127 0h0m5 0h0m3 0h0m5 0h0m42 0h0m11 0h0m61 0h0m10 0h0M143 77h2m95 0h0m47 0h0m14 0h0m4 0h0m4 0h0m27 0h2m61 0h0m68 0h0M141 78h0m4 0h0m125 0h0m10 0h0m15 0h0m98 0h0m2 0h0m5 0h0m5 0h1m56 0h1m3 0h0M145 79h0m2 0h0m89 0h0m11 0h1m24 0h0m118 0h0m15 0h0m3 0h0m5 0h0M143 80h1m10 0h0m114 0h0m28 0h0m3 0h0m89 0h0m7 0h0m5 0h1m9 0h0M143 81h0m98 0h0m18 0h0m31 0h1m19 0h0m76 0h0m18 0h0m3 0h0m2 0h0m53 0h0M164 82h0m98 0h0m18 0h0m8 0h1m15 0h0m90 0h0m67 0h0m2 0h0M143 83h0m9 0h0m12 0h0m82 0h4m23 0h0m10 0h0m5 0h0m6 0h1m16 0h0m74 0h1m3 0h0m9 0h0m8 0h0M145 84h0m2 0h0m64 0h0m27 0h0m9 0h0m10 0h0m11 0h0m7 0h0m4 0h1m4 0h0m4 0h0m7 0h0m96 0h0m2 0h0M146 85h0m97 0h0m6 0h0m16 0h2m12 0h1m2 0h1m5 0h0m16 0h1m158 0h0m7 0h0M249 86h1m15 0h0m13 0h1m8 0h1m5 0h0m2 0h0m105 0h0m4 0h0m3 0h0m31 0h0m8 0h1m7 0h0m7 0h0m8 0h0M220 87h0m57 0h0m6 0h0m8 0h0m5 0h0m4 0h0m88 0h0m12 0h0m47 0h3m3 0h0m3 0h0m6 0h1m5 0h1M146 88h0m155 0h0m7 0h0m134 0h0m17 0h0M190 89h0m32 0h0m28 0h0m32 0h0m6 0h0m10 0h0m9 0h0m98 0h0m40 0h0m10 0h0m3 0h0m14 0h0M262 90h0m2 0h0m16 0h0m4 0h0m9 0h0m6 0h0m11 0h0m89 0h0m5 0h0m43 0h0m5 0h0m12 0h0M198 91h1m55 0h0m14 0h0m13 0h4m7 0h0m7 0h2m3 0h0m2 0h0m106 0h0m12 0h0m6 0h2m13 0h0m9 0h0M243 92h0m3 0h0m10 0h1m17 0h1m5 0h2m3 0h1m4 0h0m2 0h2m4 0h0m2 0h0m4 0h0m139 0h0m10 0h0m2 0h0m4 0h0m3 0h0m3 0h0M137 93h0m7 0h0m100 0h0m2 0h0m7 0h0m4 0h0m5 0h0m7 0h0m5 0h0m10 0h1m4 0h0m5 0h0m2 0h0m7 0h0m3 0h1m112 0h0m4 0h0m31 0h0m3 0h0m10 0h0M131 94h0m9 0h0m9 0h0m78 0h0m23 0h0m7 0h1m9 0h0m4 0h1m5 0h0m13 0h0m5 0h1m15 0h0m101 0h0m20 0h0m28 0h0m5 0h1M131 95h0m5 0h1m8 0h0m82 0h1m30 0h1m6 0h0m4 0h0m4 0h0m9 0h0m8 0h0m73 0h0m33 0h0m22 0h0m11 0h0m7 0h0m20 0h0m4 0h0m3 0h0M130 96h0m19 0h0m5 0h0m74 0h0m27 0h0m5 0h0m3 0h0m3 0h0m2 0h0m2 0h0m4 0h1m2 0h0m11 0h0m4 0h0m6 0h0m57 0h0m9 0h0m33 0h1m2 0h0m53 0h0m8 0h2m2 0h2M131 97h0m20 0h0m79 0h0m29 0h0m3 0h0m5 0h0m2 0h0m2 0h0m5 0h0m7 0h0m5 0h0m76 0h2m51 0h1m14 0h0m6 0h1m11 0h0m7 0h0m21 0h0m6 0h0m19 0h1M261 98h0m13 0h0m4 0h0m7 0h0m5 0h0m4 0h0m69 0h0m55 0h0m8 0h0m16 0h0m12 0h0m31 0h0M238 99h0m42 0h0m8 0h0m3 0h0m2 0h1m10 0h1m59 0h0m5 0h0m33 0h0m33 0h1m10 0h0m24 0h0m12 0h0M199 100h0m37 0h0m17 0h1m14 0h0m6 0h3m12 0h0m5 0h0m68 0h0m6 0h0m31 0h0m50 0h0m6 0h0m10 0h0m9 0h0m8 0h0m9 0h0m8 0h0M133 101h0m115 0h0m2 0h0m3 0h0m13 0h2m2 0h1m4 0h0m16 0h0m9 0h0m64 0h1m32 0h0m2 0h0m21 0h0m37 0h0m8 0h0m37 0h0m5 0h0M133 102h1m95 0h1m20 0h0m4 0h0m6 0h0m7 0h0m4 0h0m3 0h2m6 0h0m3 0h1m3 0h0m2 0h1m76 0h0m3 0h0m54 0h0m23 0h0m5 0h0m19 0h1m23 0h0M133 103h0m8 0h1m133 0h0m3 0h0m14 0h0m14 0h0m39 0h0m39 0h1m47 0h0m9 0h1m11 0h1m4 0h0m7 0h0m4 0h0m2 0h0m2 0h0m7 0h1m3 0h0M146 104h0m94 0h0m17 0h0m12 0h0m6 0h0m4 0h1m27 0h0m67 0h0m10 0h0m37 0h0m2 0h0m2 0h1m5 0h0m8 0h0m9 0h0m36 0h0M128 105h0m103 0h0m41 0h1m5 0h0m2 0h0m69 0h0m3 0h0m16 0h0m17 0h1m32 0h0m17 0h0m3 0h0m4 0h1m7 0h0m17 0h0m21 0h0m4 0h0m4 0h0m7 0h0M128 106h0m72 0h0m38 0h0m16 0h0m23 0h1m2 0h1m7 0h0m5 0h0m6 0h0m4 0h1m60 0h0m14 0h0m4 0h0m34 0h0m6 0h0m4 0h0m12 0h0m10 0h0m8 0h0m19 0h0M135 107h0m102 0h0m10 0h0m4 0h0m8 0h0m2 0h0m9 0h0m4 0h0m2 0h1m2 0h0m3 0h0m15 0h0m8 0h0m49 0h0m22 0h0m41 0h0m2 0h0m5 0h0m4 0h0m4 0h0m65 0h0m4 0h0M125 108h0m9 0h0m2 0h0m5 0h0m10 0h0m86 0h0m21 0h1m8 0h0m8 0h0m18 0h0m84 0h0m4 0h0m6 0h0m14 0h0m23 0h1m4 0h0m4 0h0m7 0h0m13 0h0m2 0h0m8 0h0m24 0h0m9 0h0M121 109h1m7 0h0m5 0h1m8 0h0m107 0h0m9 0h2m12 0h1m11 0h0m12 0h0m55 0h0m18 0h0m11 0h1m38 0h0m5 0h1m9 0h0m8 0h0m6 0h0m8 0h0m5 0h0m25 0h0m2 0h0M135 110h0m6 0h0m10 0h0m5 0h0m99 0h1m16 0h1m2 0h1m2 0h1m18 0h0m51 0h0m13 0h0m9 0h0m6 0h0m5 0h0m9 0h0m36 0h0m5 0h0m10 0h0m18 0h0M121 111h1m12 0h1m4 0h1m123 0h0m2 0h2m13 0h1m12 0h1m53 0h0m5 0h0m12 0h0m4 0h0m6 0h0m7 0h1m38 0h0m8 0h0m3 0h0m8 0h0m7 0h1m3 0h0m23 0h0M140 112h0m10 0h0m106 0h0m7 0h0m4 0h0m34 0h0m47 0h0m15 0h1m3 0h1m19 0h0m2 0h0m27 0h0m20 0h0m23 0h0m4 0h0m19 0h2m2 0h0m8 0h0M120 113h1m4 0h0m4 0h0m14 0h0m3 0h0m3 0h0m8 0h0m102 0h0m2 0h0m3 0h0m4 0h0m4 0h0m28 0h0m47 0h0m9 0h0m58 0h0m14 0h0m24 0h0m12 0h0m12 0h0m26 0h0M124 114h0m19 0h0m6 0h0m6 0h0m64 0h0m35 0h0m7 0h0m86 0h1m3 0h0m16 0h0m5 0h0m5 0h0m4 0h0m33 0h1m24 0h0m18 0h0M121 115h1m17 0h0m7 0h0m87 0h0m26 0h0m7 0h0m84 0h0m9 0h2m3 0h0m6 0h0m6 0h0m35 0h0m52 0h0m25 0h0m5 0h0m5 0h0M152 116h0m12 0h0m2 0h0m32 0h0m49 0h0m14 0h0m4 0h1m18 0h2m6 0h0m73 0h1m6 0h0m6 0h0m53 0h0m47 0h0m19 0h1m2 0h0M151 117h0m65 0h1m47 0h2m7 0h0m5 0h1m4 0h0m2 0h0m19 0h0m55 0h0m26 0h0m7 0h0m34 0h0m5 0h0m4 0h0m13 0h0m12 0h0m5 0h0m18 0h0m3 0h0m7 0h0m6 0h1M119 118h0m20 0h0m2 0h0m10 0h1m12 0h0m101 0h0m12 0h0m5 0h0m2 0h0m7 0h0m5 0h0m57 0h0m8 0h0m12 0h0m2 0h0m10 0h0m5 0h0m32 0h0m6 0h0m8 0h0m3 0h0m47 0h0m13 0h0M150 119h0m9 0h0m67 0h0m39 0h0m5 0h0m6 0h0m3 0h1m3 0h1m2 0h0m63 0h0m3 0h0m15 0h0m7 0h0m55 0h0m28 0h0m3 0h1M115 120h0m2 0h0m23 0h0m14 0h0m41 0h0m32 0h0m17 0h0m3 0h0m11 0h0m12 0h1m4 0h1m6 0h0m17 0h0m52 0h1m7 0h0m13 0h1m9 0h0m5 0h0m7 0h0m32 0h0m9 0h2m13 0h0m3 0h0m13 0h0m33 0h0m5 0h0M124 121h1m18 0h0m9 0h0m66 0h0m3 0h0m9 0h0m48 0h0m4 0h0m12 0h0m2 0h0m50 0h0m2 0h0m8 0h0m6 0h0m11 0h0m3 0h0m10 0h0m30 0h0m19 0h0m5 0h0m11 0h1m12 0h0m12 0h0M118 122h0m17 0h0m4 0h0m2 0h0m3 0h1m18 0h0m56 0h1m54 0h0m5 0h0m2 0h0m6 0h0m5 0h0m5 0h0m9 0h0m46 0h1m3 0h0m11 0h0m5 0h0m4 0h0m2 0h0m40 0h1m38 0h1m2 0h0m9 0h0m16 0h0m14 0h0m2 0h0m4 0h0M119 123h0m16 0h0m8 0h0m79 0h0m32 0h0m10 0h0m16 0h0m14 0h0m4 0h0m55 0h1m3 0h0m5 0h0m2 0h0m14 0h0m5 0h0m9 0h0m25 0h0m14 0h0m9 0h0m26 0h0m9 0h0m2 0h0m25 0h0M110 124h0m4 0h0m10 0h0m6 0h0m11 0h0m57 0h0m69 0h0m17 0h0m4 0h0m6 0h0m5 0h0m54 0h0m2 0h0m15 0h0m9 0h1m57 0h0m5 0h0m28 0h0m4 0h2M126 125h0m3 0h0m73 0h0m3 0h0m46 0h0m16 0h0m2 0h0m18 0h0m2 0h0m10 0h0m17 0h0m2 0h0m28 0h0m28 0h0m8 0h0m42 0h0m19 0h0m3 0h0m9 0h0m7 0h0m11 0h0m18 0h0M130 126h0m31 0h0m36 0h0m14 0h0m49 0h0m6 0h0m19 0h0m3 0h1m55 0h0m16 0h0m15 0h0m2 0h0m2 0h0m22 0h0m29 0h0m3 0h0m32 0h0m19 0h0m2 0h0M132 127h0m34 0h0m34 0h0m10 0h0m2 0h0m23 0h1m47 0h0m6 0h1m5 0h0m16 0h0m52 0h0m4 0h1m7 0h0m6 0h0m38 0h0m25 0h0m3 0h0m14 0h0m8 0h0m9 0h0m10 0h0m10 0h0m3 0h0M107 128h0m6 0h0m87 0h0m33 0h0m2 0h0m28 0h1m14 0h0m10 0h0m70 0h0m11 0h0m7 0h0m57 0h0m4 0h0m15 0h0m23 0h0m11 0h0m13 0h0M120 129h0m13 0h1m5 0h0m22 0h0m95 0h0m12 0h0m9 0h0m8 0h0m35 0h0m29 0h0m2 0h0m8 0h0m4 0h0m11 0h0m2 0h0m49 0h0m8 0h0m7 0h0m21 0h0m6 0h0m17 0h0m3 0h0M119 130h0m3 0h1m17 0h0m9 0h0m11 0h0m90 0h0m30 0h0m5 0h1m32 0h0m32 0h1m2 0h0m2 0h1m46 0h0m15 0h0m23 0h0m45 0h0M113 131h0m5 0h1m3 0h1m11 0h0m7 0h0m22 0h0m66 0h0m17 0h0m9 0h0m2 0h0m5 0h0m22 0h0m5 0h0m3 0h0m8 0h1m2 0h0m15 0h1m32 0h0m2 0h0m12 0h0m8 0h2m2 0h0m5 0h0m18 0h1m67 0h0m6 0h0m19 0h0m3 0h0M115 132h0m6 0h0m10 0h1m8 0h1m23 0h0m26 0h2m50 0h0m53 0h0m61 0h0m13 0h0m3 0h1m7 0h1m19 0h0m9 0h0m4 0h0m61 0h0m11 0h0m7 0h1M152 133h0m7 0h0m2 0h1m40 0h0m44 0h0m2 0h0m12 0h0m30 0h0m10 0h0m2 0h0m8 0h0m43 0h0m4 0h0m4 0h0m8 0h0m3 0h0m4 0h0m4 0h0m20 0h0m46 0h0m10 0h0m3 0h0m30 0h0M124 134h0m4 0h0m10 0h1m22 0h0m50 0h0m34 0h0m12 0h0m7 0h0m14 0h0m7 0h0m7 0h0m11 0h0m2 0h0m4 0h1m3 0h0m2 0h0m51 0h0m25 0h0m74 0h0m19 0h0m5 0h0m2 0h0M106 135h0m9 0h0m16 0h0m23 0h1m6 0h0m2 0h0m37 0h0m46 0h0m3 0h0m14 0h0m18 0h0m6 0h0m4 0h1m2 0h0m3 0h1m12 0h0m8 0h2m2 0h1m4 0h0m26 0h0m6 0h0m3 0h0m3 0h0m25 0h0m3 0h0m12 0h0m19 0h0m9 0h0m15 0h0m17 0h0m23 0h0M115 136h0m20 0h1m3 0h0m17 0h1m94 0h0m2 0h0m26 0h0m2 0h0m3 0h0m10 0h0m10 0h1m11 0h0m4 0h1m2 0h0m32 0h0m7 0h0m2 0h0m23 0h0m4 0h0m98 0h0M49 137h0m53 0h0m13 0h0m10 0h0m30 0h0m10 0h0m2 0h0m89 0h0m10 0h0m4 0h0m14 0h0m11 0h0m9 0h0m44 0h1m8 0h1m6 0h0m29 0h0m2 0h0m63 0h0m4 0h0m9 0h0m7 0h0M137 138h0m3 0h0m47 0h1m51 0h1m15 0h0m14 0h1m15 0h0m2 0h0m25 0h0m71 0h0m17 0h0m20 0h0m7 0h0m13 0h0m23 0h0m25 0h2M106 139h0m2 0h0m10 0h0m19 0h0m21 0h0m31 0h0m68 0h0m3 0h1m19 0h0m2 0h1m2 0h0m69 0h0m10 0h1m30 0h1m9 0h0m15 0h0m2 0h0m7 0h0m20 0h0m6 0h0M62 140h0m49 0h0m15 0h0m16 0h0m3 0h1m5 0h0m19 0h0m18 0h0m51 0h1m16 0h0m8 0h0m19 0h0m4 0h0m11 0h0m65 0h0m57 0h0M120 141h0m25 0h0m10 0h0m87 0h0m11 0h0m3 0h0m15 0h0m11 0h1m6 0h2m13 0h0m6 0h0m12 0h1m26 0h0m11 0h0m12 0h0m6 0h0m21 0h0m32 0h0m42 0h0m9 0h0M58 142h1m136 0h0m49 0h0m11 0h1m30 0h0m2 0h0m2 0h0m61 0h0m16 0h0m12 0h0m9 0h0m10 0h0m11 0h0m17 0h0m4 0h0m7 0h0m4 0h0m19 0h0m8 0h0m8 0h0M57 143h0m103 0h0m58 0h0m22 0h0m15 0h0m2 0h0m19 0h0m7 0h0m8 0h1m6 0h0m51 0h0m20 0h0m4 0h0m25 0h0m7 0h0m8 0h0m14 0h0m5 0h0m9 0h0m10 0h0m25 0h0M60 144h0m50 0h0m21 0h0m20 0h0m5 0h0m8 0h0m13 0h0m20 0h0m32 0h0m27 0h0m13 0h0m2 0h0m7 0h0m54 0h0m19 0h0m7 0h0m2 0h0m10 0h1m53 0h0m2 0h0m40 0h1M137 145h1m8 0h0m11 0h0m56 0h0m39 0h0m3 0h0m2 0h0m26 0h0m13 0h0m13 0h0m22 0h0m18 0h0m9 0h0m39 0h0m6 0h0m2 0h0m26 0h0m8 0h0m4 0h0M153 146h0m9 0h0m92 0h0m3 0h1m43 0h1m2 0h0m29 0h0m17 0h0m14 0h0m33 0h0m10 0h0m54 0h0M140 147h0m2 0h0m5 0h0m29 0h0m5 0h0m73 0h0m11 0h0m13 0h0m9 0h0m36 0h0m4 0h0m13 0h0m3 0h0m10 0h0m10 0h0m33 0h1m4 0h0m37 0h0m45 0h0M128 148h2m53 0h0m110 0h0m7 0h0m19 0h0m2 0h0m5 0h0m7 0h0m30 0h1m31 0h0m16 0h0m8 0h0m15 0h0m4 0h0m9 0h0m25 0h0m2 0h0m10 0h0M124 149h0m9 0h0m8 0h0m6 0h1m12 0h0m25 0h0m107 0h0m21 0h0m2 0h0m6 0h0m2 0h0m24 0h0m47 0h0m2 0h0m5 0h0m4 0h0m2 0h0m24 0h0m4 0h2m40 0h0m2 0h0M60 150h0m67 0h0m4 0h0m70 0h1m19 0h0m37 0h0m2 0h0m51 0h2m6 0h0m13 0h0m6 0h0m15 0h0m11 0h0m30 0h0m3 0h0m15 0h0m11 0h0m8 0h2m46 0h0M61 151h0m72 0h0m3 0h0m15 0h0m20 0h0m6 0h0m7 0h0m134 0h0m8 0h0m10 0h0m18 0h0m11 0h0m12 0h0m34 0h0m5 0h0m16 0h0m2 0h0m28 0h1M90 152h0m81 0h0m14 0h0m114 0h0m9 0h0m39 0h0m32 0h0m17 0h0m4 0h0m41 0h0m25 0h0m4 0h0m3 0h0M86 153h0m10 0h0m24 0h0m13 0h0m20 0h0m50 0h0m55 0h0m8 0h0m11 0h0m10 0h0m4 0h0m4 0h1m3 0h0m28 0h0m25 0h0m10 0h0m3 0h0m4 0h0m24 0h1m11 0h0m4 0h0m54 0h0M66 154h0m46 0h1m9 0h0m143 0h0m6 0h0m28 0h0m41 0h1m5 0h0m15 0h0m4 0h0m10 0h0m63 0h0M66 155h0m46 0h0m98 0h0m13 0h0m35 0h0m24 0h0m17 0h0m38 0h0m10 0h1m5 0h0m3 0h0m10 0h0m13 0h1m10 0h0M60 156h0m170 0h0m2 0h0m12 0h0m8 0h0m20 0h0m16 0h0m37 0h0m18 0h0m17 0h0m5 0h0m6 0h0m9 0h1m12 0h0m10 0h0m5 0h0m6 0h0m6 0h0m10 0h0m25 0h0m10 0h0M174 157h0m69 0h0m13 0h0m48 0h1m38 0h0m23 0h1m4 0h0m10 0h0m7 0h0m6 0h0m7 0h0m3 0h0m35 0h0m4 0h0m21 0h0M137 158h0m14 0h0m79 0h0m6 0h0m4 0h0m12 0h0m12 0h0m20 0h0m44 0h0m16 0h0m14 0h0m9 0h0m12 0h0m3 0h0m21 0h1m12 0h0m4 0h0m36 0h0m7 0h0M77 159h0m55 0h0m30 0h0m18 0h0m60 0h1m4 0h0m8 0h0m37 0h0m13 0h0m2 0h0m10 0h0m10 0h0m30 0h0m7 0h0m17 0h0m11 0h0m13 0h0m7 0h0m3 0h0m2 0h0m2 0h0m27 0h0M120 160h0m43 0h0m78 0h0m9 0h0m4 0h0m5 0h0m2 0h0m19 0h0m23 0h0m3 0h0m45 0h1m6 0h0m14 0h0m16 0h1m2 0h1m2 0h0m8 0h0m18 0h0m7 0h0M233 161h0m9 0h0m54 0h0m45 0h0m9 0h0m3 0h0m2 0h0m20 0h0m28 0h0m12 0h0m2 0h0m6 0h0m18 0h0M162 162h0m91 0h0m5 0h0m2 0h0m18 0h0m11 0h0m15 0h1m38 0h0m10 0h1m2 0h0m8 0h0m5 0h0m8 0h0M69 163h0m10 0h0m76 0h0m7 0h0m76 0h0m13 0h1m37 0h0m13 0h0m41 0h0m2 0h0m8 0h0m2 0h0m7 0h0m25 0h0m34 0h1m14 0h0m17 0h0m8 0h0M217 164h0m2 0h0m28 0h0m6 0h0m11 0h0m6 0h0m12 0h0m27 0h0m23 0h0m27 0h0m7 0h0m4 0h0m8 0h0m11 0h0m4 0h0m17 0h0m4 0h1m10 0h0M155 165h0m57 0h1m44 0h0m4 0h0m67 0h0m26 0h1m13 0h0m7 0h0m26 0h0m2 0h0m10 0h0m7 0h0M246 166h0m6 0h0m7 0h0m3 0h0m17 0h1m2 0h0m34 0h0m7 0h0m26 0h0m8 0h0m9 0h0m8 0h0m5 0h0m28 0h0m13 0h0M118 167h0m103 0h0m16 0h0m4 0h0m5 0h0m22 0h0m4 0h0m7 0h1m9 0h1m25 0h0m3 0h0m9 0h0m36 0h0m2 0h0m3 0h0m22 0h0m4 0h0m2 0h0m3 0h0m2 0h0m17 0h0m28 0h0m4 0h0M223 168h0m12 0h0m18 0h0m14 0h0m5 0h0m11 0h0m11 0h1m4 0h0m10 0h0m3 0h0m3 0h0m9 0h0m2 0h1m6 0h0m19 0h0m7 0h0m29 0h0m2 0h0m15 0h0m10 0h0m2 0h0m13 0h0m32 0h0M222 169h0m2 0h2m9 0h0m46 0h1m8 0h0m8 0h0m24 0h1m27 0h0m30 0h0m13 0h0m2 0h0m26 0h0m9 0h0m4 0h0m13 0h0M130 170h1m107 0h0m8 0h0m23 0h0m4 0h2m13 0h0m6 0h0m15 0h0m2 0h0m17 0h0m22 0h0m18 0h0m11 0h0m5 0h1m11 0h0m33 0h0m3 0h0m12 0h0M235 171h0m25 0h0m12 0h1m4 0h0m52 0h0m24 0h1m10 0h0m10 0h1m14 0h0m6 0h0m20 0h0m5 0h0m8 0h0m22 0h0M142 172h0m27 0h0m5 0h0m99 0h0m20 0h0m18 0h0m8 0h1m12 0h0m24 0h0m3 0h0m14 0h1m5 0h0m9 0h0m5 0h0m9 0h0M276 173h0m5 0h0m2 0h0m17 0h0m23 0h0m32 0h0m5 0h0m3 0h0m15 0h0m5 0h0m17 0h1m5 0h0m8 0h0m6 0h0m11 0h0m29 0h0M170 174h1m93 0h0m2 0h0m6 0h0m10 0h0m6 0h0m4 0h0m10 0h0m8 0h0m4 0h0m10 0h0m4 0h0m25 0h0m6 0h0m3 0h0m4 0h0m7 0h0m4 0h0m25 0h0m24 0h0m6 0h0m2 0h0m10 0h0m15 0h0M66 175h0m153 0h0m2 0h0m41 0h0m8 0h0m5 0h0m4 0h0m7 0h0m6 0h1m4 0h1m2 0h0m12 0h0m3 0h0m4 0h0m2 0h1m3 0h0m16 0h0m5 0h1m14 0h0m11 0h0m9 0h0m16 0h0m5 0h0m11 0h0m5 0h0m15 0h0m14 0h0m14 0h0m2 0h0M63 176h0m3 0h0m12 0h0m5 0h0m149 0h0m20 0h0m12 0h0m9 0h0m2 0h0m15 0h0m34 0h0m4 0h0m28 0h0m15 0h1m26 0h0m22 0h0m24 0h0m7 0h0m2 0h0m4 0h0m4 0h0M219 177h0m37 0h0m9 0h0m11 0h0m6 0h0m17 0h0m21 0h0m14 0h0m5 0h0m11 0h0m12 0h0m2 0h0m5 0h0m7 0h1m3 0h0m2 0h0m3 0h0m3 0h0m39 0h0m35 0h0m4 0h0M66 178h0m109 0h0m22 0h1m35 0h0m6 0h0m16 0h0m8 0h0m3 0h0m3 0h1m7 0h0m14 0h0m15 0h0m11 0h1m4 0h0m30 0h0m16 0h0m11 0h0m7 0h0m4 0h0m63 0h0m7 0h0M83 179h0m114 0h0m42 0h0m4 0h1m9 0h0m2 0h0m15 0h0m18 0h0m36 0h0m39 0h0m36 0h0m6 0h0m45 0h0m6 0h0M198 180h0m22 0h0m15 0h0m16 0h0m28 0h0m15 0h0m5 0h0m7 0h0m20 0h0m36 0h1m22 0h0m6 0h0m42 0h0m19 0h0m10 0h0m2 0h1M165 181h0m73 0h0m16 0h0m8 0h0m6 0h0m6 0h0m28 0h0m47 0h0m7 0h0m4 0h1m15 0h0m5 0h0m24 0h0m19 0h0m4 0h0m5 0h0m11 0h0M70 182h0m14 0h0m19 0h0m136 0h0m19 0h0m18 0h0m4 0h0m38 0h0m15 0h0m7 0h1m3 0h0m2 0h1m33 0h0m14 0h0m10 0h0m18 0h0m8 0h0m3 0h0m26 0h0M62 183h0m16 0h0m159 0h0m12 0h1m2 0h0m20 0h0m38 0h0m8 0h0m8 0h0m7 0h1m13 0h0m2 0h0m5 0h0m16 0h0m17 0h0m13 0h0m13 0h1m7 0h0M207 184h0m7 0h1m20 0h0m16 0h0m5 0h1m5 0h0m84 0h0m3 0h0m3 0h0m3 0h0m8 0h0m18 0h0m13 0h0m26 0h0m3 0h0M71 185h0m139 0h0m38 0h0m4 0h0m11 0h0m28 0h0m4 0h0m4 0h0m24 0h0m8 0h0m8 0h0m5 0h0m5 0h1m9 0h0m3 0h0m3 0h0m14 0h0m13 0h0m19 0h0m9 0h0m8 0h0m8 0h0M109 186h0m62 0h0m40 0h0m15 0h0m12 0h0m34 0h0m23 0h0m36 0h0m30 0h1m20 0h0m4 0h0m4 0h0m3 0h0m5 0h0m3 0h0m15 0h1M67 187h0m160 0h0m3 0h0m2 0h0m12 0h0m51 0h0m7 0h0m26 0h0m13 0h0m3 0h0m11 0h0m3 0h0m8 0h0m14 0h0m12 0h0m3 0h0m50 0h0M171 188h0m33 0h0m11 0h0m12 0h0m24 0h0m8 0h0m8 0h0m9 0h0m19 0h0m3 0h0m13 0h1m36 0h0m9 0h0m15 0h1m3 0h0m32 0h0m3 0h0m14 0h0m7 0h0M47 189h0m210 0h0m7 0h0m41 0h0m19 0h0m6 0h0m8 0h0m2 0h1m4 0h0m3 0h0m24 0h0m8 0h0m7 0h0m33 0h0m10 0h0m8 0h0m15 0h0M303 190h0m22 0h0m17 0h0m4 0h0m14 0h0m2 0h0m23 0h2m31 0h0M243 191h0m31 0h0m6 0h0m21 0h0m22 0h1m18 0h0m6 0h0m2 0h0m2 0h0m5 0h0m2 0h0m2 0h0m18 0h0m3 0h1m39 0h1m3 0h0m6 0h0M51 192h0m64 0h0m12 0h0m38 0h0m17 0h0m40 0h0m21 0h0m13 0h0m2 0h0m40 0h0m4 0h2m16 0h0m22 0h0m10 0h0m8 0h0m19 0h2m23 0h0m3 0h0m32 0h0m4 0h0m7 0h0m52 0h0m2 0h0m5 0h0M241 193h1m8 0h0m2 0h0m37 0h0m14 0h0m9 0h0m35 0h0m12 0h0m40 0h0m4 0h0m7 0h0m15 0h0m8 0h0m8 0h0M244 194h0m4 0h0m6 0h0m30 0h0m15 0h1m4 0h0m8 0h0m16 0h0m17 0h1m44 0h0m7 0h0m4 0h0m36 0h0m3 0h1M145 195h0m79 0h0m21 0h0m8 0h1m17 0h1m2 0h0m9 0h0m5 0h0m30 0h0m10 0h1m5 0h1m4 0h0m6 0h0m30 0h0m8 0h0m18 0h0m23 0h0m6 0h0M221 196h1m15 0h0m14 0h1m2 0h0m17 0h0m2 0h0m27 0h0m3 0h0m23 0h0m2 0h1m5 0h0m6 0h0m5 0h0m18 0h0m2 0h0m6 0h0m21 0h0m7 0h0m8 0h0m35 0h0m3 0h0m60 0h0m3 0h0m3 0h0M42 197h0m6 0h0m121 0h0m30 0h0m27 0h0m22 0h0m54 0h0m11 0h1m5 0h0m5 0h0m2 0h0m18 0h0m2 0h0m17 0h0m76 0h0m70 0h1M48 198h0m5 0h0m161 0h0m24 0h0m28 0h0m4 0h0m9 0h0m23 0h0m23 0h0m10 0h0m3 0h0m17 0h0m9 0h0m6 0h0m9 0h0m4 0h0m7 0h0m18 0h0m3 0h0M54 199h0m113 0h0m5 0h0m28 0h0m4 0h0m4 0h0m29 0h0m44 0h0m6 0h0m16 0h0m4 0h0m10 0h0m5 0h2m8 0h0m2 0h1m11 0h0m14 0h0m34 0h0m22 0h0m13 0h0m79 0h0M112 200h0m72 0h0m53 0h0m34 0h0m11 0h0m20 0h0m7 0h0m6 0h0m4 0h0m2 0h1m19 0h0m38 0h0m19 0h0m4 0h0m10 0h0m81 0h0m5 0h0m2 0h0M55 201h0m42 0h0m78 0h0m10 0h0m24 0h0m10 0h0m32 0h0m62 0h0m2 0h1m5 0h2m4 0h0m26 0h0m28 0h0m19 0h0m5 0h0m20 0h0m74 0h0M46 202h0m83 0h0m91 0h0m30 0h0m26 0h0m35 0h1m6 0h2m2 0h0m4 0h1m4 0h1m35 0h0m9 0h2m18 0h0m4 0h0m2 0h0m6 0h0m32 0h0m57 0h0M215 203h0m2 0h0m7 0h0m5 0h0m9 0h0m13 0h0m9 0h0m3 0h0m22 0h0m2 0h0m10 0h0m26 0h0m2 0h0m40 0h0m4 0h0m2 0h0m9 0h0m22 0h0m4 0h0m3 0h0m15 0h0m12 0h0m71 0h0m5 0h0M74 204h0m88 0h0m29 0h0m22 0h0m2 0h0m7 0h0m22 0h0m10 0h0m2 0h1m12 0h0m6 0h0m13 0h0m11 0h0m20 0h1m41 0h0m2 0h0m4 0h0m5 0h0m11 0h0m52 0h0m60 0h0m2 0h0m15 0h0M48 205h0m19 0h0m128 0h0m18 0h0m16 0h0m9 0h0m14 0h0m9 0h0m4 0h0m9 0h0m3 0h0m12 0h2m5 0h0m4 0h0m4 0h0m3 0h1m24 0h0m26 0h0m8 0h0m23 0h0m6 0h0m2 0h0m6 0h1m5 0h0m28 0h0m63 0h0M47 206h0m50 0h0m94 0h0m16 0h0m18 0h0m12 0h0m35 0h0m25 0h0m2 0h1m12 0h0m3 0h0m15 0h0m29 0h0m26 0h0m30 0h0m4 0h0m11 0h0m2 0h0M210 207h0m64 0h0m22 0h0m2 0h0m3 0h0m12 0h2m13 0h0m2 0h0m5 0h0m2 0h0m13 0h0m4 0h0m6 0h1m21 0h0m20 0h0m12 0h0m17 0h0m67 0h0m10 0h0M67 208h0m138 0h0m3 0h0m7 0h0m38 0h0m19 0h0m29 0h0m13 0h0m14 0h0m22 0h0m3 0h0m5 0h0m17 0h0m15 0h0m28 0h0m91 0h0M139 209h0m74 0h0m46 0h0m16 0h0m24 0h0m7 0h0m9 0h1m40 0h0m14 0h0m5 0h0m46 0h0m82 0h0m3 0h0M124 210h0m14 0h0m70 0h0m11 0h0m7 0h0m9 0h0m22 0h1m9 0h0m6 0h0m11 0h0m2 0h0m12 0h1m15 0h1m2 0h0m17 0h0m24 0h0m19 0h0m29 0h0m12 0h0m9 0h0m2 0h0M129 211h0m9 0h0m71 0h0m24 0h0m7 0h1m2 0h1m3 0h0m11 0h0m15 0h0m5 0h1m6 0h2m2 0h0m15 0h0m2 0h0m5 0h0m4 0h0m61 0h0m14 0h0m24 0h0m14 0h0m73 0h0m7 0h0M208 212h0m3 0h0m28 0h0m7 0h0m6 0h0m9 0h0m11 0h0m2 0h0m8 0h0m4 0h0m11 0h0m7 0h0m12 0h0m18 0h0m78 0h0m8 0h0M124 213h0m3 0h0m88 0h0m10 0h0m18 0h0m19 0h1m14 0h1m3 0h0m4 0h1m10 0h0m9 0h0m2 0h0m21 0h0m24 0h0m2 0h0m29 0h0m33 0h0m8 0h0m75 0h0m6 0h0M70 214h0m137 0h0m8 0h0m34 0h0m15 0h0m12 0h2m7 0h1m12 0h0m5 0h0m2 0h1m4 0h0m10 0h0m2 0h1m2 0h0m10 0h0m11 0h0m23 0h0m17 0h0m20 0h0m17 0h0m77 0h0M211 215h0m2 0h0m63 0h0m3 0h1m4 0h0m19 0h0m21 0h0m4 0h0m6 0h0m14 0h0m3 0h0m11 0h0m5 0h0m40 0h0m20 0h0m79 0h0M61 216h0m137 0h0m13 0h0m9 0h0m14 0h0m6 0h0m37 0h0m25 0h2m19 0h0m13 0h0m22 0h0m54 0h0M138 217h0m79 0h0m2 0h0m6 0h0m8 0h0m2 0h0m2 0h0m7 0h0m78 0h1m18 0h1m14 0h0m13 0h0M198 218h0m18 0h0m18 0h0m7 0h0m2 0h0m11 0h0m29 0h0m23 0h1m16 0h0m23 0h0m66 0h0m86 0h0M67 219h0m138 0h0m11 0h1m25 0h0m42 0h0m220 0h0M65 220h0m59 0h1m2 0h0m59 0h0m29 0h0m30 0h0m17 0h1m31 0h0m43 0h0m168 0h0M65 221h0m23 0h0m83 0h0m39 0h0m8 0h0m3 0h0m36 0h0m5 0h1m23 0h0m28 0h0m3 0h0m8 0h0m20 0h0m36 0h0M128 222h0m80 0h0m58 0h0m18 0h0m19 0h0m2 0h0m17 0h0m14 0h0m26 0h0m16 0h0M70 223h0m47 0h0m70 0h0m10 0h0m62 0h0m34 0h0m13 0h0m2 0h0m9 0h0m8 0h0m17 0h0m17 0h0m126 0h0M177 224h0m44 0h0m38 0h0m27 0h0m12 0h0m18 0h0m6 0h0m2 0h0m17 0h0m20 0h0m125 0h0M176 225h1m15 0h0m21 0h0m29 0h0m9 0h1m32 0h0m34 0h1m10 0h0M128 226h0m49 0h0m20 0h0m15 0h0m13 0h0m74 0h0m2 0h0m17 0h0m24 0h0m144 0h0m10 0h0M161 227h0m2 0h0m29 0h0m17 0h0m6 0h0m56 0h0m18 0h0m24 0h0m14 0h0m49 0h0M136 228h0m52 0h0m19 0h0m2 0h0m8 0h0m80 0h0m15 0h0m15 0h0M81 229h0m127 0h0m4 0h0m87 0h0m29 0h1m28 0h0m21 0h0m117 0h0M78 230h0m27 0h0m90 0h0m11 0h0m89 0h0m2 0h0m11 0h0m4 0h0m55 0h0M194 231h0m4 0h0m7 0h0m4 0h0m15 0h0m13 0h0m5 0h0m3 0h0m60 0h0m2 0h0m18 0h0m50 0h0m7 0h0m100 0h0M201 232h0m2 0h0m3 0h0m12 0h0m65 0h0m4 0h1m26 0h0m2 0h0m2 0h0m49 0h1m2 0h0m113 0h0m13 0h0M91 233h0m17 0h0m52 0h0m120 0h0m3 0h0m26 0h0m6 0h0m5 0h0m46 0h0m15 0h0m7 0h0m8 0h0M163 234h1m36 0h0m10 0h0m7 0h0m5 0h0m61 0h0m7 0h0m3 0h0m9 0h0m26 0h0m36 0h0m4 0h0m4 0h0m2 0h0m20 0h0m86 0h0M114 235h0m23 0h0m80 0h0m4 0h0m52 0h0m9 0h1m2 0h0m6 0h1m6 0h0m2 0h0m6 0h0m70 0h0m5 0h0m13 0h1m87 0h0M215 236h0m59 0h2m4 0h1m2 0h1m5 0h0m11 0h0m3 0h0m17 0h0m59 0h0m106 0h2m8 0h0M225 237h0m56 0h0m2 0h0m6 0h0m3 0h0m6 0h0m4 0h1m5 0h0m3 0h0m23 0h0m2 0h0m5 0h0m4 0h0m22 0h0m10 0h0m4 0h0M164 238h0m2 0h0m56 0h0m60 0h0m3 0h0m5 0h0m32 0h0m11 0h0m5 0h0m7 0h0m33 0h0m105 0h0m3 0h0M165 239h0m123 0h0m8 0h0m14 0h0m35 0h0m15 0h0M280 240h1m26 0h0m20 0h0m31 0h0m11 0h0M87 241h0m18 0h0m31 0h0m121 0h0m23 0h0m5 0h1m2 0h0m2 0h0m53 0h0m140 0h0M242 242h0m14 0h0m13 0h0m18 0h0m2 0h0m41 0h0m6 0h0m10 0h0M92 243h0m168 0h0m24 0h0m4 0h0m2 0h0m38 0h2m3 0h0M90 244h0m16 0h0m143 0h0m12 0h0m8 0h0m29 0h0m15 0h0m16 0h1m9 0h0m19 0h0M114 245h0m159 0h0m24 0h0m5 0h0m14 0h0m8 0h0m5 0h0m4 0h0m2 0h0m6 0h0M249 246h0m31 0h0m2 0h0m17 0h0m30 0h0m16 0h0m11 0h1M239 247h0m31 0h0m29 0h0m22 0h0m18 0h0m6 0h0m143 0h0M69 248h0m152 0h2m16 0h0m6 0h0m13 0h1m6 0h0m2 0h0m28 0h1m19 0h0m26 0h0M216 249h1m4 0h1m2 0h0m14 0h0m3 0h0m2 0h0m13 0h0m2 0h2m9 0h0m13 0h0m2 0h0m3 0h0m15 0h0m15 0h1m15 0h0m2 0h1m7 0h0M224 250h0m17 0h0m2 0h0m13 0h2m5 0h0m8 0h0m5 0h0m4 0h0m19 0h0m18 0h0m5 0h0M219 251h0m5 0h1m14 0h0m19 0h0m30 0h0m11 0h0m12 0h0m3 0h0m9 0h0m17 0h0M224 252h0m23 0h0m6 0h0m16 0h1m2 0h0m17 0h0m9 0h0m2 0h0m19 0h1M224 253h1m13 0h0m9 0h0m5 0h0m4 0h0m12 0h0m4 0h0m18 0h1m2 0h0m9 0h0m6 0h0m11 0h0m11 0h0M87 254h0m135 0h0m7 0h0m21 0h1m6 0h0m2 0h1m3 0h0m4 0h0m9 0h0m13 0h0m5 0h0m3 0h0m23 0h0M227 255h0m6 0h0m3 0h0m2 0h0m8 0h0m11 0h0m34 0h0m3 0h1m26 0h0M226 256h1m14 0h0m6 0h0m3 0h0m7 0h0m9 0h0m2 0h0m29 0h0m19 0h0M236 257h0m7 0h0m15 0h0m13 0h0m3 0h0m22 0h0m11 0h0M224 258h1m2 0h0m67 0h0m13 0h0m13 0h0M226 259h1m11 0h0m10 0h0m60 0h0m10 0h0M229 260h0m7 0h0m5 0h0m38 0h0m9 0h1m4 0h0m5 0h0M238 261h0m65 0h0M279 262h0m5 0h0m8 0h0m15 0h0M278 263h0m11 0h0m3 0h0M113 266h0m165 0h0m15 0h0M278 275h0M277 276h0M276 278h0M276 279h0m3 0h0m5 0h0M292 293h0M279 295h0m16 0h0M280 296h0M283 297h0m9 0h0M264 299h0m19 0h0m12 0h0M271 300h0m22 0h0M292 301h0M269 302h0m21 0h0M269 303h0m3 0h0m10 0h0M269 304h0m9 0h0m7 0h0m5 0h0M285 305h0M275 308h0M285 309h0M255 310h0m19 0h0M254 316h0M285 318h0M269 319h0M277 322h0m2 0h0M260 323h0m3 0h0m4 0h0m2 0h0M278 324h0M269 325h0M264 326h0M268 327h2"/><path stroke="#01b9c6" d="M165 21h0M239 22h0M162 30h1M165 38h0M161 39h0M186 41h0M161 44h1M163 47h0M165 49h0m17 0h0M213 51h0m3 0h0M236 56h0m60 0h0M170 61h0m169 0h0M193 62h0M192 63h0M298 67h0m20 0h0m59 0h0m25 0h0M317 68h0M253 69h0M229 70h0m48 0h0m13 0h0M303 71h0m100 0h0M503 72h0M273 74h0M297 75h0M292 76h0m167 0h0M285 78h0M313 79h0m152 0h0M259 80h0m120 0h0m92 0h0M147 81h0m114 0h0m138 0h0M210 82h0m180 0h0M293 83h0M417 87h0m50 0h0M418 88h0m8 0h0M144 89h0m108 0h0m179 0h0M269 90h0m170 0h0M427 91h1M239 92h0M444 94h0M144 95h0m298 0h0m3 0h1M443 96h2m2 0h0M354 98h0M462 99h0M140 100h0m148 0h0m142 0h0m9 0h0m22 0h1M472 101h0M430 102h0m8 0h1m40 0h0M370 104h0M445 105h0M284 107h0m26 0h0m155 0h0M477 108h0m9 0h0m4 0h0M286 109h1m137 0h0m18 0h0m19 0h0m10 0h0M143 110h0m285 0h0M152 111h0M433 112h1M431 113h0m29 0h0M442 114h0m6 0h0M254 115h0m47 0h0m141 0h0m37 0h0M454 116h0m50 0h0M360 118h0M296 119h0m68 0h0m11 0h0M285 120h0m103 0h0M198 121h0m241 0h0m47 0h0m2 0h0M199 122h0m163 0h0m134 0h0M291 123h0m67 0h0m92 0h0m46 0h0M373 124h0m78 0h0m10 0h0m11 0h0m29 0h0M448 125h0m3 0h0m42 0h1M459 126h0M152 127h0m279 0h0m23 0h0m3 0h1m16 0h0m6 0h0M134 128h0m164 0h0m122 0h0m30 0h0m8 0h0M122 129h0m71 0h1m95 0h0m138 0h0m22 0h1m25 0h0M117 130h0m172 0h0m160 0h0m27 0h0m2 0h0M443 131h0m7 0h0m26 0h0m2 0h1M443 132h0m25 0h0m8 0h1m2 0h0M138 133h0m266 0h0m8 0h1m41 0h0m12 0h0m11 0h1m16 0h0M111 134h0m301 0h0m16 0h0m12 0h0m4 0h0m7 0h0m17 0h0m11 0h0M410 135h0m19 0h0m10 0h0m14 0h0m26 0h0M56 136h0m52 0h0m281 0h0m47 0h0m3 0h1m40 0h0m2 0h0M55 137h1m53 0h0m146 0h0m108 0h0m50 0h0m31 0h1m7 0h0m3 0h0m26 0h0M59 138h0m49 0h0m2 0h0m186 0h0m56 0h0m62 0h0m19 0h0m3 0h1M62 139h0m53 0h0m12 0h0m16 0h0m159 0h0m57 0h0m73 0h0m4 0h0m6 0h0m2 0h0m13 0h0m32 0h0M51 140h1m49 0h0m332 0h0m3 0h0m7 0h0m3 0h1m7 0h0m17 0h0M51 141h0m47 0h3m3 0h1m3 0h0m324 0h0m3 0h0m19 0h1M53 142h1m14 0h0m2 0h1m28 0h0m2 0h0m22 0h0m234 0h0m62 0h0m15 0h0m13 0h0m27 0h0M61 143h0m9 0h0m3 0h0m2 0h0m25 0h0m30 0h0m164 0h0m6 0h0m90 0h0m43 0h0m14 0h0m9 0h0M56 144h0m11 0h0m4 0h0m29 0h1m4 0h0m14 0h0m312 0h0m15 0h0m2 0h0m2 0h2m4 0h0m15 0h1M57 145h0m34 0h0m2 0h0m10 0h0m2 0h0m7 0h1m4 0h1m272 0h1m24 0h0m35 0h1m2 0h0m19 0h0m9 0h0M57 146h1m2 0h0m15 0h0m5 0h0m10 0h0m4 0h0m9 0h0m2 0h0m9 0h0m2 0h0m275 0h1m35 0h0m18 0h0m2 0h1m2 0h0m2 0h0m3 0h0m5 0h0m6 0h0m14 0h0M57 147h1m18 0h0m6 0h1m10 0h0m9 0h0m4 0h0m9 0h0m38 0h1m201 0h0m5 0h0m23 0h2m59 0h0m7 0h0m3 0h0m12 0h0M59 148h0m4 0h0m11 0h0m3 0h0m6 0h0m7 0h3m18 0h0m4 0h1m19 0h0m26 0h0m199 0h1m21 0h2m2 0h0m77 0h0m14 0h1M73 149h0m6 0h1m12 0h0m6 0h0m16 0h0m3 0h1m19 0h0m223 0h0m24 0h0m2 0h0m59 0h0m12 0h0m8 0h0m2 0h0M71 150h0m4 0h3m23 0h0m10 0h0m33 0h0m239 0h0m4 0h0m70 0h0M68 151h0m4 0h0m5 0h0m17 0h1m2 0h0m10 0h1m2 0h0m311 0h0m25 0h0m6 0h0m4 0h0m11 0h0M59 152h0m14 0h0m24 0h1m9 0h0m18 0h0m20 0h0m170 0h0m38 0h0m55 0h0m36 0h0m5 0h1m18 0h0M73 153h0m2 0h0m2 0h1m2 0h0m20 0h1m7 0h0m313 0h0m6 0h0m20 0h1m7 0h1m2 0h0m10 0h1M83 154h0m11 0h0m8 0h0m2 0h0m20 0h1m248 0h1m46 0h0m2 0h0m2 0h0m2 0h0m28 0h0m3 0h1m10 0h0M100 155h0m3 0h0m3 0h1m173 0h0m5 0h0m87 0h0m50 0h0m21 0h0M69 156h0m5 0h0m18 0h0m2 0h1m16 0h0m14 0h0m304 0h0m28 0h1M73 157h0m4 0h0m4 0h0m13 0h0m2 0h0m9 0h0m6 0h0m17 0h0m123 0h0m191 0h0m4 0h1m14 0h0M69 158h0m20 0h2m2 0h1m2 0h0m2 0h0m9 0h0m3 0h0m15 0h1m3 0h0m245 0h0m62 0h0m16 0h0m8 0h0M69 159h2m14 0h0m2 0h0m36 0h0m3 0h0m3 0h0m242 0h0m26 0h0m12 0h0m29 0h0m14 0h0m5 0h1M60 160h0m8 0h1m3 0h1m18 0h0m4 0h0m14 0h1m6 0h0m5 0h0m7 0h2m41 0h0m143 0h0m96 0h1m12 0h0m10 0h0m13 0h0m2 0h1m5 0h0m2 0h1M68 161h0m2 0h0m27 0h1m15 0h0m8 0h0m3 0h1m3 0h1m2 0h0m216 0h0m4 0h0m48 0h0m2 0h0m8 0h0m26 0h0m12 0h1m8 0h0m4 0h0m3 0h0M67 162h1m18 0h0m10 0h0m15 0h0m15 0h0m4 0h0m200 0h0m48 0h0m25 0h0m30 0h0m13 0h0m11 0h0m6 0h0M63 163h0m5 0h0m3 0h0m3 0h0m3 0h0m15 0h0m2 0h0m15 0h0m9 0h0m276 0h2m63 0h1M65 164h1m4 0h0m29 0h0m13 0h0m7 0h0m12 0h0m217 0h0m75 0h0m5 0h1m5 0h0m2 0h1m3 0h0m4 0h1m17 0h0M65 165h0m7 0h0m6 0h0m21 0h1m12 0h1m2 0h0m4 0h1m11 0h0m119 0h0m178 0h0m10 0h1m2 0h1m2 0h0m9 0h0m2 0h0M62 166h0m11 0h0m2 0h0m25 0h0m8 0h0m2 0h0m3 0h0m2 0h0m150 0h0m42 0h0m117 0h0m13 0h0m4 0h2m2 0h0m16 0h0M63 167h0m2 0h0m15 0h0m6 0h0m2 0h0m9 0h0m3 0h0m13 0h0m6 0h0m232 0h0m69 0h0m19 0h0m5 0h0m3 0h0m6 0h0m4 0h1M61 168h1m2 0h2m2 0h0m4 0h0m16 0h0m2 0h0m151 0h0m191 0h0m11 0h0m12 0h2m4 0h0M60 169h0m2 0h0m6 0h0m18 0h0m24 0h1m9 0h0m156 0h0m126 0h0m49 0h0m3 0h0m4 0h0m2 0h0M58 170h0m3 0h0m4 0h0m3 0h0m324 0h0m14 0h0m32 0h0m22 0h0M60 171h0m3 0h0m5 0h0m9 0h0m61 0h0m116 0h0m49 0h0m8 0h0m88 0h0m40 0h1m12 0h1M62 172h2m9 0h0m3 0h0m9 0h0m2 0h0m21 0h1m7 0h0m17 0h0m5 0h0m288 0h0m15 0h0m11 0h0m12 0h1M62 173h0m2 0h0m11 0h0m11 0h0m20 0h0m28 0h1m178 0h0m84 0h0m55 0h0m12 0h0M80 174h0m6 0h0m6 0h0m17 0h0m120 0h0m138 0h0m29 0h0m57 0h0M70 175h0m9 0h0m6 0h0m27 0h0m10 0h0m129 0h0m185 0h0m12 0h0M64 176h0m342 0h1m23 0h0m19 0h0M60 177h0m9 0h0m5 0h0m37 0h0m2 0h0m3 0h0m22 0h0m5 0h1m139 0h0m139 0h0m25 0h0M67 178h0m5 0h0m10 0h0m21 0h1m11 0h0m7 0h0m9 0h0m31 0h0m254 0h0m49 0h0M58 179h1m9 0h0m4 0h0m55 0h1m7 0h1m304 0h0M58 180h0m4 0h1m21 0h0m16 0h1m22 0h0m4 0h0m8 0h0m248 0h0m30 0h1m7 0h0m15 0h0m3 0h1M54 181h0m10 0h0m33 0h0m25 0h0m8 0h0m4 0h0m5 0h1m231 0h0m68 0h0m4 0h0m5 0h0M93 182h0m5 0h0m4 0h0m13 0h0m13 0h0m2 0h0m2 0h0m10 0h0m299 0h1m7 0h2m3 0h0M51 183h0m3 0h0m2 0h1m26 0h2m8 0h0m8 0h0m39 0h1m11 0h0m215 0h0m42 0h0m9 0h0m30 0h0m2 0h0m4 0h0m2 0h0M50 184h2m6 0h0m11 0h0m10 0h1m7 0h1m5 0h0m9 0h1m2 0h0m23 0h0m13 0h0m10 0h0m234 0h0m24 0h1m38 0h0m6 0h1M51 185h0m3 0h0m4 0h0m5 0h0m11 0h0m7 0h0m6 0h0m2 0h0m7 0h0m4 0h1m21 0h0m3 0h0m2 0h0m3 0h1m303 0h0m5 0h0m10 0h0m2 0h0m2 0h1M56 186h0m4 0h0m3 0h1m4 0h0m6 0h0m2 0h0m4 0h0m25 0h0m17 0h1m11 0h0m4 0h0m2 0h0m2 0h0m4 0h0m287 0h0m2 0h0m6 0h0m9 0h0m2 0h0m3 0h0M49 187h0m3 0h1m2 0h0m2 0h0m13 0h0m6 0h0m3 0h0m3 0h1m10 0h0m15 0h1m3 0h0m2 0h1m15 0h0m9 0h0m2 0h1m7 0h0m235 0h0m50 0h1M52 188h0m4 0h0m6 0h0m13 0h1m8 0h0m9 0h0m2 0h0m16 0h1m3 0h0m14 0h0m2 0h1m14 0h0m2 0h1M50 189h0m12 0h0m8 0h0m2 0h0m13 0h0m2 0h0m29 0h0m241 0h0m56 0h0m24 0h0m12 0h0M48 190h1m2 0h0m7 0h0m6 0h0m9 0h0m4 0h0m8 0h0m29 0h0m2 0h0m13 0h0m19 0h0m2 0h0m7 0h0m254 0h0m9 0h0M56 191h0m2 0h0m18 0h1m7 0h0m4 0h0m5 0h1m3 0h0m18 0h0m27 0h0m5 0h0m2 0h1m115 0h0m124 0h0m7 0h0m20 0h2M53 192h0m16 0h0m23 0h0m4 0h1m24 0h0m63 0h0m69 0h0m158 0h0m6 0h0M52 193h1m14 0h2m19 0h0m3 0h0m21 0h0m36 0h1m76 0h0m192 0h0m30 0h0m4 0h0m52 0h0M59 194h0m31 0h0m12 0h0m4 0h0m7 0h0m34 0h1m92 0h0m81 0h0m34 0h0m150 0h0M41 195h0m7 0h0m9 0h0m3 0h0m29 0h0m13 0h0m11 0h0m33 0h0m46 0h0m34 0h0m10 0h0m164 0h0m2 0h0m40 0h0M43 196h0m6 0h1m7 0h0m64 0h0m27 0h0m29 0h0m243 0h0m2 0h0m4 0h1m3 0h0M89 197h0m6 0h0m39 0h0m8 0h0m6 0h1m171 0h0M43 198h0m38 0h0m7 0h0m2 0h0m23 0h0m303 0h0m2 0h0m6 0h2m10 0h0m60 0h0m15 0h0M42 199h1m2 0h0m4 0h0m25 0h0m10 0h1m89 0h0m2 0h0m60 0h0m16 0h0m31 0h0m23 0h0m119 0h0m13 0h0M41 200h0m18 0h0m21 0h0m8 0h0m10 0h0m17 0h0m20 0h0m25 0h0m263 0h1m11 0h1M48 201h0m30 0h0m4 0h0m17 0h0m17 0h0m14 0h0m48 0h0m2 0h0m18 0h0m6 0h0m8 0h0m198 0h0m85 0h0M52 202h1m3 0h0m20 0h0m4 0h2m5 0h0m19 0h0m4 0h0m6 0h0m19 0h0m5 0h1m27 0h0m2 0h0m10 0h1m4 0h0m4 0h0m8 0h0m31 0h0m205 0h0M76 203h0m7 0h0m3 0h0m13 0h0m11 0h0m66 0h0m13 0h1m46 0h0M52 204h1m18 0h0m8 0h0m8 0h1m47 0h0m35 0h1m2 0h0m8 0h0m8 0h0m127 0h0m176 0h0M51 205h2m21 0h0m4 0h0m3 0h0m4 0h0m7 0h1m26 0h0m8 0h0m2 0h1m20 0h0m22 0h1m2 0h0m10 0h0m2 0h0m30 0h0m275 0h0M51 206h0m2 0h0m26 0h0m6 0h0m7 0h0m25 0h0m12 0h1m2 0h0m7 0h0m10 0h0m18 0h0m6 0h1m8 0h0m2 0h0m143 0h0m70 0h0m5 0h0m21 0h0m3 0h0m8 0h0m59 0h0m17 0h0M41 207h1m36 0h0m7 0h0m18 0h0m3 0h0m2 0h0m5 0h0m9 0h1m7 0h0m2 0h0m17 0h0m2 0h1m6 0h0m3 0h0m8 0h0m19 0h1m6 0h0m127 0h0m46 0h0m19 0h0m7 0h2m29 0h0m68 0h0M41 208h0m21 0h0m22 0h1m2 0h0m3 0h0m2 0h0m14 0h0m41 0h0m16 0h0m18 0h0m2 0h0m7 0h0m7 0h0m32 0h0m163 0h0m3 0h0m3 0h1m4 0h0m10 0h0m78 0h1M40 209h0m38 0h0m7 0h0m3 0h0m2 0h0m3 0h0m13 0h0m5 0h0m9 0h0m21 0h0m7 0h2m30 0h0m9 0h0m5 0h0m198 0h0m7 0h0M52 210h0m13 0h0m19 0h0m3 0h0m9 0h0m15 0h0m30 0h0m5 0h1m2 0h0m31 0h0m11 0h0m2 0h0m5 0h0m7 0h0m8 0h0m158 0h0m8 0h0m6 0h0m7 0h0m5 0h0m2 0h0m2 0h0m95 0h0M96 211h0m9 0h0m6 0h0m17 0h0m2 0h0m18 0h0m4 0h0m2 0h1m22 0h0m13 0h0m45 0h0m143 0h0m15 0h0m4 0h1m5 0h0m92 0h0M71 212h1m39 0h1m15 0h0m3 0h0m11 0h0m12 0h0m2 0h0m15 0h0m18 0h0m2 0h0m5 0h0m2 0h0m4 0h0m20 0h0m98 0h0m50 0h0m9 0h0m7 0h0m17 0h0m2 0h0m91 0h0M69 213h0m7 0h1m4 0h0m4 0h0m25 0h1m17 0h0m4 0h0m6 0h2m12 0h0m2 0h0m17 0h1m17 0h0m10 0h0m112 0h0m87 0h0m7 0h0m6 0h0m3 0h0M61 214h0m5 0h0m5 0h0m7 0h0m7 0h2m22 0h0m20 0h1m10 0h0m5 0h1m25 0h1m16 0h0m8 0h0m3 0h0m131 0h0m49 0h0m11 0h1m3 0h0m3 0h0m3 0h0m4 0h0m6 0h1m5 0h0m70 0h0m9 0h0M72 215h1m2 0h0m10 0h0m42 0h0m18 0h1m10 0h1m11 0h0m3 0h1m7 0h0m7 0h0m3 0h0m143 0h0m38 0h0m2 0h1m5 0h0m2 0h0m8 0h0m9 0h0m5 0h1m2 0h0m6 0h0M75 216h0m9 0h0m4 0h0m38 0h0m2 0h0m37 0h0m3 0h1m9 0h0m6 0h0m5 0h1m7 0h0m172 0h2m2 0h0m4 0h1m3 0h1m9 0h0m5 0h0m5 0h0m9 0h0m6 0h0m82 0h0M73 217h0m2 0h0m8 0h1m9 0h0m8 0h0m91 0h0m103 0h0m20 0h0m46 0h0m9 0h0m2 0h1m4 0h0m9 0h0m13 0h0m88 0h0m14 0h1M85 218h0m5 0h0m32 0h0m23 0h0m24 0h0m16 0h1m5 0h1m103 0h0m36 0h0m41 0h0m4 0h2m2 0h0m5 0h0m6 0h0m2 0h0m21 0h1M73 219h2m3 0h0m7 0h0m3 0h2m31 0h1m3 0h0m16 0h1m3 0h0m42 0h0m6 0h0m173 0h0m6 0h0m6 0h0m4 0h1m4 0h0m10 0h0m4 0h0m12 0h2M78 220h0m5 0h0m8 0h0m15 0h0m2 0h0m30 0h1m7 0h0m45 0h1m4 0h0m171 0h0m6 0h0m5 0h0m3 0h0m5 0h0m8 0h0m9 0h0m2 0h1m3 0h0m77 0h0m8 0h1M71 221h0m3 0h0m4 0h0m11 0h0m3 0h0m8 0h0m5 0h0m3 0h0m10 0h1m2 0h0m10 0h0m9 0h2m49 0h0m7 0h0m7 0h0m160 0h0m3 0h1m2 0h0m2 0h3m6 0h0m2 0h1m5 0h0m4 0h0m4 0h0m16 0h0M61 222h0m28 0h0m2 0h1m4 0h0m10 0h2m9 0h2m2 0h0m8 0h0m208 0h0m10 0h0m18 0h0m2 0h1m4 0h0m4 0h0m8 0h2m5 0h0m6 0h1m98 0h0m4 0h0M61 223h0m28 0h2m7 0h1m4 0h1m18 0h0m9 0h0m17 0h0m2 0h0m218 0h1m2 0h0m4 0h0m2 0h0m7 0h2m3 0h1m2 0h0m3 0h1m6 0h0m5 0h0m7 0h0m87 0h0M80 224h0m8 0h0m4 0h0m24 0h1m2 0h0m3 0h0m24 0h0m2 0h0m17 0h0m200 0h0m14 0h0m4 0h0m2 0h0m6 0h0m3 0h0m13 0h1m5 0h1m2 0h0M63 225h0m16 0h1m2 0h0m3 0h0m2 0h0m11 0h0m3 0h0m3 0h0m3 0h0m2 0h0m7 0h0m2 0h1m4 0h1m18 0h0m6 0h0m3 0h0m93 0h0m92 0h1m5 0h0m22 0h2m9 0h0m6 0h0m5 0h0M63 226h0m21 0h1m2 0h0m28 0h0m7 0h0m23 0h0m15 0h0m11 0h0m15 0h0m4 0h0m80 0h0m52 0h0m30 0h0m2 0h0m21 0h0m7 0h0m2 0h0m20 0h0m90 0h0m3 0h0M78 227h0m2 0h0m5 0h0m7 0h0m4 0h0m25 0h0m5 0h0m10 0h0m8 0h0m52 0h0m5 0h0m140 0h0m25 0h0m13 0h4m20 0h1m7 0h0m83 0h0M86 228h1m7 0h2m14 0h0m9 0h0m4 0h2m2 0h0m10 0h0m120 0h0m96 0h2m11 0h0m13 0h0m3 0h0m2 0h0m7 0h0m103 0h0M110 229h0m9 0h1m4 0h0m2 0h0m9 0h1m2 0h0m213 0h0m2 0h0m28 0h1m2 0h0m4 0h0m3 0h0m12 0h0m6 0h0m84 0h0M71 230h0m12 0h0m2 0h0m2 0h1m5 0h0m2 0h0m4 0h0m10 0h0m5 0h0m2 0h0m6 0h0m2 0h0m4 0h1m10 0h0m10 0h0m133 0h0m80 0h0m17 0h1m3 0h1m2 0h0m108 0h1M74 231h1m11 0h0m12 0h0m9 0h0m2 0h0m16 0h1m22 0h0m4 0h0m170 0h0m36 0h1m20 0h0m9 0h0m3 0h0m2 0h2m96 0h0M72 232h0m3 0h0m10 0h0m20 0h2m2 0h0m6 0h0m10 0h1m24 0h0m179 0h0m31 0h1m30 0h0m6 0h0m94 0h0m2 0h0M73 233h0m52 0h0m28 0h0m60 0h0m157 0h0m6 0h0m19 0h0m4 0h0m2 0h0m86 0h0m6 0h0M79 234h1m31 0h1m46 0h0m67 0h0m123 0h0m42 0h0m10 0h0m97 0h0M101 235h0m2 0h0m60 0h0m61 0h0m71 0h0m60 0h0M74 236h0m3 0h0m2 0h0m2 0h1m26 0h1m2 0h0m9 0h0m19 0h0m2 0h1m212 0h1m31 0h0m6 0h1m95 0h0m4 0h2M100 237h0m5 0h0m6 0h0m247 0h0m33 0h0m98 0h0m2 0h0M103 238h0m14 0h1m5 0h3m15 0h0m352 0h0m3 0h0M96 239h0m7 0h2m6 0h0m3 0h0m5 0h2m2 0h0m2 0h0m2 0h0m2 0h0m10 0h1m172 0h0m46 0h0M83 240h0m2 0h0m2 0h0m2 0h0m22 0h0m2 0h0m7 0h3m4 0h0m13 0h0m3 0h0m11 0h0m148 0h0m192 0h0M72 241h1m16 0h0m22 0h0m3 0h0m10 0h0m2 0h0m16 0h0m160 0h0M102 242h0m6 0h0m7 0h1m27 0h0M84 243h0m5 0h0m10 0h0m8 0h0m384 0h0M83 244h0m5 0h0m16 0h0m4 0h0M80 245h3m21 0h1m2 0h0m237 0h0M83 246h0m6 0h0m3 0h0m400 0h0M81 247h1m6 0h1m4 0h0m2 0h0m16 0h0m376 0h0m4 0h0M75 248h0m7 0h0m7 0h0m7 0h0m7 0h0m2 0h0m7 0h0M70 249h0m18 0h0m7 0h1m9 0h0m4 0h1M91 250h0m5 0h0m16 0h0M87 251h0m10 0h0m8 0h0m5 0h0m160 0h0M91 252h0m2 0h0m17 0h0m178 0h0m41 0h0M94 253h0m3 0h0m8 0h0m6 0h0M223 254h0M82 255h1m8 0h0M109 256h0m5 0h1M110 257h0M100 258h0m3 0h0m8 0h1M102 259h0m9 0h0m205 0h0M86 261h0m21 0h0M109 263h0M283 264h0M112 265h0M110 266h0m2 0h0M109 267h0M115 269h0m2 0h0M281 295h0M281 297h0M280 298h0M265 299h0m20 0h0M262 301h1m4 0h0m13 0h0M274 302h1m2 0h0m2 0h0m2 0h0M261 303h0m10 0h0m4 0h0m2 0h0m3 0h0m8 0h0M257 304h1m4 0h0m14 0h0M262 305h0M256 306h0m4 0h0m9 0h0m2 0h0m10 0h0m2 0h0M255 307h0m13 0h0m3 0h0m21 0h0M256 308h0m13 0h0m2 0h1m10 0h0m10 0h0M279 309h0m3 0h0M256 310h1m18 0h0m5 0h1M258 311h0m11 0h1m2 0h0m4 0h0m2 0h0M255 312h1m15 0h0m3 0h1m11 0h0M256 313h0m16 0h0M256 314h0m4 0h0m14 0h2m2 0h1m5 0h0m4 0h0M269 315h0m8 0h0m10 0h0M258 316h0m2 0h0m6 0h0m6 0h0m2 0h0M259 317h0m2 0h0m2 0h0m3 0h0m2 0h0m2 0h0m3 0h1M261 318h0m12 0h0m5 0h0m6 0h0M261 319h0m6 0h0m4 0h1M270 321h0m2 0h0m4 0h0m2 0h0m3 0h0M271 322h1M274 325h0"/><path stroke="#3e26a8" d="M196 44h1m98 0h0M195 45h0m95 0h0M289 46h0M192 50h0m43 0h0M190 51h0M193 52h0M194 55h0M198 56h0M196 57h0m84 0h0M231 59h0M229 60h1m59 0h0M226 62h0M253 65h1M254 67h0M384 68h0M337 69h0M268 70h0m88 0h1M274 71h0m75 0h1m36 0h0M470 73h0M302 74h0m41 0h0M291 75h0M491 77h0M248 78h0m256 0h0M241 79h0m53 0h0M148 81h0m141 0h0M247 82h0M212 83h0M249 84h0m212 0h1M278 85h0m183 0h0m3 0h0M294 86h0M288 87h0M405 88h0M281 90h0m5 0h0m119 0h0m50 0h0M455 91h0M283 92h0m22 0h0m149 0h0M297 93h0m2 0h1M298 95h0M130 97h0m147 0h0m18 0h0M276 98h0m19 0h1M259 99h0m101 0h0M283 100h0m7 0h1M274 101h0M255 102h0m35 0h0M278 104h0M277 105h0m2 0h0m2 0h0M268 107h0M260 108h0m13 0h1m142 0h0M277 110h0m73 0h0m3 0h0m141 0h0M136 111h0m316 0h0M265 112h0m18 0h0m172 0h0M155 113h0m112 0h0m81 0h0m9 0h0M365 114h1M366 115h1M283 116h0m79 0h0m5 0h1m95 0h0M124 117h0m151 0h0m9 0h0m68 0h0m78 0h0m68 0h0M217 118h0m47 0h0m6 0h0m41 0h0m51 0h0m19 0h0M219 121h0m134 0h0M289 122h0M221 123h0m44 0h0m76 0h0m4 0h0M266 124h0M211 125h0m54 0h1m20 0h0M212 126h0m75 0h0M211 127h0m53 0h0m23 0h1M211 128h0m54 0h0m102 0h0M205 130h1m95 0h0M142 131h0M301 132h0m172 0h0M160 133h0m221 0h0M160 134h0m10 0h0m132 0h0m17 0h0m62 0h0M392 136h0M154 137h0M395 138h1M286 139h0M282 140h0m2 0h2m112 0h0M284 141h2m2 0h0M240 142h0m43 0h2M256 143h0m28 0h0m88 0h0M257 144h0m184 0h0M260 145h0m43 0h0M256 146h0m47 0h0m2 0h0m18 0h0M483 148h0M129 149h0m38 0h0M300 150h0m39 0h0M360 152h0M343 154h0M303 155h0m40 0h1M226 156h0m178 0h0M253 157h0M239 158h0M239 159h0M240 160h0M260 161h0M355 162h0M356 163h0M212 164h0m140 0h0M215 165h0m55 0h1m101 0h0M365 166h0M325 167h0M274 168h0m49 0h0m2 0h0M324 169h0M272 170h0m103 0h0M356 171h1m19 0h0m8 0h0M340 172h0m35 0h3M322 173h0m53 0h2M291 174h0m30 0h1m3 0h0m43 0h0M257 175h0m57 0h0m9 0h1m76 0h1M462 176h0M291 177h0M232 179h0m59 0h0m140 0h0M382 180h0M251 182h0M236 183h0M250 184h0m23 0h0m86 0h0m8 0h1M366 185h2M364 186h3M364 187h0M365 188h0M303 189h0M302 190h0m6 0h0m53 0h0M302 191h0M348 193h0m160 0h0M256 194h0m131 0h0M249 195h0m10 0h0m74 0h0m77 0h0M272 196h0m92 0h0M220 197h0M271 199h0m223 0h0m9 0h0M316 200h0m7 0h0m54 0h0M310 201h0M288 202h0m215 0h0M292 205h1m18 0h1m184 0h0M502 206h0M300 207h0m12 0h0M263 210h0m26 0h0m56 0h0M274 211h0M244 212h0m29 0h0m12 0h0m3 0h0M244 213h0m44 0h0m15 0h0m6 0h0m16 0h0M304 214h0M301 215h1m3 0h0m16 0h0m2 0h0M322 216h0m2 0h0M344 217h0M243 219h0M217 220h0M295 223h0M178 224h0M178 225h0M308 234h0M276 237h0m4 0h0m2 0h0m3 0h0M280 239h1m206 0h0M283 240h0M281 241h1M329 242h0M261 243h0M286 244h0m13 0h0M299 245h0M227 246h0m70 0h0M238 248h0M220 249h0m3 0h0m16 0h1m100 0h0M221 250h1m17 0h0m29 0h0m72 0h0M260 251h0m8 0h0M256 254h0M246 256h0m19 0h0M231 257h0m15 0h1m18 0h0m30 0h0M226 258h0m70 0h0M225 259h0m70 0h0M226 260h0M274 261h0m15 0h0M275 277h0M283 278h0"/><path stroke="#2bc3a8" d="M164 23h0M163 31h0M162 32h1M162 38h1M186 39h0M289 44h0M183 45h0M163 50h0M150 63h0M491 67h0M285 68h0m196 0h0M483 69h0m2 0h0M226 71h0M399 72h0M256 75h0M402 76h0M156 78h0M258 79h0m118 0h0m94 0h0M301 80h0M420 88h0M467 90h0M284 98h0m148 0h0m40 0h0M410 99h0M432 100h0m6 0h0m2 0h0m33 0h0M440 101h1m2 0h0M440 102h0M238 103h0m130 0h0m34 0h0M444 104h0m27 0h0M437 105h0M250 106h0M299 107h0m150 0h0M384 110h0M126 111h0M461 112h0m31 0h0M415 113h0m65 0h0M436 114h0M503 115h0M437 116h0M258 119h0m221 0h0M156 120h0M443 121h0M159 123h0m320 0h0M117 124h0m335 0h0M118 125h0m331 0h1M116 126h0M118 127h0m320 0h0M302 128h0m106 0h0m60 0h0M192 129h0m289 0h0M491 130h0M124 131h0m41 0h0m279 0h0M478 132h0M429 133h0m9 0h0m2 0h0M429 134h0m23 0h0M451 135h0M295 136h0m143 0h0m6 0h0m22 0h0M108 137h0m306 0h0M58 138h0m402 0h0M458 139h0m8 0h0M102 140h0m310 0h0M52 141h0m59 0h0m337 0h0M52 142h0m50 0h0m3 0h0m331 0h0m12 0h0m31 0h0M52 143h0m2 0h0M50 144h0m4 0h1m25 0h0m8 0h0m15 0h0m329 0h0m26 0h0m20 0h0M54 145h0m2 0h0m20 0h0m2 0h1m9 0h0m12 0h1m172 0h0m184 0h0m3 0h0M77 146h1m3 0h0m2 0h0m30 0h0m153 0h0m27 0h0m141 0h0m17 0h0m3 0h0m3 0h1m19 0h0M74 147h0m4 0h0m35 0h0m159 0h0m47 0h0m130 0h0m8 0h0m7 0h0M60 148h0m15 0h0m23 0h0m16 0h0m22 0h1m102 0h0m182 0h0m30 0h0m7 0h0M75 149h1m15 0h0m5 0h1m12 0h0m3 0h0m10 0h0m328 0h0m4 0h2m5 0h0m2 0h1M95 150h0m3 0h0m6 0h0m3 0h0m5 0h0m273 0h0m59 0h0m2 0h0m4 0h0M69 151h0m5 0h2m27 0h0m9 0h1m11 0h0m330 0h1m2 0h0M72 152h0m6 0h0m23 0h2m10 0h0m273 0h0m34 0h0m5 0h0m20 0h0m3 0h0M70 153h1m8 0h0m4 0h0m20 0h0m9 0h0m314 0h0m20 0h0m7 0h1m3 0h0M74 154h0m7 0h0m18 0h1m252 0h0m96 0h0m5 0h0M73 155h0m31 0h0m366 0h0m2 0h0M104 156h0m324 0h0M89 157h2m15 0h0m6 0h0m17 0h0m217 0h0m109 0h0M72 158h1m12 0h1M60 159h0m24 0h0m8 0h0m6 0h0m7 0h0m20 0h0m3 0h0m290 0h0m15 0h0m6 0h0M96 160h2m13 0h0m13 0h0m2 0h1m5 0h0m266 0h1m48 0h0m13 0h0M69 161h0m4 0h0m17 0h2m3 0h0m362 0h0M60 162h2m19 0h0m6 0h0m4 0h0m7 0h0m14 0h0m11 0h1m110 0h0m194 0h0m30 0h2M62 163h0m3 0h0m13 0h0m34 0h0m10 0h0m2 0h0m130 0h0m191 0h0M63 164h0m10 0h1m4 0h0m17 0h0m13 0h0m10 0h0m12 0h0m245 0h0m29 0h0m38 0h0m15 0h0M73 165h1m27 0h0m16 0h0m123 0h0m42 0h0m155 0h0M59 166h2m3 0h1m11 0h0m12 0h0m11 0h0m3 0h0m12 0h0m2 0h0m2 0h1m214 0h0m111 0h0m15 0h0M62 167h0m2 0h0m23 0h0m14 0h0m14 0h1m340 0h0M63 168h0m6 0h0m7 0h0m3 0h0m22 0h1m12 0h0m309 0h0M65 169h0m2 0h0m34 0h0m13 0h0M60 170h0m24 0h0m7 0h0m196 0h0m141 0h0m30 0h0M62 171h0m5 0h0m7 0h0m211 0h0m77 0h0m96 0h0m2 0h0M61 172h0m66 0h0m269 0h0m60 0h0M63 173h0m16 0h1m2 0h0m26 0h0m2 0h0M56 174h0m51 0h1m130 0h0M80 175h0m6 0h0m3 0h0m259 0h0m34 0h0m33 0h0M71 176h0m2 0h0m12 0h0m58 0h0M58 177h1m12 0h0m14 0h0m27 0h0m30 0h0m275 0h0m29 0h0M58 178h0m3 0h0m23 0h0m2 0h0m19 0h0m3 0h0m55 0h0m11 0h0m273 0h0M86 179h0m8 0h1m2 0h0m12 0h0m20 0h0m2 0h0m333 0h0M55 180h0m40 0h2m296 0h0m22 0h0m44 0h0M58 181h0m34 0h0m7 0h1m2 0h0m14 0h0m8 0h0m5 0h0m312 0h0M55 182h0m30 0h1m8 0h0m3 0h0m30 0h0m2 0h0m11 0h0m164 0h0m119 0h0m17 0h0m12 0h0M80 183h0m15 0h0m22 0h0m10 0h1m23 0h0m46 0h0m214 0h0m33 0h0m5 0h0m6 0h0M53 184h0m3 0h0m4 0h0m2 0h0m2 0h1m2 0h1m14 0h0m3 0h0m10 0h0m5 0h0m16 0h0m6 0h0m16 0h1m13 0h0m93 0h0m148 0h0m57 0h1M50 185h0m2 0h0m4 0h0m28 0h0m2 0h0m7 0h0m4 0h0m8 0h0m16 0h0m7 0h1m12 0h0m3 0h0m293 0h1m12 0h0m2 0h0M50 186h1m7 0h0m17 0h0m6 0h0m3 0h0m8 0h1m7 0h0m32 0h0m5 0h0m6 0h0m36 0h0m199 0h0m59 0h0M50 187h0m6 0h0m2 0h0m17 0h0m5 0h0m12 0h0m2 0h0m3 0h0m25 0h1m9 0h1m5 0h0m301 0h0M50 188h0m27 0h0m36 0h0m4 0h0m2 0h0m3 0h0m17 0h1m278 0h0M45 189h0m3 0h0m4 0h0m17 0h0m10 0h0m16 0h1m18 0h0m4 0h0m11 0h1m18 0h0m2 0h0m242 0h0m18 0h0M47 190h0m3 0h0m5 0h0m21 0h0m2 0h0m2 0h0m15 0h0m20 0h0m4 0h0m2 0h1m4 0h0m4 0h0m2 0h0m10 0h0m7 0h0M42 191h0m13 0h0m27 0h0m13 0h1m20 0h0m275 0h0m29 0h0M79 192h0m5 0h0m2 0h0m2 0h0m3 0h0m9 0h0m49 0h0m254 0h0m15 0h0M54 193h0m3 0h1m24 0h0m3 0h0m7 0h1m7 0h0m268 0h1m49 0h1m85 0h0M91 194h0m10 0h0m7 0h0m343 0h0M92 195h0m31 0h0m25 0h0m54 0h0m38 0h0M70 196h0m13 0h0m5 0h0m4 0h0m21 0h0m38 0h0m76 0h0m93 0h0M113 197h0M104 198h0m8 0h0m21 0h2m42 0h0M80 199h0m6 0h0m2 0h0m48 0h0m3 0h0m20 0h0m265 0h0M42 200h0m34 0h0m6 0h0m17 0h0m35 0h0m2 0h0m50 0h0m164 0h0M53 201h0m4 0h0m27 0h1m30 0h0m67 0h0m198 0h0m56 0h0M74 202h0m4 0h1m7 0h0m7 0h0m2 0h0m12 0h0m8 0h0m15 0h1m2 0h1m8 0h0m25 0h0m6 0h0m94 0h0M77 203h0m2 0h0m6 0h0m4 0h0m27 0h0m13 0h1m24 0h0m16 0h0m7 0h0m3 0h0m2 0h0m3 0h0m56 0h0m262 0h0M51 204h0m27 0h0m4 0h0m3 0h0m5 0h0m12 0h0m2 0h0m13 0h0m2 0h0m9 0h0m2 0h0m54 0h2m2 0h0m89 0h0M77 205h0m41 0h0m21 0h0m5 0h0m17 0h0m13 0h0m5 0h0m3 0h0m25 0h0m298 0h0M62 206h0m15 0h0m30 0h0m11 0h0m38 0h0m10 0h0m3 0h1m19 0h0m300 0h0m3 0h0M40 207h0m37 0h0m12 0h1m14 0h0m13 0h0m45 0h0m4 0h1m3 0h0m4 0h0m16 0h1m298 0h0m2 0h1M75 208h1m10 0h0m9 0h0m9 0h0m8 0h0m50 0h0m4 0h1m13 0h0m6 0h1m2 0h0m5 0h0m92 0h0m80 0h0m34 0h1m93 0h0M37 209h0m38 0h2m9 0h0m3 0h0m19 0h0m4 0h0m51 0h0m20 0h0m4 0h0m8 0h3m22 0h0m163 0h1m11 0h0m103 0h0M89 210h0m4 0h0m12 0h1m3 0h0m3 0h0m44 0h0m26 0h0m7 0h1m2 0h0m4 0h1m167 0h0m23 0h0m104 0h0m2 0h0M78 211h0m26 0h0m42 0h0m7 0h0m17 0h0m19 0h0m7 0h0m2 0h2m196 0h0m4 0h0m15 0h0M78 212h0m50 0h0m21 0h0m3 0h0m2 0h0m23 0h0m17 0h0m155 0h0m26 0h0m20 0h0m34 0h0m67 0h0M74 213h0m5 0h0m7 0h0m17 0h0m6 0h0m11 0h0m21 0h1m37 0h0m9 0h0m4 0h0m4 0h2m2 0h1m177 0h0m107 0h0M83 214h1m57 0h0m13 0h0m3 0h0m7 0h0m14 0h0m5 0h0m7 0h0m8 0h0m177 0h1m2 0h0m18 0h0m3 0h0m3 0h0m91 0h0M74 215h0m14 0h0m15 0h0m4 0h0m57 0h2m12 0h0m5 0h0m5 0h0m2 0h1m6 0h0m49 0h0m14 0h0m111 0h0m3 0h1m18 0h1m4 0h1m10 0h0m3 0h0m74 0h1m2 0h0m6 0h0M74 216h0m11 0h1m3 0h0m22 0h0m25 0h1m18 0h1m2 0h0m9 0h0m4 0h0m2 0h0m14 0h0m15 0h0m83 0h0m82 0h0m31 0h1m5 0h0M74 217h0m12 0h2m7 0h1m49 0h0m24 0h1m5 0h1m8 0h0m2 0h0m3 0h1m186 0h0m7 0h1m104 0h0m9 0h0M110 218h0m56 0h0m2 0h0m3 0h1m12 0h0m4 0h2m170 0h0m21 0h0m9 0h0m8 0h0m90 0h0M84 219h0m11 0h0m43 0h0m52 0h0m2 0h0m113 0h0m63 0h0m17 0h1m7 0h1m5 0h0m17 0h0m89 0h0M85 220h0m25 0h0m8 0h0m3 0h0m19 0h0m27 0h0m198 0h1m11 0h0m3 0h0m12 0h0M83 221h0m3 0h0m20 0h0m4 0h0m7 0h0m3 0h0m13 0h0m253 0h0m14 0h1m86 0h0m8 0h0m3 0h0M87 222h0m13 0h0m11 0h0m20 0h1m68 0h0m166 0h0m8 0h1m12 0h0m28 0h0m86 0h0M60 223h0m14 0h0m7 0h0m11 0h1m18 0h0m253 0h0m2 0h0m4 0h0m4 0h0m9 0h0m4 0h0m28 0h1M61 224h0m37 0h0m3 0h0m2 0h1m4 0h0m5 0h1m4 0h0m2 0h0m27 0h0m198 0h0m24 0h0m6 0h0m6 0h0m5 0h0m6 0h0m5 0h0m5 0h0m13 0h0m72 0h0m11 0h1M81 225h0m8 0h0m21 0h0m4 0h0m3 0h0m3 0h0m19 0h0m168 0h0m45 0h0m15 0h0m9 0h0m9 0h0m2 0h0m15 0h0m2 0h0m83 0h0m11 0h1M72 226h0m16 0h0m7 0h1m4 0h0m6 0h0m3 0h1m6 0h0m2 0h0m26 0h0m223 0h0m14 0h0m2 0h0m18 0h0m87 0h0M87 227h0m6 0h0m2 0h0m2 0h0m3 0h0m6 0h0m2 0h0m2 0h0m2 0h0m4 0h0m209 0h0m77 0h0m91 0h0M84 228h1m8 0h0m4 0h0m15 0h1m13 0h0m2 0h0m10 0h0m242 0h0m10 0h0m11 0h0m2 0h1m89 0h0M86 229h0m9 0h0m9 0h0m10 0h1m8 0h0m2 0h0m2 0h1m11 0h0m27 0h0m213 0h0m10 0h1M75 230h0m11 0h0m32 0h0m8 0h1m8 0h0m17 0h0m229 0h0m7 0h1m2 0h1m11 0h0m2 0h0m4 0h0m81 0h1M90 231h0m2 0h0m2 0h0m11 0h0m255 0h0m37 0h0m88 0h0m5 0h0M86 232h0m292 0h0m15 0h0m5 0h0m94 0h0m5 0h0M79 233h0m19 0h0m13 0h0m281 0h0m8 0h0M98 234h0m3 0h0m2 0h0m5 0h0m14 0h0m2 0h1m254 0h0m113 0h1M95 235h1m43 0h0m254 0h0m97 0h0m2 0h0M80 236h0m15 0h0m12 0h0m19 0h2m189 0h0M79 237h0m16 0h0m13 0h1m19 0h0m227 0h0m37 0h0m100 0h0M79 238h0m2 0h0m14 0h0m9 0h0m4 0h0m3 0h0m381 0h0m2 0h0M85 239h0m9 0h0m12 0h0m18 0h0m18 0h0m2 0h0m349 0h0M82 240h0m4 0h0m8 0h0m16 0h0m15 0h0m19 0h0m345 0h1M83 241h0m13 0h0m2 0h0m5 0h0m4 0h0m3 0h0m2 0h0m32 0h0M77 242h0m23 0h0m14 0h0m14 0h0m122 0h0M72 243h0m29 0h0m2 0h0m5 0h1m3 0h0m380 0h0M72 244h1m9 0h0m21 0h0m6 0h0M110 245h1m244 0h0M93 246h1m9 0h0M90 248h0m4 0h0m7 0h0m3 0h0m5 0h0M89 249h0m10 0h0m2 0h0m3 0h0M84 250h0m6 0h0m5 0h0m11 0h0m2 0h1m2 0h0M90 251h2m10 0h0m4 0h0m2 0h1m2 0h0M110 253h0m205 0h0M107 254h1M107 255h1M104 256h0m3 0h0M101 257h0M101 258h1m7 0h0m212 0h0M97 260h0m3 0h1m3 0h0m4 0h1M98 261h4m2 0h1M98 262h0m8 0h0m2 0h1M286 296h0M283 298h0M265 300h0M289 301h0M263 302h0M263 303h0m20 0h0m10 0h0M265 304h0M265 305h0m2 0h0M263 306h0m5 0h0M264 307h1m14 0h0M259 308h0m20 0h0M256 309h1m2 0h0m9 0h0m2 0h0M258 310h0m11 0h0M277 311h0M254 312h0m15 0h0m4 0h0m5 0h1M257 313h0m8 0h0m6 0h0m2 0h0m3 0h0m2 0h0M257 314h0M258 315h0m8 0h0m6 0h0M261 316h0m2 0h2m8 0h0M258 317h0m13 0h0m6 0h0M262 318h0m13 0h0M267 320h0m15 0h0M271 321h0M267 322h0M268 325h0"/><path stroke="#4ccb83" d="M164 21h0M165 29h0M161 40h0M184 46h0M235 67h0m67 0h0M302 72h0M468 79h0M428 90h0M435 94h0M143 95h0M444 101h0M443 103h0M151 104h0m147 0h0M391 108h0M460 109h0M461 110h0M498 113h0M489 117h0M295 118h0M462 120h0M497 121h0M362 127h0M472 128h0M138 130h0m111 0h0m196 0h0M123 135h0m298 0h0m19 0h0m36 0h0M430 136h0m15 0h0M481 139h0M305 140h0M436 141h0M418 142h0M89 143h0m356 0h0m8 0h0m7 0h0M79 144h0m25 0h0M77 145h0m10 0h0m203 0h0m65 0h0m61 0h0m57 0h0M55 146h0m18 0h0m6 0h0m374 0h0M79 147h2m33 0h0m277 0h0m65 0h0M79 148h0m374 0h1M83 149h0m19 0h0m349 0h0M73 150h0m33 0h0m4 0h0m262 0h0m71 0h0m11 0h0M102 151h0m12 0h0m337 0h0m18 0h0M76 152h1m375 0h0m4 0h0m2 0h0M82 153h0m20 0h0M101 154h0M71 155h0m10 0h0m20 0h0m161 0h0m163 0h0M128 158h0m269 0h0m48 0h0M68 159h0m29 0h0m349 0h0M125 160h0M74 161h0m385 0h0M72 162h0m2 0h0m23 0h0m30 0h0m269 0h0M64 163h0m8 0h0M64 164h0m34 0h0m345 0h0m13 0h0M68 165h0m27 0h0M63 166h0m11 0h0m35 0h0m348 0h0M59 167h1m18 0h0m21 0h0m15 0h0m153 0h0M80 168h0M58 169h0m356 0h0M66 170h1m8 0h0M59 171h0m16 0h0m3 0h0m8 0h0m24 0h0m269 0h0M66 172h0m45 0h0m349 0h0m2 0h0M94 173h0m344 0h0M88 174h0m5 0h0m311 0h0M92 175h1M447 176h0M73 177h0m32 0h1m8 0h0M59 178h0M96 179h0m4 0h0m23 0h1m209 0h0M98 180h0m23 0h0m4 0h1M95 181h1m35 0h0m309 0h0M87 182h0m12 0h0m2 0h0m15 0h0m15 0h0M99 183h0m15 0h1m14 0h0m10 0h0m3 0h0m297 0h0M59 184h0m40 0h0m28 0h0m2 0h0M60 185h2m17 0h0m3 0h0m353 0h0M49 186h0m3 0h0m3 0h0m4 0h0m20 0h0m3 0h0m12 0h0m7 0h0m2 0h0m15 0h2m10 0h0M51 187h0m45 0h0m17 0h0m7 0h0m14 0h0M49 188h0m45 0h0m20 0h0m2 0h0m2 0h0m3 0h0m26 0h0m257 0h0m32 0h0M51 189h0m13 0h0m48 0h0m5 0h0m4 0h1m279 0h0m13 0h0m29 0h0M81 190h0m39 0h0M57 191h0m7 0h0m14 0h0m2 0h1m5 0h0m36 0h0m330 0h0M56 192h0m27 0h0m4 0h0m2 0h0m5 0h0m51 0h0m5 0h0M65 193h0m18 0h0m3 0h1m3 0h0m359 0h0M58 194h0m42 0h0m12 0h0m37 0h1m264 0h0M84 195h0m4 0h0m2 0h0m22 0h0m37 0h0m273 0h0M80 196h0m9 0h0m45 0h0m16 0h0m52 0h0m223 0h0m76 0h0M80 197h0m31 0h0m335 0h0M82 198h0m21 0h0M99 199h0m35 0h1M45 200h0m38 0h0m2 0h0m57 0h0m7 0h0M54 201h0m18 0h0m14 0h0m19 0h0m30 0h0M118 202h0m18 0h0m20 0h0m18 0h0m67 0h0M93 203h1m6 0h0m56 0h1m12 0h0m10 0h0m220 0h0M80 204h0m12 0h1m8 0h0m68 0h0m5 0h0m2 0h0m3 0h0m3 0h0m221 0h0M88 205h2m12 0h0m2 0h0m13 0h0m3 0h0m23 0h0m14 0h0m14 0h0m7 0h0m5 0h1m307 0h0M76 206h0m7 0h0m6 0h0m15 0h0m2 0h0m15 0h0m36 0h0m8 0h0m10 0h0m2 0h0m3 0h1m2 0h0M62 207h0m39 0h1m77 0h1m13 0h1m26 0h0M70 208h0m24 0h0m13 0h0m2 0h0m2 0h0m50 0h0m3 0h1m20 0h0m6 0h0m4 0h0m28 0h0M109 209h0m52 0h0m3 0h0m5 0h0m21 0h0m2 0h1m192 0h0m8 0h0m97 0h0M76 210h0m2 0h0m8 0h0m75 0h0m2 0h0m6 0h0m7 0h0m7 0h0m11 0h1m199 0h0m100 0h0M73 211h1m36 0h0m41 0h0m29 0h0m3 0h0m8 0h0m2 0h0m168 0h0m19 0h0m15 0h0m99 0h0M73 212h0m3 0h1m27 0h0m2 0h0m8 0h0m54 0h0m11 0h0m4 0h0m8 0h0m2 0h0m3 0h0m3 0h0m195 0h0m3 0h1m2 0h0m93 0h0M75 213h0m30 0h1m7 0h0m53 0h1m17 0h0m2 0h1m3 0h0m4 0h0m180 0h0m3 0h0m22 0h0m87 0h1m6 0h1M104 214h0m49 0h0m12 0h1m7 0h0m204 0h0m18 0h0m3 0h0m3 0h0m86 0h0M86 215h1m19 0h0m2 0h0m3 0h1m17 0h0m55 0h0m211 0h0m98 0h1M87 216h0m285 0h0m4 0h0m16 0h3m99 0h1M90 217h0m30 0h0m47 0h0m4 0h1m16 0h0m204 0h0m4 0h0m97 0h0m3 0h0M80 218h0m6 0h1m9 0h0m15 0h0m2 0h1m7 0h0m140 0h0m131 0h0m4 0h1m2 0h0m91 0h0m4 0h0M97 219h0m4 0h0m9 0h0m3 0h0m7 0h0m275 0h1m91 0h0m6 0h1M99 220h2m10 0h0m2 0h0m7 0h0m267 0h1m8 0h0m3 0h0m16 0h0m6 0h0M82 221h0m5 0h0m14 0h0m6 0h0m282 0h0m10 0h0m95 0h0M130 222h0m260 0h0m10 0h0m87 0h0m5 0h0m5 0h0M86 223h0m2 0h0m13 0h1m7 0h1m2 0h1m45 0h0m160 0h0m49 0h0m30 0h0m90 0h0m13 0h0M81 224h0m18 0h1m2 0h0m8 0h0m253 0h0m4 0h1m21 0h0m104 0h0M111 225h1m35 0h0m237 0h0m10 0h1m6 0h0m87 0h0m2 0h0m3 0h0M111 226h1m268 0h0m5 0h1m2 0h0m7 0h0m7 0h0m87 0h0m2 0h1M77 227h0m34 0h0m2 0h0m271 0h0m16 0h1M114 228h0m267 0h0m2 0h0m5 0h0m12 0h0m2 0h0M92 229h2m14 0h0m54 0h0m223 0h0m20 0h0M125 230h0m199 0h0m69 0h1m2 0h0m92 0h0m5 0h0M91 231h0m295 0h0m10 0h0m2 0h1m90 0h0M104 232h0m295 0h1M103 233h2M99 234h0m3 0h0m24 0h0m243 0h0m16 0h0M80 235h0m24 0h0m2 0h0m3 0h0m16 0h0m2 0h0m15 0h0m193 0h0m12 0h0M96 236h0m14 0h0m281 0h0M81 237h0m15 0h0m2 0h0M80 238h0m26 0h0M93 239h0m2 0h0m46 0h0m353 0h0M102 240h1m4 0h2M99 241h0m2 0h0m12 0h0m9 0h0M98 242h1m5 0h0m9 0h0M96 243h0m4 0h0M94 244h0m7 0h0M81 246h0M96 247h0M102 248h0M91 249h0m12 0h0m3 0h0M85 250h0m3 0h1m8 0h0m4 0h0m4 0h0M95 251h0m8 0h0m4 0h0M105 252h0m2 0h1M104 254h1M104 255h1M105 256h1m2 0h0M104 258h0M101 259h0m3 0h2M102 260h1M97 261h0m11 0h0m2 0h0M282 265h0M279 296h0M266 303h0M263 304h1M261 305h0m2 0h1M261 306h1m2 0h0M260 307h0m7 0h0m2 0h0m22 0h0M258 308h0m3 0h1m5 0h0m3 0h0m21 0h0M266 309h0M267 310h1M261 311h0M258 312h1m9 0h0m2 0h0m2 0h0m4 0h1M259 313h0m15 0h0m3 0h0M259 314h0m3 0h0m7 0h0M259 315h1m2 0h0m3 0h0m9 0h0M269 316h0m2 0h0m5 0h0M264 317h0m8 0h0"/><path stroke="#86cb55" d="M380 65h0M468 97h0M469 98h0M439 101h0M471 105h0M377 109h0M442 110h0M216 111h0M439 113h0M442 118h0M437 132h0M366 133h0M456 137h0M350 139h0m81 0h0M455 140h0M456 145h0M140 146h0m336 0h0M452 147h0m3 0h0M453 149h0M102 150h0m62 0h0m277 0h0m10 0h0M371 151h0m82 0h0M75 152h0m378 0h0M74 153h0M116 155h0M86 156h0M126 161h1M73 162h0M73 163h0m12 0h0m11 0h0m351 0h0M72 164h0m369 0h0M62 165h2m396 0h0M430 166h0M76 167h0M60 168h0m18 0h0M78 169h0m313 0h0M76 170h0m2 0h0m33 0h0M111 171h0m326 0h0M86 172h0M107 173h0M72 176h0m200 0h0M57 177h0M105 179h0M92 180h0m7 0h0M86 181h0m12 0h0M141 182h0M131 183h0M83 184h1m12 0h0m19 0h0m16 0h0M57 185h0m7 0h0m30 0h0m26 0h0m14 0h0M83 186h0m14 0h0m7 0h0m17 0h0m14 0h0m296 0h0M54 187h0m63 0h2M51 188h0m45 0h0M78 189h0M97 190h0m30 0h0m289 0h0M85 191h0M80 192h1m4 0h0m5 0h0m3 0h0m2 0h0M55 193h0m25 0h0m21 0h0M82 194h1m4 0h0m2 0h0m3 0h0M83 195h0m2 0h2m63 0h0M59 196h0m23 0h0M497 197h0M77 198h0m6 0h0m28 0h0M104 199h0m322 0h0M101 200h0m3 0h0m98 0h0M100 201h0M92 202h0m17 0h0M92 203h0m13 0h0m3 0h0m64 0h0m50 0h0M103 204h0m80 0h0M103 205h0m6 0h0m82 0h0m299 0h0m12 0h0M90 206h0m18 0h1m69 0h0m312 0h1M76 207h0m23 0h0m6 0h0m5 0h0m71 0h0M105 208h0m5 0h0m83 0h0m295 0h1M67 209h0m7 0h0m31 0h0m5 0h0m52 0h0m3 0h0m16 0h0m3 0h0M108 210h0m40 0h0m7 0h0m9 0h0m14 0h0M76 211h0m31 0h0m69 0h0m2 0h0m4 0h0m10 0h0m5 0h0m170 0h0m32 0h0m90 0h0m2 0h0M110 212h0m57 0h0m2 0h0m18 0h0m2 0h0m207 0h0m3 0h0m87 0h0m2 0h0m3 0h0M104 213h0m79 0h0m12 0h0m206 0h0m2 0h1M106 214h0m4 0h0m75 0h0m188 0h0m124 0h0M105 215h0m272 0h0m19 0h0m92 0h0M104 216h0m17 0h0m36 0h0m9 0h0m20 0h0m201 0h0m10 0h0m12 0h0m79 0h0m2 0h0m2 0h0M85 217h0m27 0h1m8 0h0m43 0h0m229 0h1m3 0h1m91 0h2m3 0h0M112 218h0m8 0h0m80 0h0m92 0h0m23 0h0m79 0h1m94 0h0m3 0h1M99 219h1m64 0h0m327 0h0M112 220h0m375 0h0m5 0h1m6 0h0M387 221h1m100 0h0m4 0h0M82 222h0m20 0h1m6 0h0m3 0h0m258 0h0m31 0h0M87 223h0m13 0h0m288 0h0m10 0h0m3 0h0m87 0h0M86 224h0m315 0h0m87 0h0m3 0h0M103 225h0m280 0h0m14 0h0m10 0h0M121 226h0m75 0h0m177 0h0m14 0h0m13 0h0m99 0h0M385 227h0m2 0h0m6 0h0M92 228h0m17 0h0m30 0h0m246 0h1m3 0h0m3 0h0m7 0h0m91 0h0M79 229h0m58 0h0m243 0h0m7 0h0m5 0h1m7 0h0m88 0h1m3 0h0M89 230h0m296 0h0m10 0h0m94 0h0m3 0h0M400 231h0M89 232h0m303 0h0m9 0h0M126 233h0m265 0h0m100 0h1M490 234h0m4 0h0M97 235h1m393 0h0M491 236h0M78 237h0m48 0h0m9 0h0M391 238h0M97 239h0m10 0h0m388 0h0M96 240h0m9 0h0M77 241h0m7 0h0m11 0h0m2 0h0m3 0h0m8 0h0M94 242h0m3 0h0m15 0h0M102 243h0m8 0h0m3 0h0M102 244h0m8 0h1M103 247h0M95 248h0M103 250h0m7 0h0M101 251h0M106 252h0M106 253h0M106 255h0M104 257h0M105 260h0M269 301h0M262 303h0m2 0h1M266 304h0M266 305h0M266 306h0M262 307h0M260 308h0m4 0h0m4 0h0m15 0h0M260 309h0m7 0h0M260 310h0m4 0h0M259 311h0m5 0h0m4 0h0M261 312h0M258 313h0m2 0h1m2 0h0M258 314h0m6 0h0m6 0h0M261 315h0m2 0h1M259 316h0m11 0h0"/><path stroke="#c0c32d" d="M250 69h0M442 130h0M439 137h0M107 138h0M103 142h0M455 145h0M382 147h0M103 148h0m349 0h0M95 149h0m357 0h0M103 150h0m257 0h0m92 0h1M460 151h0M124 157h0M434 160h0M95 162h0m299 0h0M78 166h0m51 0h0m303 0h0M59 168h0M59 169h0M77 170h0M61 171h0m5 0h0M85 173h0M91 176h0M108 179h0M128 181h0M96 182h0m312 0h0M53 185h0m6 0h0m398 0h0M57 186h0m4 0h1m343 0h0M95 187h0M120 188h0M87 191h0M82 192h0M94 193h0M81 194h0m4 0h0M81 195h1m29 0h0M84 196h0m26 0h1M82 199h0M100 200h0M101 201h0m3 0h0m3 0h0m2 0h0M100 202h0M101 203h0m8 0h0m74 0h0M177 205h0M102 206h0m8 0h0m10 0h0m59 0h0M165 207h0M169 208h0m23 0h0m298 0h0M107 209h0m60 0h0m233 0h0m88 0h0M77 210h0m102 0h0m7 0h0m207 0h0m94 0h0m2 0h1M106 211h0m7 0h0m50 0h0m2 0h0m14 0h0m5 0h0m302 0h0M87 212h0m97 0h0m305 0h0m3 0h0M488 213h0M103 214h0m2 0h0m6 0h0m377 0h4m2 0h0M104 215h0m5 0h0m46 0h0m12 0h0m325 0h0M489 216h0m4 0h0M395 217h0m97 0h0M96 219h0m392 0h0M105 220h0m391 0h0M90 221h0m406 0h0M399 222h0m89 0h0m3 0h0M399 223h0m91 0h0m3 0h0M398 224h0m94 0h0M88 225h0m57 0h0M108 226h0M386 227h0m2 0h0m4 0h0m7 0h0M393 228h0m96 0h0m2 0h0M386 229h0m104 0h0M492 231h0M491 234h0M124 235h0M105 236h0M107 237h0M95 242h0m15 0h0M94 243h0m17 0h0m3 0h0M113 244h0M107 253h0M105 257h0M260 303h0M265 306h0M270 307h0M263 308h0m3 0h0M261 309h0m4 0h0M259 310h0m4 0h0m2 0h0M266 311h1M260 312h0m2 0h0m3 0h0M269 313h1m5 0h0M261 314h0m10 0h1M270 315h0M257 316h0m18 0h0"/><path stroke="#eeba34" d="M392 144h0M456 146h0M452 153h0M102 155h0M96 164h0M117 166h0M76 169h0M72 180h0M130 184h0M53 186h0M120 189h0M78 192h0M84 194h0m4 0h0M109 196h0m3 0h0M103 199h0M101 202h0m4 0h0M104 203h0M120 207h0M170 208h0m14 0h0M157 209h0m332 0h0M165 210h1m2 0h0m16 0h0m3 0h1M167 211h0m20 0h0M185 212h0m302 0h0m3 0h0M185 213h0m215 0h0m89 0h0m2 0h0m5 0h0M97 218h1M490 220h1M389 222h0m100 0h0M400 223h0m91 0h1M111 224h0m273 0h0m15 0h1M398 225h1m92 0h1M397 226h1m92 0h0M398 227h0M398 228h0M491 229h0M399 230h0M80 232h0M110 239h0M102 241h0M96 242h0m11 0h0m4 0h0M95 243h0M92 249h0M102 250h0M266 307h0M265 308h0M263 309h1M266 310h0M263 311h0m2 0h0M262 313h0m2 0h0M263 314h0M257 315h0m14 0h0"/><path stroke="#feca34" d="M452 145h0M453 147h0M111 149h0M77 168h0M77 169h0M454 170h0M79 191h0M77 199h0m29 0h0M106 200h0M104 202h0m4 0h0M103 203h0M185 209h0M185 211h1M184 214h0M491 216h0M90 220h0M489 223h0M368 225h0M490 227h1M394 229h1M493 231h0M110 232h0M102 249h0M262 310h0M262 311h0M265 314h0"/><path stroke="#f5e426" d="M105 200h0m2 0h0M103 202h0M185 210h0M164 211h0M186 212h0M490 213h0M490 221h0M489 224h1M489 225h0M492 227h0M394 228h2"/><path stroke="#f9fb15" d="M108 201h0M121 207h0M167 210h0M492 219h0M394 227h1m2 0h0M492 228h0M105 238h0M262 309h0"/></g><path d="M287.7 59.0L294.0 64.0L300.0 69.5L305.0 74.5L308.4 79.7L309.0 88.0L308.0 96.0L307.4 104.4L305.0 112.5L303.2 120.9L298.9 131.6L295.0 138.5L287.7 151.4L280.0 163.0L272.9 173.6L263.0 189.0L253.1 204.0L243.3 217.4L233.4 229.7L227.0 235.5L221.0 239.6L215.0 242.3L208.7 244.0L198.8 244.5L188.9 240.8L179.0 235.9L172.0 233.6L167.0 233.6L163.0 235.9" fill="none" stroke="#000" stroke-width="2.1" stroke-linejoin="round" stroke-linecap="round"/><path d="M308.4 79.7L322.0 81.6L336.2 83.2L348.0 85.2L360.9 86.8L372.4 87.3L395.0 86.9L410.3 86.4L432.1 86.0L459.7 85.6L480.0 85.5L495.0 85.5L505.0 85.8L513.1 86.5L521.0 88.0L528.0 90.4L534.0 93.6L539.5 97.8L544.5 102.5L549.4 107.7L554.5 112.5L559.3 116.8L565.5 120.8L572.4 124.2L578.0 126.0L584.0 127.0L590.0 127.4L597.1 127.2L607.0 126.4L616.9 125.0L630.0 120.3L643.3 115.1L655.0 110.4L668.0 105.2L681.0 99.9L695.0 94.3L710.0 86.5L724.7 78.3" fill="none" stroke="#000" stroke-width="2.1" stroke-linejoin="round" stroke-linecap="round"/><path d="M696.0 59.0L696.6 60.8L699.0 63.0L701.6 65.7L704.0 68.5L708.2 70.7L712.0 72.6L716.4 73.1L720.0 75.0L724.7 78.3L726.5 81.0L728.0 84.7L730.0 89.0L732.9 94.5L735.0 99.0L737.0 104.4L739.5 112.7L740.3 118.4L743.0 120.5L746.1 122.5L751.8 125.8L752.5 128.5L753.5 131.6L757.0 133.5L760.9 135.7L763.0 138.2L765.8 140.7L766.3 144.0L766.7 147.3L764.8 151.0L764.2 155.0L767.5 160.0L765.8 164.0L757.6 165.7" fill="none" stroke="#000" stroke-width="2.1" stroke-linejoin="round" stroke-linecap="round"/><path d="M757.6 165.7L751.0 169.0L748.5 174.8L752.7 179.7L759.3 184.7L764.2 188.0L765.8 192.0L760.9 196.2L756.0 201.1L754.3 207.7L757.6 212.7L759.3 219.3L751.0 225.8L744.4 232.4L741.1 239.0L736.2 244.8L732.9 250.6L729.6 255.0L722.4 256.5L714.2 261.6L707.6 268.2L706.0 276.4L708.4 284.7L707.6 292.9L699.4 299.5L691.1 306.1L686.2 314.3L677.9 320.9L668.1 327.5L661.5 335.7L653.2 342.3L645.0 348.9L641.0 352.0" fill="none" stroke="#000" stroke-width="2.6" stroke-linejoin="round" stroke-linecap="round"/><path d="M641.0 352.0L636.7 354.9L630.1 361.5L620.2 367.2L610.3 369.7L603.7 373.0L597.1 370.5L587.3 371.4L577.4 373.8L569.1 379.6L560.9 382.9L557.6 377.9L554.3 373.0L551.0 382.9L544.4 389.5L534.5 396.1L524.7 394.4L514.8 397.7L504.9 399.4L495.0 403.5L487.8 405.1L481.2 407.6L473.8 406.0L474.6 410.9L468.0 414.2L468.0 419.1L472.9 424.1L474.6 430.7L468.0 434.8L459.7 434.0L458.1 427.4L454.8 419.1L454.8 412.5L458.9 407.6L458.1 402.7L451.5 397.7L444.9 401.8L438.3 402.7L431.7 397.7L426.8 394.4L421.9 400.2L413.6 401.8L403.7 400.2L393.8 399.4" fill="none" stroke="#000" stroke-width="2.8" stroke-linejoin="round" stroke-linecap="round"/><path d="M393.8 399.4L387.3 394.4L379.0 389.5L375.7 382.9L375.7 376.3L380.7 371.4L375.7 367.2L365.8 366.4L356.0 365.6L349.4 361.5L342.8 356.5L337.7 359.8L329.5 364.8L319.6 369.7L313.0 372.2L306.4 377.1L298.2 374.7L293.3 372.2L288.3 373.8L283.4 378.8L276.8 374.7L270.2 373.0L263.6 377.1L253.7 378.8L248.8 382.1L250.4 389.5L252.1 399.4L253.7 407.6L252.1 411.7L247.1 410.1L239.7 410.9L237.3 406.0L234.8 400.2L227.4 401.8L217.5 403.5L210.9 401.8L206.8 396.1L202.7 389.5L194.4 387.8L185.4 386.2L187.8 379.6L191.1 373.0L194.4 366.4L189.5 361.5L179.6 359.8L178.0 351.6L179.0 355.0" fill="none" stroke="#000" stroke-width="2.5" stroke-linejoin="round" stroke-linecap="round"/><path d="M179.0 355.0L175.7 348.9L172.4 344.0L175.7 340.7L177.4 336.5L170.8 336.5L160.9 337.4L151.0 340.7L146.9 344.8L144.4 340.7L146.9 335.7L144.4 329.1L144.4 322.5L148.5 319.3L149.4 312.7L152.7 307.7L159.3 302.0L160.9 297.8L167.5 294.5L172.4 290.4L170.0 287.1L172.4 284.7L174.9 274.8L175.7 264.9L174.1 255.0L171.6 252.0L165.4 249.5L161.7 244.5L161.2 240.0L163.0 235.9" fill="none" stroke="#000" stroke-width="2.6" stroke-linejoin="round" stroke-linecap="round"/><path d="M163.0 235.9L159.2 235.9L157.0 232.0L154.3 229.7L150.0 226.5L145.7 224.3L142.5 225.5L140.7 228.5L140.5 233.0L139.5 237.1L136.0 240.5L132.1 243.3L127.0 239.5L122.2 235.9L116.0 233.6L109.8 231.7L104.0 230.5L98.7 229.7" fill="none" stroke="#000" stroke-width="1.9" stroke-linejoin="round" stroke-linecap="round"/><path d="M757.0 306.0L750.4 308.5L743.8 312.7L738.9 319.3L734.0 327.5L729.0 335.7L724.1 344.0L720.8 350.6L719.8 355.0L721.0 359.9L723.5 369.8L729.7 379.7L734.6 387.1L737.1 392.5L740.8 384.6L743.3 374.7L748.2 364.8L753.1 354.9L758.7 347.3L760.3 340.7L762.8 334.1L766.1 327.5L767.7 320.9L766.9 312.7L760.3 306.9Z" fill="none" stroke="#000" stroke-width="2.8" stroke-linejoin="round" stroke-linecap="round"/><path d="M479.0 439.0L487.3 443.1L488.9 449.7L482.3 456.3L479.0 464.5L475.7 472.8L469.1 477.7L460.9 482.7L452.7 487.6L444.4 486.0L436.2 482.7L429.6 479.4L427.1 471.1L426.3 462.9L429.6 456.3L437.8 449.7L444.4 445.6L452.7 442.3L464.2 441.5L472.4 439.8Z" fill="none" stroke="#000" stroke-width="2.8" stroke-linejoin="round" stroke-linecap="round"/><path d="M788.6 325.5L781.6 352.3" stroke="#000" stroke-width="4.2" fill="none"/><path d="M765.5 399.4L748.2 420.4" stroke="#000" stroke-width="4.2" fill="none"/><path d="M717.3 468.1L704.2 492.1" stroke="#000" stroke-width="4.2" fill="none"/><path d="M766.1 189.8L767.7 193.8L762.8 198.0L757.9 202.9L756.2 209.5L759.5 214.5L761.2 221.1L752.9 227.6L746.3 234.2L743.0 240.8L738.1 246.6L734.8 252.4L731.5 256.8L724.3 258.3L716.1 263.4L709.5 270.0L707.9 278.2L710.3 286.5L709.5 294.7L701.3 301.3L693.0 307.9L688.1 316.1L679.8 322.7L670.0 329.3L663.4 337.5L655.1 344.1L646.9 350.7L642.9 353.8" fill="none" stroke="#000" stroke-width="5.0" stroke-linejoin="round" stroke-linecap="round"/><g fill="#000"><circle cx="635.9" cy="424" r="4.4"/><circle cx="539.1" cy="455" r="1.8"/><circle cx="560.6" cy="462.9" r="2.4"/><circle cx="439.2" cy="415" r="1.5"/><circle cx="441.6" cy="418.3" r="1.2"/><circle cx="493.8" cy="443.2" r="1.4"/><circle cx="755.6" cy="374" r="1.7"/><circle cx="756.9" cy="389.5" r="2.8"/><circle cx="738.3" cy="397" r="1.2"/><circle cx="726" cy="382" r="1.0"/><circle cx="766.9" cy="302.8" r="1.8"/><circle cx="770.5" cy="299.2" r="1.8"/><circle cx="807.8" cy="294.5" r="2.4"/><circle cx="812.7" cy="290" r="1.5"/><circle cx="706.8" cy="349.5" r="3.0"/><circle cx="703" cy="355" r="2"/><circle cx="709" cy="357" r="1.8"/><circle cx="500.4" cy="516" r="2.6"/><circle cx="519.4" cy="518" r="0.9"/><circle cx="726.5" cy="271.5" r="2"/><circle cx="734.8" cy="264" r="1.6"/><circle cx="739" cy="261.6" r="1.1"/><circle cx="723.3" cy="281.4" r="1.6"/><circle cx="729.8" cy="279" r="1.2"/><circle cx="727.4" cy="284.6" r="1.0"/><circle cx="716.7" cy="289.6" r="1.5"/><circle cx="703.5" cy="313.5" r="1.2"/><circle cx="672.2" cy="335.7" r="1.2"/><circle cx="770.4" cy="194.3" r="1.4"/><circle cx="764.2" cy="188.2" r="1.4"/><circle cx="764.9" cy="188.6" r="2.3"/><circle cx="768.3" cy="192.0" r="2.3"/><circle cx="767.7" cy="193.0" r="1.5"/><circle cx="769.6" cy="194.9" r="1.2"/><circle cx="770.0" cy="196.7" r="1.5"/><circle cx="771.4" cy="198.8" r="0.6"/><circle cx="768.0" cy="196.1" r="1.5"/><circle cx="770.8" cy="198.5" r="0.9"/><circle cx="766.0" cy="197.0" r="2.0"/><circle cx="769.5" cy="198.8" r="1.1"/><circle cx="763.2" cy="193.6" r="2.2"/><circle cx="764.7" cy="197.0" r="2.2"/><circle cx="767.4" cy="199.8" r="1.2"/><circle cx="766.1" cy="200.8" r="1.0"/><circle cx="761.4" cy="196.8" r="1.8"/><circle cx="766.3" cy="202.8" r="0.8"/><circle cx="763.0" cy="199.1" r="1.9"/><circle cx="767.5" cy="204.9" r="1.3"/><circle cx="764.4" cy="202.8" r="1.5"/><circle cx="761.1" cy="201.9" r="2.2"/><circle cx="757.5" cy="199.7" r="1.4"/><circle cx="763.3" cy="206.4" r="0.9"/><circle cx="762.8" cy="205.9" r="0.7"/><circle cx="763.0" cy="206.7" r="1.4"/><circle cx="758.0" cy="201.9" r="1.5"/><circle cx="761.8" cy="208.7" r="0.9"/><circle cx="754.9" cy="201.7" r="1.1"/><circle cx="762.0" cy="209.9" r="1.1"/><circle cx="761.9" cy="209.9" r="0.9"/><circle cx="759.5" cy="209.0" r="1.9"/><circle cx="760.5" cy="210.4" r="0.6"/><circle cx="756.4" cy="208.3" r="1.1"/><circle cx="759.4" cy="210.2" r="2.1"/><circle cx="757.7" cy="211.0" r="1.8"/><circle cx="758.2" cy="211.0" r="1.9"/><circle cx="756.3" cy="208.7" r="2.1"/><circle cx="760.0" cy="212.2" r="1.3"/><circle cx="755.3" cy="209.0" r="1.6"/><circle cx="756.1" cy="209.4" r="1.6"/><circle cx="761.2" cy="215.5" r="1.1"/><circle cx="761.7" cy="215.0" r="1.2"/><circle cx="756.8" cy="212.6" r="2.3"/><circle cx="759.3" cy="214.2" r="1.5"/><circle cx="758.8" cy="212.5" r="1.2"/><circle cx="763.1" cy="217.9" r="0.8"/><circle cx="763.2" cy="219.7" r="1.1"/><circle cx="760.3" cy="216.9" r="1.5"/><circle cx="762.9" cy="220.2" r="0.8"/><circle cx="757.6" cy="216.4" r="2.2"/><circle cx="757.8" cy="217.1" r="0.9"/><circle cx="763.1" cy="222.9" r="2.3"/><circle cx="763.6" cy="223.2" r="2.2"/><circle cx="761.4" cy="221.6" r="2.0"/><circle cx="762.4" cy="223.7" r="1.0"/><circle cx="762.5" cy="221.9" r="1.4"/><circle cx="762.8" cy="225.8" r="1.0"/><circle cx="756.8" cy="220.7" r="1.2"/><circle cx="760.9" cy="224.7" r="1.5"/><circle cx="763.7" cy="228.3" r="0.7"/><circle cx="760.7" cy="227.2" r="0.6"/><circle cx="759.5" cy="226.2" r="0.8"/><circle cx="760.8" cy="228.9" r="1.6"/><circle cx="755.7" cy="224.9" r="1.4"/><circle cx="754.4" cy="224.8" r="1.3"/><circle cx="758.1" cy="229.5" r="1.4"/><circle cx="753.3" cy="224.8" r="1.4"/><circle cx="756.8" cy="229.2" r="1.7"/><circle cx="753.1" cy="226.9" r="1.3"/><circle cx="757.2" cy="231.2" r="1.1"/><circle cx="749.6" cy="227.3" r="1.6"/><circle cx="752.6" cy="228.8" r="2.0"/><circle cx="750.0" cy="227.9" r="1.8"/><circle cx="748.5" cy="226.9" r="0.9"/><circle cx="755.1" cy="234.0" r="0.8"/><circle cx="748.3" cy="229.4" r="0.9"/><circle cx="748.5" cy="229.0" r="2.2"/><circle cx="750.1" cy="233.2" r="1.1"/><circle cx="750.7" cy="232.4" r="1.7"/><circle cx="753.6" cy="237.8" r="1.2"/><circle cx="750.4" cy="235.7" r="1.1"/><circle cx="746.5" cy="233.1" r="1.6"/><circle cx="745.4" cy="233.7" r="1.2"/><circle cx="746.8" cy="234.2" r="1.8"/><circle cx="746.8" cy="235.9" r="1.7"/><circle cx="748.1" cy="237.6" r="1.1"/><circle cx="742.5" cy="235.0" r="1.1"/><circle cx="743.9" cy="236.4" r="0.9"/><circle cx="742.6" cy="235.5" r="1.2"/><circle cx="748.0" cy="241.3" r="1.6"/><circle cx="742.1" cy="237.2" r="1.3"/><circle cx="746.9" cy="242.7" r="1.3"/><circle cx="742.9" cy="239.6" r="2.2"/><circle cx="741.9" cy="240.4" r="1.8"/><circle cx="741.0" cy="239.0" r="1.1"/><circle cx="745.3" cy="246.0" r="1.1"/><circle cx="744.6" cy="245.1" r="1.2"/><circle cx="740.4" cy="240.9" r="1.3"/><circle cx="739.4" cy="242.4" r="1.9"/><circle cx="744.0" cy="249.0" r="0.7"/><circle cx="741.8" cy="245.8" r="1.1"/><circle cx="738.7" cy="244.2" r="1.0"/><circle cx="744.1" cy="249.9" r="1.5"/><circle cx="742.6" cy="250.1" r="1.0"/><circle cx="736.9" cy="245.1" r="1.8"/><circle cx="739.4" cy="248.5" r="1.7"/><circle cx="736.1" cy="245.8" r="1.1"/><circle cx="736.9" cy="248.9" r="1.9"/><circle cx="736.6" cy="247.9" r="1.6"/><circle cx="740.9" cy="253.4" r="1.4"/><circle cx="738.0" cy="252.2" r="1.0"/><circle cx="739.2" cy="254.0" r="1.0"/><circle cx="732.6" cy="249.3" r="1.1"/><circle cx="738.4" cy="254.9" r="1.1"/><circle cx="736.3" cy="254.2" r="0.7"/><circle cx="733.6" cy="251.4" r="0.9"/><circle cx="739.0" cy="257.8" r="0.7"/><circle cx="734.1" cy="255.0" r="1.9"/><circle cx="737.2" cy="258.7" r="0.9"/><circle cx="736.5" cy="259.6" r="1.0"/><circle cx="732.7" cy="255.7" r="1.0"/><circle cx="731.5" cy="256.5" r="1.4"/><circle cx="731.2" cy="256.8" r="1.9"/><circle cx="732.2" cy="257.3" r="1.1"/><circle cx="729.2" cy="256.3" r="2.2"/><circle cx="728.0" cy="257.7" r="1.6"/><circle cx="731.4" cy="260.0" r="0.6"/><circle cx="728.8" cy="257.8" r="1.5"/><circle cx="727.4" cy="257.5" r="0.9"/><circle cx="726.8" cy="258.0" r="1.0"/><circle cx="727.6" cy="260.7" r="1.0"/><circle cx="722.6" cy="255.6" r="1.5"/><circle cx="723.1" cy="256.9" r="0.8"/><circle cx="723.4" cy="258.1" r="1.0"/><circle cx="726.8" cy="260.8" r="1.4"/><circle cx="724.2" cy="260.0" r="2.0"/><circle cx="725.0" cy="262.5" r="0.6"/><circle cx="723.5" cy="261.0" r="1.2"/><circle cx="720.9" cy="260.5" r="1.5"/><circle cx="721.2" cy="262.4" r="0.8"/><circle cx="723.5" cy="262.9" r="1.4"/><circle cx="722.9" cy="264.5" r="0.6"/><circle cx="721.8" cy="264.6" r="0.8"/><circle cx="717.8" cy="259.9" r="0.8"/><circle cx="715.7" cy="259.8" r="2.1"/><circle cx="718.8" cy="265.2" r="0.8"/><circle cx="717.5" cy="264.7" r="1.0"/><circle cx="719.1" cy="266.0" r="1.0"/><circle cx="716.4" cy="263.7" r="0.8"/><circle cx="712.8" cy="263.8" r="1.5"/><circle cx="712.6" cy="263.1" r="1.6"/><circle cx="714.0" cy="265.0" r="1.1"/><circle cx="711.8" cy="265.7" r="2.3"/><circle cx="715.7" cy="268.3" r="2.0"/><circle cx="710.0" cy="266.2" r="2.1"/><circle cx="710.2" cy="266.1" r="1.3"/><circle cx="712.2" cy="267.6" r="1.6"/><circle cx="713.9" cy="273.1" r="1.2"/><circle cx="715.8" cy="274.2" r="0.9"/><circle cx="710.8" cy="268.3" r="1.4"/><circle cx="709.3" cy="268.8" r="1.0"/><circle cx="710.7" cy="271.1" r="1.6"/><circle cx="710.3" cy="272.7" r="1.3"/><circle cx="709.2" cy="271.9" r="1.5"/><circle cx="706.2" cy="270.7" r="0.9"/><circle cx="710.9" cy="275.1" r="1.2"/><circle cx="709.7" cy="273.8" r="1.7"/><circle cx="706.6" cy="272.6" r="0.9"/><circle cx="707.5" cy="274.9" r="2.0"/><circle cx="711.3" cy="277.1" r="1.1"/><circle cx="712.0" cy="279.9" r="0.8"/><circle cx="708.8" cy="277.5" r="1.6"/><circle cx="705.4" cy="276.7" r="2.3"/><circle cx="709.2" cy="279.5" r="1.2"/><circle cx="705.2" cy="277.9" r="0.8"/><circle cx="712.3" cy="283.1" r="1.0"/><circle cx="707.4" cy="279.6" r="1.5"/><circle cx="707.4" cy="279.7" r="0.8"/><circle cx="711.7" cy="284.5" r="1.0"/><circle cx="709.7" cy="282.9" r="1.0"/><circle cx="710.8" cy="283.5" r="1.4"/><circle cx="712.7" cy="287.3" r="1.6"/><circle cx="712.8" cy="288.2" r="1.0"/><circle cx="709.8" cy="285.6" r="0.9"/><circle cx="711.1" cy="287.3" r="1.9"/><circle cx="708.3" cy="284.5" r="1.9"/><circle cx="710.2" cy="286.4" r="1.8"/><circle cx="713.4" cy="291.8" r="1.4"/><circle cx="714.0" cy="292.0" r="1.6"/><circle cx="708.9" cy="287.2" r="2.2"/><circle cx="711.4" cy="291.7" r="1.1"/><circle cx="712.4" cy="291.9" r="1.1"/><circle cx="712.8" cy="293.6" r="0.6"/><circle cx="708.7" cy="289.9" r="2.0"/><circle cx="710.4" cy="293.8" r="1.3"/><circle cx="711.2" cy="294.6" r="1.5"/><circle cx="707.9" cy="292.4" r="2.3"/><circle cx="712.3" cy="299.1" r="1.1"/><circle cx="710.5" cy="296.7" r="2.0"/><circle cx="711.6" cy="299.3" r="0.6"/><circle cx="711.6" cy="300.9" r="1.0"/><circle cx="708.4" cy="297.5" r="1.9"/><circle cx="710.6" cy="300.0" r="1.2"/><circle cx="705.5" cy="296.5" r="1.8"/><circle cx="707.7" cy="298.9" r="0.8"/><circle cx="703.8" cy="296.3" r="1.8"/><circle cx="706.8" cy="300.1" r="1.6"/><circle cx="707.7" cy="302.2" r="0.7"/><circle cx="704.0" cy="299.2" r="0.9"/><circle cx="701.2" cy="298.8" r="1.8"/><circle cx="704.2" cy="301.7" r="0.8"/><circle cx="701.5" cy="301.5" r="1.1"/><circle cx="703.7" cy="303.8" r="0.7"/><circle cx="703.5" cy="304.4" r="1.2"/><circle cx="698.4" cy="299.7" r="1.7"/><circle cx="700.4" cy="302.1" r="1.4"/><circle cx="699.0" cy="302.0" r="2.0"/><circle cx="702.4" cy="308.3" r="1.5"/><circle cx="699.9" cy="304.9" r="0.6"/><circle cx="698.8" cy="304.3" r="2.0"/><circle cx="696.9" cy="304.8" r="1.9"/><circle cx="700.0" cy="307.3" r="1.5"/><circle cx="696.0" cy="303.7" r="2.2"/><circle cx="693.2" cy="304.7" r="2.3"/><circle cx="696.1" cy="306.6" r="2.1"/><circle cx="697.8" cy="309.9" r="1.2"/><circle cx="696.5" cy="310.1" r="1.4"/><circle cx="697.5" cy="311.3" r="1.4"/><circle cx="694.7" cy="311.5" r="0.9"/><circle cx="694.1" cy="310.1" r="1.3"/><circle cx="691.5" cy="309.3" r="1.9"/><circle cx="690.8" cy="307.3" r="2.3"/><circle cx="689.5" cy="308.6" r="0.9"/><circle cx="695.4" cy="314.6" r="1.4"/><circle cx="691.4" cy="312.7" r="1.2"/><circle cx="691.3" cy="313.2" r="2.3"/><circle cx="689.5" cy="312.8" r="1.6"/><circle cx="690.7" cy="313.7" r="1.5"/><circle cx="692.2" cy="317.0" r="0.6"/><circle cx="693.1" cy="318.3" r="0.6"/><circle cx="692.1" cy="318.0" r="1.4"/><circle cx="690.2" cy="317.3" r="0.6"/><circle cx="687.1" cy="315.2" r="1.2"/><circle cx="690.1" cy="319.4" r="1.4"/><circle cx="689.4" cy="318.4" r="1.1"/><circle cx="688.7" cy="319.6" r="0.6"/><circle cx="688.0" cy="319.6" r="1.5"/><circle cx="682.9" cy="316.5" r="1.0"/><circle cx="684.0" cy="317.5" r="0.9"/><circle cx="685.9" cy="319.6" r="1.6"/><circle cx="682.8" cy="319.1" r="2.0"/><circle cx="683.3" cy="319.0" r="1.0"/><circle cx="680.6" cy="318.8" r="1.9"/><circle cx="684.5" cy="322.4" r="1.5"/><circle cx="681.6" cy="322.2" r="1.1"/><circle cx="683.9" cy="324.4" r="1.3"/><circle cx="679.3" cy="320.7" r="1.8"/><circle cx="679.3" cy="322.3" r="1.2"/><circle cx="680.8" cy="324.9" r="0.9"/><circle cx="678.1" cy="322.8" r="1.7"/><circle cx="680.2" cy="324.8" r="1.2"/><circle cx="676.7" cy="321.8" r="1.6"/><circle cx="676.9" cy="323.4" r="1.0"/><circle cx="675.3" cy="323.4" r="2.1"/><circle cx="673.8" cy="323.6" r="1.2"/><circle cx="674.0" cy="324.3" r="1.0"/><circle cx="676.7" cy="328.8" r="1.4"/><circle cx="677.2" cy="330.6" r="0.6"/><circle cx="674.7" cy="328.0" r="1.9"/><circle cx="675.0" cy="329.4" r="0.6"/><circle cx="675.3" cy="330.3" r="1.1"/><circle cx="674.0" cy="330.2" r="0.9"/><circle cx="672.5" cy="328.3" r="2.1"/><circle cx="670.3" cy="328.7" r="2.2"/><circle cx="669.5" cy="328.0" r="1.4"/><circle cx="667.8" cy="328.1" r="1.1"/><circle cx="667.8" cy="328.9" r="1.0"/><circle cx="670.1" cy="331.5" r="1.2"/><circle cx="666.9" cy="330.2" r="1.4"/><circle cx="666.9" cy="330.6" r="2.0"/><circle cx="668.0" cy="332.4" r="2.2"/><circle cx="665.7" cy="331.1" r="1.5"/><circle cx="668.5" cy="335.1" r="0.9"/><circle cx="669.3" cy="337.7" r="1.3"/><circle cx="666.3" cy="335.1" r="1.3"/><circle cx="663.8" cy="333.0" r="2.2"/><circle cx="665.7" cy="336.2" r="0.8"/><circle cx="662.5" cy="333.2" r="0.8"/><circle cx="662.0" cy="335.5" r="2.2"/><circle cx="660.9" cy="335.6" r="1.6"/><circle cx="663.1" cy="336.9" r="1.1"/><circle cx="660.3" cy="336.3" r="2.0"/><circle cx="664.3" cy="339.9" r="1.5"/><circle cx="664.4" cy="341.5" r="0.6"/><circle cx="660.9" cy="339.2" r="2.2"/><circle cx="662.3" cy="342.7" r="0.8"/><circle cx="660.1" cy="340.5" r="1.8"/><circle cx="661.9" cy="343.0" r="0.8"/><circle cx="657.6" cy="339.2" r="1.4"/><circle cx="661.8" cy="344.1" r="0.9"/><circle cx="658.2" cy="342.3" r="2.1"/><circle cx="660.1" cy="344.8" r="1.0"/><circle cx="658.0" cy="343.6" r="1.4"/><circle cx="657.3" cy="343.8" r="0.8"/><circle cx="655.9" cy="344.1" r="1.7"/><circle cx="657.0" cy="346.0" r="0.9"/><circle cx="653.0" cy="341.8" r="2.0"/><circle cx="653.8" cy="344.8" r="1.4"/><circle cx="653.0" cy="344.9" r="1.0"/><circle cx="653.3" cy="346.6" r="1.1"/><circle cx="652.9" cy="347.1" r="1.5"/><circle cx="649.8" cy="345.5" r="1.4"/><circle cx="650.3" cy="346.5" r="2.1"/><circle cx="650.6" cy="346.4" r="1.7"/><circle cx="649.4" cy="346.6" r="2.1"/><circle cx="651.2" cy="349.8" r="1.0"/><circle cx="647.6" cy="347.1" r="0.9"/><circle cx="649.6" cy="350.4" r="2.3"/><circle cx="649.5" cy="351.4" r="1.5"/><circle cx="647.3" cy="350.1" r="1.7"/><circle cx="646.8" cy="350.0" r="2.0"/><circle cx="648.0" cy="352.0" r="1.0"/><circle cx="645.8" cy="351.1" r="0.8"/><circle cx="644.3" cy="351.0" r="1.0"/><circle cx="644.1" cy="352.0" r="1.3"/><circle cx="645.2" cy="354.1" r="0.9"/><circle cx="641.2" cy="350.6" r="2.1"/><circle cx="643.8" cy="353.7" r="1.6"/><circle cx="644.6" cy="355.4" r="1.0"/><circle cx="641.7" cy="352.6" r="1.6"/><circle cx="640.9" cy="354.5" r="1.2"/><circle cx="639.3" cy="353.8" r="1.1"/><circle cx="638.3" cy="356.1" r="1.6"/><circle cx="638.7" cy="357.9" r="1.2"/><circle cx="635.8" cy="355.5" r="1.3"/><circle cx="637.3" cy="359.6" r="1.6"/><circle cx="635.2" cy="357.0" r="1.0"/><circle cx="635.0" cy="360.3" r="1.3"/><circle cx="633.2" cy="358.5" r="1.5"/><circle cx="632.6" cy="362.0" r="1.3"/><circle cx="631.8" cy="361.2" r="1.8"/><circle cx="631.5" cy="363.7" r="1.1"/><circle cx="630.6" cy="364.3" r="1.6"/><circle cx="630.1" cy="366.2" r="0.9"/><circle cx="629.2" cy="367.1" r="1.1"/><circle cx="626.4" cy="364.7" r="1.2"/><circle cx="626.9" cy="366.2" r="1.9"/><circle cx="624.6" cy="366.1" r="1.7"/><circle cx="623.1" cy="365.5" r="1.0"/><circle cx="623.8" cy="367.5" r="1.2"/><circle cx="621.9" cy="366.4" r="1.1"/><circle cx="622.7" cy="369.8" r="1.6"/><circle cx="620.1" cy="368.7" r="1.8"/><circle cx="618.7" cy="368.7" r="1.6"/><circle cx="618.3" cy="371.6" r="1.9"/><circle cx="616.2" cy="369.5" r="1.2"/><circle cx="616.3" cy="371.9" r="1.9"/><circle cx="613.7" cy="370.4" r="1.1"/><circle cx="615.0" cy="373.9" r="1.6"/><circle cx="613.2" cy="371.9" r="1.5"/><circle cx="610.6" cy="370.6" r="1.8"/><circle cx="610.9" cy="373.6" r="1.6"/><circle cx="608.7" cy="372.4" r="1.8"/><circle cx="607.1" cy="371.0" r="1.0"/><circle cx="606.6" cy="374.3" r="1.4"/><circle cx="606.0" cy="373.0" r="1.5"/><circle cx="605.8" cy="376.2" r="0.8"/><circle cx="602.2" cy="372.2" r="1.4"/><circle cx="602.0" cy="373.3" r="1.4"/><circle cx="602.3" cy="373.9" r="1.7"/><circle cx="600.0" cy="374.1" r="1.1"/><circle cx="600.4" cy="374.1" r="1.3"/><circle cx="598.3" cy="373.2" r="1.5"/><circle cx="597.4" cy="371.7" r="1.0"/><circle cx="594.9" cy="370.6" r="0.9"/><circle cx="595.0" cy="373.5" r="1.1"/><circle cx="594.3" cy="373.3" r="0.9"/><circle cx="593.7" cy="375.6" r="0.9"/><circle cx="591.8" cy="375.2" r="1.5"/><circle cx="591.2" cy="374.8" r="1.2"/><circle cx="588.5" cy="372.0" r="1.7"/><circle cx="586.5" cy="371.4" r="1.0"/><circle cx="586.4" cy="371.8" r="0.7"/><circle cx="585.1" cy="373.7" r="1.8"/><circle cx="585.0" cy="375.1" r="0.7"/><circle cx="583.2" cy="376.0" r="1.2"/><circle cx="582.1" cy="375.5" r="1.7"/><circle cx="582.0" cy="376.2" r="1.0"/><circle cx="578.2" cy="373.7" r="1.9"/><circle cx="578.8" cy="376.2" r="1.8"/><circle cx="577.6" cy="377.4" r="0.8"/><circle cx="577.3" cy="377.2" r="1.5"/><circle cx="575.3" cy="376.2" r="1.3"/><circle cx="575.1" cy="377.8" r="0.8"/><circle cx="574.2" cy="379.1" r="1.6"/><circle cx="571.9" cy="378.3" r="1.6"/><circle cx="572.7" cy="382.8" r="1.5"/><circle cx="570.1" cy="379.5" r="0.8"/><circle cx="569.5" cy="382.1" r="1.0"/><circle cx="568.0" cy="380.4" r="1.5"/><circle cx="566.0" cy="379.7" r="1.1"/><circle cx="566.8" cy="382.3" r="1.2"/><circle cx="566.1" cy="383.3" r="1.1"/><circle cx="564.9" cy="383.5" r="1.1"/><circle cx="563.4" cy="384.7" r="1.5"/><circle cx="561.1" cy="383.4" r="1.3"/><circle cx="562.0" cy="384.2" r="1.4"/><circle cx="561.5" cy="383.1" r="1.2"/><circle cx="560.8" cy="381.7" r="1.4"/><circle cx="559.3" cy="380.0" r="1.8"/><circle cx="560.2" cy="382.6" r="1.2"/><circle cx="558.0" cy="378.0" r="1.6"/><circle cx="556.9" cy="375.5" r="1.2"/><circle cx="558.4" cy="379.0" r="1.1"/><circle cx="555.3" cy="375.4" r="0.8"/><circle cx="554.9" cy="373.0" r="1.6"/><circle cx="555.0" cy="373.4" r="1.2"/><circle cx="555.9" cy="378.6" r="1.4"/><circle cx="554.7" cy="377.3" r="1.1"/><circle cx="555.1" cy="380.9" r="1.2"/><circle cx="552.9" cy="378.3" r="0.9"/><circle cx="554.6" cy="382.3" r="1.3"/><circle cx="553.1" cy="383.4" r="0.9"/><circle cx="551.6" cy="382.9" r="1.9"/><circle cx="551.2" cy="382.2" r="1.0"/><circle cx="551.3" cy="384.5" r="1.3"/><circle cx="550.5" cy="384.9" r="0.8"/><circle cx="549.7" cy="384.5" r="1.0"/><circle cx="548.3" cy="385.4" r="1.8"/><circle cx="548.8" cy="391.0" r="1.8"/><circle cx="547.4" cy="387.9" r="1.5"/><circle cx="546.5" cy="388.7" r="0.7"/><circle cx="545.8" cy="391.1" r="1.7"/><circle cx="544.9" cy="390.6" r="1.5"/><circle cx="544.2" cy="392.4" r="1.3"/><circle cx="543.7" cy="393.4" r="1.1"/><circle cx="540.8" cy="392.0" r="1.0"/><circle cx="541.2" cy="392.9" r="1.1"/><circle cx="540.3" cy="395.8" r="1.6"/><circle cx="540.3" cy="396.6" r="1.8"/><circle cx="537.2" cy="394.7" r="1.0"/><circle cx="536.0" cy="395.5" r="1.0"/><circle cx="536.0" cy="395.4" r="1.9"/><circle cx="534.9" cy="396.3" r="1.0"/><circle cx="534.3" cy="399.1" r="1.1"/><circle cx="533.8" cy="399.0" r="1.4"/><circle cx="531.0" cy="396.1" r="1.9"/><circle cx="529.6" cy="395.9" r="1.1"/><circle cx="530.6" cy="398.9" r="1.5"/><circle cx="528.5" cy="398.4" r="1.9"/><circle cx="526.7" cy="397.1" r="1.3"/><circle cx="527.1" cy="398.6" r="0.9"/><circle cx="523.5" cy="394.3" r="1.4"/><circle cx="524.4" cy="397.3" r="1.1"/><circle cx="523.0" cy="397.6" r="1.1"/><circle cx="520.5" cy="398.1" r="1.1"/><circle cx="519.4" cy="396.9" r="1.8"/><circle cx="518.8" cy="396.3" r="1.3"/><circle cx="518.0" cy="398.5" r="1.2"/><circle cx="517.9" cy="399.0" r="1.4"/><circle cx="517.0" cy="400.7" r="1.2"/><circle cx="515.9" cy="401.7" r="1.7"/><circle cx="514.8" cy="401.3" r="1.1"/><circle cx="510.5" cy="399.0" r="0.9"/><circle cx="511.8" cy="400.3" r="1.6"/><circle cx="509.0" cy="398.0" r="0.7"/><circle cx="508.9" cy="399.8" r="1.5"/><circle cx="507.9" cy="400.2" r="1.1"/><circle cx="507.1" cy="401.4" r="1.9"/><circle cx="505.8" cy="401.4" r="1.3"/><circle cx="504.2" cy="401.8" r="1.5"/><circle cx="503.7" cy="403.3" r="1.5"/><circle cx="501.4" cy="400.7" r="1.0"/><circle cx="502.2" cy="404.4" r="1.1"/><circle cx="501.0" cy="404.8" r="1.8"/><circle cx="499.4" cy="403.6" r="1.7"/><circle cx="498.9" cy="405.0" r="1.6"/><circle cx="497.1" cy="405.5" r="1.3"/><circle cx="495.6" cy="405.2" r="1.5"/><circle cx="772.4" cy="181.5" r="1.5"/><circle cx="768.7" cy="172.7" r="1.1"/><circle cx="786.7" cy="165.5" r="0.9"/><circle cx="776.2" cy="164.5" r="1.7"/><circle cx="775.3" cy="171.1" r="1.0"/><circle cx="787.3" cy="185.1" r="1.5"/><circle cx="783.5" cy="167.5" r="2.1"/><circle cx="767.7" cy="169.6" r="1.7"/><circle cx="768.3" cy="177.4" r="1.8"/><circle cx="777.7" cy="186.0" r="1.4"/><circle cx="777.0" cy="184.8" r="2.0"/><circle cx="793.6" cy="164.1" r="1.7"/><circle cx="766.1" cy="174.3" r="1.9"/><circle cx="788.9" cy="167.7" r="1.5"/><circle cx="770.0" cy="177.3" r="1.5"/><circle cx="794.9" cy="179.4" r="1.9"/><circle cx="768.4" cy="178.4" r="1.3"/><circle cx="782.7" cy="170.0" r="1.2"/><circle cx="785.1" cy="173.9" r="1.7"/><circle cx="788.4" cy="163.3" r="1.1"/><circle cx="775.1" cy="163.3" r="1.0"/><circle cx="790.2" cy="165.6" r="1.5"/><circle cx="779.1" cy="176.7" r="1.0"/><circle cx="774.8" cy="181.8" r="1.1"/><circle cx="778.0" cy="182.1" r="1.2"/><circle cx="794.7" cy="162.6" r="1.1"/><circle cx="787.9" cy="165.6" r="0.9"/><circle cx="788.2" cy="188.9" r="2.3"/><circle cx="785.7" cy="177.5" r="1.7"/><circle cx="787.8" cy="170.0" r="1.8"/><circle cx="784.5" cy="163.7" r="2.0"/><circle cx="782.9" cy="168.9" r="1.9"/><circle cx="773.8" cy="175.0" r="1.8"/><circle cx="777.8" cy="177.2" r="2.1"/><circle cx="788.1" cy="173.9" r="1.8"/><circle cx="781.9" cy="185.5" r="0.9"/><circle cx="782.7" cy="185.9" r="2.3"/><circle cx="790.8" cy="168.9" r="1.2"/><circle cx="781.6" cy="180.2" r="1.9"/><circle cx="777.0" cy="171.9" r="2.2"/><circle cx="778.8" cy="163.7" r="1.6"/><circle cx="779.9" cy="163.0" r="1.3"/><circle cx="774.7" cy="184.6" r="1.8"/><circle cx="716.0" cy="273.4" r="2.7"/><circle cx="714.3" cy="270.7" r="1.9"/><circle cx="714.3" cy="271.3" r="2.6"/><circle cx="712.5" cy="275.7" r="1.3"/><circle cx="716.6" cy="277.5" r="2.0"/><circle cx="713.8" cy="270.3" r="2.5"/><circle cx="719.3" cy="274.6" r="1.9"/><circle cx="722.4" cy="279.3" r="2.7"/><circle cx="717.3" cy="270.9" r="2.4"/><circle cx="708.4" cy="270.4" r="1.9"/><circle cx="720.5" cy="267.8" r="1.9"/><circle cx="717.6" cy="273.7" r="2.1"/><circle cx="722.3" cy="274.1" r="1.4"/><circle cx="718.5" cy="275.7" r="1.7"/><circle cx="714.9" cy="274.2" r="2.4"/><circle cx="711.3" cy="271.2" r="2.5"/><circle cx="715.9" cy="274.2" r="2.4"/><circle cx="712.9" cy="273.7" r="2.1"/><circle cx="713.4" cy="274.2" r="1.7"/><circle cx="713.3" cy="265.8" r="1.9"/><circle cx="711.9" cy="268.6" r="2.6"/><circle cx="709.0" cy="277.2" r="1.5"/><circle cx="707.3" cy="300.9" r="2.3"/><circle cx="711.5" cy="294.2" r="2.7"/><circle cx="706.7" cy="302.2" r="2.0"/><circle cx="711.7" cy="298.1" r="1.9"/><circle cx="708.9" cy="301.5" r="2.1"/><circle cx="712.5" cy="303.5" r="1.9"/><circle cx="711.9" cy="295.8" r="2.2"/><circle cx="712.2" cy="299.2" r="1.7"/><circle cx="701.8" cy="308.3" r="2.1"/><circle cx="709.5" cy="298.6" r="1.5"/><circle cx="714.2" cy="297.4" r="2.2"/><circle cx="706.6" cy="296.1" r="1.9"/><circle cx="709.1" cy="305.9" r="2.6"/><circle cx="708.9" cy="296.8" r="1.7"/><circle cx="709.0" cy="301.9" r="1.3"/><circle cx="708.5" cy="308.2" r="1.6"/><circle cx="713.0" cy="304.1" r="1.5"/><circle cx="709.0" cy="302.5" r="1.3"/><circle cx="707.9" cy="299.3" r="1.5"/><circle cx="707.8" cy="304.7" r="1.6"/><circle cx="711.2" cy="303.6" r="1.5"/><circle cx="711.2" cy="299.0" r="1.9"/><circle cx="565.9" cy="388.6" r="1.6"/><circle cx="564.0" cy="390.0" r="2.6"/><circle cx="564.8" cy="384.1" r="2.1"/><circle cx="564.6" cy="387.4" r="2.2"/><circle cx="566.4" cy="381.4" r="1.3"/><circle cx="566.4" cy="385.3" r="1.9"/><circle cx="566.7" cy="384.9" r="2.4"/><circle cx="564.5" cy="383.0" r="2.1"/><circle cx="568.1" cy="383.6" r="1.4"/><circle cx="568.4" cy="389.0" r="1.9"/><circle cx="566.4" cy="385.2" r="2.4"/><circle cx="565.0" cy="391.1" r="2.4"/><circle cx="569.9" cy="386.7" r="1.4"/><circle cx="568.9" cy="385.5" r="2.3"/><circle cx="776.9" cy="191.4" r="2.7"/><circle cx="775.0" cy="186.3" r="2.0"/><circle cx="772.0" cy="184.0" r="1.3"/><circle cx="771.6" cy="181.5" r="2.1"/><circle cx="774.6" cy="188.8" r="2.7"/><circle cx="765.8" cy="189.6" r="2.2"/><circle cx="773.7" cy="192.1" r="2.0"/><circle cx="778.8" cy="190.5" r="2.7"/><circle cx="775.7" cy="186.4" r="2.5"/><circle cx="774.6" cy="184.7" r="2.3"/><circle cx="775.3" cy="185.3" r="2.4"/><circle cx="767.8" cy="185.4" r="1.4"/><circle cx="773.8" cy="192.2" r="2.6"/><circle cx="763.8" cy="185.1" r="1.8"/><circle cx="776.0" cy="182.3" r="1.6"/><circle cx="774.2" cy="189.8" r="1.2"/><circle cx="774.2" cy="185.5" r="1.5"/><circle cx="769.9" cy="188.0" r="2.8"/><circle cx="770.9" cy="182.5" r="2.5"/><circle cx="778.1" cy="192.2" r="1.9"/><circle cx="768.7" cy="192.3" r="2.7"/><circle cx="773.7" cy="191.6" r="1.6"/><circle cx="765.1" cy="190.6" r="2.0"/><circle cx="766.6" cy="188.7" r="1.6"/><circle cx="771.6" cy="191.0" r="2.6"/><circle cx="773.9" cy="194.4" r="2.4"/><circle cx="763.4" cy="202.4" r="2.6"/><circle cx="764.4" cy="200.6" r="2.3"/><circle cx="769.0" cy="207.1" r="2.0"/><circle cx="771.0" cy="201.8" r="2.7"/><circle cx="761.1" cy="200.0" r="2.0"/><circle cx="766.3" cy="204.7" r="2.2"/><circle cx="763.4" cy="202.6" r="1.8"/><circle cx="764.2" cy="205.3" r="2.4"/><circle cx="759.6" cy="206.8" r="2.4"/><circle cx="765.9" cy="203.9" r="1.3"/><circle cx="767.0" cy="198.5" r="1.9"/><circle cx="761.7" cy="204.1" r="1.3"/><circle cx="760.5" cy="203.0" r="2.1"/><circle cx="763.0" cy="208.9" r="2.7"/><circle cx="763.9" cy="208.0" r="2.2"/><circle cx="764.6" cy="197.2" r="2.5"/><circle cx="767.9" cy="208.5" r="2.2"/><circle cx="768.0" cy="207.1" r="2.0"/><circle cx="761.0" cy="214.0" r="1.3"/><circle cx="759.7" cy="213.8" r="2.4"/><circle cx="760.7" cy="217.4" r="1.4"/><circle cx="759.7" cy="213.0" r="2.6"/><circle cx="762.3" cy="217.5" r="2.4"/><circle cx="755.8" cy="216.0" r="2.5"/><circle cx="760.7" cy="215.9" r="2.5"/><circle cx="760.8" cy="216.0" r="2.0"/><circle cx="752.7" cy="214.9" r="1.8"/><circle cx="761.4" cy="215.3" r="2.7"/><circle cx="759.5" cy="217.0" r="1.5"/><circle cx="759.9" cy="218.4" r="1.3"/><circle cx="759.1" cy="214.2" r="1.5"/><circle cx="759.9" cy="217.2" r="2.6"/><circle cx="468.1" cy="424.8" r="2.2"/><circle cx="469.5" cy="424.7" r="2.4"/><circle cx="467.9" cy="425.4" r="2.2"/><circle cx="466.0" cy="423.9" r="1.6"/><circle cx="466.2" cy="422.8" r="1.9"/><circle cx="470.7" cy="424.3" r="1.8"/></g></g>
<rect x="99.0" y="59.0" width="716.0" height="460.0" fill="none" stroke="#262626" stroke-width="2.0"/>
<path d="M206.40 519.0v-7.5M206.40 59.0v7.5M333.90 519.0v-7.5M333.90 59.0v7.5M461.40 519.0v-7.5M461.40 59.0v7.5M588.90 519.0v-7.5M588.90 59.0v7.5M716.40 519.0v-7.5M716.40 59.0v7.5" stroke="#262626" stroke-width="2.0" fill="none"/>
<path d="M99.0 186.50h7.5M815.0 186.50h-7.5M99.0 314.00h7.5M815.0 314.00h-7.5M99.0 441.50h7.5M815.0 441.50h-7.5" stroke="#262626" stroke-width="2.0" fill="none"/>
<text x="206.4" y="554.5" font-size="29.5" text-anchor="middle">100°E</text>
<text x="333.9" y="554.5" font-size="29.5" text-anchor="middle">105°E</text>
<text x="461.4" y="554.5" font-size="29.5" text-anchor="middle">110°E</text>
<text x="588.9" y="554.5" font-size="29.5" text-anchor="middle">115°E</text>
<text x="716.4" y="554.5" font-size="29.5" text-anchor="middle">120°E</text>
<defs><linearGradient id="g1" x1="0" y1="1" x2="0" y2="0"><stop offset="0.0000" stop-color="#3e26a8"/><stop offset="0.0312" stop-color="#422ebf"/><stop offset="0.0625" stop-color="#4536d5"/><stop offset="0.0938" stop-color="#4741e5"/><stop offset="0.1250" stop-color="#484cef"/><stop offset="0.1562" stop-color="#4757f7"/><stop offset="0.1875" stop-color="#4562fc"/><stop offset="0.2188" stop-color="#3f6efe"/><stop offset="0.2500" stop-color="#347afd"/><stop offset="0.2812" stop-color="#2e85f8"/><stop offset="0.3125" stop-color="#2c90f0"/><stop offset="0.3438" stop-color="#269ae9"/><stop offset="0.3750" stop-color="#21a3e3"/><stop offset="0.4062" stop-color="#1aacdd"/><stop offset="0.4375" stop-color="#0cb3d3"/><stop offset="0.4688" stop-color="#01b9c6"/><stop offset="0.5000" stop-color="#12beb9"/><stop offset="0.5312" stop-color="#28c2ab"/><stop offset="0.5625" stop-color="#34c79c"/><stop offset="0.5938" stop-color="#44ca8a"/><stop offset="0.6250" stop-color="#5ccc76"/><stop offset="0.6562" stop-color="#77cc60"/><stop offset="0.6875" stop-color="#94ca4a"/><stop offset="0.7188" stop-color="#afc637"/><stop offset="0.7500" stop-color="#c8c129"/><stop offset="0.7812" stop-color="#debc2a"/><stop offset="0.8125" stop-color="#f1ba37"/><stop offset="0.8438" stop-color="#febe3c"/><stop offset="0.8750" stop-color="#feca33"/><stop offset="0.9062" stop-color="#f9d62d"/><stop offset="0.9375" stop-color="#f5e327"/><stop offset="0.9688" stop-color="#f6ef20"/><stop offset="1.0000" stop-color="#f9fb15"/></linearGradient></defs>
<rect x="57.5" y="150.5" width="37.099999999999994" height="368.5" fill="url(#g1)" stroke="#111" stroke-width="2.0"/>
<text x="45.5" y="529.9" font-size="29.5" text-anchor="end">0</text>
<text x="45.5" y="459.20000000000005" font-size="29.5" text-anchor="end">0.1</text>
<text x="45.5" y="388.50000000000006" font-size="29.5" text-anchor="end">0.2</text>
<text x="45.5" y="317.8" font-size="29.5" text-anchor="end">0.3</text>
<text x="45.5" y="247.10000000000002" font-size="29.5" text-anchor="end">0.4</text>
<text x="45.5" y="176.40000000000003" font-size="29.5" text-anchor="end">0.5</text>
<path d="M57.5 447.90h5.5M57.5 377.20h5.5M57.5 306.50h5.5M57.5 235.80h5.5M57.5 165.10h5.5" stroke="#111" stroke-width="2.0" fill="none"/>
<text x="23" y="128.3" font-size="31.5" text-anchor="start">AC1</text>
<text x="6.8" y="32" font-size="32.5" text-anchor="start" font-weight="bold" fill="#000">A</text>
<rect x="896.8" y="59.0" width="230.20000000000005" height="460.0" fill="none" stroke="#262626" stroke-width="2.0"/>
<path d="M896.8 186.50h5.5M1127.0 186.50h-5.5M896.8 314.00h5.5M1127.0 314.00h-5.5M896.8 441.50h5.5M1127.0 441.50h-5.5" stroke="#262626" stroke-width="2.0" fill="none"/>
<path d="M985.80 519.0v-5.5M985.80 59.0v5.5M1074.60 519.0v-5.5M1074.60 59.0v5.5" stroke="#262626" stroke-width="2.0" fill="none"/>
<text x="890.7" y="70.5" font-size="29.5" text-anchor="end">35°N</text>
<text x="890.7" y="198.0" font-size="29.5" text-anchor="end">30°N</text>
<text x="890.7" y="325.5" font-size="29.5" text-anchor="end">25°N</text>
<text x="890.7" y="453.0" font-size="29.5" text-anchor="end">20°N</text>
<text x="897" y="555" font-size="29.5" text-anchor="middle">0</text>
<text x="985.8" y="555" font-size="29.5" text-anchor="middle">0.2</text>
<text x="1074.6" y="555" font-size="29.5" text-anchor="middle">0.4</text>
<text x="1011" y="594" font-size="31.5" text-anchor="middle">AC1</text>
<text x="813.6" y="31.2" font-size="32.5" text-anchor="start" font-weight="bold" fill="#000">B</text>
<path d="M955.2 89.8 L960.2 89.5 L961.9 90.8 L964.2 91.6 L966.0 92.2 L970.2 94.0 L974.1 93.5 L977.3 93.8 L979.9 94.1 L982.3 94.7 L986.7 95.1 L990.1 95.6 L992.3 96.1 L995.2 96.9 L998.6 96.4 L1000.8 96.9 L1005.6 96.9 L1006.8 97.2 L1003.6 98.0 L1000.1 97.9 L998.7 98.7 L995.0 99.1 L989.4 99.6 L989.0 99.7 L991.4 100.1 L995.8 101.9 L998.8 102.7 L998.0 106.3 L994.6 106.5 L992.0 107.4 L989.0 108.0 L987.0 108.5 L982.6 108.9 L978.9 108.5 L976.3 109.2 L972.5 109.3 L969.0 109.2 L966.1 108.9 L963.2 110.1 L957.8 110.2 L956.0 110.4 L958.4 112.0 L960.8 112.8 L965.9 114.5 L963.2 115.7 L957.4 116.0 L956.0 117.0 L953.6 118.5 L952.0 119.9 L947.8 122.0 L947.3 124.5 L946.1 127.7 L943.2 131.0 L947.6 131.8 L949.2 132.1 L952.7 133.5 L957.0 135.4 L958.9 137.2 L961.0 138.4 L961.0 141.7 L959.2 143.5 L956.8 145.8 L953.5 148.3 L953.6 151.7 L955.2 155.7 L956.8 158.1 L956.0 161.5 L958.8 162.6 L962.6 164.0 L963.4 167.3 L966.9 168.3 L970.0 168.9 L965.9 170.0 L964.0 172.7 L961.0 174.0 L963.7 176.6 L965.0 179.0 L961.8 180.4 L959.0 181.8 L955.7 182.8 L953.5 184.0 L954.5 186.7 L955.9 189.8 L956.8 191.4 L960.6 194.4 L960.0 196.2 L964.3 198.8 L962.1 201.8 L961.0 204.5 L956.8 207.4 L956.8 209.5 L960.0 211.2 L960.3 213.6 L963.4 216.0 L965.1 219.1 L966.7 221.8 L966.6 223.7 L963.6 225.7 L961.0 227.6 L962.1 231.2 L960.1 234.2 L963.8 235.2 L964.9 236.6 L967.5 238.3 L969.3 241.9 L968.4 245.0 L969.8 247.3 L972.1 249.6 L973.3 252.3 L973.3 255.6 L975.0 258.5 L975.1 261.2 L970.8 264.0 L969.1 267.3 L968.4 271.5 L966.7 275.4 L967.5 279.0 L967.5 282.3 L965.9 285.5 L967.8 288.0 L969.2 290.4 L967.9 292.6 L966.0 296.0 L965.0 298.7 L967.2 300.2 L970.8 302.0 L968.9 304.4 L968.4 307.0 L972.0 309.3 L974.1 311.8 L974.4 314.6 L975.0 316.8 L977.7 319.0 L977.5 320.4 L981.5 321.7 L980.7 324.2 L980.7 326.7 L984.5 328.7 L987.7 330.0 L989.8 331.6 L990.6 335.7 L994.9 337.7 L996.4 339.8 L993.6 341.3 L990.6 343.1 L989.3 344.3 L985.7 344.8 L984.8 347.0 L982.6 349.5 L980.6 352.5 L978.3 354.9 L980.8 357.2 L984.3 359.9 L987.3 361.5 L984.2 363.3 L981.8 364.0 L979.2 365.4 L977.4 367.2 L976.7 370.3 L975.9 372.8 L976.4 375.4 L974.1 378.0 L972.2 380.8 L970.0 383.7 L969.7 386.7 L970.6 389.5 L973.3 392.0 L976.4 393.6 L979.4 394.2 L982.9 395.5 L985.7 396.9 L988.2 397.9 L990.9 398.9 L993.0 399.9 L996.4 401.0 L997.1 402.7 L1000.5 405.0 L1005.3 405.7 L1006.9 408.1 L1008.5 410.1 L1012.0 411.7 L1009.1 412.2 L1007.1 413.9 L1010.0 414.2 L1013.6 414.2 L1017.2 415.2 L1018.8 415.1 L1023.0 415.5 L1027.8 416.1 L1028.5 416.1 L1032.6 416.7 L1029.5 418.6 L1026.4 418.9 L1023.6 420.0 L1027.1 420.5 L1031.7 420.9 L1032.6 421.6 L1030.2 422.9 L1027.0 423.7 L1025.0 425.4 L1020.3 426.7 L1023.6 427.1 L1026.2 428.4 L1031.0 429.2 L1034.5 429.9 L1036.7 430.7 L1040.0 431.1 L1037.3 432.0 L1034.1 433.5 L1030.4 433.9 L1026.9 435.0 L1030.8 436.7 L1033.3 437.0 L1036.6 438.4 L1040.0 439.0 L1035.3 439.5 L1034.9 439.5 L1032.1 440.4 L1027.2 440.7 L1023.2 440.8 L1023.1 441.1 L1020.0 441.8 L1015.3 442.2 L1012.6 443.3 L1006.1 444.2 L1004.6 445.5 L1002.3 446.5 L998.5 448.4 L997.2 449.7 L999.9 449.4 L1003.2 450.6 L1006.7 451.0 L1011.8 451.0 L1013.7 451.3 L1015.5 452.2 L1019.3 454.2 L1022.3 455.5 L1024.5 456.7 L1027.7 457.9 L1024.5 460.0 L1021.0 461.7 L1019.4 464.5 L1022.3 465.2 L1025.1 466.9 L1029.3 467.8 L1026.0 469.4 L1023.8 468.7 L1020.5 469.7 L1016.0 470.5 L1012.7 469.7 L1011.0 471.1 L1007.1 471.9 L1005.1 472.4 L999.4 474.0 L996.2 474.3 L995.2 475.0 L990.6 475.7 L993.8 476.1 L998.0 476.2 L1001.0 477.1 L1005.9 477.2 L1006.3 478.0 L1010.0 478.2 L1013.7 478.5 L1010.8 479.6 L1007.1 479.9 L1002.4 480.4 L1003.0 481.2 L998.0 481.7 L995.6 482.9 L999.1 483.2 L1000.6 483.7 L1004.9 484.0 L1007.1 484.6 L1011.0 484.2 L1013.2 484.5 L1017.5 484.8 L1020.7 485.3 L1022.7 485.4 L1020.6 486.5 L1016.1 486.4 L1012.9 487.9" fill="none" stroke="#808080" stroke-width="5.2" stroke-linejoin="round" stroke-linecap="butt"/>
<g shape-rendering="crispEdges"><path fill="#1fa6e2" d="M1270.0 378.8h11.2v7.5h-11.2zM1291.8 307.0h11.2v7.5h-11.2zM1302.8 321.3h11.2v7.5h-11.2zM1302.8 285.4h11.2v7.5h-11.2zM1302.8 271.1h11.2v7.5h-11.2zM1313.7 263.9h11.2v7.5h-11.2zM1324.6 263.9h11.2v7.5h-11.2zM1324.6 249.5h11.2v7.5h-11.2zM1324.6 242.4h11.2v7.5h-11.2zM1335.5 271.1h11.2v7.5h-11.2zM1335.5 256.7h11.2v7.5h-11.2zM1335.5 235.2h11.2v7.5h-11.2zM1346.4 263.9h11.2v7.5h-11.2zM1346.4 249.5h11.2v7.5h-11.2zM1346.4 242.4h11.2v7.5h-11.2zM1346.4 199.3h11.2v7.5h-11.2zM1357.3 263.9h11.2v7.5h-11.2zM1357.3 249.5h11.2v7.5h-11.2zM1357.3 213.6h11.2v7.5h-11.2zM1368.2 464.9h11.2v7.5h-11.2zM1401.0 177.7h11.2v7.5h-11.2zM1411.9 436.2h11.2v7.5h-11.2zM1411.9 177.7h11.2v7.5h-11.2zM1422.8 199.3h11.2v7.5h-11.2zM1433.7 421.9h11.2v7.5h-11.2zM1433.7 177.7h11.2v7.5h-11.2zM1444.6 364.4h11.2v7.5h-11.2zM1444.6 184.9h11.2v7.5h-11.2zM1444.6 177.7h11.2v7.5h-11.2zM1444.6 163.4h11.2v7.5h-11.2zM1455.5 184.9h11.2v7.5h-11.2zM1466.4 199.3h11.2v7.5h-11.2zM1466.4 163.4h11.2v7.5h-11.2zM1477.3 321.3h11.2v7.5h-11.2zM1477.3 192.1h11.2v7.5h-11.2zM1477.3 163.4h11.2v7.5h-11.2zM1477.3 156.2h11.2v7.5h-11.2zM1477.3 149.0h11.2v7.5h-11.2zM1477.3 113.1h11.2v7.5h-11.2zM1488.3 156.2h11.2v7.5h-11.2zM1499.2 184.9h11.2v7.5h-11.2zM1499.2 163.4h11.2v7.5h-11.2zM1499.2 156.2h11.2v7.5h-11.2zM1499.2 113.1h11.2v7.5h-11.2zM1510.1 307.0h11.2v7.5h-11.2zM1521.0 177.7h11.2v7.5h-11.2zM1531.9 192.1h11.2v7.5h-11.2zM1531.9 184.9h11.2v7.5h-11.2zM1542.8 285.4h11.2v7.5h-11.2zM1542.8 184.9h11.2v7.5h-11.2zM1542.8 170.6h11.2v7.5h-11.2zM1542.8 113.1h11.2v7.5h-11.2zM1553.7 242.4h11.2v7.5h-11.2zM1553.7 177.7h11.2v7.5h-11.2zM1553.7 170.6h11.2v7.5h-11.2zM1564.6 292.6h11.2v7.5h-11.2zM1564.6 285.4h11.2v7.5h-11.2zM1564.6 184.9h11.2v7.5h-11.2zM1597.4 134.7h11.2v7.5h-11.2z"/><path fill="#20c1b1" d="M1280.9 400.3h11.2v7.5h-11.2zM1291.8 400.3h11.2v7.5h-11.2zM1302.8 407.5h11.2v7.5h-11.2zM1313.7 342.9h11.2v7.5h-11.2zM1368.2 213.6h11.2v7.5h-11.2zM1368.2 199.3h11.2v7.5h-11.2zM1368.2 192.1h11.2v7.5h-11.2zM1368.2 184.9h11.2v7.5h-11.2zM1379.1 199.3h11.2v7.5h-11.2zM1379.1 192.1h11.2v7.5h-11.2zM1390.0 199.3h11.2v7.5h-11.2zM1390.0 192.1h11.2v7.5h-11.2zM1401.0 199.3h11.2v7.5h-11.2zM1401.0 192.1h11.2v7.5h-11.2zM1401.0 184.9h11.2v7.5h-11.2zM1422.8 436.2h11.2v7.5h-11.2zM1466.4 149.0h11.2v7.5h-11.2zM1488.3 127.5h11.2v7.5h-11.2zM1499.2 134.7h11.2v7.5h-11.2zM1499.2 127.5h11.2v7.5h-11.2zM1510.1 134.7h11.2v7.5h-11.2zM1510.1 127.5h11.2v7.5h-11.2zM1521.0 134.7h11.2v7.5h-11.2zM1521.0 127.5h11.2v7.5h-11.2zM1531.9 134.7h11.2v7.5h-11.2zM1531.9 127.5h11.2v7.5h-11.2zM1542.8 134.7h11.2v7.5h-11.2zM1553.7 127.5h11.2v7.5h-11.2z"/><path fill="#39c994" d="M1280.9 371.6h11.2v7.5h-11.2zM1291.8 299.8h11.2v7.5h-11.2zM1324.6 228.0h11.2v7.5h-11.2zM1335.5 199.3h11.2v7.5h-11.2zM1401.0 170.6h11.2v7.5h-11.2zM1488.3 134.7h11.2v7.5h-11.2zM1586.5 134.7h11.2v7.5h-11.2z"/><path fill="#04bbc2" d="M1280.9 263.9h11.2v7.5h-11.2zM1291.8 263.9h11.2v7.5h-11.2zM1313.7 235.2h11.2v7.5h-11.2zM1335.5 378.8h11.2v7.5h-11.2zM1335.5 220.8h11.2v7.5h-11.2zM1368.2 206.5h11.2v7.5h-11.2zM1401.0 206.5h11.2v7.5h-11.2zM1433.7 156.2h11.2v7.5h-11.2zM1444.6 400.3h11.2v7.5h-11.2zM1466.4 120.3h11.2v7.5h-11.2zM1466.4 113.1h11.2v7.5h-11.2zM1477.3 292.6h11.2v7.5h-11.2zM1510.1 113.1h11.2v7.5h-11.2zM1521.0 113.1h11.2v7.5h-11.2zM1531.9 113.1h11.2v7.5h-11.2zM1542.8 127.5h11.2v7.5h-11.2zM1564.6 127.5h11.2v7.5h-11.2zM1575.6 134.7h11.2v7.5h-11.2z"/><path fill="#2d88f6" d="M1291.8 393.1h11.2v7.5h-11.2zM1313.7 357.2h11.2v7.5h-11.2zM1313.7 350.1h11.2v7.5h-11.2zM1324.6 400.3h11.2v7.5h-11.2zM1324.6 371.6h11.2v7.5h-11.2zM1324.6 364.4h11.2v7.5h-11.2zM1335.5 335.7h11.2v7.5h-11.2zM1335.5 321.3h11.2v7.5h-11.2zM1346.4 429.0h11.2v7.5h-11.2zM1346.4 421.9h11.2v7.5h-11.2zM1346.4 407.5h11.2v7.5h-11.2zM1346.4 393.1h11.2v7.5h-11.2zM1346.4 328.5h11.2v7.5h-11.2zM1346.4 321.3h11.2v7.5h-11.2zM1357.3 429.0h11.2v7.5h-11.2zM1357.3 421.9h11.2v7.5h-11.2zM1357.3 407.5h11.2v7.5h-11.2zM1357.3 393.1h11.2v7.5h-11.2zM1357.3 386.0h11.2v7.5h-11.2zM1357.3 342.9h11.2v7.5h-11.2zM1357.3 335.7h11.2v7.5h-11.2zM1357.3 307.0h11.2v7.5h-11.2zM1357.3 285.4h11.2v7.5h-11.2zM1368.2 350.1h11.2v7.5h-11.2zM1368.2 271.1h11.2v7.5h-11.2zM1379.1 400.3h11.2v7.5h-11.2zM1379.1 393.1h11.2v7.5h-11.2zM1379.1 364.4h11.2v7.5h-11.2zM1379.1 342.9h11.2v7.5h-11.2zM1379.1 271.1h11.2v7.5h-11.2zM1379.1 263.9h11.2v7.5h-11.2zM1379.1 235.2h11.2v7.5h-11.2zM1379.1 228.0h11.2v7.5h-11.2zM1390.0 364.4h11.2v7.5h-11.2zM1390.0 228.0h11.2v7.5h-11.2zM1390.0 220.8h11.2v7.5h-11.2zM1401.0 263.9h11.2v7.5h-11.2zM1401.0 228.0h11.2v7.5h-11.2zM1411.9 450.6h11.2v7.5h-11.2zM1411.9 263.9h11.2v7.5h-11.2zM1422.8 256.7h11.2v7.5h-11.2zM1422.8 235.2h11.2v7.5h-11.2zM1433.7 335.7h11.2v7.5h-11.2zM1433.7 256.7h11.2v7.5h-11.2zM1433.7 228.0h11.2v7.5h-11.2zM1444.6 256.7h11.2v7.5h-11.2zM1444.6 242.4h11.2v7.5h-11.2zM1444.6 213.6h11.2v7.5h-11.2zM1444.6 206.5h11.2v7.5h-11.2zM1455.5 393.1h11.2v7.5h-11.2zM1455.5 256.7h11.2v7.5h-11.2zM1455.5 242.4h11.2v7.5h-11.2zM1455.5 228.0h11.2v7.5h-11.2zM1455.5 220.8h11.2v7.5h-11.2zM1466.4 242.4h11.2v7.5h-11.2zM1477.3 364.4h11.2v7.5h-11.2zM1477.3 263.9h11.2v7.5h-11.2zM1477.3 256.7h11.2v7.5h-11.2zM1477.3 242.4h11.2v7.5h-11.2zM1477.3 235.2h11.2v7.5h-11.2zM1488.3 263.9h11.2v7.5h-11.2zM1488.3 228.0h11.2v7.5h-11.2zM1499.2 292.6h11.2v7.5h-11.2zM1499.2 271.1h11.2v7.5h-11.2zM1499.2 213.6h11.2v7.5h-11.2zM1510.1 271.1h11.2v7.5h-11.2zM1510.1 249.5h11.2v7.5h-11.2zM1510.1 220.8h11.2v7.5h-11.2zM1510.1 213.6h11.2v7.5h-11.2zM1521.0 278.3h11.2v7.5h-11.2zM1521.0 249.5h11.2v7.5h-11.2zM1531.9 256.7h11.2v7.5h-11.2zM1531.9 242.4h11.2v7.5h-11.2zM1542.8 299.8h11.2v7.5h-11.2zM1553.7 263.9h11.2v7.5h-11.2z"/><path fill="#2bc3a8" d="M1291.8 357.2h11.2v7.5h-11.2zM1324.6 206.5h11.2v7.5h-11.2zM1335.5 213.6h11.2v7.5h-11.2zM1390.0 213.6h11.2v7.5h-11.2zM1390.0 206.5h11.2v7.5h-11.2zM1390.0 184.9h11.2v7.5h-11.2zM1455.5 113.1h11.2v7.5h-11.2zM1488.3 120.3h11.2v7.5h-11.2zM1510.1 120.3h11.2v7.5h-11.2zM1564.6 134.7h11.2v7.5h-11.2zM1575.6 127.5h11.2v7.5h-11.2z"/><path fill="#a8c73b" d="M1291.8 285.4h11.2v7.5h-11.2zM1302.8 235.2h11.2v7.5h-11.2zM1324.6 199.3h11.2v7.5h-11.2zM1553.7 134.7h11.2v7.5h-11.2z"/><path fill="#2c8ef1" d="M1302.8 350.1h11.2v7.5h-11.2zM1302.8 342.9h11.2v7.5h-11.2zM1313.7 371.6h11.2v7.5h-11.2zM1324.6 393.1h11.2v7.5h-11.2zM1324.6 342.9h11.2v7.5h-11.2zM1324.6 335.7h11.2v7.5h-11.2zM1335.5 400.3h11.2v7.5h-11.2zM1335.5 393.1h11.2v7.5h-11.2zM1335.5 386.0h11.2v7.5h-11.2zM1335.5 307.0h11.2v7.5h-11.2zM1346.4 342.9h11.2v7.5h-11.2zM1346.4 335.7h11.2v7.5h-11.2zM1346.4 285.4h11.2v7.5h-11.2zM1346.4 278.3h11.2v7.5h-11.2zM1357.3 414.7h11.2v7.5h-11.2zM1357.3 278.3h11.2v7.5h-11.2zM1357.3 271.1h11.2v7.5h-11.2zM1357.3 256.7h11.2v7.5h-11.2zM1357.3 235.2h11.2v7.5h-11.2zM1357.3 228.0h11.2v7.5h-11.2zM1368.2 407.5h11.2v7.5h-11.2zM1368.2 400.3h11.2v7.5h-11.2zM1368.2 335.7h11.2v7.5h-11.2zM1368.2 328.5h11.2v7.5h-11.2zM1368.2 307.0h11.2v7.5h-11.2zM1368.2 299.8h11.2v7.5h-11.2zM1368.2 292.6h11.2v7.5h-11.2zM1368.2 278.3h11.2v7.5h-11.2zM1390.0 263.9h11.2v7.5h-11.2zM1390.0 256.7h11.2v7.5h-11.2zM1401.0 249.5h11.2v7.5h-11.2zM1401.0 242.4h11.2v7.5h-11.2zM1401.0 235.2h11.2v7.5h-11.2zM1401.0 220.8h11.2v7.5h-11.2zM1411.9 242.4h11.2v7.5h-11.2zM1411.9 220.8h11.2v7.5h-11.2zM1422.8 357.2h11.2v7.5h-11.2zM1422.8 220.8h11.2v7.5h-11.2zM1422.8 213.6h11.2v7.5h-11.2zM1433.7 328.5h11.2v7.5h-11.2zM1433.7 249.5h11.2v7.5h-11.2zM1433.7 192.1h11.2v7.5h-11.2zM1444.6 235.2h11.2v7.5h-11.2zM1444.6 220.8h11.2v7.5h-11.2zM1455.5 249.5h11.2v7.5h-11.2zM1455.5 235.2h11.2v7.5h-11.2zM1455.5 213.6h11.2v7.5h-11.2zM1466.4 256.7h11.2v7.5h-11.2zM1466.4 235.2h11.2v7.5h-11.2zM1466.4 220.8h11.2v7.5h-11.2zM1477.3 220.8h11.2v7.5h-11.2zM1477.3 213.6h11.2v7.5h-11.2zM1488.3 235.2h11.2v7.5h-11.2zM1488.3 213.6h11.2v7.5h-11.2zM1499.2 263.9h11.2v7.5h-11.2zM1499.2 256.7h11.2v7.5h-11.2zM1510.1 285.4h11.2v7.5h-11.2zM1510.1 242.4h11.2v7.5h-11.2zM1510.1 235.2h11.2v7.5h-11.2zM1510.1 228.0h11.2v7.5h-11.2zM1510.1 199.3h11.2v7.5h-11.2zM1521.0 235.2h11.2v7.5h-11.2zM1521.0 228.0h11.2v7.5h-11.2zM1521.0 220.8h11.2v7.5h-11.2zM1521.0 213.6h11.2v7.5h-11.2zM1531.9 249.5h11.2v7.5h-11.2zM1531.9 206.5h11.2v7.5h-11.2zM1542.8 242.4h11.2v7.5h-11.2zM1542.8 235.2h11.2v7.5h-11.2z"/><path fill="#2994ed" d="M1302.8 335.7h11.2v7.5h-11.2zM1302.8 328.5h11.2v7.5h-11.2zM1313.7 393.1h11.2v7.5h-11.2zM1313.7 335.7h11.2v7.5h-11.2zM1313.7 307.0h11.2v7.5h-11.2zM1324.6 386.0h11.2v7.5h-11.2zM1324.6 328.5h11.2v7.5h-11.2zM1324.6 321.3h11.2v7.5h-11.2zM1324.6 314.2h11.2v7.5h-11.2zM1324.6 285.4h11.2v7.5h-11.2zM1324.6 271.1h11.2v7.5h-11.2zM1335.5 292.6h11.2v7.5h-11.2zM1335.5 285.4h11.2v7.5h-11.2zM1335.5 278.3h11.2v7.5h-11.2zM1346.4 307.0h11.2v7.5h-11.2zM1346.4 299.8h11.2v7.5h-11.2zM1346.4 292.6h11.2v7.5h-11.2zM1357.3 292.6h11.2v7.5h-11.2zM1368.2 393.1h11.2v7.5h-11.2zM1368.2 386.0h11.2v7.5h-11.2zM1368.2 342.9h11.2v7.5h-11.2zM1368.2 256.7h11.2v7.5h-11.2zM1368.2 242.4h11.2v7.5h-11.2zM1368.2 235.2h11.2v7.5h-11.2zM1368.2 220.8h11.2v7.5h-11.2zM1379.1 220.8h11.2v7.5h-11.2zM1390.0 242.4h11.2v7.5h-11.2zM1390.0 235.2h11.2v7.5h-11.2zM1401.0 213.6h11.2v7.5h-11.2zM1433.7 414.7h11.2v7.5h-11.2zM1433.7 235.2h11.2v7.5h-11.2zM1433.7 213.6h11.2v7.5h-11.2zM1433.7 206.5h11.2v7.5h-11.2zM1433.7 199.3h11.2v7.5h-11.2zM1444.6 414.7h11.2v7.5h-11.2zM1444.6 228.0h11.2v7.5h-11.2zM1455.5 206.5h11.2v7.5h-11.2zM1466.4 206.5h11.2v7.5h-11.2zM1477.3 206.5h11.2v7.5h-11.2zM1477.3 199.3h11.2v7.5h-11.2zM1488.3 249.5h11.2v7.5h-11.2zM1488.3 242.4h11.2v7.5h-11.2zM1488.3 220.8h11.2v7.5h-11.2zM1488.3 149.0h11.2v7.5h-11.2zM1499.2 278.3h11.2v7.5h-11.2zM1499.2 249.5h11.2v7.5h-11.2zM1499.2 235.2h11.2v7.5h-11.2zM1499.2 199.3h11.2v7.5h-11.2zM1521.0 256.7h11.2v7.5h-11.2zM1521.0 199.3h11.2v7.5h-11.2zM1531.9 235.2h11.2v7.5h-11.2zM1531.9 220.8h11.2v7.5h-11.2zM1531.9 213.6h11.2v7.5h-11.2zM1553.7 199.3h11.2v7.5h-11.2zM1553.7 120.3h11.2v7.5h-11.2zM1564.6 199.3h11.2v7.5h-11.2zM1564.6 120.3h11.2v7.5h-11.2zM1575.6 120.3h11.2v7.5h-11.2zM1575.6 113.1h11.2v7.5h-11.2zM1586.5 120.3h11.2v7.5h-11.2zM1586.5 113.1h11.2v7.5h-11.2zM1597.4 120.3h11.2v7.5h-11.2zM1597.4 113.1h11.2v7.5h-11.2z"/><path fill="#269ae8" d="M1302.8 314.2h11.2v7.5h-11.2zM1313.7 386.0h11.2v7.5h-11.2zM1313.7 378.8h11.2v7.5h-11.2zM1313.7 328.5h11.2v7.5h-11.2zM1313.7 321.3h11.2v7.5h-11.2zM1313.7 314.2h11.2v7.5h-11.2zM1313.7 285.4h11.2v7.5h-11.2zM1313.7 278.3h11.2v7.5h-11.2zM1324.6 378.8h11.2v7.5h-11.2zM1324.6 307.0h11.2v7.5h-11.2zM1324.6 299.8h11.2v7.5h-11.2zM1335.5 299.8h11.2v7.5h-11.2zM1335.5 263.9h11.2v7.5h-11.2zM1346.4 271.1h11.2v7.5h-11.2zM1346.4 228.0h11.2v7.5h-11.2zM1357.3 299.8h11.2v7.5h-11.2zM1357.3 220.8h11.2v7.5h-11.2zM1368.2 263.9h11.2v7.5h-11.2zM1379.1 386.0h11.2v7.5h-11.2zM1379.1 242.4h11.2v7.5h-11.2zM1411.9 213.6h11.2v7.5h-11.2zM1411.9 206.5h11.2v7.5h-11.2zM1422.8 192.1h11.2v7.5h-11.2zM1422.8 177.7h11.2v7.5h-11.2zM1433.7 242.4h11.2v7.5h-11.2zM1433.7 184.9h11.2v7.5h-11.2zM1444.6 249.5h11.2v7.5h-11.2zM1455.5 199.3h11.2v7.5h-11.2zM1466.4 400.3h11.2v7.5h-11.2zM1466.4 393.1h11.2v7.5h-11.2zM1466.4 213.6h11.2v7.5h-11.2zM1488.3 199.3h11.2v7.5h-11.2zM1499.2 228.0h11.2v7.5h-11.2zM1499.2 192.1h11.2v7.5h-11.2zM1499.2 170.6h11.2v7.5h-11.2zM1499.2 141.8h11.2v7.5h-11.2zM1510.1 192.1h11.2v7.5h-11.2zM1510.1 177.7h11.2v7.5h-11.2zM1521.0 242.4h11.2v7.5h-11.2zM1521.0 192.1h11.2v7.5h-11.2zM1531.9 228.0h11.2v7.5h-11.2zM1531.9 199.3h11.2v7.5h-11.2zM1531.9 170.6h11.2v7.5h-11.2zM1542.8 228.0h11.2v7.5h-11.2zM1542.8 220.8h11.2v7.5h-11.2zM1542.8 213.6h11.2v7.5h-11.2zM1542.8 206.5h11.2v7.5h-11.2zM1542.8 192.1h11.2v7.5h-11.2zM1542.8 120.3h11.2v7.5h-11.2zM1553.7 192.1h11.2v7.5h-11.2zM1553.7 184.9h11.2v7.5h-11.2zM1564.6 192.1h11.2v7.5h-11.2zM1575.6 199.3h11.2v7.5h-11.2zM1575.6 192.1h11.2v7.5h-11.2zM1586.5 127.5h11.2v7.5h-11.2zM1597.4 127.5h11.2v7.5h-11.2z"/><path fill="#23a0e5" d="M1302.8 307.0h11.2v7.5h-11.2zM1302.8 292.6h11.2v7.5h-11.2zM1302.8 278.3h11.2v7.5h-11.2zM1313.7 299.8h11.2v7.5h-11.2zM1313.7 292.6h11.2v7.5h-11.2zM1324.6 292.6h11.2v7.5h-11.2zM1324.6 278.3h11.2v7.5h-11.2zM1335.5 249.5h11.2v7.5h-11.2zM1357.3 242.4h11.2v7.5h-11.2zM1368.2 249.5h11.2v7.5h-11.2zM1379.1 256.7h11.2v7.5h-11.2zM1379.1 249.5h11.2v7.5h-11.2zM1390.0 249.5h11.2v7.5h-11.2zM1411.9 192.1h11.2v7.5h-11.2zM1411.9 184.9h11.2v7.5h-11.2zM1422.8 206.5h11.2v7.5h-11.2zM1422.8 184.9h11.2v7.5h-11.2zM1433.7 364.4h11.2v7.5h-11.2zM1433.7 170.6h11.2v7.5h-11.2zM1444.6 199.3h11.2v7.5h-11.2zM1444.6 192.1h11.2v7.5h-11.2zM1455.5 192.1h11.2v7.5h-11.2zM1488.3 192.1h11.2v7.5h-11.2zM1488.3 184.9h11.2v7.5h-11.2zM1488.3 163.4h11.2v7.5h-11.2zM1499.2 242.4h11.2v7.5h-11.2zM1531.9 177.7h11.2v7.5h-11.2zM1542.8 199.3h11.2v7.5h-11.2zM1564.6 299.8h11.2v7.5h-11.2zM1564.6 278.3h11.2v7.5h-11.2zM1575.6 184.9h11.2v7.5h-11.2z"/><path fill="#1babde" d="M1302.8 299.8h11.2v7.5h-11.2zM1335.5 242.4h11.2v7.5h-11.2zM1335.5 228.0h11.2v7.5h-11.2zM1346.4 256.7h11.2v7.5h-11.2zM1346.4 235.2h11.2v7.5h-11.2zM1411.9 199.3h11.2v7.5h-11.2zM1422.8 170.6h11.2v7.5h-11.2zM1444.6 170.6h11.2v7.5h-11.2zM1455.5 170.6h11.2v7.5h-11.2zM1466.4 192.1h11.2v7.5h-11.2zM1466.4 184.9h11.2v7.5h-11.2zM1466.4 170.6h11.2v7.5h-11.2zM1466.4 156.2h11.2v7.5h-11.2zM1477.3 177.7h11.2v7.5h-11.2zM1477.3 170.6h11.2v7.5h-11.2zM1488.3 177.7h11.2v7.5h-11.2zM1488.3 170.6h11.2v7.5h-11.2zM1499.2 177.7h11.2v7.5h-11.2zM1510.1 170.6h11.2v7.5h-11.2zM1510.1 149.0h11.2v7.5h-11.2zM1521.0 184.9h11.2v7.5h-11.2zM1521.0 170.6h11.2v7.5h-11.2zM1521.0 163.4h11.2v7.5h-11.2zM1531.9 163.4h11.2v7.5h-11.2zM1531.9 156.2h11.2v7.5h-11.2zM1542.8 163.4h11.2v7.5h-11.2zM1553.7 156.2h11.2v7.5h-11.2zM1564.6 177.7h11.2v7.5h-11.2zM1586.5 141.8h11.2v7.5h-11.2z"/><path fill="#f8ba3d" d="M1302.8 263.9h11.2v7.5h-11.2zM1313.7 199.3h11.2v7.5h-11.2zM1313.7 192.1h11.2v7.5h-11.2zM1390.0 177.7h11.2v7.5h-11.2zM1455.5 120.3h11.2v7.5h-11.2zM1477.3 141.8h11.2v7.5h-11.2z"/><path fill="#63cd70" d="M1302.8 256.7h11.2v7.5h-11.2zM1313.7 228.0h11.2v7.5h-11.2zM1335.5 192.1h11.2v7.5h-11.2zM1357.3 199.3h11.2v7.5h-11.2zM1390.0 170.6h11.2v7.5h-11.2zM1466.4 127.5h11.2v7.5h-11.2zM1499.2 120.3h11.2v7.5h-11.2z"/><path fill="#86cb55" d="M1302.8 249.5h11.2v7.5h-11.2zM1313.7 220.8h11.2v7.5h-11.2zM1324.6 213.6h11.2v7.5h-11.2zM1444.6 134.7h11.2v7.5h-11.2z"/><path fill="#97ca48" d="M1302.8 242.4h11.2v7.5h-11.2zM1313.7 213.6h11.2v7.5h-11.2zM1379.1 184.9h11.2v7.5h-11.2zM1455.5 127.5h11.2v7.5h-11.2z"/><path fill="#eeba34" d="M1302.8 228.0h11.2v7.5h-11.2zM1302.8 220.8h11.2v7.5h-11.2zM1477.3 120.3h11.2v7.5h-11.2z"/><path fill="#b8c431" d="M1302.8 213.6h11.2v7.5h-11.2zM1302.8 206.5h11.2v7.5h-11.2zM1324.6 184.9h11.2v7.5h-11.2zM1521.0 120.3h11.2v7.5h-11.2z"/><path fill="#2f81fa" d="M1313.7 364.4h11.2v7.5h-11.2zM1324.6 414.7h11.2v7.5h-11.2zM1324.6 357.2h11.2v7.5h-11.2zM1324.6 350.1h11.2v7.5h-11.2zM1335.5 421.9h11.2v7.5h-11.2zM1335.5 407.5h11.2v7.5h-11.2zM1335.5 342.9h11.2v7.5h-11.2zM1335.5 328.5h11.2v7.5h-11.2zM1335.5 314.2h11.2v7.5h-11.2zM1346.4 414.7h11.2v7.5h-11.2zM1346.4 386.0h11.2v7.5h-11.2zM1346.4 350.1h11.2v7.5h-11.2zM1357.3 450.6h11.2v7.5h-11.2zM1357.3 328.5h11.2v7.5h-11.2zM1357.3 314.2h11.2v7.5h-11.2zM1368.2 321.3h11.2v7.5h-11.2zM1368.2 314.2h11.2v7.5h-11.2zM1368.2 285.4h11.2v7.5h-11.2zM1368.2 228.0h11.2v7.5h-11.2zM1379.1 421.9h11.2v7.5h-11.2zM1379.1 407.5h11.2v7.5h-11.2zM1379.1 371.6h11.2v7.5h-11.2zM1379.1 335.7h11.2v7.5h-11.2zM1379.1 292.6h11.2v7.5h-11.2zM1390.0 421.9h11.2v7.5h-11.2zM1390.0 393.1h11.2v7.5h-11.2zM1390.0 386.0h11.2v7.5h-11.2zM1390.0 378.8h11.2v7.5h-11.2zM1390.0 371.6h11.2v7.5h-11.2zM1390.0 357.2h11.2v7.5h-11.2zM1390.0 314.2h11.2v7.5h-11.2zM1390.0 307.0h11.2v7.5h-11.2zM1390.0 299.8h11.2v7.5h-11.2zM1401.0 421.9h11.2v7.5h-11.2zM1401.0 292.6h11.2v7.5h-11.2zM1401.0 256.7h11.2v7.5h-11.2zM1411.9 378.8h11.2v7.5h-11.2zM1411.9 371.6h11.2v7.5h-11.2zM1411.9 364.4h11.2v7.5h-11.2zM1411.9 357.2h11.2v7.5h-11.2zM1411.9 256.7h11.2v7.5h-11.2zM1411.9 249.5h11.2v7.5h-11.2zM1422.8 278.3h11.2v7.5h-11.2zM1422.8 249.5h11.2v7.5h-11.2zM1422.8 242.4h11.2v7.5h-11.2zM1433.7 350.1h11.2v7.5h-11.2zM1433.7 285.4h11.2v7.5h-11.2zM1433.7 271.1h11.2v7.5h-11.2zM1433.7 263.9h11.2v7.5h-11.2zM1433.7 220.8h11.2v7.5h-11.2zM1444.6 342.9h11.2v7.5h-11.2zM1455.5 263.9h11.2v7.5h-11.2zM1466.4 357.2h11.2v7.5h-11.2zM1466.4 249.5h11.2v7.5h-11.2zM1466.4 228.0h11.2v7.5h-11.2zM1477.3 278.3h11.2v7.5h-11.2zM1477.3 228.0h11.2v7.5h-11.2zM1488.3 299.8h11.2v7.5h-11.2zM1488.3 278.3h11.2v7.5h-11.2zM1488.3 271.1h11.2v7.5h-11.2zM1488.3 256.7h11.2v7.5h-11.2zM1488.3 206.5h11.2v7.5h-11.2zM1499.2 299.8h11.2v7.5h-11.2zM1499.2 285.4h11.2v7.5h-11.2zM1499.2 220.8h11.2v7.5h-11.2zM1499.2 206.5h11.2v7.5h-11.2zM1510.1 292.6h11.2v7.5h-11.2zM1510.1 278.3h11.2v7.5h-11.2zM1510.1 206.5h11.2v7.5h-11.2zM1521.0 321.3h11.2v7.5h-11.2zM1521.0 314.2h11.2v7.5h-11.2zM1521.0 285.4h11.2v7.5h-11.2zM1521.0 271.1h11.2v7.5h-11.2zM1521.0 263.9h11.2v7.5h-11.2zM1521.0 206.5h11.2v7.5h-11.2zM1531.9 342.9h11.2v7.5h-11.2zM1531.9 335.7h11.2v7.5h-11.2zM1531.9 271.1h11.2v7.5h-11.2zM1531.9 263.9h11.2v7.5h-11.2zM1542.8 271.1h11.2v7.5h-11.2zM1542.8 249.5h11.2v7.5h-11.2zM1553.7 271.1h11.2v7.5h-11.2zM1553.7 249.5h11.2v7.5h-11.2zM1608.3 141.8h11.2v7.5h-11.2z"/><path fill="#09b4d1" d="M1313.7 271.1h11.2v7.5h-11.2zM1346.4 220.8h11.2v7.5h-11.2zM1357.3 184.9h11.2v7.5h-11.2zM1411.9 170.6h11.2v7.5h-11.2zM1444.6 156.2h11.2v7.5h-11.2zM1455.5 156.2h11.2v7.5h-11.2zM1499.2 149.0h11.2v7.5h-11.2zM1510.1 163.4h11.2v7.5h-11.2zM1542.8 141.8h11.2v7.5h-11.2zM1553.7 141.8h11.2v7.5h-11.2zM1564.6 170.6h11.2v7.5h-11.2zM1564.6 141.8h11.2v7.5h-11.2zM1575.6 170.6h11.2v7.5h-11.2zM1575.6 141.8h11.2v7.5h-11.2zM1597.4 141.8h11.2v7.5h-11.2z"/><path fill="#14b0d8" d="M1313.7 256.7h11.2v7.5h-11.2zM1313.7 249.5h11.2v7.5h-11.2zM1313.7 242.4h11.2v7.5h-11.2zM1324.6 256.7h11.2v7.5h-11.2zM1357.3 378.8h11.2v7.5h-11.2zM1368.2 378.8h11.2v7.5h-11.2zM1379.1 213.6h11.2v7.5h-11.2zM1379.1 206.5h11.2v7.5h-11.2zM1411.9 156.2h11.2v7.5h-11.2zM1433.7 393.1h11.2v7.5h-11.2zM1433.7 163.4h11.2v7.5h-11.2zM1455.5 177.7h11.2v7.5h-11.2zM1455.5 163.4h11.2v7.5h-11.2zM1466.4 177.7h11.2v7.5h-11.2zM1477.3 184.9h11.2v7.5h-11.2zM1477.3 134.7h11.2v7.5h-11.2zM1477.3 127.5h11.2v7.5h-11.2zM1510.1 184.9h11.2v7.5h-11.2zM1510.1 156.2h11.2v7.5h-11.2zM1510.1 141.8h11.2v7.5h-11.2zM1521.0 156.2h11.2v7.5h-11.2zM1521.0 141.8h11.2v7.5h-11.2zM1531.9 149.0h11.2v7.5h-11.2zM1531.9 120.3h11.2v7.5h-11.2zM1542.8 177.7h11.2v7.5h-11.2zM1553.7 163.4h11.2v7.5h-11.2zM1564.6 163.4h11.2v7.5h-11.2zM1564.6 156.2h11.2v7.5h-11.2zM1575.6 177.7h11.2v7.5h-11.2zM1575.6 156.2h11.2v7.5h-11.2zM1575.6 149.0h11.2v7.5h-11.2zM1586.5 149.0h11.2v7.5h-11.2z"/><path fill="#d6be28" d="M1313.7 206.5h11.2v7.5h-11.2zM1335.5 206.5h11.2v7.5h-11.2zM1379.1 177.7h11.2v7.5h-11.2zM1433.7 113.1h11.2v7.5h-11.2z"/><path fill="#4564fd" d="M1324.6 407.5h11.2v7.5h-11.2zM1346.4 450.6h11.2v7.5h-11.2zM1346.4 371.6h11.2v7.5h-11.2zM1368.2 457.8h11.2v7.5h-11.2zM1368.2 421.9h11.2v7.5h-11.2zM1390.0 321.3h11.2v7.5h-11.2zM1401.0 393.1h11.2v7.5h-11.2zM1401.0 328.5h11.2v7.5h-11.2zM1444.6 328.5h11.2v7.5h-11.2zM1444.6 321.3h11.2v7.5h-11.2zM1444.6 314.2h11.2v7.5h-11.2zM1455.5 328.5h11.2v7.5h-11.2zM1466.4 350.1h11.2v7.5h-11.2zM1466.4 285.4h11.2v7.5h-11.2zM1477.3 314.2h11.2v7.5h-11.2zM1477.3 307.0h11.2v7.5h-11.2zM1531.9 364.4h11.2v7.5h-11.2zM1542.8 314.2h11.2v7.5h-11.2zM1542.8 278.3h11.2v7.5h-11.2zM1564.6 213.6h11.2v7.5h-11.2zM1575.6 220.8h11.2v7.5h-11.2zM1575.6 213.6h11.2v7.5h-11.2z"/><path fill="#45cb89" d="M1324.6 235.2h11.2v7.5h-11.2zM1357.3 206.5h11.2v7.5h-11.2zM1488.3 141.8h11.2v7.5h-11.2z"/><path fill="#74cd62" d="M1324.6 220.8h11.2v7.5h-11.2z"/><path fill="#347afd" d="M1335.5 414.7h11.2v7.5h-11.2zM1335.5 350.1h11.2v7.5h-11.2zM1346.4 400.3h11.2v7.5h-11.2zM1346.4 378.8h11.2v7.5h-11.2zM1357.3 400.3h11.2v7.5h-11.2zM1357.3 371.6h11.2v7.5h-11.2zM1357.3 350.1h11.2v7.5h-11.2zM1368.2 414.7h11.2v7.5h-11.2zM1368.2 371.6h11.2v7.5h-11.2zM1368.2 357.2h11.2v7.5h-11.2zM1379.1 450.6h11.2v7.5h-11.2zM1379.1 378.8h11.2v7.5h-11.2zM1379.1 357.2h11.2v7.5h-11.2zM1379.1 350.1h11.2v7.5h-11.2zM1379.1 328.5h11.2v7.5h-11.2zM1379.1 321.3h11.2v7.5h-11.2zM1379.1 314.2h11.2v7.5h-11.2zM1379.1 307.0h11.2v7.5h-11.2zM1379.1 278.3h11.2v7.5h-11.2zM1390.0 407.5h11.2v7.5h-11.2zM1390.0 400.3h11.2v7.5h-11.2zM1390.0 350.1h11.2v7.5h-11.2zM1390.0 342.9h11.2v7.5h-11.2zM1390.0 335.7h11.2v7.5h-11.2zM1390.0 292.6h11.2v7.5h-11.2zM1390.0 285.4h11.2v7.5h-11.2zM1390.0 278.3h11.2v7.5h-11.2zM1390.0 271.1h11.2v7.5h-11.2zM1401.0 429.0h11.2v7.5h-11.2zM1401.0 364.4h11.2v7.5h-11.2zM1401.0 314.2h11.2v7.5h-11.2zM1401.0 278.3h11.2v7.5h-11.2zM1401.0 271.1h11.2v7.5h-11.2zM1411.9 421.9h11.2v7.5h-11.2zM1411.9 328.5h11.2v7.5h-11.2zM1411.9 321.3h11.2v7.5h-11.2zM1411.9 314.2h11.2v7.5h-11.2zM1411.9 307.0h11.2v7.5h-11.2zM1411.9 299.8h11.2v7.5h-11.2zM1411.9 292.6h11.2v7.5h-11.2zM1411.9 285.4h11.2v7.5h-11.2zM1411.9 271.1h11.2v7.5h-11.2zM1411.9 235.2h11.2v7.5h-11.2zM1422.8 393.1h11.2v7.5h-11.2zM1422.8 386.0h11.2v7.5h-11.2zM1422.8 371.6h11.2v7.5h-11.2zM1422.8 364.4h11.2v7.5h-11.2zM1422.8 350.1h11.2v7.5h-11.2zM1422.8 342.9h11.2v7.5h-11.2zM1422.8 335.7h11.2v7.5h-11.2zM1422.8 328.5h11.2v7.5h-11.2zM1422.8 314.2h11.2v7.5h-11.2zM1422.8 228.0h11.2v7.5h-11.2zM1433.7 342.9h11.2v7.5h-11.2zM1433.7 292.6h11.2v7.5h-11.2zM1433.7 278.3h11.2v7.5h-11.2zM1444.6 335.7h11.2v7.5h-11.2zM1444.6 278.3h11.2v7.5h-11.2zM1444.6 271.1h11.2v7.5h-11.2zM1444.6 263.9h11.2v7.5h-11.2zM1466.4 328.5h11.2v7.5h-11.2zM1466.4 278.3h11.2v7.5h-11.2zM1466.4 263.9h11.2v7.5h-11.2zM1477.3 285.4h11.2v7.5h-11.2zM1477.3 271.1h11.2v7.5h-11.2zM1477.3 249.5h11.2v7.5h-11.2zM1488.3 292.6h11.2v7.5h-11.2zM1488.3 285.4h11.2v7.5h-11.2zM1510.1 256.7h11.2v7.5h-11.2zM1521.0 307.0h11.2v7.5h-11.2zM1531.9 321.3h11.2v7.5h-11.2zM1542.8 357.2h11.2v7.5h-11.2zM1542.8 350.1h11.2v7.5h-11.2zM1542.8 263.9h11.2v7.5h-11.2zM1542.8 256.7h11.2v7.5h-11.2zM1553.7 256.7h11.2v7.5h-11.2zM1597.4 149.0h11.2v7.5h-11.2z"/><path fill="#416bfe" d="M1335.5 371.6h11.2v7.5h-11.2zM1346.4 364.4h11.2v7.5h-11.2zM1346.4 357.2h11.2v7.5h-11.2zM1357.3 443.4h11.2v7.5h-11.2zM1390.0 414.7h11.2v7.5h-11.2zM1390.0 328.5h11.2v7.5h-11.2zM1401.0 407.5h11.2v7.5h-11.2zM1411.9 414.7h11.2v7.5h-11.2zM1411.9 386.0h11.2v7.5h-11.2zM1411.9 350.1h11.2v7.5h-11.2zM1411.9 342.9h11.2v7.5h-11.2zM1422.8 407.5h11.2v7.5h-11.2zM1422.8 378.8h11.2v7.5h-11.2zM1422.8 307.0h11.2v7.5h-11.2zM1433.7 314.2h11.2v7.5h-11.2zM1433.7 307.0h11.2v7.5h-11.2zM1433.7 299.8h11.2v7.5h-11.2zM1444.6 299.8h11.2v7.5h-11.2zM1455.5 321.3h11.2v7.5h-11.2zM1455.5 299.8h11.2v7.5h-11.2zM1455.5 292.6h11.2v7.5h-11.2zM1466.4 321.3h11.2v7.5h-11.2zM1466.4 314.2h11.2v7.5h-11.2zM1510.1 299.8h11.2v7.5h-11.2zM1521.0 299.8h11.2v7.5h-11.2zM1531.9 328.5h11.2v7.5h-11.2z"/><path fill="#3b72fe" d="M1335.5 364.4h11.2v7.5h-11.2zM1335.5 357.2h11.2v7.5h-11.2zM1346.4 436.2h11.2v7.5h-11.2zM1346.4 314.2h11.2v7.5h-11.2zM1357.3 364.4h11.2v7.5h-11.2zM1357.3 357.2h11.2v7.5h-11.2zM1357.3 321.3h11.2v7.5h-11.2zM1368.2 436.2h11.2v7.5h-11.2zM1368.2 429.0h11.2v7.5h-11.2zM1368.2 364.4h11.2v7.5h-11.2zM1379.1 436.2h11.2v7.5h-11.2zM1379.1 414.7h11.2v7.5h-11.2zM1379.1 299.8h11.2v7.5h-11.2zM1379.1 285.4h11.2v7.5h-11.2zM1390.0 443.4h11.2v7.5h-11.2zM1401.0 443.4h11.2v7.5h-11.2zM1401.0 436.2h11.2v7.5h-11.2zM1401.0 414.7h11.2v7.5h-11.2zM1401.0 386.0h11.2v7.5h-11.2zM1401.0 378.8h11.2v7.5h-11.2zM1401.0 371.6h11.2v7.5h-11.2zM1401.0 357.2h11.2v7.5h-11.2zM1401.0 350.1h11.2v7.5h-11.2zM1401.0 342.9h11.2v7.5h-11.2zM1401.0 335.7h11.2v7.5h-11.2zM1401.0 321.3h11.2v7.5h-11.2zM1401.0 307.0h11.2v7.5h-11.2zM1401.0 299.8h11.2v7.5h-11.2zM1401.0 285.4h11.2v7.5h-11.2zM1411.9 407.5h11.2v7.5h-11.2zM1411.9 400.3h11.2v7.5h-11.2zM1411.9 393.1h11.2v7.5h-11.2zM1411.9 335.7h11.2v7.5h-11.2zM1411.9 278.3h11.2v7.5h-11.2zM1411.9 228.0h11.2v7.5h-11.2zM1422.8 400.3h11.2v7.5h-11.2zM1422.8 321.3h11.2v7.5h-11.2zM1422.8 299.8h11.2v7.5h-11.2zM1422.8 292.6h11.2v7.5h-11.2zM1422.8 285.4h11.2v7.5h-11.2zM1422.8 271.1h11.2v7.5h-11.2zM1422.8 263.9h11.2v7.5h-11.2zM1433.7 357.2h11.2v7.5h-11.2zM1433.7 321.3h11.2v7.5h-11.2zM1444.6 292.6h11.2v7.5h-11.2zM1444.6 285.4h11.2v7.5h-11.2zM1455.5 285.4h11.2v7.5h-11.2zM1455.5 278.3h11.2v7.5h-11.2zM1455.5 271.1h11.2v7.5h-11.2zM1466.4 307.0h11.2v7.5h-11.2zM1466.4 299.8h11.2v7.5h-11.2zM1466.4 292.6h11.2v7.5h-11.2zM1466.4 271.1h11.2v7.5h-11.2zM1510.1 321.3h11.2v7.5h-11.2zM1510.1 263.9h11.2v7.5h-11.2zM1521.0 292.6h11.2v7.5h-11.2zM1531.9 314.2h11.2v7.5h-11.2zM1531.9 307.0h11.2v7.5h-11.2zM1531.9 299.8h11.2v7.5h-11.2zM1531.9 292.6h11.2v7.5h-11.2zM1531.9 285.4h11.2v7.5h-11.2zM1531.9 278.3h11.2v7.5h-11.2zM1553.7 278.3h11.2v7.5h-11.2zM1597.4 192.1h11.2v7.5h-11.2zM1597.4 156.2h11.2v7.5h-11.2zM1608.3 149.0h11.2v7.5h-11.2z"/><path fill="#01b8ca" d="M1346.4 213.6h11.2v7.5h-11.2zM1346.4 206.5h11.2v7.5h-11.2zM1401.0 163.4h11.2v7.5h-11.2zM1411.9 429.0h11.2v7.5h-11.2zM1411.9 163.4h11.2v7.5h-11.2zM1422.8 163.4h11.2v7.5h-11.2zM1422.8 156.2h11.2v7.5h-11.2zM1422.8 149.0h11.2v7.5h-11.2zM1433.7 386.0h11.2v7.5h-11.2zM1455.5 134.7h11.2v7.5h-11.2zM1466.4 386.0h11.2v7.5h-11.2zM1521.0 149.0h11.2v7.5h-11.2zM1531.9 141.8h11.2v7.5h-11.2zM1542.8 156.2h11.2v7.5h-11.2zM1542.8 149.0h11.2v7.5h-11.2zM1553.7 149.0h11.2v7.5h-11.2zM1564.6 149.0h11.2v7.5h-11.2zM1575.6 163.4h11.2v7.5h-11.2z"/><path fill="#484ff2" d="M1379.1 464.9h11.2v7.5h-11.2zM1553.7 206.5h11.2v7.5h-11.2z"/><path fill="#465dfa" d="M1401.0 400.3h11.2v7.5h-11.2zM1422.8 414.7h11.2v7.5h-11.2zM1444.6 393.1h11.2v7.5h-11.2zM1444.6 307.0h11.2v7.5h-11.2zM1455.5 314.2h11.2v7.5h-11.2zM1455.5 307.0h11.2v7.5h-11.2z"/><path fill="#4756f7" d="M1433.7 371.6h11.2v7.5h-11.2zM1553.7 213.6h11.2v7.5h-11.2zM1586.5 163.4h11.2v7.5h-11.2z"/><path fill="#f5ec22" d="M1444.6 120.3h11.2v7.5h-11.2z"/><path fill="#fec636" d="M1444.6 113.1h11.2v7.5h-11.2z"/><path fill="#11beb9" d="M1466.4 141.8h11.2v7.5h-11.2z"/></g>
<rect x="1210.0" y="59.0" width="458.5999999999999" height="460.0" fill="none" stroke="#262626" stroke-width="2.0"/>
<path d="M1362.77 519.0v-5.5M1362.77 59.0v5.5M1515.53 519.0v-5.5M1515.53 59.0v5.5" stroke="#262626" stroke-width="2.0" fill="none"/>
<path d="M1210.0 490.25h5.5M1668.6 490.25h-5.5M1210.0 346.50h5.5M1668.6 346.50h-5.5M1210.0 202.75h5.5M1668.6 202.75h-5.5" stroke="#262626" stroke-width="2.0" fill="none"/>
<text x="1210.0" y="555" font-size="29.5" text-anchor="middle">400</text>
<text x="1362.7666666666667" y="555" font-size="29.5" text-anchor="middle">1100</text>
<text x="1515.5333333333333" y="555" font-size="29.5" text-anchor="middle">1800</text>
<text x="1668.3" y="555" font-size="29.5" text-anchor="middle">2500</text>
<text x="1202.8" y="501.45" font-size="29.5" text-anchor="end">0</text>
<text x="1202.8" y="357.7" font-size="29.5" text-anchor="end">10</text>
<text x="1202.8" y="213.95" font-size="29.5" text-anchor="end">20</text>
<text x="1202.8" y="70.2" font-size="29.5" text-anchor="end">30</text>
<text x="1195.5" y="594" font-size="30.5" text-anchor="start" textLength="488" lengthAdjust="spacing">Average annual precipitation [mm]</text>
<text transform="translate(1160.4 522) rotate(-90)" font-size="30.5" textLength="465" lengthAdjust="spacing">Average annual temperature [<tspan font-family="'Noto Serif CJK SC', 'Liberation Serif', serif">℃</tspan>]</text>
<text x="1131" y="31.3" font-size="32.5" text-anchor="start" font-weight="bold" fill="#000">C</text>
<defs><linearGradient id="g2" x1="0" y1="1" x2="0" y2="0"><stop offset="0.0000" stop-color="#3e26a8"/><stop offset="0.0312" stop-color="#422ebf"/><stop offset="0.0625" stop-color="#4536d5"/><stop offset="0.0938" stop-color="#4741e5"/><stop offset="0.1250" stop-color="#484cef"/><stop offset="0.1562" stop-color="#4757f7"/><stop offset="0.1875" stop-color="#4562fc"/><stop offset="0.2188" stop-color="#3f6efe"/><stop offset="0.2500" stop-color="#347afd"/><stop offset="0.2812" stop-color="#2e85f8"/><stop offset="0.3125" stop-color="#2c90f0"/><stop offset="0.3438" stop-color="#269ae9"/><stop offset="0.3750" stop-color="#21a3e3"/><stop offset="0.4062" stop-color="#1aacdd"/><stop offset="0.4375" stop-color="#0cb3d3"/><stop offset="0.4688" stop-color="#01b9c6"/><stop offset="0.5000" stop-color="#12beb9"/><stop offset="0.5312" stop-color="#28c2ab"/><stop offset="0.5625" stop-color="#34c79c"/><stop offset="0.5938" stop-color="#44ca8a"/><stop offset="0.6250" stop-color="#5ccc76"/><stop offset="0.6562" stop-color="#77cc60"/><stop offset="0.6875" stop-color="#94ca4a"/><stop offset="0.7188" stop-color="#afc637"/><stop offset="0.7500" stop-color="#c8c129"/><stop offset="0.7812" stop-color="#debc2a"/><stop offset="0.8125" stop-color="#f1ba37"/><stop offset="0.8438" stop-color="#febe3c"/><stop offset="0.8750" stop-color="#feca33"/><stop offset="0.9062" stop-color="#f9d62d"/><stop offset="0.9375" stop-color="#f5e327"/><stop offset="0.9688" stop-color="#f6ef20"/><stop offset="1.0000" stop-color="#f9fb15"/></linearGradient></defs>
<rect x="1677.6" y="150.5" width="37.40000000000009" height="368.5" fill="url(#g2)" stroke="#111" stroke-width="2.0"/>
<text x="1727.5" y="529.9" font-size="29.5" text-anchor="start">0</text>
<text x="1727.5" y="459.20000000000005" font-size="29.5" text-anchor="start">0.1</text>
<text x="1727.5" y="388.50000000000006" font-size="29.5" text-anchor="start">0.2</text>
<text x="1727.5" y="317.8" font-size="29.5" text-anchor="start">0.3</text>
<text x="1727.5" y="247.10000000000002" font-size="29.5" text-anchor="start">0.4</text>
<text x="1727.5" y="176.40000000000003" font-size="29.5" text-anchor="start">0.5</text>
<path d="M1715.0 447.90h-5.5M1715.0 377.20h-5.5M1715.0 306.50h-5.5M1715.0 235.80h-5.5M1715.0 165.10h-5.5" stroke="#111" stroke-width="2.0" fill="none"/>
<text x="1679.3" y="128.3" font-size="31.5" text-anchor="start">AC1</text>
</svg>
</body></html>
